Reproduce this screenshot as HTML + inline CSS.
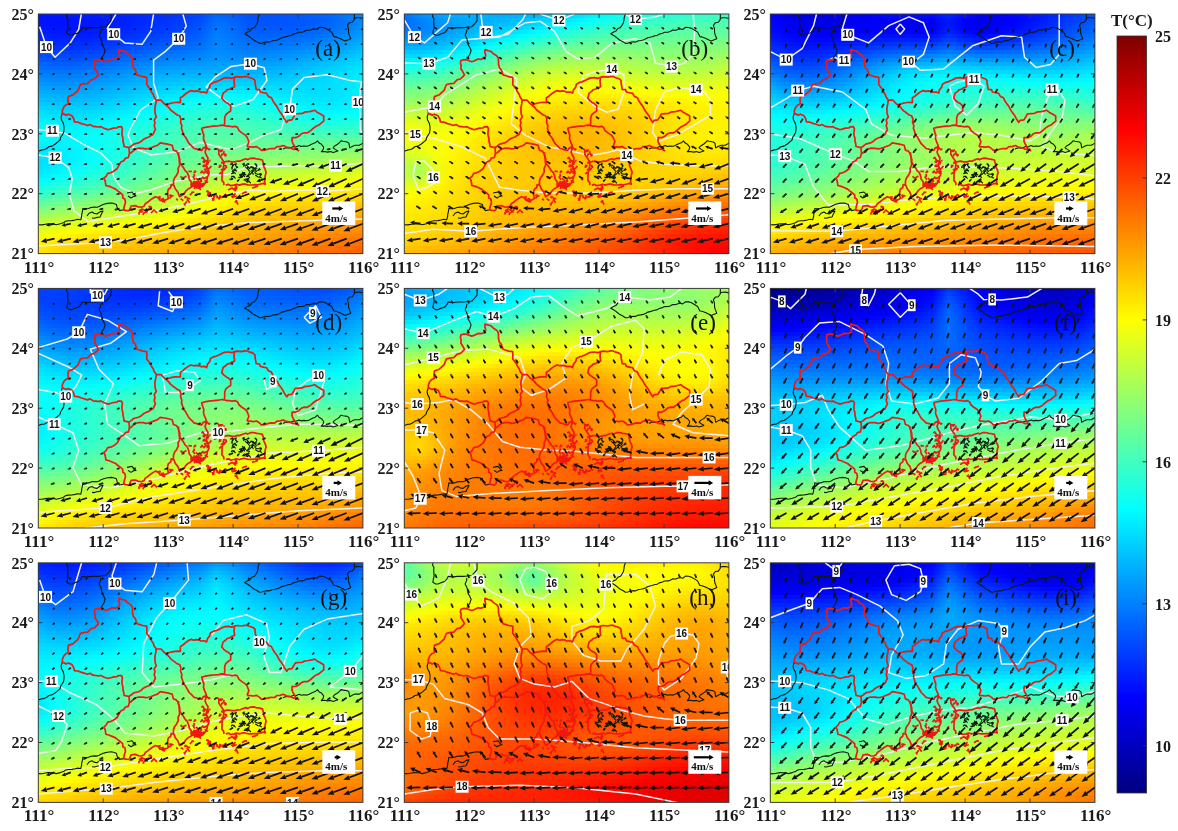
<!DOCTYPE html><html><head><meta charset="utf-8"><style>
html,body{margin:0;padding:0;background:#fff;}
body{width:1178px;height:831px;position:relative;overflow:hidden;filter:blur(0.4px);font-family:"Liberation Serif",serif;}
.p{position:absolute;width:324.6px;height:239.6px;overflow:hidden;}
.p i{position:absolute;left:0;width:100%;display:block;}
.t{position:absolute;font-weight:bold;font-size:16px;line-height:16px;color:#1a1a1a;white-space:nowrap;}
svg{position:absolute;left:0;top:0;}

</style></head><body>
<div class="p" style="left:38.3px;top:14.0px">
<i style="top:0px;height:5px;background:linear-gradient(90deg,#0013ff,#0014ff,#0017ff,#001aff,#001dff,#0021ff,#0026ff,#002cff,#0033ff,#003bff,#004aff,#0067ff,#005fff,#0052ff,#0052ff,#0054ff,#0058ff,#005dff,#0067ff,#0076ff,#008cff)"></i>
<i style="top:4px;height:5px;background:linear-gradient(90deg,#0013ff,#0012ff,#0013ff,#0016ff,#001aff,#001fff,#0025ff,#002cff,#0034ff,#003dff,#004dff,#006dff,#0063ff,#0054ff,#0053ff,#0054ff,#0056ff,#005bff,#0065ff,#0075ff,#008dff)"></i>
<i style="top:8px;height:5px;background:linear-gradient(90deg,#0015ff,#0012ff,#0012ff,#0015ff,#0019ff,#001fff,#0026ff,#002eff,#0037ff,#0040ff,#0051ff,#0072ff,#0067ff,#0057ff,#0055ff,#0055ff,#0057ff,#005dff,#0067ff,#0077ff,#0090ff)"></i>
<i style="top:12px;height:5px;background:linear-gradient(90deg,#0019ff,#0014ff,#0014ff,#0016ff,#001aff,#0021ff,#0029ff,#0032ff,#003bff,#0044ff,#0056ff,#0077ff,#006bff,#005aff,#0059ff,#0059ff,#005bff,#0060ff,#006aff,#007bff,#0094ff)"></i>
<i style="top:16px;height:5px;background:linear-gradient(90deg,#001eff,#0018ff,#0017ff,#0019ff,#001eff,#0025ff,#002eff,#0037ff,#0041ff,#004aff,#005bff,#007cff,#0070ff,#005eff,#005dff,#005eff,#0060ff,#0066ff,#0071ff,#0082ff,#009aff)"></i>
<i style="top:20px;height:5px;background:linear-gradient(90deg,#0024ff,#001dff,#001cff,#001eff,#0023ff,#002bff,#0035ff,#003eff,#0048ff,#0051ff,#0061ff,#0080ff,#0074ff,#0064ff,#0063ff,#0064ff,#0067ff,#006eff,#0079ff,#008aff,#00a2ff)"></i>
<i style="top:24px;height:5px;background:linear-gradient(90deg,#002bff,#0024ff,#0022ff,#0025ff,#002bff,#0033ff,#003dff,#0047ff,#0050ff,#0058ff,#0067ff,#0083ff,#0078ff,#0069ff,#0069ff,#006cff,#0070ff,#0077ff,#0082ff,#0093ff,#00aaff)"></i>
<i style="top:28px;height:5px;background:linear-gradient(90deg,#0033ff,#002bff,#002aff,#002dff,#0033ff,#003cff,#0046ff,#0050ff,#0059ff,#0061ff,#006dff,#0086ff,#007cff,#0070ff,#0071ff,#0074ff,#0079ff,#0081ff,#008dff,#009dff,#00b3ff)"></i>
<i style="top:32px;height:5px;background:linear-gradient(90deg,#003cff,#0034ff,#0033ff,#0036ff,#003dff,#0046ff,#0050ff,#005bff,#0063ff,#006aff,#0074ff,#008aff,#0081ff,#0077ff,#0079ff,#007dff,#0084ff,#008cff,#0098ff,#00a8ff,#00bcff)"></i>
<i style="top:36px;height:5px;background:linear-gradient(90deg,#0046ff,#003eff,#003cff,#0040ff,#0047ff,#0051ff,#005bff,#0066ff,#006eff,#0074ff,#007cff,#008dff,#0087ff,#007fff,#0082ff,#0087ff,#008eff,#0098ff,#00a4ff,#00b3ff,#00c5ff)"></i>
<i style="top:40px;height:5px;background:linear-gradient(90deg,#0050ff,#0048ff,#0047ff,#004bff,#0052ff,#005cff,#0067ff,#0071ff,#0079ff,#007eff,#0085ff,#0092ff,#008dff,#0087ff,#008bff,#0091ff,#0099ff,#00a3ff,#00afff,#00bdff,#00ceff)"></i>
<i style="top:44px;height:5px;background:linear-gradient(90deg,#005aff,#0053ff,#0052ff,#0056ff,#005eff,#0068ff,#0073ff,#007dff,#0084ff,#0089ff,#008eff,#0098ff,#0094ff,#0091ff,#0095ff,#009cff,#00a4ff,#00afff,#00baff,#00c8ff,#00d6ff)"></i>
<i style="top:48px;height:5px;background:linear-gradient(90deg,#0065ff,#005eff,#005dff,#0062ff,#006aff,#0074ff,#007fff,#0089ff,#0090ff,#0094ff,#0097ff,#009fff,#009cff,#009aff,#009fff,#00a6ff,#00afff,#00b9ff,#00c4ff,#00d1ff,#00deff)"></i>
<i style="top:52px;height:5px;background:linear-gradient(90deg,#0070ff,#0069ff,#0068ff,#006dff,#0075ff,#0080ff,#008aff,#0094ff,#009bff,#009fff,#00a2ff,#00a7ff,#00a5ff,#00a5ff,#00aaff,#00b0ff,#00b9ff,#00c3ff,#00cdff,#00d9ff,#00e5ff)"></i>
<i style="top:56px;height:5px;background:linear-gradient(90deg,#007aff,#0074ff,#0074ff,#0078ff,#0081ff,#008bff,#0096ff,#00a0ff,#00a7ff,#00abff,#00adff,#00b0ff,#00afff,#00b0ff,#00b4ff,#00baff,#00c2ff,#00cbff,#00d4ff,#00dfff,#00eaff)"></i>
<i style="top:60px;height:5px;background:linear-gradient(90deg,#0085ff,#007fff,#007eff,#0083ff,#008bff,#0096ff,#00a0ff,#00aaff,#00b2ff,#00b6ff,#00b8ff,#00bbff,#00bbff,#00bbff,#00beff,#00c3ff,#00c9ff,#00d1ff,#00d9ff,#00e3ff,#00eeff)"></i>
<i style="top:64px;height:5px;background:linear-gradient(90deg,#008fff,#0089ff,#0089ff,#008dff,#0096ff,#00a0ff,#00abff,#00b5ff,#00bdff,#00c2ff,#00c4ff,#00c7ff,#00c7ff,#00c7ff,#00c9ff,#00ccff,#00d0ff,#00d5ff,#00dcff,#00e5ff,#00f0ff)"></i>
<i style="top:68px;height:5px;background:linear-gradient(90deg,#009aff,#0093ff,#0093ff,#0097ff,#009fff,#00a9ff,#00b4ff,#00beff,#00c7ff,#00cdff,#00d1ff,#00d3ff,#00d3ff,#00d3ff,#00d3ff,#00d4ff,#00d6ff,#00d9ff,#00deff,#00e6ff,#00f1ff)"></i>
<i style="top:72px;height:5px;background:linear-gradient(90deg,#00a4ff,#009dff,#009dff,#00a1ff,#00a8ff,#00b2ff,#00bdff,#00c8ff,#00d1ff,#00d8ff,#00ddff,#00e0ff,#00e1ff,#00dfff,#00ddff,#00dcff,#00dbff,#00dcff,#00dfff,#00e6ff,#00f2ff)"></i>
<i style="top:76px;height:5px;background:linear-gradient(90deg,#00aeff,#00a7ff,#00a6ff,#00aaff,#00b1ff,#00bbff,#00c6ff,#00d1ff,#00dbff,#00e4ff,#00eaff,#00edff,#00eeff,#00ebff,#00e8ff,#00e3ff,#00e0ff,#00deff,#00e0ff,#00e6ff,#00f2ff)"></i>
<i style="top:80px;height:5px;background:linear-gradient(90deg,#00b8ff,#00b1ff,#00b0ff,#00b3ff,#00baff,#00c4ff,#00cfff,#00daff,#00e5ff,#00efff,#00f6ff,#00faff,#00faff,#00f7ff,#00f2ff,#00ebff,#00e5ff,#00e2ff,#00e2ff,#00e7ff,#00f3ff)"></i>
<i style="top:84px;height:5px;background:linear-gradient(90deg,#00c2ff,#00bbff,#00b9ff,#00bcff,#00c3ff,#00cdff,#00d8ff,#00e4ff,#00efff,#00f9ff,#02fffd,#07fff8,#08fff7,#04fffb,#00fcff,#00f3ff,#00ebff,#00e6ff,#00e4ff,#00e9ff,#00f5ff)"></i>
<i style="top:88px;height:5px;background:linear-gradient(90deg,#00ccff,#00c5ff,#00c3ff,#00c6ff,#00ccff,#00d6ff,#00e1ff,#00edff,#00f9ff,#05fffa,#0efff1,#13ffec,#14ffeb,#0ffff0,#07fff8,#00fcff,#00f3ff,#00ebff,#00e9ff,#00edff,#00f9ff)"></i>
<i style="top:92px;height:5px;background:linear-gradient(90deg,#00d7ff,#00cfff,#00cdff,#00cfff,#00d6ff,#00dfff,#00eaff,#00f7ff,#04fffb,#0ffff0,#18ffe7,#1effe1,#1effe1,#1affe5,#11ffee,#06fff9,#00fbff,#00f3ff,#00efff,#00f2ff,#00feff)"></i>
<i style="top:96px;height:5px;background:linear-gradient(90deg,#00e1ff,#00d8ff,#00d6ff,#00d8ff,#00dfff,#00e8ff,#00f4ff,#01fffe,#0efff1,#19ffe6,#22ffdd,#28ffd7,#28ffd7,#24ffdb,#1bffe4,#10ffef,#06fff9,#00fcff,#00f8ff,#00faff,#06fff9)"></i>
<i style="top:100px;height:5px;background:linear-gradient(90deg,#00eaff,#00e1ff,#00dfff,#00e1ff,#00e8ff,#00f2ff,#00fdff,#0bfff4,#17ffe8,#22ffdd,#2bffd4,#31ffce,#31ffce,#2dffd2,#25ffda,#1affe5,#10ffef,#08fff7,#04fffb,#05fffa,#0ffff0)"></i>
<i style="top:104px;height:5px;background:linear-gradient(90deg,#00f2ff,#00e9ff,#00e7ff,#00e9ff,#00f0ff,#00faff,#07fff8,#14ffeb,#20ffdf,#2bffd4,#34ffcb,#39ffc6,#3affc5,#36ffc9,#2effd1,#25ffda,#1cffe3,#14ffeb,#10ffef,#11ffee,#19ffe6)"></i>
<i style="top:108px;height:5px;background:linear-gradient(90deg,#00f9ff,#00f0ff,#00eeff,#00f1ff,#00f8ff,#03fffc,#0ffff0,#1cffe3,#29ffd6,#33ffcc,#3cffc3,#41ffbe,#42ffbd,#3effc1,#38ffc7,#30ffcf,#28ffd7,#21ffde,#1dffe2,#1effe1,#25ffda)"></i>
<i style="top:112px;height:5px;background:linear-gradient(90deg,#00fdff,#00f5ff,#00f3ff,#00f7ff,#00feff,#0afff5,#17ffe8,#24ffdb,#30ffcf,#3bffc4,#43ffbc,#48ffb7,#49ffb6,#47ffb8,#41ffbe,#3bffc4,#34ffcb,#2effd1,#2bffd4,#2cffd3,#32ffcd)"></i>
<i style="top:116px;height:5px;background:linear-gradient(90deg,#00ffff,#00f7ff,#00f7ff,#00fbff,#05fffa,#10ffef,#1dffe2,#2affd5,#37ffc8,#41ffbe,#49ffb6,#4effb1,#50ffaf,#4fffb0,#4bffb4,#46ffb9,#40ffbf,#3cffc3,#3affc5,#3bffc4,#40ffbf)"></i>
<i style="top:120px;height:5px;background:linear-gradient(90deg,#00feff,#00f8ff,#00f8ff,#00feff,#08fff7,#14ffeb,#22ffdd,#30ffcf,#3cffc3,#47ffb8,#4fffb0,#54ffab,#56ffa9,#56ffa9,#54ffab,#51ffae,#4dffb2,#4affb5,#49ffb6,#4affb5,#4effb1)"></i>
<i style="top:124px;height:5px;background:linear-gradient(90deg,#00fbff,#00f6ff,#00f8ff,#00ffff,#0afff5,#17ffe8,#25ffda,#34ffcb,#41ffbe,#4bffb4,#54ffab,#59ffa6,#5dffa2,#5effa1,#5dffa2,#5bffa4,#59ffa6,#58ffa7,#58ffa7,#5affa5,#5effa1)"></i>
<i style="top:128px;height:5px;background:linear-gradient(90deg,#00f5ff,#00f3ff,#00f6ff,#00feff,#0bfff4,#19ffe6,#28ffd7,#37ffc8,#45ffba,#50ffaf,#58ffa7,#5fffa0,#63ff9c,#65ff9a,#66ff99,#66ff99,#66ff99,#66ff99,#67ff98,#6aff95,#6eff91)"></i>
<i style="top:132px;height:5px;background:linear-gradient(90deg,#00efff,#00efff,#00f4ff,#00feff,#0cfff3,#1bffe4,#2affd5,#3affc5,#48ffb7,#54ffab,#5dffa2,#65ff9a,#6aff95,#6dff92,#70ff8f,#71ff8e,#72ff8d,#74ff8b,#76ff89,#7aff85,#7fff80)"></i>
<i style="top:136px;height:5px;background:linear-gradient(90deg,#00e9ff,#00ebff,#00f2ff,#00fdff,#0cfff3,#1cffe3,#2dffd2,#3dffc2,#4cffb3,#58ffa7,#62ff9d,#6bff94,#71ff8e,#76ff89,#7aff85,#7cff83,#7fff80,#82ff7d,#85ff7a,#8aff75,#90ff6f)"></i>
<i style="top:140px;height:5px;background:linear-gradient(90deg,#00e4ff,#00e8ff,#00f1ff,#00feff,#0dfff2,#1effe1,#2fffd0,#40ffbf,#4fffb0,#5dffa2,#68ff97,#72ff8d,#79ff86,#7fff80,#84ff7b,#88ff77,#8cff73,#90ff6f,#94ff6b,#9aff65,#a0ff5f)"></i>
<i style="top:144px;height:5px;background:linear-gradient(90deg,#00e0ff,#00e7ff,#00f1ff,#00ffff,#10ffef,#21ffde,#32ffcd,#44ffbb,#54ffab,#62ff9d,#6fff90,#7aff85,#82ff7d,#8aff75,#8fff70,#94ff6b,#99ff66,#9eff61,#a3ff5c,#a9ff56,#b1ff4e)"></i>
<i style="top:148px;height:5px;background:linear-gradient(90deg,#00dfff,#00e8ff,#00f4ff,#03fffc,#13ffec,#25ffda,#37ffc8,#49ffb6,#5affa5,#69ff96,#77ff88,#83ff7c,#8dff72,#95ff6a,#9cff63,#a1ff5e,#a7ff58,#acff53,#b1ff4e,#b8ff47,#c0ff3f)"></i>
<i style="top:152px;height:5px;background:linear-gradient(90deg,#00e1ff,#00ecff,#00f9ff,#09fff6,#19ffe6,#2bffd4,#3dffc2,#4fffb0,#61ff9e,#71ff8e,#80ff7f,#8eff71,#99ff66,#a2ff5d,#a9ff56,#afff50,#b4ff4b,#baff45,#c0ff3f,#c6ff39,#cfff30)"></i>
<i style="top:156px;height:5px;background:linear-gradient(90deg,#00e6ff,#00f2ff,#01fffe,#10ffef,#21ffde,#32ffcd,#44ffbb,#57ffa8,#69ff96,#7aff85,#8bff74,#9aff65,#a6ff59,#b0ff4f,#b7ff48,#bdff42,#c3ff3c,#c8ff37,#cdff32,#d4ff2b,#ddff22)"></i>
<i style="top:160px;height:5px;background:linear-gradient(90deg,#00eeff,#00fbff,#0afff5,#1affe5,#2affd5,#3bffc4,#4dffb2,#5fffa0,#72ff8d,#85ff7a,#96ff69,#a7ff58,#b4ff4b,#beff41,#c6ff39,#ccff33,#d1ff2e,#d5ff2a,#dbff24,#e2ff1d,#ebff14)"></i>
<i style="top:164px;height:5px;background:linear-gradient(90deg,#00f9ff,#08fff7,#16ffe9,#25ffda,#35ffca,#46ffb9,#57ffa8,#6aff95,#7cff83,#90ff6f,#a3ff5c,#b4ff4b,#c3ff3c,#cdff32,#d5ff2a,#dbff24,#dfff20,#e3ff1c,#e8ff17,#eeff11,#f7ff08)"></i>
<i style="top:168px;height:5px;background:linear-gradient(90deg,#06fff9,#15ffea,#24ffdb,#32ffcd,#42ffbd,#52ffad,#63ff9c,#75ff8a,#88ff77,#9cff63,#b0ff4f,#c2ff3d,#d1ff2e,#dcff23,#e4ff1b,#e9ff16,#edff12,#f0ff0f,#f4ff0b,#fbff04,#fffa00)"></i>
<i style="top:172px;height:5px;background:linear-gradient(90deg,#15ffea,#24ffdb,#33ffcc,#41ffbe,#50ffaf,#5fffa0,#6fff90,#81ff7e,#94ff6b,#a8ff57,#bdff42,#d0ff2f,#dfff20,#eaff15,#f2ff0d,#f7ff08,#faff05,#fdff02,#fffd00,#fff800,#ffef00)"></i>
<i style="top:176px;height:5px;background:linear-gradient(90deg,#25ffda,#35ffca,#43ffbc,#51ffae,#5fffa0,#6eff91,#7dff82,#8eff71,#a0ff5f,#b5ff4a,#c9ff36,#ddff22,#edff12,#f8ff07,#ffff00,#fffa00,#fff700,#fff500,#fff200,#ffec00,#ffe400)"></i>
<i style="top:180px;height:5px;background:linear-gradient(90deg,#37ffc8,#47ffb8,#55ffaa,#62ff9d,#70ff8f,#7dff82,#8cff73,#9bff64,#adff52,#c1ff3e,#d6ff29,#e9ff16,#f9ff06,#fffa00,#fff200,#ffee00,#ffec00,#ffe900,#ffe600,#ffe100,#ffd900)"></i>
<i style="top:184px;height:5px;background:linear-gradient(90deg,#4affb5,#59ffa6,#67ff98,#74ff8b,#81ff7e,#8eff71,#9bff64,#aaff55,#bbff44,#ceff31,#e2ff1d,#f5ff0a,#fff900,#ffee00,#ffe700,#ffe300,#ffe100,#ffde00,#ffdc00,#ffd700,#ffcf00)"></i>
<i style="top:188px;height:5px;background:linear-gradient(90deg,#5dffa2,#6dff92,#7bff84,#87ff78,#93ff6c,#9fff60,#abff54,#b9ff46,#c9ff36,#dbff24,#eeff11,#fffe00,#ffef00,#ffe400,#ffdd00,#ffd900,#ffd600,#ffd400,#ffd100,#ffcd00,#ffc500)"></i>
<i style="top:192px;height:5px;background:linear-gradient(90deg,#72ff8d,#81ff7e,#8eff71,#9aff65,#a5ff5a,#b0ff4f,#bbff44,#c8ff37,#d7ff28,#e8ff17,#f9ff06,#fff400,#ffe500,#ffdb00,#ffd400,#ffd000,#ffcd00,#ffca00,#ffc700,#ffc300,#ffbc00)"></i>
<i style="top:196px;height:5px;background:linear-gradient(90deg,#86ff79,#95ff6a,#a2ff5d,#aeff51,#b8ff47,#c2ff3d,#ccff33,#d7ff28,#e5ff1a,#f4ff0b,#fffa00,#ffea00,#ffdc00,#ffd300,#ffcc00,#ffc700,#ffc400,#ffc100,#ffbe00,#ffb900,#ffb200)"></i>
<i style="top:200px;height:5px;background:linear-gradient(90deg,#9aff65,#a9ff56,#b6ff49,#c1ff3e,#caff35,#d3ff2c,#dcff23,#e7ff18,#f2ff0d,#fffe00,#ffef00,#ffe100,#ffd400,#ffcb00,#ffc400,#ffbf00,#ffbb00,#ffb800,#ffb400,#ffb000,#ffaa00)"></i>
<i style="top:204px;height:5px;background:linear-gradient(90deg,#aeff51,#bdff42,#c9ff36,#d3ff2c,#dcff23,#e4ff1b,#ecff13,#f5ff0a,#fffe00,#fff200,#ffe500,#ffd800,#ffcc00,#ffc300,#ffbd00,#ffb700,#ffb300,#ffaf00,#ffab00,#ffa700,#ffa100)"></i>
<i style="top:208px;height:5px;background:linear-gradient(90deg,#c1ff3e,#d0ff2f,#dbff24,#e5ff1a,#edff12,#f5ff0a,#fcff03,#fffa00,#fff100,#ffe600,#ffdb00,#ffcf00,#ffc500,#ffbc00,#ffb600,#ffb000,#ffab00,#ffa700,#ffa300,#ff9e00,#ff9800)"></i>
<i style="top:212px;height:5px;background:linear-gradient(90deg,#d3ff2c,#e1ff1e,#edff12,#f6ff09,#feff01,#fffa00,#fff300,#ffec00,#ffe500,#ffdb00,#ffd100,#ffc700,#ffbe00,#ffb600,#ffaf00,#ffa900,#ffa400,#ff9f00,#ff9a00,#ff9500,#ff9000)"></i>
<i style="top:216px;height:5px;background:linear-gradient(90deg,#e3ff1c,#f2ff0d,#fdff02,#fff800,#fff100,#ffeb00,#ffe500,#ffe000,#ffd900,#ffd100,#ffc800,#ffbf00,#ffb700,#ffaf00,#ffa800,#ffa200,#ff9c00,#ff9700,#ff9200,#ff8d00,#ff8700)"></i>
<i style="top:220px;height:5px;background:linear-gradient(90deg,#f2ff0d,#fffe00,#fff300,#ffea00,#ffe300,#ffde00,#ffd900,#ffd400,#ffce00,#ffc700,#ffbf00,#ffb700,#ffaf00,#ffa800,#ffa100,#ff9b00,#ff9500,#ff8f00,#ff8a00,#ff8400,#ff7f00)"></i>
<i style="top:224px;height:5px;background:linear-gradient(90deg,#ffff00,#fff100,#ffe600,#ffde00,#ffd700,#ffd200,#ffce00,#ffc900,#ffc400,#ffbe00,#ffb700,#ffb000,#ffa800,#ffa100,#ff9a00,#ff9400,#ff8e00,#ff8800,#ff8200,#ff7c00,#ff7700)"></i>
<i style="top:228px;height:5px;background:linear-gradient(90deg,#fff400,#ffe600,#ffdc00,#ffd400,#ffcd00,#ffc900,#ffc400,#ffc000,#ffbc00,#ffb600,#ffaf00,#ffa800,#ffa100,#ff9a00,#ff9300,#ff8c00,#ff8600,#ff8000,#ff7a00,#ff7400,#ff6e00)"></i>
<i style="top:232px;height:5px;background:linear-gradient(90deg,#ffec00,#ffde00,#ffd400,#ffcc00,#ffc600,#ffc100,#ffbd00,#ffb900,#ffb400,#ffae00,#ffa700,#ffa000,#ff9800,#ff9100,#ff8b00,#ff8400,#ff7e00,#ff7800,#ff7200,#ff6c00,#ff6600)"></i>
<i style="top:236px;height:5px;background:linear-gradient(90deg,#ffe700,#ffd900,#ffce00,#ffc600,#ffc100,#ffbc00,#ffb800,#ffb300,#ffae00,#ffa700,#ffa000,#ff9800,#ff9000,#ff8900,#ff8200,#ff7c00,#ff7600,#ff7000,#ff6a00,#ff6400,#ff5d00)"></i>
</div>
<div class="p" style="left:404.3px;top:14.0px">
<i style="top:0px;height:5px;background:linear-gradient(90deg,#006fff,#008cff,#009fff,#00aaff,#00aeff,#00b0ff,#00b0ff,#00b2ff,#00b8ff,#00c5ff,#00d6ff,#00e8ff,#00f9ff,#09fff6,#15ffea,#1fffe0,#27ffd8,#2effd1,#34ffcb,#3bffc4,#42ffbd)"></i>
<i style="top:4px;height:5px;background:linear-gradient(90deg,#006aff,#0083ff,#0095ff,#00a1ff,#00aaff,#00afff,#00b5ff,#00bcff,#00c6ff,#00d4ff,#00e5ff,#00f7ff,#09fff6,#17ffe8,#23ffdc,#2cffd3,#33ffcc,#39ffc6,#3fffc0,#43ffbc,#48ffb7)"></i>
<i style="top:8px;height:5px;background:linear-gradient(90deg,#006aff,#007fff,#0090ff,#009eff,#00a9ff,#00b3ff,#00bdff,#00c8ff,#00d5ff,#00e5ff,#00f6ff,#08fff7,#18ffe7,#26ffd9,#30ffcf,#39ffc6,#3fffc0,#44ffbb,#49ffb6,#4cffb3,#50ffaf)"></i>
<i style="top:12px;height:5px;background:linear-gradient(90deg,#006eff,#0080ff,#0090ff,#009fff,#00adff,#00baff,#00c8ff,#00d6ff,#00e6ff,#00f6ff,#08fff7,#19ffe6,#28ffd7,#34ffcb,#3dffc2,#45ffba,#4affb5,#4fffb0,#52ffad,#55ffaa,#58ffa7)"></i>
<i style="top:16px;height:5px;background:linear-gradient(90deg,#0076ff,#0085ff,#0094ff,#00a3ff,#00b3ff,#00c4ff,#00d5ff,#00e6ff,#00f7ff,#0afff5,#1bffe4,#2affd5,#37ffc8,#42ffbd,#4affb5,#50ffaf,#55ffaa,#59ffa6,#5cffa3,#5effa1,#61ff9e)"></i>
<i style="top:20px;height:5px;background:linear-gradient(90deg,#0081ff,#008dff,#009bff,#00abff,#00bdff,#00d1ff,#00e4ff,#00f8ff,#0bfff4,#1dffe2,#2dffd2,#3bffc4,#47ffb8,#50ffaf,#57ffa8,#5cffa3,#5fffa0,#62ff9d,#65ff9a,#67ff98,#6aff95)"></i>
<i style="top:24px;height:5px;background:linear-gradient(90deg,#008fff,#0098ff,#00a6ff,#00b7ff,#00caff,#00dfff,#00f5ff,#0bfff4,#1fffe0,#31ffce,#40ffbf,#4dffb2,#57ffa8,#5effa1,#63ff9c,#67ff98,#69ff96,#6bff94,#6eff91,#71ff8e,#75ff8a)"></i>
<i style="top:28px;height:5px;background:linear-gradient(90deg,#00a0ff,#00a6ff,#00b3ff,#00c4ff,#00d9ff,#00f0ff,#08fff7,#1fffe0,#33ffcc,#45ffba,#53ffac,#5effa1,#66ff99,#6cff93,#6fff90,#71ff8e,#73ff8c,#74ff8b,#77ff88,#7aff85,#80ff7f)"></i>
<i style="top:32px;height:5px;background:linear-gradient(90deg,#00b2ff,#00b6ff,#00c2ff,#00d4ff,#00eaff,#03fffc,#1bffe4,#33ffcc,#48ffb7,#59ffa6,#66ff99,#6fff90,#76ff89,#7aff85,#7bff84,#7cff83,#7cff83,#7dff82,#7fff80,#84ff7b,#8bff74)"></i>
<i style="top:36px;height:5px;background:linear-gradient(90deg,#00c5ff,#00c8ff,#00d4ff,#00e6ff,#00fcff,#15ffea,#2fffd0,#47ffb8,#5cffa3,#6cff93,#78ff87,#80ff7f,#85ff7a,#87ff78,#87ff78,#87ff78,#86ff79,#86ff79,#88ff77,#8dff72,#96ff69)"></i>
<i style="top:40px;height:5px;background:linear-gradient(90deg,#00d9ff,#00dbff,#00e6ff,#00f8ff,#10ffef,#29ffd6,#43ffbc,#5bffa4,#70ff8f,#80ff7f,#8bff74,#91ff6e,#94ff6b,#95ff6a,#93ff6c,#91ff6e,#90ff6f,#8fff70,#92ff6d,#97ff68,#a2ff5d)"></i>
<i style="top:44px;height:5px;background:linear-gradient(90deg,#00eeff,#00efff,#00faff,#0dfff2,#23ffdc,#3dffc2,#57ffa8,#6fff90,#84ff7b,#92ff6d,#9cff63,#a1ff5e,#a3ff5c,#a2ff5d,#9fff60,#9cff63,#9aff65,#99ff66,#9bff64,#a1ff5e,#adff52)"></i>
<i style="top:48px;height:5px;background:linear-gradient(90deg,#04fffb,#04fffb,#0ffff0,#21ffde,#37ffc8,#51ffae,#6aff95,#82ff7d,#96ff69,#a4ff5b,#adff52,#b1ff4e,#b1ff4e,#afff50,#abff54,#a7ff58,#a4ff5b,#a3ff5c,#a5ff5a,#acff53,#b8ff47)"></i>
<i style="top:52px;height:5px;background:linear-gradient(90deg,#18ffe7,#18ffe7,#23ffdc,#34ffcb,#4bffb4,#64ff9b,#7dff82,#95ff6a,#a8ff57,#b5ff4a,#bdff42,#c0ff3f,#bfff40,#bcff43,#b7ff48,#b2ff4d,#aeff51,#adff52,#afff50,#b6ff49,#c3ff3c)"></i>
<i style="top:56px;height:5px;background:linear-gradient(90deg,#2bffd4,#2cffd3,#36ffc9,#47ffb8,#5dffa2,#76ff89,#8fff70,#a6ff59,#b8ff47,#c5ff3a,#cbff34,#ceff31,#ccff33,#c8ff37,#c3ff3c,#beff41,#baff45,#b8ff47,#baff45,#c1ff3e,#ceff31)"></i>
<i style="top:60px;height:5px;background:linear-gradient(90deg,#3cffc3,#3effc1,#48ffb7,#59ffa6,#6fff90,#87ff78,#9fff60,#b5ff4a,#c7ff38,#d2ff2d,#d9ff26,#dbff24,#d9ff26,#d5ff2a,#cfff30,#caff35,#c6ff39,#c4ff3b,#c5ff3a,#cbff34,#d7ff28)"></i>
<i style="top:64px;height:5px;background:linear-gradient(90deg,#4cffb3,#4effb1,#59ffa6,#6aff95,#80ff7f,#97ff68,#aeff51,#c3ff3c,#d4ff2b,#dfff20,#e5ff1a,#e6ff19,#e5ff1a,#e1ff1e,#dcff23,#d6ff29,#d2ff2d,#d0ff2f,#d1ff2e,#d6ff29,#e1ff1e)"></i>
<i style="top:68px;height:5px;background:linear-gradient(90deg,#5affa5,#5effa1,#69ff96,#7aff85,#8fff70,#a5ff5a,#bbff44,#cfff30,#dfff20,#eaff15,#f0ff0f,#f1ff0e,#f0ff0f,#edff12,#e8ff17,#e3ff1c,#dfff20,#dcff23,#dcff23,#e0ff1f,#e9ff16)"></i>
<i style="top:72px;height:5px;background:linear-gradient(90deg,#68ff97,#6dff92,#79ff86,#89ff76,#9dff62,#b2ff4d,#c7ff38,#daff25,#eaff15,#f4ff0b,#faff05,#fcff03,#fbff04,#f8ff07,#f4ff0b,#efff10,#ebff14,#e8ff17,#e8ff17,#eaff15,#f1ff0e)"></i>
<i style="top:76px;height:5px;background:linear-gradient(90deg,#76ff89,#7bff84,#87ff78,#97ff68,#aaff55,#beff41,#d2ff2d,#e5ff1a,#f3ff0c,#fdff02,#fffb00,#fff900,#fff900,#fffc00,#ffff00,#fbff04,#f7ff08,#f4ff0b,#f2ff0d,#f3ff0c,#f7ff08)"></i>
<i style="top:80px;height:5px;background:linear-gradient(90deg,#83ff7c,#89ff76,#95ff6a,#a4ff5b,#b6ff49,#caff35,#ddff22,#eeff11,#fcff03,#fff800,#fff200,#fff000,#fff000,#fff200,#fff500,#fff900,#fffd00,#feff01,#fcff03,#fbff04,#fdff02)"></i>
<i style="top:84px;height:5px;background:linear-gradient(90deg,#91ff6e,#97ff68,#a2ff5d,#b1ff4e,#c2ff3d,#d4ff2b,#e6ff19,#f7ff08,#fffa00,#fff000,#ffea00,#ffe700,#ffe700,#ffe900,#ffeb00,#ffef00,#fff300,#fff700,#fffa00,#fffc00,#fffc00)"></i>
<i style="top:88px;height:5px;background:linear-gradient(90deg,#a0ff5f,#a5ff5a,#afff50,#bcff43,#ccff33,#deff21,#efff10,#ffff00,#fff200,#ffe800,#ffe200,#ffdf00,#ffdf00,#ffe000,#ffe300,#ffe700,#ffec00,#fff000,#fff400,#fff700,#fff900)"></i>
<i style="top:92px;height:5px;background:linear-gradient(90deg,#b0ff4f,#b3ff4c,#bbff44,#c7ff38,#d6ff29,#e7ff18,#f7ff08,#fff700,#ffea00,#ffe100,#ffdb00,#ffd800,#ffd700,#ffd900,#ffdc00,#ffe100,#ffe600,#ffeb00,#fff000,#fff400,#fff600)"></i>
<i style="top:96px;height:5px;background:linear-gradient(90deg,#bfff40,#c0ff3f,#c7ff38,#d2ff2d,#e0ff1f,#efff10,#ffff00,#fff000,#ffe300,#ffd900,#ffd300,#ffd000,#ffd000,#ffd200,#ffd700,#ffdc00,#ffe200,#ffe900,#ffee00,#fff200,#fff400)"></i>
<i style="top:100px;height:5px;background:linear-gradient(90deg,#cfff30,#cdff32,#d2ff2d,#dcff23,#e8ff17,#f7ff08,#fff700,#ffe900,#ffdc00,#ffd200,#ffcc00,#ffca00,#ffca00,#ffcd00,#ffd200,#ffd900,#ffe000,#ffe700,#ffed00,#fff200,#fff400)"></i>
<i style="top:104px;height:5px;background:linear-gradient(90deg,#ddff22,#d9ff26,#dcff23,#e4ff1b,#f0ff0f,#feff01,#fff100,#ffe200,#ffd500,#ffcc00,#ffc600,#ffc300,#ffc400,#ffc800,#ffcf00,#ffd700,#ffdf00,#ffe700,#ffee00,#fff200,#fff300)"></i>
<i style="top:108px;height:5px;background:linear-gradient(90deg,#e9ff16,#e4ff1b,#e5ff1a,#ecff13,#f7ff08,#fff900,#ffea00,#ffdc00,#ffd000,#ffc600,#ffc100,#ffbe00,#ffc000,#ffc500,#ffcc00,#ffd500,#ffdf00,#ffe700,#ffef00,#fff300,#fff300)"></i>
<i style="top:112px;height:5px;background:linear-gradient(90deg,#f2ff0d,#ecff13,#edff12,#f3ff0c,#feff01,#fff300,#ffe500,#ffd700,#ffcb00,#ffc200,#ffbc00,#ffba00,#ffbc00,#ffc200,#ffca00,#ffd400,#ffdf00,#ffe800,#fff000,#fff400,#fff300)"></i>
<i style="top:116px;height:5px;background:linear-gradient(90deg,#f8ff07,#f2ff0d,#f3ff0c,#f9ff06,#fffb00,#ffee00,#ffe000,#ffd300,#ffc700,#ffbe00,#ffb900,#ffb700,#ffba00,#ffc000,#ffc900,#ffd400,#ffdf00,#ffe900,#fff000,#fff400,#fff300)"></i>
<i style="top:120px;height:5px;background:linear-gradient(90deg,#f9ff06,#f5ff0a,#f7ff08,#fdff02,#fff600,#ffea00,#ffdc00,#ffcf00,#ffc400,#ffbc00,#ffb700,#ffb600,#ffb800,#ffbf00,#ffc900,#ffd400,#ffdf00,#ffe900,#fff100,#fff400,#fff200)"></i>
<i style="top:124px;height:5px;background:linear-gradient(90deg,#f5ff0a,#f5ff0a,#f9ff06,#fffd00,#fff200,#ffe600,#ffd900,#ffcd00,#ffc300,#ffbb00,#ffb600,#ffb500,#ffb800,#ffbf00,#ffc900,#ffd400,#ffdf00,#ffe900,#fff000,#fff300,#fff000)"></i>
<i style="top:128px;height:5px;background:linear-gradient(90deg,#efff10,#f2ff0d,#faff05,#fffb00,#ffef00,#ffe300,#ffd700,#ffcc00,#ffc200,#ffbb00,#ffb700,#ffb600,#ffb900,#ffc000,#ffc900,#ffd400,#ffde00,#ffe800,#ffee00,#fff100,#ffee00)"></i>
<i style="top:132px;height:5px;background:linear-gradient(90deg,#e7ff18,#eeff11,#f9ff06,#fff900,#ffed00,#ffe100,#ffd500,#ffcb00,#ffc200,#ffbc00,#ffb800,#ffb800,#ffbb00,#ffc100,#ffca00,#ffd400,#ffde00,#ffe600,#ffec00,#ffee00,#ffeb00)"></i>
<i style="top:136px;height:5px;background:linear-gradient(90deg,#ddff22,#e7ff18,#f8ff07,#fff800,#ffeb00,#ffdf00,#ffd400,#ffca00,#ffc300,#ffbd00,#ffba00,#ffba00,#ffbd00,#ffc300,#ffcb00,#ffd400,#ffdd00,#ffe400,#ffe900,#ffeb00,#ffe800)"></i>
<i style="top:140px;height:5px;background:linear-gradient(90deg,#d3ff2c,#ddff22,#f6ff09,#fff600,#ffe900,#ffdd00,#ffd200,#ffca00,#ffc300,#ffbf00,#ffbd00,#ffbd00,#ffc000,#ffc500,#ffcc00,#ffd400,#ffdb00,#ffe200,#ffe600,#ffe700,#ffe300)"></i>
<i style="top:144px;height:5px;background:linear-gradient(90deg,#caff35,#ceff31,#f2ff0d,#fff500,#ffe700,#ffdb00,#ffd200,#ffca00,#ffc500,#ffc100,#ffbf00,#ffc000,#ffc300,#ffc700,#ffcd00,#ffd400,#ffda00,#ffdf00,#ffe200,#ffe200,#ffde00)"></i>
<i style="top:148px;height:5px;background:linear-gradient(90deg,#c2ff3d,#bcff43,#efff10,#fff400,#ffe500,#ffda00,#ffd100,#ffca00,#ffc600,#ffc300,#ffc200,#ffc300,#ffc600,#ffca00,#ffcf00,#ffd400,#ffd900,#ffdc00,#ffde00,#ffdd00,#ffd800)"></i>
<i style="top:152px;height:5px;background:linear-gradient(90deg,#beff41,#aeff51,#edff12,#fff200,#ffe400,#ffd800,#ffd000,#ffca00,#ffc700,#ffc500,#ffc500,#ffc600,#ffc900,#ffcc00,#ffd000,#ffd400,#ffd700,#ffd900,#ffd900,#ffd700,#ffd200)"></i>
<i style="top:156px;height:5px;background:linear-gradient(90deg,#bfff40,#a8ff57,#edff12,#fff000,#ffe200,#ffd700,#ffcf00,#ffca00,#ffc700,#ffc700,#ffc700,#ffc900,#ffcc00,#ffcf00,#ffd200,#ffd400,#ffd500,#ffd500,#ffd400,#ffd000,#ffca00)"></i>
<i style="top:160px;height:5px;background:linear-gradient(90deg,#c6ff39,#b1ff4e,#f1ff0e,#ffed00,#ffe000,#ffd600,#ffcf00,#ffca00,#ffc800,#ffc800,#ffc900,#ffcc00,#ffce00,#ffd100,#ffd200,#ffd300,#ffd300,#ffd100,#ffce00,#ffc900,#ffc100)"></i>
<i style="top:164px;height:5px;background:linear-gradient(90deg,#d0ff2f,#c4ff3b,#f9ff06,#ffeb00,#ffde00,#ffd500,#ffce00,#ffca00,#ffc800,#ffc900,#ffcb00,#ffcd00,#ffd000,#ffd200,#ffd200,#ffd100,#ffcf00,#ffcc00,#ffc700,#ffc000,#ffb800)"></i>
<i style="top:168px;height:5px;background:linear-gradient(90deg,#ddff22,#daff25,#fffd00,#ffe800,#ffdc00,#ffd400,#ffcd00,#ffc900,#ffc800,#ffc900,#ffcb00,#ffce00,#ffd000,#ffd100,#ffd100,#ffce00,#ffcb00,#ffc500,#ffbf00,#ffb700,#ffae00)"></i>
<i style="top:172px;height:5px;background:linear-gradient(90deg,#e9ff16,#eeff11,#fff600,#ffe600,#ffdb00,#ffd200,#ffcc00,#ffc800,#ffc700,#ffc800,#ffcb00,#ffce00,#ffd000,#ffd000,#ffce00,#ffca00,#ffc500,#ffbe00,#ffb600,#ffad00,#ffa300)"></i>
<i style="top:176px;height:5px;background:linear-gradient(90deg,#f4ff0b,#fdff02,#fff000,#ffe300,#ffd900,#ffd100,#ffcb00,#ffc800,#ffc600,#ffc700,#ffca00,#ffcc00,#ffcd00,#ffcc00,#ffc900,#ffc400,#ffbd00,#ffb500,#ffab00,#ffa200,#ff9800)"></i>
<i style="top:180px;height:5px;background:linear-gradient(90deg,#fcff03,#fff800,#ffec00,#ffe100,#ffd800,#ffd000,#ffca00,#ffc600,#ffc500,#ffc500,#ffc700,#ffc900,#ffc900,#ffc700,#ffc200,#ffbb00,#ffb300,#ffaa00,#ffa000,#ff9500,#ff8c00)"></i>
<i style="top:184px;height:5px;background:linear-gradient(90deg,#fffb00,#fff300,#ffe900,#ffdf00,#ffd700,#ffcf00,#ffc900,#ffc500,#ffc300,#ffc300,#ffc400,#ffc500,#ffc400,#ffc000,#ffb900,#ffb100,#ffa700,#ff9d00,#ff9200,#ff8800,#ff7f00)"></i>
<i style="top:188px;height:5px;background:linear-gradient(90deg,#fff600,#ffef00,#ffe600,#ffde00,#ffd600,#ffce00,#ffc800,#ffc300,#ffc000,#ffbf00,#ffbf00,#ffbf00,#ffbc00,#ffb700,#ffaf00,#ffa500,#ff9a00,#ff8f00,#ff8400,#ff7a00,#ff7200)"></i>
<i style="top:192px;height:5px;background:linear-gradient(90deg,#fff200,#ffeb00,#ffe400,#ffdc00,#ffd400,#ffcd00,#ffc600,#ffc100,#ffbd00,#ffbb00,#ffba00,#ffb800,#ffb400,#ffad00,#ffa300,#ff9800,#ff8c00,#ff8000,#ff7500,#ff6b00,#ff6500)"></i>
<i style="top:196px;height:5px;background:linear-gradient(90deg,#ffee00,#ffe900,#ffe200,#ffda00,#ffd300,#ffcb00,#ffc400,#ffbe00,#ffba00,#ffb600,#ffb400,#ffb000,#ffab00,#ffa200,#ff9700,#ff8a00,#ff7d00,#ff7100,#ff6600,#ff5d00,#ff5700)"></i>
<i style="top:200px;height:5px;background:linear-gradient(90deg,#ffeb00,#ffe600,#ffe000,#ffd900,#ffd100,#ffc900,#ffc200,#ffbb00,#ffb600,#ffb100,#ffad00,#ffa800,#ffa000,#ff9600,#ff8a00,#ff7c00,#ff6e00,#ff6200,#ff5700,#ff4f00,#ff4a00)"></i>
<i style="top:204px;height:5px;background:linear-gradient(90deg,#ffe800,#ffe300,#ffdd00,#ffd600,#ffcf00,#ffc700,#ffbf00,#ffb700,#ffb100,#ffab00,#ffa500,#ff9f00,#ff9600,#ff8a00,#ff7d00,#ff6e00,#ff6000,#ff5300,#ff4800,#ff4100,#ff3e00)"></i>
<i style="top:208px;height:5px;background:linear-gradient(90deg,#ffe500,#ffe100,#ffdb00,#ffd300,#ffcc00,#ffc400,#ffbb00,#ffb300,#ffac00,#ffa500,#ff9e00,#ff9500,#ff8b00,#ff7f00,#ff7000,#ff6100,#ff5200,#ff4400,#ff3a00,#ff3300,#ff3200)"></i>
<i style="top:212px;height:5px;background:linear-gradient(90deg,#ffe200,#ffdd00,#ffd700,#ffd000,#ffc800,#ffc000,#ffb700,#ffae00,#ffa600,#ff9e00,#ff9600,#ff8c00,#ff8100,#ff7300,#ff6400,#ff5400,#ff4500,#ff3700,#ff2d00,#ff2700,#ff2700)"></i>
<i style="top:216px;height:5px;background:linear-gradient(90deg,#ffde00,#ffd900,#ffd300,#ffcc00,#ffc400,#ffbb00,#ffb200,#ffa900,#ffa000,#ff9700,#ff8d00,#ff8300,#ff7700,#ff6800,#ff5800,#ff4800,#ff3900,#ff2c00,#ff2200,#ff1d00,#ff1d00)"></i>
<i style="top:220px;height:5px;background:linear-gradient(90deg,#ffda00,#ffd500,#ffce00,#ffc700,#ffbe00,#ffb500,#ffac00,#ffa200,#ff9900,#ff8f00,#ff8500,#ff7a00,#ff6d00,#ff5f00,#ff4f00,#ff3f00,#ff2f00,#ff2300,#ff1900,#ff1400,#ff1400)"></i>
<i style="top:224px;height:5px;background:linear-gradient(90deg,#ffd400,#ffcf00,#ffc800,#ffc100,#ffb800,#ffaf00,#ffa500,#ff9b00,#ff9100,#ff8700,#ff7d00,#ff7200,#ff6500,#ff5600,#ff4700,#ff3700,#ff2800,#ff1c00,#ff1200,#ff0d00,#ff0c00)"></i>
<i style="top:228px;height:5px;background:linear-gradient(90deg,#ffce00,#ffc800,#ffc100,#ffb900,#ffb100,#ffa700,#ff9d00,#ff9300,#ff8900,#ff7f00,#ff7500,#ff6a00,#ff5e00,#ff5000,#ff4100,#ff3200,#ff2400,#ff1700,#ff0e00,#ff0800,#ff0700)"></i>
<i style="top:232px;height:5px;background:linear-gradient(90deg,#ffc600,#ffc000,#ffb900,#ffb100,#ffa800,#ff9e00,#ff9400,#ff8a00,#ff8000,#ff7700,#ff6d00,#ff6300,#ff5800,#ff4b00,#ff3d00,#ff2f00,#ff2200,#ff1600,#ff0c00,#ff0600,#ff0200)"></i>
<i style="top:236px;height:5px;background:linear-gradient(90deg,#ffbd00,#ffb700,#ffb000,#ffa700,#ff9d00,#ff9400,#ff8a00,#ff8000,#ff7700,#ff6e00,#ff6600,#ff5d00,#ff5400,#ff4900,#ff3d00,#ff3100,#ff2400,#ff1900,#ff0e00,#ff0600,#ff0000)"></i>
</div>
<div class="p" style="left:770.3px;top:14.0px">
<i style="top:0px;height:5px;background:linear-gradient(90deg,#0000ff,#0000e9,#0000df,#0000df,#0000e6,#0000f0,#0000fb,#0005ff,#000aff,#0008ff,#0008ff,#0023ff,#0008ff,#0000f6,#0000fa,#0004ff,#0011ff,#0020ff,#0030ff,#0042ff,#0053ff)"></i>
<i style="top:4px;height:5px;background:linear-gradient(90deg,#0001ff,#0000ee,#0000e5,#0000e3,#0000e7,#0000ee,#0000f6,#0000fb,#0000fd,#0000fa,#0000f9,#0019ff,#0000fc,#0000ec,#0000f3,#0000ff,#000fff,#0021ff,#0033ff,#0045ff,#0056ff)"></i>
<i style="top:8px;height:5px;background:linear-gradient(90deg,#0004ff,#0000f3,#0000eb,#0000e9,#0000eb,#0000f0,#0000f5,#0000f8,#0000f8,#0000f4,#0000f4,#0017ff,#0000f9,#0000e9,#0000f2,#0001ff,#0012ff,#0025ff,#0038ff,#004bff,#005cff)"></i>
<i style="top:12px;height:5px;background:linear-gradient(90deg,#0009ff,#0000f8,#0000f1,#0000ee,#0000f0,#0000f4,#0000f8,#0000fb,#0000fa,#0000f6,#0000f6,#001bff,#0000fd,#0000ed,#0000f7,#0007ff,#0018ff,#002bff,#003fff,#0052ff,#0063ff)"></i>
<i style="top:16px;height:5px;background:linear-gradient(90deg,#000eff,#0000ff,#0000f7,#0000f5,#0000f7,#0000fb,#0000ff,#0003ff,#0003ff,#0000fe,#0000ff,#0024ff,#0008ff,#0000f7,#0002ff,#0010ff,#0021ff,#0034ff,#0048ff,#005bff,#006bff)"></i>
<i style="top:20px;height:5px;background:linear-gradient(90deg,#0015ff,#0006ff,#0000fe,#0000fc,#0000ff,#0005ff,#000aff,#000eff,#000fff,#000cff,#000eff,#0031ff,#0016ff,#0007ff,#0010ff,#001dff,#002eff,#0040ff,#0052ff,#0064ff,#0075ff)"></i>
<i style="top:24px;height:5px;background:linear-gradient(90deg,#001dff,#000dff,#0006ff,#0005ff,#0009ff,#000fff,#0017ff,#001dff,#0020ff,#001eff,#0020ff,#0041ff,#0028ff,#001aff,#0022ff,#002eff,#003cff,#004dff,#005eff,#0070ff,#0080ff)"></i>
<i style="top:28px;height:5px;background:linear-gradient(90deg,#0026ff,#0015ff,#000eff,#000eff,#0013ff,#001cff,#0026ff,#002eff,#0033ff,#0034ff,#0036ff,#0053ff,#003dff,#0030ff,#0036ff,#0040ff,#004dff,#005bff,#006bff,#007cff,#008cff)"></i>
<i style="top:32px;height:5px;background:linear-gradient(90deg,#0030ff,#001eff,#0016ff,#0017ff,#001eff,#002aff,#0036ff,#0041ff,#0049ff,#004cff,#004fff,#0068ff,#0055ff,#0049ff,#004dff,#0055ff,#005fff,#006bff,#0079ff,#0088ff,#0099ff)"></i>
<i style="top:36px;height:5px;background:linear-gradient(90deg,#003bff,#0027ff,#001fff,#0021ff,#002aff,#0038ff,#0047ff,#0056ff,#0060ff,#0065ff,#0069ff,#007eff,#006eff,#0063ff,#0066ff,#006bff,#0072ff,#007cff,#0088ff,#0096ff,#00a6ff)"></i>
<i style="top:40px;height:5px;background:linear-gradient(90deg,#0046ff,#0031ff,#0029ff,#002cff,#0037ff,#0047ff,#0059ff,#006bff,#0078ff,#007fff,#0084ff,#0095ff,#0088ff,#007eff,#007fff,#0081ff,#0086ff,#008dff,#0097ff,#00a4ff,#00b4ff)"></i>
<i style="top:44px;height:5px;background:linear-gradient(90deg,#0053ff,#003bff,#0033ff,#0037ff,#0044ff,#0057ff,#006cff,#0080ff,#008fff,#0099ff,#009eff,#00acff,#00a1ff,#0099ff,#0098ff,#0098ff,#009bff,#009fff,#00a7ff,#00b2ff,#00c1ff)"></i>
<i style="top:48px;height:5px;background:linear-gradient(90deg,#005fff,#0046ff,#003eff,#0043ff,#0051ff,#0066ff,#007dff,#0094ff,#00a6ff,#00b1ff,#00b8ff,#00c3ff,#00baff,#00b3ff,#00b0ff,#00afff,#00afff,#00b2ff,#00b7ff,#00c0ff,#00ceff)"></i>
<i style="top:52px;height:5px;background:linear-gradient(90deg,#006cff,#0052ff,#004aff,#004fff,#005fff,#0075ff,#008eff,#00a6ff,#00baff,#00c7ff,#00ceff,#00d7ff,#00d1ff,#00cbff,#00c8ff,#00c5ff,#00c3ff,#00c4ff,#00c7ff,#00cfff,#00dbff)"></i>
<i style="top:56px;height:5px;background:linear-gradient(90deg,#0079ff,#005fff,#0057ff,#005cff,#006cff,#0083ff,#009dff,#00b6ff,#00cbff,#00d9ff,#00e2ff,#00eaff,#00e6ff,#00e1ff,#00ddff,#00d9ff,#00d6ff,#00d5ff,#00d7ff,#00ddff,#00e7ff)"></i>
<i style="top:60px;height:5px;background:linear-gradient(90deg,#0087ff,#006dff,#0064ff,#006aff,#007aff,#0090ff,#00aaff,#00c4ff,#00d9ff,#00e8ff,#00f1ff,#00f8ff,#00f6ff,#00f3ff,#00efff,#00ecff,#00e8ff,#00e7ff,#00e7ff,#00eaff,#00f1ff)"></i>
<i style="top:64px;height:5px;background:linear-gradient(90deg,#0094ff,#007bff,#0073ff,#0078ff,#0087ff,#009dff,#00b5ff,#00ceff,#00e3ff,#00f2ff,#00fcff,#04fffb,#04fffb,#02fffd,#00ffff,#00fcff,#00f9ff,#00f7ff,#00f6ff,#00f7ff,#00fbff)"></i>
<i style="top:68px;height:5px;background:linear-gradient(90deg,#00a1ff,#008aff,#0082ff,#0086ff,#0094ff,#00a8ff,#00bfff,#00d7ff,#00ebff,#00faff,#05fffa,#0cfff3,#0efff1,#0efff1,#0dfff2,#0cfff3,#0afff5,#08fff7,#06fff9,#05fffa,#06fff9)"></i>
<i style="top:72px;height:5px;background:linear-gradient(90deg,#00afff,#0099ff,#0092ff,#0095ff,#00a1ff,#00b3ff,#00c8ff,#00deff,#00f1ff,#00ffff,#0bfff4,#12ffed,#16ffe9,#18ffe7,#19ffe6,#19ffe6,#18ffe7,#16ffe9,#14ffeb,#12ffed,#0ffff0)"></i>
<i style="top:76px;height:5px;background:linear-gradient(90deg,#00bcff,#00a8ff,#00a1ff,#00a4ff,#00afff,#00bfff,#00d1ff,#00e5ff,#00f6ff,#05fffa,#10ffef,#18ffe7,#1effe1,#22ffdd,#25ffda,#26ffd9,#26ffd9,#25ffda,#22ffdd,#1effe1,#18ffe7)"></i>
<i style="top:80px;height:5px;background:linear-gradient(90deg,#00c8ff,#00b8ff,#00b1ff,#00b4ff,#00bdff,#00caff,#00daff,#00ecff,#00fcff,#0afff5,#15ffea,#1fffe0,#26ffd9,#2bffd4,#30ffcf,#32ffcd,#33ffcc,#33ffcc,#2fffd0,#2affd5,#22ffdd)"></i>
<i style="top:84px;height:5px;background:linear-gradient(90deg,#00d4ff,#00c6ff,#00c1ff,#00c3ff,#00cbff,#00d6ff,#00e5ff,#00f4ff,#04fffb,#11ffee,#1cffe3,#26ffd9,#2fffd0,#35ffca,#3bffc4,#3fffc0,#40ffbf,#40ffbf,#3cffc3,#37ffc8,#2dffd2)"></i>
<i style="top:88px;height:5px;background:linear-gradient(90deg,#00e0ff,#00d5ff,#00d1ff,#00d3ff,#00d9ff,#00e4ff,#00f0ff,#00feff,#0dfff2,#1affe5,#26ffd9,#31ffce,#3affc5,#41ffbe,#47ffb8,#4bffb4,#4dffb2,#4cffb3,#49ffb6,#43ffbc,#3affc5)"></i>
<i style="top:92px;height:5px;background:linear-gradient(90deg,#00eaff,#00e2ff,#00e0ff,#00e2ff,#00e9ff,#00f2ff,#00feff,#0cfff3,#19ffe6,#27ffd8,#33ffcc,#3fffc0,#48ffb7,#50ffaf,#55ffaa,#58ffa7,#5affa5,#58ffa7,#55ffaa,#50ffaf,#48ffb7)"></i>
<i style="top:96px;height:5px;background:linear-gradient(90deg,#00f4ff,#00efff,#00eeff,#00f1ff,#00f8ff,#02fffd,#0efff1,#1affe5,#28ffd7,#36ffc9,#43ffbc,#4fffb0,#59ffa6,#60ff9f,#64ff9b,#66ff99,#66ff99,#64ff9b,#61ff9e,#5cffa3,#57ffa8)"></i>
<i style="top:100px;height:5px;background:linear-gradient(90deg,#00fdff,#00faff,#00fcff,#01fffe,#08fff7,#12ffed,#1dffe2,#2affd5,#38ffc7,#46ffb9,#54ffab,#61ff9e,#6aff95,#70ff8f,#73ff8c,#74ff8b,#72ff8d,#6fff90,#6cff93,#69ff96,#67ff98)"></i>
<i style="top:104px;height:5px;background:linear-gradient(90deg,#06fff9,#06fff9,#09fff6,#0ffff0,#17ffe8,#21ffde,#2dffd2,#3affc5,#49ffb6,#58ffa7,#66ff99,#73ff8c,#7cff83,#81ff7e,#82ff7d,#81ff7e,#7eff81,#7aff85,#77ff88,#75ff8a,#76ff89)"></i>
<i style="top:108px;height:5px;background:linear-gradient(90deg,#0dfff2,#0ffff0,#14ffeb,#1cffe3,#25ffda,#2fffd0,#3cffc3,#4affb5,#59ffa6,#68ff97,#78ff87,#84ff7b,#8dff72,#91ff6e,#90ff6f,#8dff72,#88ff77,#84ff7b,#81ff7e,#81ff7e,#86ff79)"></i>
<i style="top:112px;height:5px;background:linear-gradient(90deg,#13ffec,#18ffe7,#1effe1,#27ffd8,#31ffce,#3dffc2,#4affb5,#58ffa7,#68ff97,#78ff87,#87ff78,#94ff6b,#9cff63,#9fff60,#9dff62,#98ff67,#93ff6c,#8eff71,#8bff74,#8dff72,#94ff6b)"></i>
<i style="top:116px;height:5px;background:linear-gradient(90deg,#18ffe7,#1effe1,#27ffd8,#30ffcf,#3cffc3,#48ffb7,#56ffa9,#65ff9a,#74ff8b,#85ff7a,#94ff6b,#a0ff5f,#a8ff57,#aaff55,#a7ff58,#a2ff5d,#9cff63,#97ff68,#94ff6b,#97ff68,#a1ff5e)"></i>
<i style="top:120px;height:5px;background:linear-gradient(90deg,#1bffe4,#24ffdb,#2dffd2,#38ffc7,#44ffbb,#51ffae,#5fffa0,#6eff91,#7eff81,#8eff71,#9dff62,#a9ff56,#b0ff4f,#b2ff4d,#afff50,#aaff55,#a4ff5b,#9fff60,#9dff62,#a1ff5e,#abff54)"></i>
<i style="top:124px;height:5px;background:linear-gradient(90deg,#1effe1,#27ffd8,#32ffcd,#3effc1,#4bffb4,#58ffa7,#67ff98,#75ff8a,#85ff7a,#94ff6b,#a2ff5d,#adff52,#b4ff4b,#b6ff49,#b4ff4b,#b0ff4f,#abff54,#a7ff58,#a6ff59,#aaff55,#b4ff4b)"></i>
<i style="top:128px;height:5px;background:linear-gradient(90deg,#20ffdf,#2affd5,#36ffc9,#42ffbd,#50ffaf,#5dffa2,#6cff93,#7aff85,#89ff76,#97ff68,#a4ff5b,#afff50,#b5ff4a,#b8ff47,#b7ff48,#b4ff4b,#b1ff4e,#aeff51,#aeff51,#b2ff4d,#bbff44)"></i>
<i style="top:132px;height:5px;background:linear-gradient(90deg,#22ffdd,#2dffd2,#39ffc6,#46ffb9,#53ffac,#61ff9e,#6fff90,#7eff81,#8bff74,#99ff66,#a4ff5b,#aeff51,#b5ff4a,#b8ff47,#b9ff46,#b8ff47,#b6ff49,#b5ff4a,#b6ff49,#b9ff46,#c0ff3f)"></i>
<i style="top:136px;height:5px;background:linear-gradient(90deg,#24ffdb,#2fffd0,#3bffc4,#49ffb6,#56ffa9,#64ff9b,#72ff8d,#80ff7f,#8dff72,#99ff66,#a4ff5b,#acff53,#b3ff4c,#b8ff47,#baff45,#bbff44,#bcff43,#bcff43,#beff41,#c0ff3f,#c5ff3a)"></i>
<i style="top:140px;height:5px;background:linear-gradient(90deg,#26ffd9,#31ffce,#3effc1,#4bffb4,#59ffa6,#67ff98,#75ff8a,#82ff7d,#8eff71,#99ff66,#a3ff5c,#abff54,#b2ff4d,#b7ff48,#bbff44,#beff41,#c1ff3e,#c3ff3c,#c5ff3a,#c7ff38,#c9ff36)"></i>
<i style="top:144px;height:5px;background:linear-gradient(90deg,#29ffd6,#34ffcb,#41ffbe,#4effb1,#5cffa3,#6aff95,#78ff87,#84ff7b,#90ff6f,#9aff65,#a3ff5c,#aaff55,#b1ff4e,#b7ff48,#bdff42,#c2ff3d,#c6ff39,#caff35,#ccff33,#ceff31,#ceff31)"></i>
<i style="top:148px;height:5px;background:linear-gradient(90deg,#2dffd2,#38ffc7,#45ffba,#52ffad,#60ff9f,#6eff91,#7bff84,#88ff77,#93ff6c,#9cff63,#a4ff5b,#acff53,#b3ff4c,#baff45,#c1ff3e,#c7ff38,#ccff33,#d1ff2e,#d3ff2c,#d4ff2b,#d3ff2c)"></i>
<i style="top:152px;height:5px;background:linear-gradient(90deg,#32ffcd,#3dffc2,#49ffb6,#57ffa8,#65ff9a,#73ff8c,#80ff7f,#8cff73,#97ff68,#a1ff5e,#a9ff56,#b0ff4f,#b7ff48,#beff41,#c6ff39,#cdff32,#d3ff2c,#d8ff27,#dbff24,#dbff24,#d9ff26)"></i>
<i style="top:156px;height:5px;background:linear-gradient(90deg,#39ffc6,#43ffbc,#50ffaf,#5dffa2,#6bff94,#79ff86,#86ff79,#93ff6c,#9eff61,#a7ff58,#afff50,#b6ff49,#beff41,#c5ff3a,#cdff32,#d4ff2b,#daff25,#dfff20,#e2ff1d,#e2ff1d,#e0ff1f)"></i>
<i style="top:160px;height:5px;background:linear-gradient(90deg,#41ffbe,#4bffb4,#57ffa8,#64ff9b,#72ff8d,#80ff7f,#8dff72,#9aff65,#a5ff5a,#afff50,#b7ff48,#bfff40,#c6ff39,#ceff31,#d5ff2a,#dcff23,#e2ff1d,#e7ff18,#e9ff16,#eaff15,#e7ff18)"></i>
<i style="top:164px;height:5px;background:linear-gradient(90deg,#4affb5,#54ffab,#60ff9f,#6cff93,#7aff85,#88ff77,#96ff69,#a2ff5d,#aeff51,#b8ff47,#c1ff3e,#c9ff36,#d1ff2e,#d8ff27,#dfff20,#e5ff1a,#ebff14,#efff10,#f1ff0e,#f2ff0d,#f0ff0f)"></i>
<i style="top:168px;height:5px;background:linear-gradient(90deg,#55ffaa,#5effa1,#69ff96,#76ff89,#83ff7c,#91ff6e,#9fff60,#acff53,#b8ff47,#c2ff3d,#ccff33,#d4ff2b,#dcff23,#e3ff1c,#e9ff16,#efff10,#f4ff0b,#f7ff08,#f9ff06,#faff05,#f9ff06)"></i>
<i style="top:172px;height:5px;background:linear-gradient(90deg,#60ff9f,#6aff95,#75ff8a,#81ff7e,#8eff71,#9cff63,#a9ff56,#b6ff49,#c2ff3d,#cdff32,#d7ff28,#e0ff1f,#e8ff17,#eeff11,#f4ff0b,#f9ff06,#fdff02,#fffe00,#fffc00,#fffb00,#fffb00)"></i>
<i style="top:176px;height:5px;background:linear-gradient(90deg,#6dff92,#76ff89,#81ff7e,#8dff72,#9aff65,#a7ff58,#b4ff4b,#c1ff3e,#ceff31,#d9ff26,#e3ff1c,#ecff13,#f4ff0b,#faff05,#fffe00,#fffa00,#fff700,#fff400,#fff200,#fff100,#fff100)"></i>
<i style="top:180px;height:5px;background:linear-gradient(90deg,#7bff84,#84ff7b,#8fff70,#9bff64,#a7ff58,#b4ff4b,#c0ff3f,#cdff32,#d9ff26,#e4ff1b,#eeff11,#f7ff08,#ffff00,#fff800,#fff300,#ffef00,#ffec00,#ffea00,#ffe800,#ffe700,#ffe500)"></i>
<i style="top:184px;height:5px;background:linear-gradient(90deg,#8aff75,#93ff6c,#9eff61,#a9ff56,#b5ff4a,#c1ff3e,#cdff32,#d9ff26,#e5ff1a,#f0ff0f,#faff05,#fffb00,#fff400,#ffed00,#ffe800,#ffe400,#ffe100,#ffdf00,#ffdd00,#ffdb00,#ffda00)"></i>
<i style="top:188px;height:5px;background:linear-gradient(90deg,#9aff65,#a4ff5b,#aeff51,#b9ff46,#c4ff3b,#cfff30,#dbff24,#e6ff19,#f1ff0e,#fbff04,#fff900,#fff100,#ffe900,#ffe300,#ffde00,#ffda00,#ffd600,#ffd400,#ffd100,#ffd000,#ffce00)"></i>
<i style="top:192px;height:5px;background:linear-gradient(90deg,#aaff55,#b4ff4b,#bfff40,#c9ff36,#d4ff2b,#deff21,#e8ff17,#f3ff0c,#fcff03,#fff800,#ffef00,#ffe600,#ffdf00,#ffd800,#ffd300,#ffcf00,#ffcb00,#ffc800,#ffc600,#ffc300,#ffc200)"></i>
<i style="top:196px;height:5px;background:linear-gradient(90deg,#bbff44,#c5ff3a,#d0ff2f,#daff25,#e4ff1b,#edff12,#f7ff08,#fffe00,#fff500,#ffed00,#ffe400,#ffdc00,#ffd500,#ffce00,#ffc900,#ffc400,#ffc000,#ffbc00,#ffb900,#ffb700,#ffb500)"></i>
<i style="top:200px;height:5px;background:linear-gradient(90deg,#ccff33,#d7ff28,#e1ff1e,#ebff14,#f4ff0b,#fcff03,#fff900,#fff100,#ffe900,#ffe200,#ffda00,#ffd200,#ffcb00,#ffc500,#ffbf00,#ffb900,#ffb400,#ffb000,#ffad00,#ffab00,#ffa900)"></i>
<i style="top:204px;height:5px;background:linear-gradient(90deg,#ddff22,#e8ff17,#f2ff0d,#fbff04,#fffa00,#fff200,#ffeb00,#ffe400,#ffdd00,#ffd600,#ffcf00,#ffc800,#ffc200,#ffbb00,#ffb500,#ffaf00,#ffa900,#ffa500,#ffa100,#ff9f00,#ff9d00)"></i>
<i style="top:208px;height:5px;background:linear-gradient(90deg,#edff12,#f9ff06,#fffb00,#fff200,#ffeb00,#ffe400,#ffdd00,#ffd700,#ffd100,#ffcb00,#ffc500,#ffbf00,#ffb800,#ffb100,#ffab00,#ffa400,#ff9e00,#ff9900,#ff9500,#ff9300,#ff9200)"></i>
<i style="top:212px;height:5px;background:linear-gradient(90deg,#feff01,#fff500,#ffeb00,#ffe300,#ffdb00,#ffd500,#ffd000,#ffcb00,#ffc500,#ffc000,#ffbb00,#ffb500,#ffaf00,#ffa800,#ffa100,#ff9a00,#ff9400,#ff8e00,#ff8a00,#ff8700,#ff8600)"></i>
<i style="top:216px;height:5px;background:linear-gradient(90deg,#fff000,#ffe500,#ffdc00,#ffd400,#ffcd00,#ffc800,#ffc300,#ffbe00,#ffba00,#ffb500,#ffb000,#ffab00,#ffa500,#ff9e00,#ff9700,#ff9000,#ff8a00,#ff8400,#ff8000,#ff7d00,#ff7c00)"></i>
<i style="top:220px;height:5px;background:linear-gradient(90deg,#ffe100,#ffd700,#ffce00,#ffc600,#ffc000,#ffbb00,#ffb600,#ffb200,#ffae00,#ffaa00,#ffa600,#ffa100,#ff9b00,#ff9500,#ff8e00,#ff8700,#ff8000,#ff7b00,#ff7600,#ff7300,#ff7200)"></i>
<i style="top:224px;height:5px;background:linear-gradient(90deg,#ffd300,#ffc900,#ffc100,#ffba00,#ffb400,#ffaf00,#ffab00,#ffa700,#ffa300,#ff9f00,#ff9b00,#ff9600,#ff9100,#ff8b00,#ff8500,#ff7e00,#ff7700,#ff7200,#ff6d00,#ff6a00,#ff6900)"></i>
<i style="top:228px;height:5px;background:linear-gradient(90deg,#ffc600,#ffbd00,#ffb600,#ffb000,#ffaa00,#ffa500,#ffa000,#ff9c00,#ff9800,#ff9400,#ff9000,#ff8c00,#ff8700,#ff8100,#ff7b00,#ff7500,#ff6f00,#ff6a00,#ff6600,#ff6300,#ff6100)"></i>
<i style="top:232px;height:5px;background:linear-gradient(90deg,#ffba00,#ffb300,#ffad00,#ffa700,#ffa100,#ff9c00,#ff9700,#ff9200,#ff8e00,#ff8900,#ff8500,#ff8100,#ff7c00,#ff7700,#ff7200,#ff6d00,#ff6800,#ff6400,#ff6000,#ff5c00,#ff5a00)"></i>
<i style="top:236px;height:5px;background:linear-gradient(90deg,#ffb000,#ffab00,#ffa600,#ffa100,#ff9b00,#ff9500,#ff8f00,#ff8900,#ff8300,#ff7e00,#ff7a00,#ff7500,#ff7100,#ff6d00,#ff6900,#ff6500,#ff6200,#ff5e00,#ff5b00,#ff5800,#ff5500)"></i>
</div>
<div class="p" style="left:38.3px;top:288.4px">
<i style="top:0px;height:5px;background:linear-gradient(90deg,#003fff,#0042ff,#003fff,#003aff,#0032ff,#002bff,#0025ff,#0024ff,#0028ff,#0033ff,#0047ff,#0073ff,#006aff,#005eff,#005aff,#0055ff,#004fff,#004bff,#004dff,#0057ff,#006bff)"></i>
<i style="top:4px;height:5px;background:linear-gradient(90deg,#003fff,#0040ff,#003dff,#0037ff,#0031ff,#002cff,#0028ff,#0029ff,#002eff,#0039ff,#004dff,#007bff,#006fff,#0061ff,#005eff,#0059ff,#0054ff,#0051ff,#0054ff,#005fff,#0075ff)"></i>
<i style="top:8px;height:5px;background:linear-gradient(90deg,#0040ff,#003fff,#003cff,#0037ff,#0032ff,#002fff,#002dff,#002fff,#0035ff,#0040ff,#0054ff,#0084ff,#0075ff,#0066ff,#0063ff,#005eff,#0059ff,#0058ff,#005cff,#0067ff,#007eff)"></i>
<i style="top:12px;height:5px;background:linear-gradient(90deg,#0043ff,#0040ff,#003cff,#0038ff,#0035ff,#0033ff,#0034ff,#0037ff,#003eff,#0049ff,#005cff,#008cff,#007cff,#006cff,#0068ff,#0064ff,#0060ff,#005fff,#0063ff,#0070ff,#0086ff)"></i>
<i style="top:16px;height:5px;background:linear-gradient(90deg,#0047ff,#0042ff,#003eff,#003bff,#0039ff,#0039ff,#003bff,#0040ff,#0048ff,#0053ff,#0065ff,#0094ff,#0083ff,#0072ff,#006fff,#006bff,#0067ff,#0066ff,#006bff,#0078ff,#008fff)"></i>
<i style="top:20px;height:5px;background:linear-gradient(90deg,#004cff,#0045ff,#0041ff,#003fff,#003eff,#0040ff,#0044ff,#004bff,#0054ff,#005fff,#006fff,#009bff,#008aff,#007aff,#0077ff,#0072ff,#006fff,#006eff,#0073ff,#0080ff,#0097ff)"></i>
<i style="top:24px;height:5px;background:linear-gradient(90deg,#0052ff,#004aff,#0046ff,#0044ff,#0045ff,#0049ff,#004eff,#0056ff,#0060ff,#006bff,#007aff,#00a2ff,#0092ff,#0083ff,#007fff,#007aff,#0077ff,#0077ff,#007cff,#0088ff,#009eff)"></i>
<i style="top:28px;height:5px;background:linear-gradient(90deg,#0059ff,#0050ff,#004bff,#004aff,#004dff,#0052ff,#0059ff,#0062ff,#006dff,#0077ff,#0086ff,#00a9ff,#009bff,#008cff,#0088ff,#0083ff,#0080ff,#007fff,#0084ff,#0090ff,#00a6ff)"></i>
<i style="top:32px;height:5px;background:linear-gradient(90deg,#0062ff,#0057ff,#0052ff,#0052ff,#0055ff,#005cff,#0065ff,#006fff,#007aff,#0084ff,#0091ff,#00b0ff,#00a3ff,#0096ff,#0091ff,#008cff,#0089ff,#0088ff,#008dff,#0098ff,#00adff)"></i>
<i style="top:36px;height:5px;background:linear-gradient(90deg,#006bff,#005fff,#005aff,#005aff,#005eff,#0066ff,#0071ff,#007cff,#0087ff,#0092ff,#009dff,#00b7ff,#00acff,#00a0ff,#009bff,#0096ff,#0092ff,#0091ff,#0095ff,#00a0ff,#00b5ff)"></i>
<i style="top:40px;height:5px;background:linear-gradient(90deg,#0074ff,#0067ff,#0062ff,#0063ff,#0068ff,#0071ff,#007dff,#0089ff,#0095ff,#009fff,#00aaff,#00beff,#00b5ff,#00abff,#00a5ff,#00a0ff,#009bff,#009aff,#009eff,#00a9ff,#00bcff)"></i>
<i style="top:44px;height:5px;background:linear-gradient(90deg,#007fff,#0071ff,#006bff,#006dff,#0073ff,#007dff,#0089ff,#0096ff,#00a2ff,#00acff,#00b6ff,#00c6ff,#00bfff,#00b5ff,#00b0ff,#00aaff,#00a5ff,#00a3ff,#00a7ff,#00b1ff,#00c3ff)"></i>
<i style="top:48px;height:5px;background:linear-gradient(90deg,#0089ff,#007bff,#0075ff,#0077ff,#007eff,#0088ff,#0095ff,#00a3ff,#00afff,#00b9ff,#00c2ff,#00ceff,#00c8ff,#00c0ff,#00baff,#00b4ff,#00aeff,#00acff,#00afff,#00b9ff,#00cbff)"></i>
<i style="top:52px;height:5px;background:linear-gradient(90deg,#0095ff,#0086ff,#0080ff,#0082ff,#0089ff,#0094ff,#00a1ff,#00afff,#00bbff,#00c5ff,#00cdff,#00d7ff,#00d2ff,#00cbff,#00c4ff,#00bdff,#00b8ff,#00b5ff,#00b8ff,#00c1ff,#00d3ff)"></i>
<i style="top:56px;height:5px;background:linear-gradient(90deg,#00a0ff,#0091ff,#008bff,#008dff,#0094ff,#009fff,#00acff,#00baff,#00c7ff,#00d1ff,#00d8ff,#00e0ff,#00dcff,#00d6ff,#00cfff,#00c7ff,#00c1ff,#00beff,#00c1ff,#00c9ff,#00dbff)"></i>
<i style="top:60px;height:5px;background:linear-gradient(90deg,#00acff,#009dff,#0097ff,#0098ff,#009fff,#00aaff,#00b7ff,#00c5ff,#00d1ff,#00dbff,#00e3ff,#00e9ff,#00e6ff,#00e0ff,#00d9ff,#00d1ff,#00caff,#00c7ff,#00c9ff,#00d2ff,#00e4ff)"></i>
<i style="top:64px;height:5px;background:linear-gradient(90deg,#00b8ff,#00a9ff,#00a2ff,#00a3ff,#00aaff,#00b4ff,#00c1ff,#00ceff,#00dbff,#00e5ff,#00ecff,#00f2ff,#00f0ff,#00eaff,#00e2ff,#00daff,#00d3ff,#00d0ff,#00d1ff,#00daff,#00ecff)"></i>
<i style="top:68px;height:5px;background:linear-gradient(90deg,#00c3ff,#00b5ff,#00aeff,#00afff,#00b5ff,#00beff,#00caff,#00d7ff,#00e4ff,#00eeff,#00f5ff,#00faff,#00f9ff,#00f4ff,#00ecff,#00e3ff,#00dcff,#00d8ff,#00daff,#00e3ff,#00f5ff)"></i>
<i style="top:72px;height:5px;background:linear-gradient(90deg,#00ceff,#00c0ff,#00baff,#00baff,#00c0ff,#00c9ff,#00d4ff,#00e0ff,#00ecff,#00f7ff,#00feff,#04fffb,#04fffb,#00feff,#00f6ff,#00edff,#00e5ff,#00e1ff,#00e2ff,#00ebff,#00feff)"></i>
<i style="top:76px;height:5px;background:linear-gradient(90deg,#00d9ff,#00ccff,#00c6ff,#00c6ff,#00cbff,#00d3ff,#00ddff,#00e9ff,#00f5ff,#00ffff,#08fff7,#0dfff2,#0dfff2,#08fff7,#00ffff,#00f6ff,#00eeff,#00eaff,#00ebff,#00f4ff,#08fff7)"></i>
<i style="top:80px;height:5px;background:linear-gradient(90deg,#00e3ff,#00d7ff,#00d1ff,#00d1ff,#00d6ff,#00ddff,#00e7ff,#00f2ff,#00feff,#09fff6,#12ffed,#17ffe8,#17ffe8,#13ffec,#0afff5,#01fffe,#00f8ff,#00f3ff,#00f4ff,#00fdff,#11ffee)"></i>
<i style="top:84px;height:5px;background:linear-gradient(90deg,#00ebff,#00e1ff,#00dcff,#00ddff,#00e1ff,#00e8ff,#00f2ff,#00fdff,#09fff6,#13ffec,#1cffe3,#21ffde,#22ffdd,#1dffe2,#15ffea,#0bfff4,#03fffc,#00fcff,#00fdff,#06fff9,#19ffe6)"></i>
<i style="top:88px;height:5px;background:linear-gradient(90deg,#00f2ff,#00eaff,#00e7ff,#00e8ff,#00ecff,#00f4ff,#00fdff,#09fff6,#14ffeb,#1effe1,#27ffd8,#2cffd3,#2dffd2,#28ffd7,#20ffdf,#16ffe9,#0dfff2,#07fff8,#07fff8,#0ffff0,#20ffdf)"></i>
<i style="top:92px;height:5px;background:linear-gradient(90deg,#00f8ff,#00f2ff,#00f0ff,#00f3ff,#00f8ff,#01fffe,#0afff5,#15ffea,#20ffdf,#2affd5,#33ffcc,#38ffc7,#39ffc6,#34ffcb,#2cffd3,#22ffdd,#18ffe7,#12ffed,#11ffee,#17ffe8,#27ffd8)"></i>
<i style="top:96px;height:5px;background:linear-gradient(90deg,#00fdff,#00f9ff,#00f9ff,#00fdff,#04fffb,#0dfff2,#17ffe8,#22ffdd,#2dffd2,#37ffc8,#3fffc0,#45ffba,#45ffba,#40ffbf,#38ffc7,#2dffd2,#24ffdb,#1dffe2,#1bffe4,#1fffe0,#2dffd2)"></i>
<i style="top:100px;height:5px;background:linear-gradient(90deg,#01fffe,#00ffff,#02fffd,#08fff7,#10ffef,#19ffe6,#24ffdb,#2fffd0,#3affc5,#44ffbb,#4cffb3,#51ffae,#51ffae,#4dffb2,#44ffbb,#3affc5,#30ffcf,#28ffd7,#25ffda,#28ffd7,#34ffcb)"></i>
<i style="top:104px;height:5px;background:linear-gradient(90deg,#03fffc,#04fffb,#09fff6,#11ffee,#1affe5,#24ffdb,#30ffcf,#3bffc4,#46ffb9,#51ffae,#58ffa7,#5dffa2,#5dffa2,#59ffa6,#50ffaf,#46ffb9,#3cffc3,#34ffcb,#30ffcf,#31ffce,#3affc5)"></i>
<i style="top:108px;height:5px;background:linear-gradient(90deg,#03fffc,#08fff7,#0ffff0,#18ffe7,#23ffdc,#2fffd0,#3bffc4,#47ffb8,#52ffad,#5cffa3,#64ff9b,#68ff97,#69ff96,#64ff9b,#5cffa3,#52ffad,#48ffb7,#40ffbf,#3bffc4,#3bffc4,#42ffbd)"></i>
<i style="top:112px;height:5px;background:linear-gradient(90deg,#03fffc,#0afff5,#14ffeb,#1fffe0,#2bffd4,#37ffc8,#44ffbb,#51ffae,#5cffa3,#66ff99,#6eff91,#73ff8c,#73ff8c,#6fff90,#68ff97,#5effa1,#54ffab,#4cffb3,#47ffb8,#45ffba,#4affb5)"></i>
<i style="top:116px;height:5px;background:linear-gradient(90deg,#01fffe,#0cfff3,#17ffe8,#24ffdb,#31ffce,#3effc1,#4bffb4,#58ffa7,#64ff9b,#6eff91,#76ff89,#7bff84,#7cff83,#79ff86,#72ff8d,#6aff95,#61ff9e,#59ffa6,#53ffac,#51ffae,#54ffab)"></i>
<i style="top:120px;height:5px;background:linear-gradient(90deg,#00fdff,#0cfff3,#19ffe6,#27ffd8,#35ffca,#43ffbc,#50ffaf,#5cffa3,#68ff97,#73ff8c,#7bff84,#81ff7e,#83ff7c,#81ff7e,#7cff83,#74ff8b,#6cff93,#65ff9a,#60ff9f,#5effa1,#60ff9f)"></i>
<i style="top:124px;height:5px;background:linear-gradient(90deg,#00faff,#0bfff4,#1affe5,#29ffd6,#37ffc8,#45ffba,#52ffad,#5effa1,#6aff95,#75ff8a,#7fff80,#86ff79,#89ff76,#88ff77,#85ff7a,#7fff80,#78ff87,#72ff8d,#6dff92,#6bff94,#6dff92)"></i>
<i style="top:128px;height:5px;background:linear-gradient(90deg,#00f6ff,#09fff6,#1affe5,#29ffd6,#38ffc7,#45ffba,#52ffad,#5effa1,#6aff95,#76ff89,#80ff7f,#89ff76,#8eff71,#8fff70,#8dff72,#88ff77,#83ff7c,#7eff81,#7bff84,#7aff85,#7cff83)"></i>
<i style="top:132px;height:5px;background:linear-gradient(90deg,#00f3ff,#08fff7,#1affe5,#29ffd6,#38ffc7,#45ffba,#51ffae,#5dffa2,#69ff96,#75ff8a,#81ff7e,#8bff74,#92ff6d,#94ff6b,#94ff6b,#92ff6d,#8eff71,#8bff74,#89ff76,#88ff77,#8bff74)"></i>
<i style="top:136px;height:5px;background:linear-gradient(90deg,#00f0ff,#07fff8,#19ffe6,#29ffd6,#37ffc8,#44ffbb,#50ffaf,#5cffa3,#68ff97,#75ff8a,#82ff7d,#8dff72,#96ff69,#9aff65,#9cff63,#9bff64,#99ff66,#97ff68,#96ff69,#97ff68,#9bff64)"></i>
<i style="top:140px;height:5px;background:linear-gradient(90deg,#00efff,#06fff9,#19ffe6,#29ffd6,#37ffc8,#43ffbc,#4fffb0,#5bffa4,#68ff97,#76ff89,#83ff7c,#90ff6f,#9aff65,#a0ff5f,#a3ff5c,#a4ff5b,#a4ff5b,#a4ff5b,#a4ff5b,#a6ff59,#aaff55)"></i>
<i style="top:144px;height:5px;background:linear-gradient(90deg,#00f0ff,#07fff8,#1affe5,#2affd5,#38ffc7,#44ffbb,#50ffaf,#5cffa3,#69ff96,#77ff88,#86ff79,#94ff6b,#9fff60,#a7ff58,#abff54,#aeff51,#afff50,#b0ff4f,#b1ff4e,#b4ff4b,#b9ff46)"></i>
<i style="top:148px;height:5px;background:linear-gradient(90deg,#00f3ff,#09fff6,#1cffe3,#2cffd3,#3affc5,#46ffb9,#52ffad,#5fffa0,#6dff92,#7cff83,#8cff73,#9aff65,#a6ff59,#afff50,#b4ff4b,#b8ff47,#baff45,#bbff44,#bdff42,#c1ff3e,#c6ff39)"></i>
<i style="top:152px;height:5px;background:linear-gradient(90deg,#00f8ff,#0efff1,#20ffdf,#2fffd0,#3dffc2,#4bffb4,#58ffa7,#65ff9a,#73ff8c,#83ff7c,#93ff6c,#a2ff5d,#afff50,#b8ff47,#beff41,#c2ff3d,#c4ff3b,#c6ff39,#c9ff36,#cdff32,#d2ff2d)"></i>
<i style="top:156px;height:5px;background:linear-gradient(90deg,#01fffe,#14ffeb,#25ffda,#34ffcb,#43ffbc,#51ffae,#5fffa0,#6eff91,#7dff82,#8dff72,#9eff61,#adff52,#b9ff46,#c2ff3d,#c8ff37,#ccff33,#cfff30,#d1ff2e,#d4ff2b,#d8ff27,#ddff22)"></i>
<i style="top:160px;height:5px;background:linear-gradient(90deg,#0bfff4,#1bffe4,#2bffd4,#3bffc4,#4affb5,#59ffa6,#69ff96,#78ff87,#89ff76,#99ff66,#a9ff56,#b8ff47,#c4ff3b,#cdff32,#d3ff2c,#d7ff28,#daff25,#dcff23,#deff21,#e2ff1d,#e7ff18)"></i>
<i style="top:164px;height:5px;background:linear-gradient(90deg,#17ffe8,#25ffda,#33ffcc,#43ffbc,#53ffac,#63ff9c,#74ff8b,#85ff7a,#96ff69,#a6ff59,#b6ff49,#c5ff3a,#d0ff2f,#d9ff26,#deff21,#e2ff1d,#e4ff1b,#e6ff19,#e8ff17,#ebff14,#f0ff0f)"></i>
<i style="top:168px;height:5px;background:linear-gradient(90deg,#24ffdb,#2fffd0,#3dffc2,#4cffb3,#5dffa2,#6eff91,#80ff7f,#92ff6d,#a4ff5b,#b5ff4a,#c4ff3b,#d2ff2d,#ddff22,#e4ff1b,#e9ff16,#ecff13,#eeff11,#f0ff0f,#f1ff0e,#f4ff0b,#f8ff07)"></i>
<i style="top:172px;height:5px;background:linear-gradient(90deg,#31ffce,#3bffc4,#47ffb8,#57ffa8,#68ff97,#7aff85,#8dff72,#a0ff5f,#b2ff4d,#c3ff3c,#d2ff2d,#dfff20,#e9ff16,#f0ff0f,#f4ff0b,#f7ff08,#f8ff07,#f9ff06,#faff05,#fdff02,#fffe00)"></i>
<i style="top:176px;height:5px;background:linear-gradient(90deg,#40ffbf,#48ffb7,#53ffac,#62ff9d,#74ff8b,#87ff78,#9aff65,#aeff51,#c0ff3f,#d0ff2f,#dfff20,#ebff14,#f4ff0b,#faff05,#feff01,#fffe00,#fffc00,#fffc00,#fffb00,#fff900,#fff600)"></i>
<i style="top:180px;height:5px;background:linear-gradient(90deg,#4fffb0,#55ffaa,#61ff9e,#6fff90,#81ff7e,#94ff6b,#a7ff58,#bbff44,#cdff32,#ddff22,#ebff14,#f6ff09,#ffff00,#fffa00,#fff600,#fff400,#fff400,#fff300,#fff200,#fff100,#ffed00)"></i>
<i style="top:184px;height:5px;background:linear-gradient(90deg,#5dffa2,#64ff9b,#6fff90,#7dff82,#8eff71,#a1ff5e,#b5ff4a,#c8ff37,#d9ff26,#e9ff16,#f6ff09,#fffe00,#fff600,#fff100,#ffee00,#ffec00,#ffeb00,#ffeb00,#ffea00,#ffe800,#ffe500)"></i>
<i style="top:188px;height:5px;background:linear-gradient(90deg,#6cff93,#73ff8c,#7eff81,#8cff73,#9dff62,#afff50,#c2ff3d,#d4ff2b,#e4ff1b,#f3ff0c,#ffff00,#fff500,#ffee00,#ffe900,#ffe600,#ffe400,#ffe300,#ffe300,#ffe200,#ffdf00,#ffdc00)"></i>
<i style="top:192px;height:5px;background:linear-gradient(90deg,#7bff84,#82ff7d,#8dff72,#9bff64,#abff54,#bdff42,#ceff31,#dfff20,#efff10,#fdff02,#fff600,#ffed00,#ffe600,#ffe100,#ffde00,#ffdd00,#ffdc00,#ffdb00,#ffd900,#ffd700,#ffd200)"></i>
<i style="top:196px;height:5px;background:linear-gradient(90deg,#89ff76,#92ff6d,#9dff62,#abff54,#baff45,#caff35,#dbff24,#eaff15,#f9ff06,#fff900,#ffee00,#ffe500,#ffdf00,#ffda00,#ffd700,#ffd600,#ffd400,#ffd300,#ffd100,#ffce00,#ffc900)"></i>
<i style="top:200px;height:5px;background:linear-gradient(90deg,#97ff68,#a2ff5d,#aeff51,#bbff44,#c9ff36,#d8ff27,#e7ff18,#f5ff0a,#fffc00,#fff100,#ffe700,#ffde00,#ffd800,#ffd400,#ffd100,#ffcf00,#ffcd00,#ffcb00,#ffc900,#ffc500,#ffbf00)"></i>
<i style="top:204px;height:5px;background:linear-gradient(90deg,#a6ff59,#b1ff4e,#beff41,#cbff34,#d8ff27,#e5ff1a,#f2ff0d,#ffff00,#fff400,#ffe900,#ffe000,#ffd800,#ffd200,#ffcd00,#ffca00,#ffc800,#ffc600,#ffc300,#ffc000,#ffbc00,#ffb500)"></i>
<i style="top:208px;height:5px;background:linear-gradient(90deg,#b4ff4b,#c1ff3e,#ceff31,#dbff24,#e7ff18,#f3ff0c,#feff01,#fff500,#ffeb00,#ffe200,#ffd900,#ffd100,#ffcb00,#ffc700,#ffc400,#ffc100,#ffbf00,#ffbc00,#ffb800,#ffb300,#ffab00)"></i>
<i style="top:212px;height:5px;background:linear-gradient(90deg,#c2ff3d,#d0ff2f,#ddff22,#eaff15,#f5ff0a,#ffff00,#fff500,#ffec00,#ffe300,#ffda00,#ffd200,#ffcb00,#ffc500,#ffc100,#ffbd00,#ffba00,#ffb700,#ffb400,#ffaf00,#ffa900,#ffa100)"></i>
<i style="top:216px;height:5px;background:linear-gradient(90deg,#cfff30,#dfff20,#ecff13,#f8ff07,#fffc00,#fff300,#ffea00,#ffe300,#ffdb00,#ffd300,#ffcc00,#ffc500,#ffbf00,#ffba00,#ffb600,#ffb300,#ffb000,#ffac00,#ffa700,#ffa000,#ff9700)"></i>
<i style="top:220px;height:5px;background:linear-gradient(90deg,#dcff23,#edff12,#faff05,#fff800,#ffef00,#ffe700,#ffe000,#ffda00,#ffd300,#ffcc00,#ffc500,#ffbe00,#ffb800,#ffb300,#ffaf00,#ffac00,#ffa800,#ffa300,#ff9e00,#ff9600,#ff8d00)"></i>
<i style="top:224px;height:5px;background:linear-gradient(90deg,#e9ff16,#faff05,#fff700,#ffec00,#ffe300,#ffdc00,#ffd600,#ffd100,#ffcb00,#ffc400,#ffbd00,#ffb700,#ffb100,#ffac00,#ffa800,#ffa400,#ffa000,#ff9b00,#ff9400,#ff8c00,#ff8200)"></i>
<i style="top:228px;height:5px;background:linear-gradient(90deg,#f6ff09,#fff800,#ffeb00,#ffe100,#ffd900,#ffd300,#ffcd00,#ffc800,#ffc200,#ffbc00,#ffb500,#ffaf00,#ffa900,#ffa400,#ffa000,#ff9b00,#ff9700,#ff9200,#ff8b00,#ff8300,#ff7800)"></i>
<i style="top:232px;height:5px;background:linear-gradient(90deg,#fffc00,#ffed00,#ffe100,#ffd800,#ffd000,#ffca00,#ffc400,#ffbf00,#ffb900,#ffb300,#ffad00,#ffa600,#ffa000,#ff9b00,#ff9700,#ff9200,#ff8e00,#ff8800,#ff8100,#ff7900,#ff6e00)"></i>
<i style="top:236px;height:5px;background:linear-gradient(90deg,#fff000,#ffe300,#ffd900,#ffd000,#ffc800,#ffc200,#ffbc00,#ffb600,#ffb000,#ffaa00,#ffa300,#ff9d00,#ff9700,#ff9200,#ff8d00,#ff8900,#ff8400,#ff7e00,#ff7700,#ff6e00,#ff6400)"></i>
</div>
<div class="p" style="left:404.3px;top:288.4px">
<i style="top:0px;height:5px;background:linear-gradient(90deg,#00a2ff,#00b0ff,#00baff,#00c2ff,#00caff,#00d3ff,#00ddff,#00eaff,#00fbff,#12ffed,#2affd5,#43ffbc,#59ffa6,#6bff94,#78ff87,#82ff7d,#8bff74,#91ff6e,#98ff67,#9fff60,#a7ff58)"></i>
<i style="top:4px;height:5px;background:linear-gradient(90deg,#009fff,#00adff,#00b8ff,#00c1ff,#00caff,#00d4ff,#00e0ff,#00eeff,#03fffc,#1bffe4,#35ffca,#4fffb0,#65ff9a,#74ff8b,#7eff81,#85ff7a,#89ff76,#8eff71,#93ff6c,#9cff63,#abff54)"></i>
<i style="top:8px;height:5px;background:linear-gradient(90deg,#009fff,#00adff,#00b9ff,#00c3ff,#00ceff,#00d9ff,#00e6ff,#00f6ff,#0cfff3,#26ffd9,#41ffbe,#5bffa4,#70ff8f,#7eff81,#85ff7a,#89ff76,#8bff74,#8dff72,#93ff6c,#9dff62,#b0ff4f)"></i>
<i style="top:12px;height:5px;background:linear-gradient(90deg,#00a4ff,#00b2ff,#00beff,#00c9ff,#00d5ff,#00e1ff,#00f0ff,#02fffd,#18ffe7,#32ffcd,#4effb1,#67ff98,#7bff84,#87ff78,#8dff72,#8eff71,#8eff71,#8fff70,#95ff6a,#a1ff5e,#b6ff49)"></i>
<i style="top:16px;height:5px;background:linear-gradient(90deg,#00abff,#00b9ff,#00c6ff,#00d2ff,#00dfff,#00ecff,#00fcff,#10ffef,#26ffd9,#40ffbf,#5bffa4,#74ff8b,#86ff79,#91ff6e,#94ff6b,#94ff6b,#93ff6c,#94ff6b,#9aff65,#a7ff58,#beff41)"></i>
<i style="top:20px;height:5px;background:linear-gradient(90deg,#00b6ff,#00c3ff,#00d1ff,#00deff,#00ebff,#00faff,#0cfff3,#20ffdf,#36ffc9,#4fffb0,#69ff96,#80ff7f,#91ff6e,#9aff65,#9dff62,#9cff63,#9bff64,#9bff64,#a1ff5e,#aeff51,#c6ff39)"></i>
<i style="top:24px;height:5px;background:linear-gradient(90deg,#00c3ff,#00d0ff,#00deff,#00ecff,#00fbff,#0cfff3,#1dffe2,#31ffce,#47ffb8,#5fffa0,#77ff88,#8cff73,#9bff64,#a3ff5c,#a5ff5a,#a4ff5b,#a3ff5c,#a4ff5b,#aaff55,#b7ff48,#cfff30)"></i>
<i style="top:28px;height:5px;background:linear-gradient(90deg,#00d3ff,#00dfff,#00edff,#00fcff,#0dfff2,#1effe1,#30ffcf,#44ffbb,#59ffa6,#70ff8f,#86ff79,#98ff67,#a6ff59,#adff52,#aeff51,#adff52,#acff53,#aeff51,#b4ff4b,#c1ff3e,#d9ff26)"></i>
<i style="top:32px;height:5px;background:linear-gradient(90deg,#00e4ff,#00f1ff,#00ffff,#0ffff0,#20ffdf,#32ffcd,#45ffba,#58ffa7,#6dff92,#81ff7e,#95ff6a,#a5ff5a,#b0ff4f,#b6ff49,#b7ff48,#b7ff48,#b6ff49,#b8ff47,#bfff40,#ccff33,#e2ff1d)"></i>
<i style="top:36px;height:5px;background:linear-gradient(90deg,#00f8ff,#04fffb,#13ffec,#23ffdc,#34ffcb,#47ffb8,#5affa5,#6eff91,#81ff7e,#93ff6c,#a4ff5b,#b1ff4e,#bbff44,#bfff40,#c1ff3e,#c1ff3e,#c1ff3e,#c3ff3c,#caff35,#d7ff28,#ecff13)"></i>
<i style="top:40px;height:5px;background:linear-gradient(90deg,#0dfff2,#19ffe6,#27ffd8,#38ffc7,#4affb5,#5dffa2,#70ff8f,#83ff7c,#95ff6a,#a5ff5a,#b3ff4c,#beff41,#c5ff3a,#c9ff36,#caff35,#caff35,#cbff34,#ceff31,#d5ff2a,#e1ff1e,#f5ff0a)"></i>
<i style="top:44px;height:5px;background:linear-gradient(90deg,#23ffdc,#2effd1,#3cffc3,#4dffb2,#60ff9f,#73ff8c,#86ff79,#99ff66,#a9ff56,#b7ff48,#c3ff3c,#cbff34,#d0ff2f,#d3ff2c,#d4ff2b,#d4ff2b,#d5ff2a,#d9ff26,#e0ff1f,#ebff14,#fdff02)"></i>
<i style="top:48px;height:5px;background:linear-gradient(90deg,#3affc5,#44ffbb,#52ffad,#63ff9c,#76ff89,#89ff76,#9cff63,#aeff51,#bdff42,#c9ff36,#d2ff2d,#d8ff27,#dbff24,#ddff22,#ddff22,#deff21,#dfff20,#e2ff1d,#e9ff16,#f4ff0b,#fff900)"></i>
<i style="top:52px;height:5px;background:linear-gradient(90deg,#51ffae,#5bffa4,#69ff96,#7aff85,#8cff73,#9fff60,#b2ff4d,#c3ff3c,#d1ff2e,#dbff24,#e2ff1d,#e5ff1a,#e7ff18,#e7ff18,#e7ff18,#e7ff18,#e8ff17,#ebff14,#f1ff0e,#fcff03,#fff300)"></i>
<i style="top:56px;height:5px;background:linear-gradient(90deg,#68ff97,#71ff8e,#7fff80,#90ff6f,#a2ff5d,#b5ff4a,#c7ff38,#d7ff28,#e3ff1c,#ecff13,#f1ff0e,#f3ff0c,#f3ff0c,#f2ff0d,#f0ff0f,#efff10,#efff10,#f2ff0d,#f8ff07,#fffd00,#ffee00)"></i>
<i style="top:60px;height:5px;background:linear-gradient(90deg,#7fff80,#88ff77,#95ff6a,#a5ff5a,#b7ff48,#c9ff36,#daff25,#e9ff16,#f5ff0a,#fcff03,#fffe00,#fffd00,#ffff00,#fcff03,#f9ff06,#f6ff09,#f5ff0a,#f7ff08,#fcff03,#fff900,#ffea00)"></i>
<i style="top:64px;height:5px;background:linear-gradient(90deg,#95ff6a,#9eff61,#abff54,#baff45,#cbff34,#dcff23,#ecff13,#faff05,#fff900,#fff200,#ffef00,#ffef00,#fff200,#fff700,#fffc00,#fdff02,#faff05,#faff05,#fdff02,#fff800,#ffe800)"></i>
<i style="top:68px;height:5px;background:linear-gradient(90deg,#abff54,#b4ff4b,#c0ff3f,#cfff30,#deff21,#eeff11,#fdff02,#fff400,#ffea00,#ffe300,#ffe100,#ffe100,#ffe500,#ffec00,#fff300,#fffb00,#feff01,#fbff04,#feff01,#fff800,#ffe700)"></i>
<i style="top:72px;height:5px;background:linear-gradient(90deg,#c0ff3f,#c9ff36,#d4ff2b,#e2ff1d,#f0ff0f,#ffff00,#fff100,#ffe500,#ffdc00,#ffd500,#ffd300,#ffd400,#ffd900,#ffe100,#ffeb00,#fff500,#fffd00,#fcff03,#fdff02,#fff800,#ffe600)"></i>
<i style="top:76px;height:5px;background:linear-gradient(90deg,#d3ff2c,#dcff23,#e7ff18,#f4ff0b,#fffd00,#ffef00,#ffe300,#ffd800,#ffcf00,#ffc800,#ffc600,#ffc700,#ffcc00,#ffd600,#ffe200,#ffef00,#fffa00,#fdff02,#fdff02,#fff900,#ffe600)"></i>
<i style="top:80px;height:5px;background:linear-gradient(90deg,#e6ff19,#eeff11,#f9ff06,#fffa00,#ffed00,#ffe100,#ffd500,#ffcb00,#ffc200,#ffbc00,#ffb900,#ffba00,#ffc000,#ffcc00,#ffda00,#ffe900,#fff600,#ffff00,#fdff02,#fff900,#ffe400)"></i>
<i style="top:84px;height:5px;background:linear-gradient(90deg,#f7ff08,#ffff00,#fff500,#ffea00,#ffdf00,#ffd400,#ffc900,#ffbf00,#ffb700,#ffb100,#ffae00,#ffaf00,#ffb600,#ffc200,#ffd200,#ffe300,#fff200,#fffc00,#ffff00,#fff700,#ffe200)"></i>
<i style="top:88px;height:5px;background:linear-gradient(90deg,#fff800,#fff000,#ffe700,#ffdd00,#ffd200,#ffc700,#ffbd00,#ffb400,#ffac00,#ffa600,#ffa300,#ffa500,#ffac00,#ffb900,#ffca00,#ffdc00,#ffec00,#fff700,#fffa00,#fff300,#ffdf00)"></i>
<i style="top:92px;height:5px;background:linear-gradient(90deg,#ffeb00,#ffe300,#ffdb00,#ffd100,#ffc600,#ffbc00,#ffb200,#ffa900,#ffa100,#ff9c00,#ff9a00,#ff9c00,#ffa300,#ffb100,#ffc200,#ffd400,#ffe400,#ffef00,#fff300,#ffed00,#ffda00)"></i>
<i style="top:96px;height:5px;background:linear-gradient(90deg,#ffdf00,#ffd900,#ffd000,#ffc700,#ffbc00,#ffb200,#ffa800,#ff9f00,#ff9800,#ff9300,#ff9200,#ff9400,#ff9c00,#ffa900,#ffba00,#ffcb00,#ffdb00,#ffe600,#ffea00,#ffe500,#ffd300)"></i>
<i style="top:100px;height:5px;background:linear-gradient(90deg,#ffd600,#ffd000,#ffc800,#ffbe00,#ffb300,#ffa800,#ff9e00,#ff9500,#ff8f00,#ff8b00,#ff8b00,#ff8e00,#ff9600,#ffa300,#ffb300,#ffc300,#ffd100,#ffdb00,#ffe000,#ffdb00,#ffcc00)"></i>
<i style="top:104px;height:5px;background:linear-gradient(90deg,#ffce00,#ffc900,#ffc000,#ffb600,#ffab00,#ffa000,#ff9600,#ff8d00,#ff8700,#ff8400,#ff8500,#ff8900,#ff9200,#ff9e00,#ffac00,#ffba00,#ffc700,#ffd000,#ffd400,#ffd100,#ffc500)"></i>
<i style="top:108px;height:5px;background:linear-gradient(90deg,#ffc700,#ffc300,#ffbb00,#ffb000,#ffa500,#ff9900,#ff8e00,#ff8500,#ff8000,#ff7e00,#ff8000,#ff8600,#ff8f00,#ff9a00,#ffa600,#ffb300,#ffbe00,#ffc600,#ffc900,#ffc700,#ffbe00)"></i>
<i style="top:112px;height:5px;background:linear-gradient(90deg,#ffc300,#ffbf00,#ffb700,#ffac00,#ff9f00,#ff9300,#ff8700,#ff7f00,#ff7900,#ff7900,#ff7d00,#ff8400,#ff8d00,#ff9700,#ffa200,#ffac00,#ffb500,#ffbc00,#ffbf00,#ffbe00,#ffb800)"></i>
<i style="top:116px;height:5px;background:linear-gradient(90deg,#ffc000,#ffbc00,#ffb300,#ffa800,#ff9b00,#ff8e00,#ff8200,#ff7900,#ff7500,#ff7500,#ff7b00,#ff8300,#ff8c00,#ff9600,#ff9f00,#ffa700,#ffae00,#ffb400,#ffb700,#ffb700,#ffb400)"></i>
<i style="top:120px;height:5px;background:linear-gradient(90deg,#ffbf00,#ffba00,#ffb100,#ffa500,#ff9700,#ff8900,#ff7d00,#ff7500,#ff7100,#ff7300,#ff7a00,#ff8300,#ff8d00,#ff9600,#ff9e00,#ffa400,#ffaa00,#ffae00,#ffb100,#ffb200,#ffb200)"></i>
<i style="top:124px;height:5px;background:linear-gradient(90deg,#ffbf00,#ffba00,#ffb000,#ffa300,#ff9400,#ff8600,#ff7a00,#ff7200,#ff6e00,#ff7200,#ff7a00,#ff8400,#ff8e00,#ff9700,#ff9e00,#ffa300,#ffa700,#ffaa00,#ffad00,#ffaf00,#ffb100)"></i>
<i style="top:128px;height:5px;background:linear-gradient(90deg,#ffc000,#ffbb00,#ffb000,#ffa100,#ff9200,#ff8400,#ff7800,#ff6f00,#ff6d00,#ff7100,#ff7a00,#ff8600,#ff9000,#ff9900,#ff9f00,#ffa300,#ffa600,#ffa900,#ffab00,#ffae00,#ffb200)"></i>
<i style="top:132px;height:5px;background:linear-gradient(90deg,#ffc200,#ffbd00,#ffb000,#ffa000,#ff9100,#ff8200,#ff7600,#ff6e00,#ff6c00,#ff7100,#ff7b00,#ff8700,#ff9300,#ff9b00,#ffa000,#ffa400,#ffa600,#ffa800,#ffaa00,#ffae00,#ffb300)"></i>
<i style="top:136px;height:5px;background:linear-gradient(90deg,#ffc500,#ffc000,#ffb100,#ffa000,#ff9000,#ff8100,#ff7500,#ff6d00,#ff6c00,#ff7200,#ff7c00,#ff8900,#ff9400,#ff9c00,#ffa100,#ffa400,#ffa600,#ffa700,#ffa900,#ffad00,#ffb400)"></i>
<i style="top:140px;height:5px;background:linear-gradient(90deg,#ffc800,#ffc500,#ffb400,#ff9f00,#ff8e00,#ff8000,#ff7400,#ff6d00,#ff6c00,#ff7200,#ff7d00,#ff8a00,#ff9500,#ff9d00,#ffa100,#ffa400,#ffa500,#ffa600,#ffa800,#ffac00,#ffb300)"></i>
<i style="top:144px;height:5px;background:linear-gradient(90deg,#ffcb00,#ffca00,#ffb700,#ff9e00,#ff8d00,#ff7f00,#ff7400,#ff6d00,#ff6c00,#ff7200,#ff7d00,#ff8a00,#ff9500,#ff9c00,#ffa000,#ffa200,#ffa300,#ffa400,#ffa600,#ffaa00,#ffb100)"></i>
<i style="top:148px;height:5px;background:linear-gradient(90deg,#ffcd00,#ffd100,#ffba00,#ff9d00,#ff8c00,#ff7e00,#ff7300,#ff6d00,#ff6c00,#ff7200,#ff7c00,#ff8800,#ff9200,#ff9900,#ff9d00,#ff9f00,#ff9f00,#ffa000,#ffa100,#ffa500,#ffac00)"></i>
<i style="top:152px;height:5px;background:linear-gradient(90deg,#ffce00,#ffd600,#ffbc00,#ff9c00,#ff8b00,#ff7d00,#ff7300,#ff6d00,#ff6c00,#ff7100,#ff7a00,#ff8500,#ff8e00,#ff9400,#ff9700,#ff9900,#ff9900,#ff9900,#ff9a00,#ff9d00,#ffa300)"></i>
<i style="top:156px;height:5px;background:linear-gradient(90deg,#ffce00,#ffd800,#ffbc00,#ff9a00,#ff8900,#ff7d00,#ff7300,#ff6d00,#ff6c00,#ff7000,#ff7700,#ff8000,#ff8800,#ff8d00,#ff9000,#ff9100,#ff9100,#ff9100,#ff9100,#ff9400,#ff9800)"></i>
<i style="top:160px;height:5px;background:linear-gradient(90deg,#ffcb00,#ffd600,#ffba00,#ff9700,#ff8700,#ff7c00,#ff7300,#ff6d00,#ff6b00,#ff6e00,#ff7400,#ff7a00,#ff8100,#ff8500,#ff8700,#ff8700,#ff8700,#ff8700,#ff8700,#ff8800,#ff8b00)"></i>
<i style="top:164px;height:5px;background:linear-gradient(90deg,#ffc600,#ffcf00,#ffb400,#ff9400,#ff8500,#ff7b00,#ff7300,#ff6d00,#ff6b00,#ff6c00,#ff7000,#ff7400,#ff7900,#ff7b00,#ff7d00,#ff7d00,#ff7d00,#ff7c00,#ff7c00,#ff7c00,#ff7c00)"></i>
<i style="top:168px;height:5px;background:linear-gradient(90deg,#ffc000,#ffc500,#ffad00,#ff9100,#ff8300,#ff7a00,#ff7300,#ff6e00,#ff6b00,#ff6b00,#ff6c00,#ff6e00,#ff7100,#ff7200,#ff7200,#ff7200,#ff7200,#ff7100,#ff7000,#ff6f00,#ff6e00)"></i>
<i style="top:172px;height:5px;background:linear-gradient(90deg,#ffb900,#ffb900,#ffa400,#ff8d00,#ff8200,#ff7a00,#ff7300,#ff6e00,#ff6b00,#ff6900,#ff6900,#ff6900,#ff6900,#ff6900,#ff6900,#ff6800,#ff6700,#ff6600,#ff6400,#ff6200,#ff5f00)"></i>
<i style="top:176px;height:5px;background:linear-gradient(90deg,#ffb300,#ffae00,#ff9c00,#ff8a00,#ff8000,#ff7900,#ff7400,#ff7000,#ff6c00,#ff6900,#ff6600,#ff6400,#ff6200,#ff6100,#ff6000,#ff5e00,#ff5d00,#ff5b00,#ff5900,#ff5600,#ff5200)"></i>
<i style="top:180px;height:5px;background:linear-gradient(90deg,#ffad00,#ffa400,#ff9500,#ff8700,#ff7f00,#ff7900,#ff7500,#ff7100,#ff6d00,#ff6900,#ff6500,#ff6000,#ff5d00,#ff5a00,#ff5800,#ff5600,#ff5400,#ff5200,#ff4f00,#ff4b00,#ff4600)"></i>
<i style="top:184px;height:5px;background:linear-gradient(90deg,#ffa900,#ff9c00,#ff8f00,#ff8400,#ff7e00,#ff7a00,#ff7600,#ff7300,#ff6f00,#ff6a00,#ff6400,#ff5e00,#ff5900,#ff5500,#ff5200,#ff4f00,#ff4d00,#ff4a00,#ff4700,#ff4200,#ff3c00)"></i>
<i style="top:188px;height:5px;background:linear-gradient(90deg,#ffa500,#ff9700,#ff8b00,#ff8200,#ff7d00,#ff7a00,#ff7800,#ff7500,#ff7200,#ff6c00,#ff6500,#ff5d00,#ff5600,#ff5100,#ff4d00,#ff4a00,#ff4700,#ff4400,#ff4000,#ff3b00,#ff3500)"></i>
<i style="top:192px;height:5px;background:linear-gradient(90deg,#ffa200,#ff9300,#ff8800,#ff8000,#ff7d00,#ff7b00,#ff7a00,#ff7800,#ff7400,#ff6e00,#ff6500,#ff5d00,#ff5500,#ff4e00,#ff4900,#ff4500,#ff4100,#ff3e00,#ff3a00,#ff3500,#ff2e00)"></i>
<i style="top:196px;height:5px;background:linear-gradient(90deg,#ffa000,#ff9000,#ff8500,#ff7f00,#ff7c00,#ff7b00,#ff7b00,#ff7a00,#ff7600,#ff6f00,#ff6700,#ff5d00,#ff5400,#ff4c00,#ff4600,#ff4100,#ff3d00,#ff3900,#ff3400,#ff2f00,#ff2900)"></i>
<i style="top:200px;height:5px;background:linear-gradient(90deg,#ff9d00,#ff8d00,#ff8300,#ff7d00,#ff7b00,#ff7b00,#ff7c00,#ff7b00,#ff7800,#ff7100,#ff6800,#ff5d00,#ff5300,#ff4b00,#ff4400,#ff3e00,#ff3900,#ff3500,#ff3000,#ff2b00,#ff2500)"></i>
<i style="top:204px;height:5px;background:linear-gradient(90deg,#ff9b00,#ff8b00,#ff8100,#ff7c00,#ff7a00,#ff7b00,#ff7c00,#ff7c00,#ff7900,#ff7200,#ff6900,#ff5e00,#ff5300,#ff4a00,#ff4200,#ff3c00,#ff3600,#ff3100,#ff2c00,#ff2700,#ff2200)"></i>
<i style="top:208px;height:5px;background:linear-gradient(90deg,#ff9900,#ff8800,#ff7e00,#ff7a00,#ff7900,#ff7a00,#ff7c00,#ff7c00,#ff7900,#ff7300,#ff6900,#ff5e00,#ff5300,#ff4900,#ff4000,#ff3900,#ff3300,#ff2d00,#ff2800,#ff2400,#ff2000)"></i>
<i style="top:212px;height:5px;background:linear-gradient(90deg,#ff9600,#ff8600,#ff7c00,#ff7800,#ff7700,#ff7800,#ff7a00,#ff7b00,#ff7800,#ff7200,#ff6800,#ff5d00,#ff5200,#ff4800,#ff3f00,#ff3700,#ff3000,#ff2a00,#ff2500,#ff2100,#ff1d00)"></i>
<i style="top:216px;height:5px;background:linear-gradient(90deg,#ff9300,#ff8300,#ff7a00,#ff7600,#ff7500,#ff7600,#ff7800,#ff7800,#ff7600,#ff7000,#ff6700,#ff5c00,#ff5100,#ff4600,#ff3d00,#ff3400,#ff2d00,#ff2600,#ff2100,#ff1e00,#ff1b00)"></i>
<i style="top:220px;height:5px;background:linear-gradient(90deg,#ff9000,#ff8000,#ff7700,#ff7300,#ff7200,#ff7200,#ff7400,#ff7400,#ff7200,#ff6c00,#ff6400,#ff5900,#ff4e00,#ff4400,#ff3a00,#ff3100,#ff2900,#ff2300,#ff1e00,#ff1a00,#ff1900)"></i>
<i style="top:224px;height:5px;background:linear-gradient(90deg,#ff8c00,#ff7d00,#ff7400,#ff7000,#ff6e00,#ff6e00,#ff6e00,#ff6e00,#ff6c00,#ff6600,#ff5f00,#ff5500,#ff4b00,#ff4100,#ff3700,#ff2e00,#ff2600,#ff1f00,#ff1a00,#ff1700,#ff1600)"></i>
<i style="top:228px;height:5px;background:linear-gradient(90deg,#ff8700,#ff7a00,#ff7100,#ff6c00,#ff6900,#ff6800,#ff6700,#ff6600,#ff6400,#ff5f00,#ff5800,#ff5000,#ff4600,#ff3c00,#ff3300,#ff2900,#ff2100,#ff1a00,#ff1500,#ff1300,#ff1300)"></i>
<i style="top:232px;height:5px;background:linear-gradient(90deg,#ff8200,#ff7600,#ff6d00,#ff6700,#ff6300,#ff6100,#ff5f00,#ff5c00,#ff5900,#ff5500,#ff4f00,#ff4800,#ff4000,#ff3700,#ff2d00,#ff2400,#ff1c00,#ff1500,#ff1000,#ff0e00,#ff0e00)"></i>
<i style="top:236px;height:5px;background:linear-gradient(90deg,#ff7c00,#ff7100,#ff6900,#ff6200,#ff5c00,#ff5800,#ff5400,#ff5000,#ff4c00,#ff4800,#ff4300,#ff3e00,#ff3700,#ff2f00,#ff2700,#ff1e00,#ff1600,#ff0f00,#ff0a00,#ff0800,#ff0900)"></i>
</div>
<div class="p" style="left:770.3px;top:288.4px">
<i style="top:0px;height:5px;background:linear-gradient(90deg,#00008e,#00008e,#000091,#000099,#0000a3,#0000af,#0000bd,#0000cc,#0000da,#0000e9,#0000fd,#003aff,#0017ff,#0000f2,#0000e4,#0000d4,#0000c7,#0000c0,#0000c2,#0000d2,#0000f3)"></i>
<i style="top:4px;height:5px;background:linear-gradient(90deg,#000093,#000094,#000099,#0000a1,#0000aa,#0000b6,#0000c3,#0000d1,#0000df,#0000ed,#0003ff,#0045ff,#001dff,#0000f7,#0000e8,#0000d9,#0000cb,#0000c4,#0000c6,#0000d5,#0000f5)"></i>
<i style="top:8px;height:5px;background:linear-gradient(90deg,#00009a,#00009d,#0000a2,#0000aa,#0000b3,#0000be,#0000cb,#0000d7,#0000e5,#0000f2,#0009ff,#004fff,#0025ff,#0000fc,#0000ed,#0000de,#0000d1,#0000c9,#0000ca,#0000d9,#0000f9)"></i>
<i style="top:12px;height:5px;background:linear-gradient(90deg,#0000a3,#0000a7,#0000ac,#0000b4,#0000bd,#0000c8,#0000d3,#0000e0,#0000ec,#0000f9,#000fff,#0058ff,#002cff,#0003ff,#0000f3,#0000e4,#0000d7,#0000cf,#0000d1,#0000df,#0000fd)"></i>
<i style="top:16px;height:5px;background:linear-gradient(90deg,#0000ad,#0000b1,#0000b7,#0000bf,#0000c8,#0000d2,#0000dd,#0000e9,#0000f5,#0002ff,#0017ff,#0060ff,#0033ff,#0009ff,#0000fa,#0000eb,#0000de,#0000d7,#0000d8,#0000e6,#0004ff)"></i>
<i style="top:20px;height:5px;background:linear-gradient(90deg,#0000b8,#0000bd,#0000c3,#0000cb,#0000d4,#0000dd,#0000e8,#0000f3,#0000fe,#000aff,#001eff,#0066ff,#0039ff,#0010ff,#0003ff,#0000f3,#0000e7,#0000df,#0000e0,#0000ed,#000bff)"></i>
<i style="top:24px;height:5px;background:linear-gradient(90deg,#0000c5,#0000ca,#0000d0,#0000d7,#0000e0,#0000e9,#0000f3,#0000fd,#0009ff,#0013ff,#0026ff,#006aff,#003fff,#0018ff,#000aff,#0000fb,#0000ef,#0000e8,#0000e9,#0000f6,#0012ff)"></i>
<i style="top:28px;height:5px;background:linear-gradient(90deg,#0000d3,#0000d7,#0000dd,#0000e4,#0000ec,#0000f5,#0000ff,#0009ff,#0013ff,#001dff,#002eff,#006dff,#0044ff,#001fff,#0012ff,#0005ff,#0000f9,#0000f2,#0000f3,#0000ff,#001aff)"></i>
<i style="top:32px;height:5px;background:linear-gradient(90deg,#0000e1,#0000e4,#0000ea,#0000f1,#0000f9,#0002ff,#000bff,#0015ff,#001eff,#0026ff,#0036ff,#006eff,#0049ff,#0027ff,#001bff,#000eff,#0003ff,#0000fc,#0000fe,#000aff,#0022ff)"></i>
<i style="top:36px;height:5px;background:linear-gradient(90deg,#0000ef,#0000f2,#0000f7,#0000fe,#0006ff,#000fff,#0017ff,#0020ff,#0028ff,#0030ff,#003dff,#006fff,#004dff,#002eff,#0023ff,#0017ff,#000dff,#0008ff,#0009ff,#0014ff,#002aff)"></i>
<i style="top:40px;height:5px;background:linear-gradient(90deg,#0000fe,#0001ff,#0006ff,#000cff,#0013ff,#001bff,#0023ff,#002bff,#0033ff,#0039ff,#0044ff,#006eff,#0051ff,#0035ff,#002bff,#0020ff,#0017ff,#0012ff,#0014ff,#001eff,#0033ff)"></i>
<i style="top:44px;height:5px;background:linear-gradient(90deg,#000eff,#000fff,#0013ff,#0019ff,#001fff,#0027ff,#002fff,#0036ff,#003dff,#0042ff,#004bff,#006dff,#0054ff,#003cff,#0032ff,#0029ff,#0021ff,#001dff,#001fff,#0029ff,#003cff)"></i>
<i style="top:48px;height:5px;background:linear-gradient(90deg,#001dff,#001dff,#0020ff,#0025ff,#002bff,#0032ff,#003aff,#0040ff,#0046ff,#004aff,#0051ff,#006cff,#0056ff,#0042ff,#0039ff,#0031ff,#002aff,#0027ff,#002aff,#0033ff,#0045ff)"></i>
<i style="top:52px;height:5px;background:linear-gradient(90deg,#002bff,#002bff,#002dff,#0031ff,#0037ff,#003dff,#0044ff,#004aff,#004fff,#0052ff,#0056ff,#006aff,#0058ff,#0047ff,#0040ff,#0039ff,#0034ff,#0031ff,#0034ff,#003dff,#004dff)"></i>
<i style="top:56px;height:5px;background:linear-gradient(90deg,#0039ff,#0038ff,#0039ff,#003cff,#0041ff,#0047ff,#004dff,#0052ff,#0056ff,#0058ff,#005aff,#0069ff,#005aff,#004cff,#0045ff,#0040ff,#003cff,#003bff,#003eff,#0047ff,#0056ff)"></i>
<i style="top:60px;height:5px;background:linear-gradient(90deg,#0047ff,#0044ff,#0044ff,#0047ff,#004bff,#0050ff,#0055ff,#005aff,#005cff,#005dff,#005eff,#0067ff,#005bff,#004fff,#004aff,#0046ff,#0044ff,#0044ff,#0048ff,#0050ff,#005dff)"></i>
<i style="top:64px;height:5px;background:linear-gradient(90deg,#0053ff,#004fff,#004fff,#0051ff,#0054ff,#0058ff,#005dff,#0060ff,#0061ff,#0061ff,#0060ff,#0065ff,#005bff,#0052ff,#004eff,#004cff,#004bff,#004cff,#0051ff,#0059ff,#0064ff)"></i>
<i style="top:68px;height:5px;background:linear-gradient(90deg,#005fff,#005aff,#0059ff,#005aff,#005dff,#0060ff,#0063ff,#0066ff,#0066ff,#0064ff,#0062ff,#0064ff,#005bff,#0055ff,#0052ff,#0051ff,#0052ff,#0055ff,#005aff,#0061ff,#006cff)"></i>
<i style="top:72px;height:5px;background:linear-gradient(90deg,#006aff,#0065ff,#0063ff,#0063ff,#0065ff,#0068ff,#006aff,#006bff,#006bff,#0068ff,#0065ff,#0064ff,#005dff,#0058ff,#0057ff,#0057ff,#0059ff,#005dff,#0062ff,#006aff,#0073ff)"></i>
<i style="top:76px;height:5px;background:linear-gradient(90deg,#0074ff,#006fff,#006dff,#006cff,#006eff,#0070ff,#0071ff,#0072ff,#0071ff,#006dff,#0069ff,#0066ff,#0060ff,#005cff,#005cff,#005eff,#0061ff,#0065ff,#006cff,#0073ff,#007bff)"></i>
<i style="top:80px;height:5px;background:linear-gradient(90deg,#007fff,#0079ff,#0077ff,#0076ff,#0077ff,#0078ff,#0079ff,#007aff,#0078ff,#0074ff,#006fff,#006bff,#0066ff,#0063ff,#0063ff,#0066ff,#006aff,#006fff,#0075ff,#007cff,#0084ff)"></i>
<i style="top:84px;height:5px;background:linear-gradient(90deg,#0089ff,#0084ff,#0081ff,#0081ff,#0081ff,#0082ff,#0083ff,#0083ff,#0081ff,#007dff,#0077ff,#0073ff,#006eff,#006cff,#006dff,#006fff,#0074ff,#007aff,#0080ff,#0087ff,#008eff)"></i>
<i style="top:88px;height:5px;background:linear-gradient(90deg,#0093ff,#008eff,#008cff,#008cff,#008dff,#008eff,#008fff,#008fff,#008dff,#0089ff,#0083ff,#007fff,#007aff,#0078ff,#0079ff,#007cff,#0080ff,#0086ff,#008cff,#0093ff,#0099ff)"></i>
<i style="top:92px;height:5px;background:linear-gradient(90deg,#009dff,#0099ff,#0098ff,#0098ff,#009aff,#009bff,#009dff,#009dff,#009cff,#0098ff,#0093ff,#008eff,#008aff,#0088ff,#0088ff,#008bff,#008eff,#0093ff,#0099ff,#00a0ff,#00a7ff)"></i>
<i style="top:96px;height:5px;background:linear-gradient(90deg,#00a7ff,#00a4ff,#00a4ff,#00a5ff,#00a7ff,#00aaff,#00acff,#00adff,#00adff,#00aaff,#00a6ff,#00a1ff,#009dff,#009bff,#009bff,#009cff,#009eff,#00a2ff,#00a8ff,#00aeff,#00b5ff)"></i>
<i style="top:100px;height:5px;background:linear-gradient(90deg,#00b0ff,#00afff,#00afff,#00b2ff,#00b6ff,#00b9ff,#00bdff,#00bfff,#00bfff,#00beff,#00baff,#00b7ff,#00b3ff,#00b0ff,#00afff,#00aeff,#00b0ff,#00b3ff,#00b7ff,#00beff,#00c6ff)"></i>
<i style="top:104px;height:5px;background:linear-gradient(90deg,#00b8ff,#00b8ff,#00baff,#00beff,#00c3ff,#00c8ff,#00cdff,#00d1ff,#00d2ff,#00d2ff,#00d0ff,#00cdff,#00c9ff,#00c6ff,#00c4ff,#00c2ff,#00c2ff,#00c4ff,#00c8ff,#00ceff,#00d7ff)"></i>
<i style="top:108px;height:5px;background:linear-gradient(90deg,#00c0ff,#00c1ff,#00c4ff,#00c9ff,#00d0ff,#00d6ff,#00ddff,#00e2ff,#00e5ff,#00e6ff,#00e5ff,#00e3ff,#00e0ff,#00ddff,#00d9ff,#00d7ff,#00d6ff,#00d6ff,#00d9ff,#00e0ff,#00e9ff)"></i>
<i style="top:112px;height:5px;background:linear-gradient(90deg,#00c6ff,#00c8ff,#00ccff,#00d3ff,#00daff,#00e3ff,#00ebff,#00f2ff,#00f7ff,#00f9ff,#00faff,#00f9ff,#00f6ff,#00f2ff,#00efff,#00ebff,#00e9ff,#00e9ff,#00ecff,#00f2ff,#00fcff)"></i>
<i style="top:116px;height:5px;background:linear-gradient(90deg,#00caff,#00cdff,#00d2ff,#00daff,#00e3ff,#00edff,#00f6ff,#00ffff,#07fff8,#0bfff4,#0dfff2,#0dfff2,#0bfff4,#08fff7,#04fffb,#00ffff,#00fdff,#00fcff,#00ffff,#06fff9,#11ffee)"></i>
<i style="top:120px;height:5px;background:linear-gradient(90deg,#00cdff,#00cfff,#00d5ff,#00ddff,#00e8ff,#00f3ff,#00ffff,#0afff5,#13ffec,#19ffe6,#1cffe3,#1dffe2,#1cffe3,#1affe5,#16ffe9,#13ffec,#11ffee,#10ffef,#13ffec,#19ffe6,#24ffdb)"></i>
<i style="top:124px;height:5px;background:linear-gradient(90deg,#00cfff,#00d0ff,#00d5ff,#00deff,#00eaff,#00f7ff,#06fff9,#12ffed,#1cffe3,#23ffdc,#28ffd7,#2affd5,#2affd5,#29ffd6,#27ffd8,#24ffdb,#23ffdc,#24ffdb,#27ffd8,#2dffd2,#38ffc7)"></i>
<i style="top:128px;height:5px;background:linear-gradient(90deg,#00cfff,#00ceff,#00d4ff,#00deff,#00eaff,#00f9ff,#09fff6,#17ffe8,#23ffdc,#2cffd3,#31ffce,#35ffca,#36ffc9,#36ffc9,#35ffca,#35ffca,#35ffca,#36ffc9,#3affc5,#41ffbe,#4cffb3)"></i>
<i style="top:132px;height:5px;background:linear-gradient(90deg,#00ceff,#00cdff,#00d2ff,#00dcff,#00e9ff,#00f9ff,#0bfff4,#1affe5,#28ffd7,#32ffcd,#39ffc6,#3dffc2,#40ffbf,#41ffbe,#43ffbc,#44ffbb,#46ffb9,#49ffb6,#4dffb2,#55ffaa,#5fffa0)"></i>
<i style="top:136px;height:5px;background:linear-gradient(90deg,#00cdff,#00caff,#00cfff,#00daff,#00e8ff,#00f9ff,#0cfff3,#1dffe2,#2cffd3,#37ffc8,#3fffc0,#44ffbb,#48ffb7,#4cffb3,#4fffb0,#52ffad,#56ffa9,#5affa5,#60ff9f,#68ff97,#71ff8e)"></i>
<i style="top:140px;height:5px;background:linear-gradient(90deg,#00ccff,#00c9ff,#00cdff,#00d8ff,#00e8ff,#00faff,#0efff1,#20ffdf,#30ffcf,#3cffc3,#44ffbb,#4bffb4,#50ffaf,#55ffaa,#5affa5,#5fffa0,#65ff9a,#6bff94,#72ff8d,#79ff86,#82ff7d)"></i>
<i style="top:144px;height:5px;background:linear-gradient(90deg,#00ccff,#00c8ff,#00cdff,#00d9ff,#00e9ff,#00fcff,#11ffee,#24ffdb,#34ffcb,#41ffbe,#4affb5,#52ffad,#58ffa7,#5effa1,#65ff9a,#6cff93,#73ff8c,#7aff85,#82ff7d,#8aff75,#92ff6d)"></i>
<i style="top:148px;height:5px;background:linear-gradient(90deg,#00ccff,#00caff,#00cfff,#00dbff,#00ecff,#01fffe,#15ffea,#29ffd6,#3affc5,#47ffb8,#51ffae,#59ffa6,#60ff9f,#68ff97,#70ff8f,#78ff87,#80ff7f,#89ff76,#91ff6e,#99ff66,#a0ff5f)"></i>
<i style="top:152px;height:5px;background:linear-gradient(90deg,#00ceff,#00cdff,#00d4ff,#00e1ff,#00f3ff,#08fff7,#1cffe3,#30ffcf,#41ffbe,#4effb1,#59ffa6,#61ff9e,#69ff96,#72ff8d,#7bff84,#84ff7b,#8dff72,#96ff69,#9eff61,#a6ff59,#adff52)"></i>
<i style="top:156px;height:5px;background:linear-gradient(90deg,#00d1ff,#00d3ff,#00dcff,#00eaff,#00fcff,#11ffee,#25ffda,#39ffc6,#4affb5,#57ffa8,#62ff9d,#6bff94,#73ff8c,#7cff83,#85ff7a,#8fff70,#98ff67,#a1ff5e,#aaff55,#b1ff4e,#b7ff48)"></i>
<i style="top:160px;height:5px;background:linear-gradient(90deg,#00d6ff,#00dbff,#00e6ff,#00f5ff,#09fff6,#1dffe2,#31ffce,#44ffbb,#54ffab,#62ff9d,#6cff93,#75ff8a,#7eff81,#87ff78,#90ff6f,#9aff65,#a3ff5c,#acff53,#b4ff4b,#bcff43,#c1ff3e)"></i>
<i style="top:164px;height:5px;background:linear-gradient(90deg,#00dcff,#00e5ff,#00f2ff,#04fffb,#16ffe9,#2affd5,#3dffc2,#50ffaf,#60ff9f,#6dff92,#77ff88,#81ff7e,#89ff76,#92ff6d,#9cff63,#a5ff5a,#aeff51,#b7ff48,#beff41,#c5ff3a,#cbff34)"></i>
<i style="top:168px;height:5px;background:linear-gradient(90deg,#00e4ff,#00f1ff,#01fffe,#12ffed,#25ffda,#38ffc7,#4bffb4,#5dffa2,#6cff93,#79ff86,#83ff7c,#8cff73,#95ff6a,#9eff61,#a7ff58,#b0ff4f,#b8ff47,#c1ff3e,#c8ff37,#cfff30,#d4ff2b)"></i>
<i style="top:172px;height:5px;background:linear-gradient(90deg,#00eeff,#00feff,#10ffef,#22ffdd,#35ffca,#48ffb7,#5affa5,#6bff94,#79ff86,#85ff7a,#90ff6f,#99ff66,#a1ff5e,#aaff55,#b2ff4d,#bbff44,#c3ff3c,#cbff34,#d2ff2d,#d8ff27,#ddff22)"></i>
<i style="top:176px;height:5px;background:linear-gradient(90deg,#00faff,#0dfff2,#20ffdf,#33ffcc,#45ffba,#58ffa7,#69ff96,#79ff86,#87ff78,#92ff6d,#9cff63,#a5ff5a,#adff52,#b6ff49,#beff41,#c6ff39,#ceff31,#d5ff2a,#dcff23,#e2ff1d,#e7ff18)"></i>
<i style="top:180px;height:5px;background:linear-gradient(90deg,#08fff7,#1cffe3,#30ffcf,#43ffbc,#56ffa9,#68ff97,#78ff87,#87ff78,#94ff6b,#9fff60,#a9ff56,#b1ff4e,#baff45,#c2ff3d,#caff35,#d1ff2e,#d9ff26,#e0ff1f,#e7ff18,#edff12,#f2ff0d)"></i>
<i style="top:184px;height:5px;background:linear-gradient(90deg,#17ffe8,#2cffd3,#41ffbe,#54ffab,#66ff99,#77ff88,#87ff78,#95ff6a,#a1ff5e,#acff53,#b5ff4a,#beff41,#c6ff39,#ceff31,#d5ff2a,#ddff22,#e4ff1b,#ecff13,#f2ff0d,#f9ff06,#ffff00)"></i>
<i style="top:188px;height:5px;background:linear-gradient(90deg,#27ffd8,#3dffc2,#51ffae,#65ff9a,#76ff89,#87ff78,#96ff69,#a3ff5c,#afff50,#b9ff46,#c2ff3d,#caff35,#d2ff2d,#daff25,#e1ff1e,#e9ff16,#f0ff0f,#f8ff07,#ffff00,#fff800,#fff200)"></i>
<i style="top:192px;height:5px;background:linear-gradient(90deg,#38ffc7,#4effb1,#62ff9d,#75ff8a,#86ff79,#96ff69,#a4ff5b,#b1ff4e,#bcff43,#c6ff39,#cfff30,#d7ff28,#deff21,#e6ff19,#edff12,#f5ff0a,#fcff03,#fffa00,#fff300,#ffeb00,#ffe400)"></i>
<i style="top:196px;height:5px;background:linear-gradient(90deg,#4affb5,#60ff9f,#73ff8c,#85ff7a,#95ff6a,#a4ff5b,#b2ff4d,#beff41,#c9ff36,#d2ff2d,#dbff24,#e3ff1c,#eaff15,#f2ff0d,#f9ff06,#fffd00,#fff500,#ffee00,#ffe600,#ffde00,#ffd500)"></i>
<i style="top:200px;height:5px;background:linear-gradient(90deg,#5dffa2,#71ff8e,#84ff7b,#95ff6a,#a4ff5b,#b3ff4c,#bfff40,#cbff34,#d5ff2a,#deff21,#e7ff18,#eeff11,#f6ff09,#feff01,#fff900,#fff100,#ffe900,#ffe100,#ffd900,#ffd000,#ffc700)"></i>
<i style="top:204px;height:5px;background:linear-gradient(90deg,#6fff90,#82ff7d,#94ff6b,#a4ff5b,#b3ff4c,#c0ff3f,#ccff33,#d7ff28,#e1ff1e,#eaff15,#f2ff0d,#faff05,#fffc00,#fff500,#ffed00,#ffe500,#ffdd00,#ffd500,#ffcc00,#ffc300,#ffb900)"></i>
<i style="top:208px;height:5px;background:linear-gradient(90deg,#81ff7e,#93ff6c,#a3ff5c,#b3ff4c,#c0ff3f,#cdff32,#d9ff26,#e3ff1c,#edff12,#f6ff09,#feff01,#fff900,#fff100,#ffea00,#ffe200,#ffda00,#ffd100,#ffc900,#ffbf00,#ffb500,#ffab00)"></i>
<i style="top:212px;height:5px;background:linear-gradient(90deg,#93ff6c,#a3ff5c,#b2ff4d,#c0ff3f,#cdff32,#d9ff26,#e4ff1b,#efff10,#f8ff07,#fffe00,#fff600,#ffee00,#ffe600,#ffdf00,#ffd700,#ffcf00,#ffc600,#ffbd00,#ffb300,#ffa900,#ff9e00)"></i>
<i style="top:216px;height:5px;background:linear-gradient(90deg,#a3ff5c,#b2ff4d,#c0ff3f,#ceff31,#daff25,#e5ff1a,#efff10,#f9ff06,#fffc00,#fff300,#ffeb00,#ffe400,#ffdc00,#ffd400,#ffcc00,#ffc400,#ffbb00,#ffb200,#ffa800,#ff9d00,#ff9200)"></i>
<i style="top:220px;height:5px;background:linear-gradient(90deg,#b3ff4c,#c1ff3e,#ceff31,#daff25,#e5ff1a,#f0ff0f,#faff05,#fffb00,#fff200,#ffea00,#ffe200,#ffda00,#ffd200,#ffca00,#ffc200,#ffb900,#ffb000,#ffa700,#ff9d00,#ff9200,#ff8700)"></i>
<i style="top:224px;height:5px;background:linear-gradient(90deg,#c0ff3f,#ceff31,#daff25,#e5ff1a,#f0ff0f,#faff05,#fffb00,#fff200,#ffe900,#ffe100,#ffd900,#ffd000,#ffc800,#ffc000,#ffb800,#ffb000,#ffa700,#ff9d00,#ff9300,#ff8900,#ff7d00)"></i>
<i style="top:228px;height:5px;background:linear-gradient(90deg,#ccff33,#d9ff26,#e5ff1a,#efff10,#f9ff06,#fffb00,#fff300,#ffea00,#ffe100,#ffd900,#ffd000,#ffc800,#ffbf00,#ffb700,#ffaf00,#ffa600,#ff9e00,#ff9500,#ff8b00,#ff8100,#ff7600)"></i>
<i style="top:232px;height:5px;background:linear-gradient(90deg,#d6ff29,#e3ff1c,#eeff11,#f8ff07,#fffc00,#fff300,#ffeb00,#ffe300,#ffda00,#ffd200,#ffc900,#ffc000,#ffb700,#ffae00,#ffa600,#ff9e00,#ff9600,#ff8d00,#ff8400,#ff7b00,#ff7000)"></i>
<i style="top:236px;height:5px;background:linear-gradient(90deg,#ddff22,#ebff14,#f6ff09,#fffe00,#fff500,#ffed00,#ffe500,#ffdd00,#ffd400,#ffcb00,#ffc200,#ffb800,#ffaf00,#ffa600,#ff9e00,#ff9600,#ff8f00,#ff8700,#ff7f00,#ff7600,#ff6d00)"></i>
</div>
<div class="p" style="left:38.3px;top:562.8px">
<i style="top:0px;height:5px;background:linear-gradient(90deg,#0029ff,#001dff,#001aff,#001dff,#0025ff,#0031ff,#0040ff,#0050ff,#0061ff,#0070ff,#0081ff,#00a1ff,#008eff,#0075ff,#0062ff,#004dff,#0039ff,#002cff,#0029ff,#0035ff,#0055ff)"></i>
<i style="top:4px;height:5px;background:linear-gradient(90deg,#002eff,#0024ff,#0021ff,#0026ff,#002fff,#003dff,#004dff,#005eff,#0070ff,#0080ff,#0090ff,#00b3ff,#009dff,#0083ff,#006fff,#0059ff,#0046ff,#0039ff,#0036ff,#0043ff,#0063ff)"></i>
<i style="top:8px;height:5px;background:linear-gradient(90deg,#0034ff,#002aff,#0029ff,#002eff,#0039ff,#0048ff,#005aff,#006cff,#007eff,#008eff,#009fff,#00c2ff,#00abff,#008fff,#007bff,#0066ff,#0053ff,#0046ff,#0043ff,#0050ff,#0071ff)"></i>
<i style="top:12px;height:5px;background:linear-gradient(90deg,#003cff,#0032ff,#0031ff,#0037ff,#0044ff,#0054ff,#0067ff,#007aff,#008cff,#009cff,#00acff,#00cfff,#00b7ff,#009bff,#0087ff,#0072ff,#0060ff,#0053ff,#0051ff,#005dff,#007cff)"></i>
<i style="top:16px;height:5px;background:linear-gradient(90deg,#0044ff,#0039ff,#0039ff,#0040ff,#004eff,#0060ff,#0073ff,#0087ff,#009aff,#00a9ff,#00b8ff,#00daff,#00c1ff,#00a5ff,#0093ff,#007fff,#006dff,#0061ff,#005eff,#006aff,#0087ff)"></i>
<i style="top:20px;height:5px;background:linear-gradient(90deg,#004dff,#0042ff,#0041ff,#004aff,#0058ff,#006bff,#0080ff,#0094ff,#00a7ff,#00b5ff,#00c3ff,#00e3ff,#00caff,#00afff,#009dff,#008aff,#007aff,#006eff,#006cff,#0076ff,#0090ff)"></i>
<i style="top:24px;height:5px;background:linear-gradient(90deg,#0056ff,#004aff,#004aff,#0053ff,#0062ff,#0076ff,#008cff,#00a1ff,#00b3ff,#00c1ff,#00cdff,#00e9ff,#00d2ff,#00b8ff,#00a8ff,#0096ff,#0086ff,#007cff,#0079ff,#0082ff,#0098ff)"></i>
<i style="top:28px;height:5px;background:linear-gradient(90deg,#0060ff,#0053ff,#0053ff,#005cff,#006dff,#0081ff,#0098ff,#00adff,#00bfff,#00ccff,#00d6ff,#00eeff,#00d8ff,#00c1ff,#00b1ff,#00a1ff,#0093ff,#0089ff,#0086ff,#008dff,#009fff)"></i>
<i style="top:32px;height:5px;background:linear-gradient(90deg,#006aff,#005cff,#005cff,#0066ff,#0077ff,#008cff,#00a3ff,#00b9ff,#00cbff,#00d6ff,#00deff,#00f2ff,#00deff,#00c9ff,#00baff,#00acff,#009fff,#0095ff,#0092ff,#0097ff,#00a6ff)"></i>
<i style="top:36px;height:5px;background:linear-gradient(90deg,#0074ff,#0066ff,#0065ff,#006fff,#0080ff,#0096ff,#00aeff,#00c4ff,#00d5ff,#00e0ff,#00e6ff,#00f5ff,#00e3ff,#00d0ff,#00c3ff,#00b6ff,#00aaff,#00a1ff,#009eff,#00a1ff,#00acff)"></i>
<i style="top:40px;height:5px;background:linear-gradient(90deg,#007fff,#0070ff,#006fff,#0078ff,#008aff,#00a0ff,#00b8ff,#00ceff,#00dfff,#00e8ff,#00edff,#00f8ff,#00e8ff,#00d7ff,#00cbff,#00bfff,#00b5ff,#00adff,#00a9ff,#00aaff,#00b2ff)"></i>
<i style="top:44px;height:5px;background:linear-gradient(90deg,#0089ff,#0079ff,#0078ff,#0082ff,#0094ff,#00aaff,#00c1ff,#00d7ff,#00e8ff,#00f1ff,#00f4ff,#00fbff,#00edff,#00deff,#00d3ff,#00c8ff,#00bfff,#00b7ff,#00b2ff,#00b2ff,#00b8ff)"></i>
<i style="top:48px;height:5px;background:linear-gradient(90deg,#0094ff,#0083ff,#0082ff,#008bff,#009dff,#00b3ff,#00caff,#00e0ff,#00f0ff,#00f8ff,#00fbff,#00ffff,#00f2ff,#00e5ff,#00dbff,#00d1ff,#00c8ff,#00c0ff,#00bbff,#00baff,#00bdff)"></i>
<i style="top:52px;height:5px;background:linear-gradient(90deg,#009eff,#008eff,#008cff,#0095ff,#00a6ff,#00bbff,#00d2ff,#00e7ff,#00f7ff,#00ffff,#02fffd,#03fffc,#00f8ff,#00ecff,#00e2ff,#00d8ff,#00cfff,#00c8ff,#00c3ff,#00c1ff,#00c3ff)"></i>
<i style="top:56px;height:5px;background:linear-gradient(90deg,#00a8ff,#0098ff,#0096ff,#009eff,#00aeff,#00c3ff,#00d9ff,#00edff,#00fdff,#06fff9,#08fff7,#08fff7,#00feff,#00f3ff,#00e9ff,#00dfff,#00d6ff,#00ceff,#00c9ff,#00c7ff,#00c9ff)"></i>
<i style="top:60px;height:5px;background:linear-gradient(90deg,#00b1ff,#00a2ff,#00a0ff,#00a8ff,#00b7ff,#00caff,#00dfff,#00f3ff,#02fffd,#0bfff4,#0dfff2,#0dfff2,#05fffa,#00faff,#00f0ff,#00e5ff,#00dbff,#00d3ff,#00ceff,#00ccff,#00cfff)"></i>
<i style="top:64px;height:5px;background:linear-gradient(90deg,#00baff,#00acff,#00aaff,#00b1ff,#00bfff,#00d1ff,#00e4ff,#00f7ff,#06fff9,#0ffff0,#13ffec,#13ffec,#0cfff3,#02fffd,#00f6ff,#00ebff,#00e0ff,#00d7ff,#00d1ff,#00d1ff,#00d6ff)"></i>
<i style="top:68px;height:5px;background:linear-gradient(90deg,#00c2ff,#00b6ff,#00b4ff,#00baff,#00c7ff,#00d7ff,#00e9ff,#00fbff,#0afff5,#14ffeb,#19ffe6,#19ffe6,#14ffeb,#0afff5,#00fdff,#00f0ff,#00e3ff,#00daff,#00d4ff,#00d5ff,#00deff)"></i>
<i style="top:72px;height:5px;background:linear-gradient(90deg,#00caff,#00c0ff,#00beff,#00c4ff,#00cfff,#00deff,#00eeff,#00feff,#0efff1,#18ffe7,#1effe1,#20ffdf,#1cffe3,#12ffed,#05fffa,#00f5ff,#00e7ff,#00dcff,#00d7ff,#00d9ff,#00e6ff)"></i>
<i style="top:76px;height:5px;background:linear-gradient(90deg,#00d2ff,#00c9ff,#00c8ff,#00cdff,#00d7ff,#00e4ff,#00f3ff,#03fffc,#11ffee,#1dffe2,#25ffda,#28ffd7,#24ffdb,#1affe5,#0cfff3,#00faff,#00ebff,#00e0ff,#00daff,#00deff,#00eeff)"></i>
<i style="top:80px;height:5px;background:linear-gradient(90deg,#00d9ff,#00d3ff,#00d2ff,#00d7ff,#00e0ff,#00ebff,#00f9ff,#08fff7,#16ffe9,#22ffdd,#2cffd3,#30ffcf,#2dffd2,#23ffdc,#13ffec,#02fffd,#00f0ff,#00e4ff,#00dfff,#00e4ff,#00f8ff)"></i>
<i style="top:84px;height:5px;background:linear-gradient(90deg,#00e0ff,#00dbff,#00dcff,#00e1ff,#00e9ff,#00f3ff,#01fffe,#0efff1,#1cffe3,#29ffd6,#33ffcc,#38ffc7,#37ffc8,#2cffd3,#1cffe3,#09fff6,#00f7ff,#00eaff,#00e5ff,#00ecff,#03fffc)"></i>
<i style="top:88px;height:5px;background:linear-gradient(90deg,#00e6ff,#00e4ff,#00e6ff,#00ebff,#00f3ff,#00fdff,#09fff6,#16ffe9,#23ffdc,#31ffce,#3cffc3,#42ffbd,#40ffbf,#36ffc9,#25ffda,#12ffed,#00ffff,#00f2ff,#00eeff,#00f5ff,#0dfff2)"></i>
<i style="top:92px;height:5px;background:linear-gradient(90deg,#00ebff,#00ecff,#00efff,#00f5ff,#00fdff,#08fff7,#13ffec,#20ffdf,#2dffd2,#3affc5,#45ffba,#4bffb4,#4affb5,#40ffbf,#30ffcf,#1dffe2,#0bfff4,#00fdff,#00f9ff,#01fffe,#19ffe6)"></i>
<i style="top:96px;height:5px;background:linear-gradient(90deg,#00f0ff,#00f3ff,#00f8ff,#00ffff,#09fff6,#13ffec,#1effe1,#2bffd4,#37ffc8,#44ffbb,#4fffb0,#55ffaa,#54ffab,#4bffb4,#3bffc4,#29ffd6,#18ffe7,#0cfff3,#07fff8,#0ffff0,#25ffda)"></i>
<i style="top:100px;height:5px;background:linear-gradient(90deg,#00f4ff,#00f9ff,#01fffe,#0afff5,#14ffeb,#1fffe0,#2affd5,#37ffc8,#43ffbc,#4fffb0,#59ffa6,#5fffa0,#5effa1,#56ffa9,#47ffb8,#37ffc8,#27ffd8,#1bffe4,#17ffe8,#1dffe2,#31ffce)"></i>
<i style="top:104px;height:5px;background:linear-gradient(90deg,#00f8ff,#00ffff,#09fff6,#13ffec,#1effe1,#2affd5,#36ffc9,#43ffbc,#4fffb0,#5bffa4,#64ff9b,#69ff96,#69ff96,#61ff9e,#54ffab,#45ffba,#37ffc8,#2cffd3,#28ffd7,#2effd1,#3fffc0)"></i>
<i style="top:108px;height:5px;background:linear-gradient(90deg,#00faff,#04fffb,#0ffff0,#1bffe4,#28ffd7,#35ffca,#42ffbd,#4effb1,#5bffa4,#66ff99,#6fff90,#74ff8b,#73ff8c,#6cff93,#61ff9e,#54ffab,#48ffb7,#3fffc0,#3bffc4,#3fffc0,#4dffb2)"></i>
<i style="top:112px;height:5px;background:linear-gradient(90deg,#00faff,#07fff8,#14ffeb,#22ffdd,#30ffcf,#3effc1,#4cffb3,#59ffa6,#66ff99,#70ff8f,#79ff86,#7dff82,#7dff82,#78ff87,#6fff90,#64ff9b,#59ffa6,#51ffae,#4effb1,#50ffaf,#5cffa3)"></i>
<i style="top:116px;height:5px;background:linear-gradient(90deg,#00faff,#09fff6,#18ffe7,#27ffd8,#37ffc8,#46ffb9,#55ffaa,#63ff9c,#6fff90,#7aff85,#82ff7d,#87ff78,#88ff77,#84ff7b,#7dff82,#74ff8b,#6bff94,#64ff9b,#61ff9e,#63ff9c,#6cff93)"></i>
<i style="top:120px;height:5px;background:linear-gradient(90deg,#00f7ff,#09fff6,#1affe5,#2bffd4,#3cffc3,#4cffb3,#5cffa3,#6aff95,#77ff88,#82ff7d,#8aff75,#90ff6f,#92ff6d,#8fff70,#8aff75,#83ff7c,#7cff83,#76ff89,#74ff8b,#75ff8a,#7cff83)"></i>
<i style="top:124px;height:5px;background:linear-gradient(90deg,#00f3ff,#08fff7,#1bffe4,#2dffd2,#3fffc0,#50ffaf,#60ff9f,#6fff90,#7cff83,#88ff77,#92ff6d,#98ff67,#9cff63,#9bff64,#98ff67,#92ff6d,#8dff72,#88ff77,#86ff79,#87ff78,#8cff73)"></i>
<i style="top:128px;height:5px;background:linear-gradient(90deg,#00efff,#06fff9,#1affe5,#2effd1,#41ffbe,#53ffac,#63ff9c,#72ff8d,#81ff7e,#8dff72,#98ff67,#a0ff5f,#a5ff5a,#a7ff58,#a5ff5a,#a1ff5e,#9dff62,#99ff66,#97ff68,#98ff67,#9dff62)"></i>
<i style="top:132px;height:5px;background:linear-gradient(90deg,#00ebff,#04fffb,#1affe5,#2fffd0,#42ffbd,#54ffab,#65ff9a,#75ff8a,#84ff7b,#92ff6d,#9eff61,#a8ff57,#afff50,#b2ff4d,#b2ff4d,#afff50,#acff53,#aaff55,#a8ff57,#a9ff56,#adff52)"></i>
<i style="top:136px;height:5px;background:linear-gradient(90deg,#00e8ff,#03fffc,#1affe5,#30ffcf,#43ffbc,#56ffa9,#67ff98,#77ff88,#87ff78,#96ff69,#a4ff5b,#b0ff4f,#b8ff47,#bdff42,#beff41,#bdff42,#bbff44,#b9ff46,#b8ff47,#b9ff46,#bdff42)"></i>
<i style="top:140px;height:5px;background:linear-gradient(90deg,#00e6ff,#03fffc,#1bffe4,#31ffce,#45ffba,#58ffa7,#69ff96,#7aff85,#8aff75,#9bff64,#aaff55,#b7ff48,#c1ff3e,#c7ff38,#caff35,#caff35,#c8ff37,#c7ff38,#c6ff39,#c8ff37,#ccff33)"></i>
<i style="top:144px;height:5px;background:linear-gradient(90deg,#00e8ff,#05fffa,#1effe1,#34ffcb,#48ffb7,#5bffa4,#6cff93,#7dff82,#8eff71,#9fff60,#b0ff4f,#bfff40,#caff35,#d1ff2e,#d5ff2a,#d5ff2a,#d5ff2a,#d4ff2b,#d4ff2b,#d5ff2a,#daff25)"></i>
<i style="top:148px;height:5px;background:linear-gradient(90deg,#00ecff,#0afff5,#23ffdc,#39ffc6,#4dffb2,#5fffa0,#70ff8f,#82ff7d,#93ff6c,#a5ff5a,#b7ff48,#c7ff38,#d3ff2c,#dbff24,#dfff20,#e0ff1f,#e0ff1f,#dfff20,#dfff20,#e1ff1e,#e6ff19)"></i>
<i style="top:152px;height:5px;background:linear-gradient(90deg,#00f5ff,#12ffed,#2affd5,#40ffbf,#54ffab,#66ff99,#77ff88,#88ff77,#9aff65,#acff53,#beff41,#cfff30,#dbff24,#e4ff1b,#e8ff17,#eaff15,#eaff15,#e9ff16,#e9ff16,#ecff13,#f1ff0e)"></i>
<i style="top:156px;height:5px;background:linear-gradient(90deg,#02fffd,#1dffe2,#34ffcb,#49ffb6,#5cffa3,#6eff91,#7fff80,#90ff6f,#a1ff5e,#b4ff4b,#c6ff39,#d7ff28,#e4ff1b,#ecff13,#f1ff0e,#f2ff0d,#f2ff0d,#f2ff0d,#f2ff0d,#f5ff0a,#faff05)"></i>
<i style="top:160px;height:5px;background:linear-gradient(90deg,#10ffef,#2affd5,#40ffbf,#54ffab,#67ff98,#78ff87,#88ff77,#99ff66,#abff54,#bdff42,#cfff30,#dfff20,#ecff13,#f4ff0b,#f8ff07,#faff05,#faff05,#faff05,#faff05,#fdff02,#fffc00)"></i>
<i style="top:164px;height:5px;background:linear-gradient(90deg,#21ffde,#38ffc7,#4dffb2,#61ff9e,#72ff8d,#83ff7c,#93ff6c,#a3ff5c,#b4ff4b,#c6ff39,#d8ff27,#e7ff18,#f3ff0c,#fbff04,#fffe00,#fffd00,#fffd00,#fffd00,#fffc00,#fffa00,#fff500)"></i>
<i style="top:168px;height:5px;background:linear-gradient(90deg,#33ffcc,#48ffb7,#5cffa3,#6eff91,#7fff80,#8fff70,#9fff60,#aeff51,#bfff40,#d0ff2f,#e0ff1f,#efff10,#fbff04,#fffc00,#fff700,#fff600,#fff600,#fff600,#fff600,#fff400,#ffef00)"></i>
<i style="top:172px;height:5px;background:linear-gradient(90deg,#45ffba,#59ffa6,#6bff94,#7cff83,#8cff73,#9bff64,#abff54,#baff45,#caff35,#daff25,#e9ff16,#f7ff08,#fffc00,#fff500,#fff100,#ffef00,#ffef00,#ffef00,#ffef00,#ffed00,#ffe900)"></i>
<i style="top:176px;height:5px;background:linear-gradient(90deg,#58ffa7,#6aff95,#7bff84,#8aff75,#9aff65,#a8ff57,#b7ff48,#c5ff3a,#d4ff2b,#e3ff1c,#f2ff0d,#ffff00,#fff500,#ffee00,#ffeb00,#ffe900,#ffe800,#ffe800,#ffe800,#ffe600,#ffe200)"></i>
<i style="top:180px;height:5px;background:linear-gradient(90deg,#6aff95,#7aff85,#8aff75,#99ff66,#a7ff58,#b5ff4a,#c3ff3c,#d1ff2e,#dfff20,#edff12,#faff05,#fff800,#ffef00,#ffe800,#ffe400,#ffe200,#ffe100,#ffe100,#ffe000,#ffdf00,#ffdb00)"></i>
<i style="top:184px;height:5px;background:linear-gradient(90deg,#7bff84,#8aff75,#99ff66,#a7ff58,#b5ff4a,#c2ff3d,#cfff30,#dcff23,#e9ff16,#f6ff09,#fffc00,#fff100,#ffe800,#ffe200,#ffde00,#ffdc00,#ffda00,#ffd900,#ffd800,#ffd700,#ffd300)"></i>
<i style="top:188px;height:5px;background:linear-gradient(90deg,#8cff73,#9aff65,#a8ff57,#b5ff4a,#c2ff3d,#ceff31,#dbff24,#e7ff18,#f3ff0c,#feff01,#fff500,#ffeb00,#ffe200,#ffdc00,#ffd800,#ffd500,#ffd300,#ffd100,#ffd000,#ffce00,#ffcb00)"></i>
<i style="top:192px;height:5px;background:linear-gradient(90deg,#9bff64,#a9ff56,#b6ff49,#c3ff3c,#cfff30,#dbff24,#e6ff19,#f1ff0e,#fcff03,#fff700,#ffed00,#ffe400,#ffdc00,#ffd600,#ffd100,#ffce00,#ffcb00,#ffc900,#ffc700,#ffc500,#ffc300)"></i>
<i style="top:196px;height:5px;background:linear-gradient(90deg,#aaff55,#b8ff47,#c4ff3b,#d0ff2f,#dcff23,#e7ff18,#f1ff0e,#fbff04,#fff900,#ffef00,#ffe600,#ffde00,#ffd700,#ffd000,#ffcb00,#ffc700,#ffc300,#ffc000,#ffbe00,#ffbc00,#ffba00)"></i>
<i style="top:200px;height:5px;background:linear-gradient(90deg,#b8ff47,#c6ff39,#d2ff2d,#ddff22,#e8ff17,#f2ff0d,#fcff03,#fff900,#fff000,#ffe700,#ffdf00,#ffd800,#ffd100,#ffcb00,#ffc500,#ffc000,#ffbb00,#ffb800,#ffb500,#ffb200,#ffb100)"></i>
<i style="top:204px;height:5px;background:linear-gradient(90deg,#c6ff39,#d3ff2c,#dfff20,#eaff15,#f4ff0b,#feff01,#fff700,#ffef00,#ffe700,#ffe000,#ffd900,#ffd200,#ffcb00,#ffc500,#ffbe00,#ffb900,#ffb300,#ffaf00,#ffab00,#ffa900,#ffa800)"></i>
<i style="top:208px;height:5px;background:linear-gradient(90deg,#d4ff2b,#e0ff1f,#ecff13,#f6ff09,#fffe00,#fff500,#ffed00,#ffe500,#ffde00,#ffd800,#ffd200,#ffcb00,#ffc500,#ffbe00,#ffb800,#ffb100,#ffab00,#ffa600,#ffa200,#ffa000,#ff9f00)"></i>
<i style="top:212px;height:5px;background:linear-gradient(90deg,#e0ff1f,#edff12,#f8ff07,#fffc00,#fff300,#ffea00,#ffe300,#ffdc00,#ffd600,#ffd000,#ffcb00,#ffc500,#ffbf00,#ffb800,#ffb100,#ffaa00,#ffa400,#ff9e00,#ff9900,#ff9600,#ff9500)"></i>
<i style="top:216px;height:5px;background:linear-gradient(90deg,#edff12,#f9ff06,#fffa00,#fff100,#ffe800,#ffe000,#ffd900,#ffd300,#ffcd00,#ffc800,#ffc300,#ffbe00,#ffb800,#ffb200,#ffaa00,#ffa300,#ff9c00,#ff9600,#ff9100,#ff8d00,#ff8c00)"></i>
<i style="top:220px;height:5px;background:linear-gradient(90deg,#f9ff06,#fffa00,#ffef00,#ffe600,#ffde00,#ffd700,#ffd000,#ffca00,#ffc500,#ffc000,#ffbc00,#ffb700,#ffb100,#ffab00,#ffa400,#ff9c00,#ff9500,#ff8e00,#ff8900,#ff8500,#ff8300)"></i>
<i style="top:224px;height:5px;background:linear-gradient(90deg,#fff900,#ffef00,#ffe500,#ffdc00,#ffd400,#ffcd00,#ffc700,#ffc100,#ffbd00,#ffb800,#ffb400,#ffaf00,#ffaa00,#ffa400,#ff9c00,#ff9500,#ff8e00,#ff8700,#ff8100,#ff7d00,#ff7a00)"></i>
<i style="top:228px;height:5px;background:linear-gradient(90deg,#ffee00,#ffe400,#ffdb00,#ffd300,#ffcb00,#ffc500,#ffbe00,#ffb900,#ffb400,#ffb000,#ffab00,#ffa700,#ffa200,#ff9c00,#ff9500,#ff8e00,#ff8700,#ff8000,#ff7a00,#ff7500,#ff7200)"></i>
<i style="top:232px;height:5px;background:linear-gradient(90deg,#ffe200,#ffda00,#ffd200,#ffca00,#ffc300,#ffbc00,#ffb600,#ffb100,#ffac00,#ffa700,#ffa300,#ff9e00,#ff9900,#ff9400,#ff8e00,#ff8700,#ff8100,#ff7b00,#ff7400,#ff6f00,#ff6a00)"></i>
<i style="top:236px;height:5px;background:linear-gradient(90deg,#ffd700,#ffd000,#ffc900,#ffc300,#ffbc00,#ffb500,#ffaf00,#ffa800,#ffa300,#ff9e00,#ff9900,#ff9500,#ff9000,#ff8b00,#ff8600,#ff8100,#ff7b00,#ff7500,#ff6f00,#ff6900,#ff6200)"></i>
</div>
<div class="p" style="left:404.3px;top:562.8px">
<i style="top:0px;height:5px;background:linear-gradient(90deg,#58ffa7,#85ff7a,#b3ff4c,#cbff34,#cbff34,#c0ff3f,#b3ff4c,#9fff60,#8cff73,#adff52,#ceff31,#e7ff18,#fbff04,#fff800,#fff400,#fff400,#fff600,#fff700,#fff400,#ffe900,#ffd600)"></i>
<i style="top:4px;height:5px;background:linear-gradient(90deg,#56ffa9,#7dff82,#a9ff56,#c0ff3f,#bfff40,#b5ff4a,#a7ff58,#8fff70,#74ff8b,#9eff61,#c5ff3a,#dfff20,#f3ff0c,#fffe00,#fffa00,#fffa00,#fffc00,#fffc00,#fff900,#ffee00,#ffda00)"></i>
<i style="top:8px;height:5px;background:linear-gradient(90deg,#58ffa7,#7bff84,#a5ff5a,#bbff44,#b9ff46,#aeff51,#a1ff5e,#85ff7a,#63ff9c,#94ff6b,#bfff40,#d9ff26,#eeff11,#faff05,#ffff00,#fffe00,#ffff00,#fffe00,#fffb00,#fff100,#ffdd00)"></i>
<i style="top:12px;height:5px;background:linear-gradient(90deg,#60ff9f,#7fff80,#a5ff5a,#b9ff46,#b7ff48,#adff52,#a1ff5e,#82ff7d,#5dffa2,#91ff6e,#bdff42,#d5ff2a,#e9ff16,#f6ff09,#fcff03,#feff01,#ffff00,#fffe00,#fffa00,#fff000,#ffdf00)"></i>
<i style="top:16px;height:5px;background:linear-gradient(90deg,#6bff94,#88ff77,#aaff55,#bcff43,#baff45,#b0ff4f,#a5ff5a,#88ff77,#63ff9c,#94ff6b,#bdff42,#d4ff2b,#e6ff19,#f3ff0c,#faff05,#feff01,#fffe00,#fffc00,#fff700,#ffee00,#ffdf00)"></i>
<i style="top:20px;height:5px;background:linear-gradient(90deg,#7aff85,#94ff6b,#b2ff4d,#c1ff3e,#bfff40,#b7ff48,#adff52,#94ff6b,#74ff8b,#9eff61,#c0ff3f,#d4ff2b,#e5ff1a,#f1ff0e,#f9ff06,#feff01,#fffc00,#fff800,#fff200,#ffea00,#ffde00)"></i>
<i style="top:24px;height:5px;background:linear-gradient(90deg,#8aff75,#a3ff5c,#bcff43,#c9ff36,#c8ff37,#c1ff3e,#b8ff47,#a4ff5b,#8dff72,#abff54,#c6ff39,#d6ff29,#e5ff1a,#f0ff0f,#faff05,#fffd00,#fff800,#fff200,#ffec00,#ffe500,#ffdc00)"></i>
<i style="top:28px;height:5px;background:linear-gradient(90deg,#9cff63,#b2ff4d,#c8ff37,#d3ff2c,#d2ff2d,#cdff32,#c6ff39,#b8ff47,#a7ff58,#bbff44,#cdff32,#d9ff26,#e6ff19,#f1ff0e,#fbff04,#fffa00,#fff200,#ffeb00,#ffe400,#ffde00,#ffd900)"></i>
<i style="top:32px;height:5px;background:linear-gradient(90deg,#adff52,#c2ff3d,#d5ff2a,#deff21,#dfff20,#dbff24,#d5ff2a,#ccff33,#c1ff3e,#cbff34,#d5ff2a,#deff21,#e8ff17,#f2ff0d,#fdff02,#fff600,#ffec00,#ffe300,#ffdc00,#ffd700,#ffd500)"></i>
<i style="top:36px;height:5px;background:linear-gradient(90deg,#bfff40,#d2ff2d,#e2ff1d,#eaff15,#ecff13,#eaff15,#e6ff19,#dfff20,#d8ff27,#dbff24,#dfff20,#e3ff1c,#ebff14,#f5ff0a,#fffe00,#fff100,#ffe500,#ffdb00,#ffd300,#ffcf00,#ffd100)"></i>
<i style="top:40px;height:5px;background:linear-gradient(90deg,#cfff30,#e1ff1e,#efff10,#f7ff08,#faff05,#faff05,#f7ff08,#f2ff0d,#ecff13,#eaff15,#e9ff16,#eaff15,#efff10,#f8ff07,#fffa00,#ffec00,#ffde00,#ffd200,#ffca00,#ffc800,#ffcc00)"></i>
<i style="top:44px;height:5px;background:linear-gradient(90deg,#dfff20,#efff10,#fbff04,#fffa00,#fff600,#fff400,#fff600,#fff900,#ffff00,#f9ff06,#f4ff0b,#f2ff0d,#f4ff0b,#fcff03,#fff500,#ffe600,#ffd600,#ffc900,#ffc100,#ffc000,#ffc800)"></i>
<i style="top:48px;height:5px;background:linear-gradient(90deg,#eeff11,#fcff03,#fff700,#ffee00,#ffe800,#ffe500,#ffe500,#ffe800,#ffee00,#fff600,#ffff00,#faff05,#faff05,#fffd00,#fff000,#ffdf00,#ffcf00,#ffc100,#ffb900,#ffb900,#ffc300)"></i>
<i style="top:52px;height:5px;background:linear-gradient(90deg,#fbff04,#fff700,#ffeb00,#ffe200,#ffdb00,#ffd700,#ffd600,#ffd900,#ffdf00,#ffe900,#fff400,#fffc00,#fffe00,#fff700,#ffea00,#ffd900,#ffc800,#ffba00,#ffb200,#ffb200,#ffbf00)"></i>
<i style="top:56px;height:5px;background:linear-gradient(90deg,#fff700,#ffec00,#ffe200,#ffd800,#ffd000,#ffcb00,#ffc900,#ffcb00,#ffd200,#ffdd00,#ffe900,#fff300,#fff600,#fff000,#ffe400,#ffd300,#ffc200,#ffb400,#ffac00,#ffad00,#ffbb00)"></i>
<i style="top:60px;height:5px;background:linear-gradient(90deg,#ffed00,#ffe400,#ffda00,#ffd000,#ffc800,#ffc200,#ffbf00,#ffc000,#ffc600,#ffd200,#ffdf00,#ffea00,#ffee00,#ffe900,#ffdd00,#ffcd00,#ffbd00,#ffaf00,#ffa700,#ffa900,#ffb700)"></i>
<i style="top:64px;height:5px;background:linear-gradient(90deg,#ffe500,#ffdd00,#ffd300,#ffca00,#ffc100,#ffbb00,#ffb700,#ffb800,#ffbe00,#ffc900,#ffd500,#ffe000,#ffe500,#ffe100,#ffd600,#ffc700,#ffb800,#ffab00,#ffa400,#ffa600,#ffb400)"></i>
<i style="top:68px;height:5px;background:linear-gradient(90deg,#ffde00,#ffd700,#ffce00,#ffc500,#ffbc00,#ffb500,#ffb200,#ffb200,#ffb600,#ffc000,#ffcc00,#ffd700,#ffdc00,#ffd800,#ffcf00,#ffc200,#ffb400,#ffa900,#ffa300,#ffa500,#ffb200)"></i>
<i style="top:72px;height:5px;background:linear-gradient(90deg,#ffd800,#ffd200,#ffca00,#ffc100,#ffb800,#ffb200,#ffad00,#ffac00,#ffb000,#ffb900,#ffc300,#ffcd00,#ffd200,#ffcf00,#ffc700,#ffbc00,#ffb000,#ffa700,#ffa200,#ffa400,#ffb000)"></i>
<i style="top:76px;height:5px;background:linear-gradient(90deg,#ffd300,#ffcd00,#ffc600,#ffbe00,#ffb500,#ffae00,#ffa900,#ffa700,#ffaa00,#ffb100,#ffba00,#ffc300,#ffc700,#ffc600,#ffbf00,#ffb600,#ffad00,#ffa500,#ffa100,#ffa300,#ffad00)"></i>
<i style="top:80px;height:5px;background:linear-gradient(90deg,#ffcd00,#ffc900,#ffc300,#ffbb00,#ffb300,#ffab00,#ffa500,#ffa200,#ffa300,#ffa900,#ffb100,#ffb800,#ffbc00,#ffbc00,#ffb700,#ffb000,#ffa900,#ffa300,#ffa000,#ffa200,#ffab00)"></i>
<i style="top:84px;height:5px;background:linear-gradient(90deg,#ffc600,#ffc500,#ffc000,#ffb800,#ffb000,#ffa700,#ffa000,#ff9c00,#ff9c00,#ffa000,#ffa600,#ffad00,#ffb100,#ffb100,#ffae00,#ffaa00,#ffa400,#ffa000,#ff9f00,#ffa100,#ffa900)"></i>
<i style="top:88px;height:5px;background:linear-gradient(90deg,#ffbf00,#ffc000,#ffbc00,#ffb500,#ffac00,#ffa300,#ff9a00,#ff9400,#ff9200,#ff9500,#ff9a00,#ffa100,#ffa500,#ffa700,#ffa500,#ffa200,#ff9f00,#ff9d00,#ff9c00,#ff9f00,#ffa600)"></i>
<i style="top:92px;height:5px;background:linear-gradient(90deg,#ffb600,#ffba00,#ffb800,#ffb100,#ffa700,#ff9c00,#ff9200,#ff8a00,#ff8700,#ff8800,#ff8d00,#ff9400,#ff9900,#ff9c00,#ff9c00,#ff9b00,#ff9900,#ff9800,#ff9800,#ff9b00,#ffa200)"></i>
<i style="top:96px;height:5px;background:linear-gradient(90deg,#ffad00,#ffb400,#ffb300,#ffac00,#ffa100,#ff9500,#ff8800,#ff7f00,#ff7900,#ff7a00,#ff8000,#ff8700,#ff8d00,#ff9100,#ff9200,#ff9200,#ff9200,#ff9200,#ff9300,#ff9700,#ff9e00)"></i>
<i style="top:100px;height:5px;background:linear-gradient(90deg,#ffa300,#ffae00,#ffae00,#ffa700,#ff9b00,#ff8c00,#ff7e00,#ff7200,#ff6b00,#ff6c00,#ff7100,#ff7900,#ff8100,#ff8600,#ff8800,#ff8a00,#ff8a00,#ff8b00,#ff8e00,#ff9200,#ff9a00)"></i>
<i style="top:104px;height:5px;background:linear-gradient(90deg,#ff9a00,#ffa800,#ffaa00,#ffa200,#ff9400,#ff8400,#ff7300,#ff6500,#ff5d00,#ff5d00,#ff6300,#ff6c00,#ff7500,#ff7b00,#ff7f00,#ff8100,#ff8300,#ff8400,#ff8800,#ff8d00,#ff9500)"></i>
<i style="top:108px;height:5px;background:linear-gradient(90deg,#ff9200,#ffa200,#ffa500,#ff9d00,#ff8e00,#ff7b00,#ff6800,#ff5800,#ff4f00,#ff4f00,#ff5600,#ff6000,#ff6a00,#ff7100,#ff7600,#ff7900,#ff7b00,#ff7e00,#ff8200,#ff8700,#ff9100)"></i>
<i style="top:112px;height:5px;background:linear-gradient(90deg,#ff8b00,#ff9e00,#ffa100,#ff9800,#ff8700,#ff7300,#ff5e00,#ff4c00,#ff4200,#ff4200,#ff4900,#ff5500,#ff6000,#ff6800,#ff6e00,#ff7100,#ff7400,#ff7800,#ff7c00,#ff8200,#ff8c00)"></i>
<i style="top:116px;height:5px;background:linear-gradient(90deg,#ff8700,#ff9a00,#ff9d00,#ff9400,#ff8200,#ff6b00,#ff5500,#ff4200,#ff3700,#ff3700,#ff3f00,#ff4b00,#ff5700,#ff6000,#ff6600,#ff6b00,#ff6f00,#ff7200,#ff7700,#ff7e00,#ff8800)"></i>
<i style="top:120px;height:5px;background:linear-gradient(90deg,#ff8500,#ff9800,#ff9b00,#ff9000,#ff7d00,#ff6600,#ff4e00,#ff3a00,#ff2f00,#ff2e00,#ff3600,#ff4200,#ff4f00,#ff5900,#ff6000,#ff6500,#ff6a00,#ff6e00,#ff7400,#ff7a00,#ff8400)"></i>
<i style="top:124px;height:5px;background:linear-gradient(90deg,#ff8700,#ff9800,#ff9900,#ff8d00,#ff7900,#ff6100,#ff4900,#ff3500,#ff2900,#ff2800,#ff2f00,#ff3b00,#ff4800,#ff5300,#ff5b00,#ff6100,#ff6700,#ff6c00,#ff7100,#ff7800,#ff8000)"></i>
<i style="top:128px;height:5px;background:linear-gradient(90deg,#ff8a00,#ff9800,#ff9700,#ff8b00,#ff7600,#ff5e00,#ff4600,#ff3200,#ff2600,#ff2400,#ff2b00,#ff3700,#ff4300,#ff4e00,#ff5700,#ff5e00,#ff6400,#ff6a00,#ff7000,#ff7600,#ff7d00)"></i>
<i style="top:132px;height:5px;background:linear-gradient(90deg,#ff8e00,#ff9900,#ff9600,#ff8800,#ff7400,#ff5c00,#ff4400,#ff3000,#ff2400,#ff2200,#ff2900,#ff3300,#ff4000,#ff4b00,#ff5400,#ff5c00,#ff6300,#ff6900,#ff6f00,#ff7400,#ff7a00)"></i>
<i style="top:136px;height:5px;background:linear-gradient(90deg,#ff9300,#ff9a00,#ff9500,#ff8600,#ff7200,#ff5a00,#ff4300,#ff3000,#ff2500,#ff2200,#ff2800,#ff3200,#ff3e00,#ff4800,#ff5200,#ff5a00,#ff6200,#ff6800,#ff6e00,#ff7200,#ff7700)"></i>
<i style="top:140px;height:5px;background:linear-gradient(90deg,#ff9600,#ff9a00,#ff9300,#ff8400,#ff7000,#ff5900,#ff4400,#ff3200,#ff2600,#ff2400,#ff2900,#ff3200,#ff3d00,#ff4700,#ff5100,#ff5a00,#ff6100,#ff6700,#ff6d00,#ff7100,#ff7300)"></i>
<i style="top:144px;height:5px;background:linear-gradient(90deg,#ff9900,#ff9a00,#ff9100,#ff8200,#ff6e00,#ff5900,#ff4400,#ff3400,#ff2900,#ff2700,#ff2b00,#ff3300,#ff3e00,#ff4800,#ff5100,#ff5900,#ff6000,#ff6600,#ff6b00,#ff6e00,#ff7000)"></i>
<i style="top:148px;height:5px;background:linear-gradient(90deg,#ff9900,#ff9800,#ff8e00,#ff7f00,#ff6c00,#ff5800,#ff4600,#ff3600,#ff2d00,#ff2b00,#ff2f00,#ff3700,#ff4000,#ff4900,#ff5200,#ff5900,#ff6000,#ff6500,#ff6900,#ff6b00,#ff6c00)"></i>
<i style="top:152px;height:5px;background:linear-gradient(90deg,#ff9600,#ff9400,#ff8a00,#ff7c00,#ff6a00,#ff5800,#ff4700,#ff3900,#ff3100,#ff3000,#ff3400,#ff3b00,#ff4400,#ff4c00,#ff5300,#ff5900,#ff5e00,#ff6200,#ff6600,#ff6700,#ff6800)"></i>
<i style="top:156px;height:5px;background:linear-gradient(90deg,#ff9100,#ff8e00,#ff8500,#ff7800,#ff6800,#ff5700,#ff4800,#ff3c00,#ff3500,#ff3500,#ff3900,#ff4000,#ff4800,#ff4f00,#ff5500,#ff5900,#ff5d00,#ff5f00,#ff6100,#ff6200,#ff6300)"></i>
<i style="top:160px;height:5px;background:linear-gradient(90deg,#ff8b00,#ff8800,#ff8000,#ff7300,#ff6500,#ff5700,#ff4900,#ff3f00,#ff3a00,#ff3a00,#ff3f00,#ff4600,#ff4d00,#ff5200,#ff5600,#ff5900,#ff5a00,#ff5b00,#ff5c00,#ff5d00,#ff5e00)"></i>
<i style="top:164px;height:5px;background:linear-gradient(90deg,#ff8300,#ff8100,#ff7a00,#ff6f00,#ff6300,#ff5600,#ff4a00,#ff4200,#ff3e00,#ff3f00,#ff4400,#ff4b00,#ff5200,#ff5600,#ff5800,#ff5800,#ff5700,#ff5600,#ff5600,#ff5600,#ff5800)"></i>
<i style="top:168px;height:5px;background:linear-gradient(90deg,#ff7c00,#ff7a00,#ff7400,#ff6b00,#ff6000,#ff5500,#ff4b00,#ff4400,#ff4100,#ff4300,#ff4900,#ff5000,#ff5600,#ff5800,#ff5800,#ff5600,#ff5300,#ff5100,#ff4f00,#ff4f00,#ff5200)"></i>
<i style="top:172px;height:5px;background:linear-gradient(90deg,#ff7400,#ff7400,#ff6e00,#ff6700,#ff5d00,#ff5300,#ff4b00,#ff4600,#ff4400,#ff4700,#ff4d00,#ff5400,#ff5900,#ff5a00,#ff5700,#ff5300,#ff4f00,#ff4a00,#ff4700,#ff4700,#ff4b00)"></i>
<i style="top:176px;height:5px;background:linear-gradient(90deg,#ff6e00,#ff6e00,#ff6a00,#ff6300,#ff5a00,#ff5200,#ff4b00,#ff4700,#ff4600,#ff4900,#ff4f00,#ff5600,#ff5a00,#ff5900,#ff5500,#ff4f00,#ff4900,#ff4300,#ff3f00,#ff3f00,#ff4300)"></i>
<i style="top:180px;height:5px;background:linear-gradient(90deg,#ff6a00,#ff6900,#ff6500,#ff5f00,#ff5800,#ff5100,#ff4a00,#ff4700,#ff4600,#ff4a00,#ff5000,#ff5500,#ff5800,#ff5700,#ff5100,#ff4a00,#ff4200,#ff3b00,#ff3700,#ff3600,#ff3b00)"></i>
<i style="top:184px;height:5px;background:linear-gradient(90deg,#ff6800,#ff6600,#ff6200,#ff5c00,#ff5500,#ff4f00,#ff4900,#ff4600,#ff4600,#ff4900,#ff4e00,#ff5300,#ff5500,#ff5200,#ff4b00,#ff4300,#ff3a00,#ff3300,#ff2e00,#ff2d00,#ff3200)"></i>
<i style="top:188px;height:5px;background:linear-gradient(90deg,#ff6700,#ff6400,#ff6000,#ff5900,#ff5300,#ff4d00,#ff4800,#ff4400,#ff4400,#ff4700,#ff4b00,#ff4e00,#ff4f00,#ff4b00,#ff4400,#ff3b00,#ff3200,#ff2a00,#ff2400,#ff2300,#ff2800)"></i>
<i style="top:192px;height:5px;background:linear-gradient(90deg,#ff6700,#ff6300,#ff5d00,#ff5700,#ff5000,#ff4a00,#ff4600,#ff4200,#ff4200,#ff4300,#ff4600,#ff4900,#ff4800,#ff4300,#ff3c00,#ff3200,#ff2900,#ff2100,#ff1b00,#ff1a00,#ff1e00)"></i>
<i style="top:196px;height:5px;background:linear-gradient(90deg,#ff6900,#ff6200,#ff5c00,#ff5500,#ff4e00,#ff4800,#ff4300,#ff4000,#ff3e00,#ff3f00,#ff4100,#ff4200,#ff4000,#ff3b00,#ff3300,#ff2900,#ff2000,#ff1800,#ff1200,#ff1000,#ff1400)"></i>
<i style="top:200px;height:5px;background:linear-gradient(90deg,#ff6a00,#ff6200,#ff5a00,#ff5200,#ff4b00,#ff4500,#ff4000,#ff3d00,#ff3b00,#ff3a00,#ff3b00,#ff3a00,#ff3700,#ff3100,#ff2900,#ff2000,#ff1700,#ff0f00,#ff0900,#ff0700,#ff0b00)"></i>
<i style="top:204px;height:5px;background:linear-gradient(90deg,#ff6b00,#ff6100,#ff5800,#ff5000,#ff4900,#ff4200,#ff3d00,#ff3900,#ff3700,#ff3500,#ff3400,#ff3200,#ff2e00,#ff2800,#ff2000,#ff1700,#ff0e00,#ff0600,#ff0100,#fe0000,#ff0100)"></i>
<i style="top:208px;height:5px;background:linear-gradient(90deg,#ff6c00,#ff6100,#ff5600,#ff4d00,#ff4600,#ff3f00,#ff3a00,#ff3600,#ff3300,#ff3000,#ff2d00,#ff2a00,#ff2600,#ff1f00,#ff1700,#ff0e00,#ff0600,#fe0000,#f80000,#f60000,#f80000)"></i>
<i style="top:212px;height:5px;background:linear-gradient(90deg,#ff6d00,#ff5f00,#ff5400,#ff4b00,#ff4300,#ff3c00,#ff3700,#ff3200,#ff2e00,#ff2b00,#ff2700,#ff2300,#ff1d00,#ff1600,#ff0e00,#ff0600,#fd0000,#f70000,#f20000,#ef0000,#f00000)"></i>
<i style="top:216px;height:5px;background:linear-gradient(90deg,#ff6c00,#ff5d00,#ff5100,#ff4700,#ff3f00,#ff3900,#ff3400,#ff2f00,#ff2b00,#ff2600,#ff2200,#ff1c00,#ff1600,#ff0f00,#ff0700,#fe0000,#f70000,#f10000,#ec0000,#ea0000,#ea0000)"></i>
<i style="top:220px;height:5px;background:linear-gradient(90deg,#ff6900,#ff5a00,#ff4d00,#ff4400,#ff3c00,#ff3500,#ff3000,#ff2b00,#ff2700,#ff2200,#ff1d00,#ff1700,#ff1100,#ff0900,#ff0200,#f90000,#f20000,#ec0000,#e80000,#e50000,#e50000)"></i>
<i style="top:224px;height:5px;background:linear-gradient(90deg,#ff6400,#ff5500,#ff4900,#ff3f00,#ff3800,#ff3200,#ff2d00,#ff2800,#ff2400,#ff1f00,#ff1900,#ff1300,#ff0d00,#ff0500,#fd0000,#f50000,#ef0000,#e90000,#e40000,#e20000,#e20000)"></i>
<i style="top:228px;height:5px;background:linear-gradient(90deg,#ff5d00,#ff4e00,#ff4300,#ff3a00,#ff3300,#ff2e00,#ff2900,#ff2600,#ff2200,#ff1d00,#ff1800,#ff1200,#ff0b00,#ff0400,#fb0000,#f40000,#ed0000,#e70000,#e30000,#e00000,#e00000)"></i>
<i style="top:232px;height:5px;background:linear-gradient(90deg,#ff5300,#ff4600,#ff3c00,#ff3400,#ff2e00,#ff2a00,#ff2600,#ff2300,#ff2000,#ff1c00,#ff1800,#ff1200,#ff0c00,#ff0500,#fc0000,#f50000,#ee0000,#e70000,#e30000,#e10000,#e10000)"></i>
<i style="top:236px;height:5px;background:linear-gradient(90deg,#ff4600,#ff3b00,#ff3300,#ff2d00,#ff2900,#ff2600,#ff2300,#ff2200,#ff2000,#ff1d00,#ff1a00,#ff1600,#ff1000,#ff0900,#ff0100,#f80000,#f00000,#ea0000,#e50000,#e30000,#e40000)"></i>
</div>
<div class="p" style="left:770.3px;top:562.8px">
<i style="top:0px;height:5px;background:linear-gradient(90deg,#0000c1,#0000ca,#0000d2,#0000d8,#0000dd,#0000e1,#0000e5,#0000ea,#0000f0,#0000f7,#0006ff,#003cff,#001bff,#0000fc,#0000f3,#0000e8,#0000df,#0000d8,#0000d8,#0000e0,#0000f2)"></i>
<i style="top:4px;height:5px;background:linear-gradient(90deg,#0000c5,#0000cd,#0000d2,#0000d7,#0000da,#0000de,#0000e2,#0000e7,#0000ee,#0000f7,#000aff,#0047ff,#0024ff,#0003ff,#0000f7,#0000eb,#0000e0,#0000d9,#0000d8,#0000e0,#0000f5)"></i>
<i style="top:8px;height:5px;background:linear-gradient(90deg,#0000cb,#0000d1,#0000d6,#0000d9,#0000dc,#0000de,#0000e2,#0000e8,#0000f0,#0000fb,#0010ff,#0053ff,#002eff,#000cff,#0000ff,#0000f2,#0000e5,#0000dc,#0000db,#0000e4,#0000fa)"></i>
<i style="top:12px;height:5px;background:linear-gradient(90deg,#0000d3,#0000d8,#0000db,#0000dd,#0000e0,#0000e2,#0000e7,#0000ed,#0000f6,#0002ff,#0019ff,#005fff,#0039ff,#0016ff,#0009ff,#0000fa,#0000ed,#0000e3,#0000e2,#0000eb,#0003ff)"></i>
<i style="top:16px;height:5px;background:linear-gradient(90deg,#0000dc,#0000e0,#0000e2,#0000e4,#0000e6,#0000e9,#0000ee,#0000f5,#0000fe,#000cff,#0023ff,#006bff,#0045ff,#0021ff,#0014ff,#0006ff,#0000f7,#0000ed,#0000eb,#0000f4,#000dff)"></i>
<i style="top:20px;height:5px;background:linear-gradient(90deg,#0000e7,#0000e9,#0000eb,#0000ed,#0000ef,#0000f2,#0000f8,#0000ff,#000bff,#0018ff,#002fff,#0076ff,#0051ff,#002dff,#0021ff,#0012ff,#0004ff,#0000f9,#0000f7,#0001ff,#0018ff)"></i>
<i style="top:24px;height:5px;background:linear-gradient(90deg,#0000f3,#0000f4,#0000f5,#0000f7,#0000fa,#0000fe,#0005ff,#000dff,#0018ff,#0025ff,#003cff,#0080ff,#005dff,#003bff,#002eff,#001fff,#0011ff,#0008ff,#0005ff,#000eff,#0025ff)"></i>
<i style="top:28px;height:5px;background:linear-gradient(90deg,#0000ff,#0000ff,#0001ff,#0003ff,#0007ff,#000cff,#0012ff,#001bff,#0026ff,#0034ff,#004aff,#008aff,#0068ff,#0048ff,#003cff,#002eff,#0020ff,#0017ff,#0014ff,#001dff,#0033ff)"></i>
<i style="top:32px;height:5px;background:linear-gradient(90deg,#000dff,#000cff,#000dff,#000fff,#0014ff,#0019ff,#0021ff,#002bff,#0036ff,#0043ff,#0057ff,#0092ff,#0073ff,#0056ff,#004aff,#003cff,#002fff,#0026ff,#0024ff,#002cff,#0041ff)"></i>
<i style="top:36px;height:5px;background:linear-gradient(90deg,#001bff,#0019ff,#0019ff,#001cff,#0021ff,#0028ff,#0031ff,#003bff,#0046ff,#0053ff,#0065ff,#0098ff,#007eff,#0063ff,#0058ff,#004bff,#003fff,#0037ff,#0035ff,#003cff,#0050ff)"></i>
<i style="top:40px;height:5px;background:linear-gradient(90deg,#0028ff,#0025ff,#0026ff,#0029ff,#002fff,#0037ff,#0041ff,#004bff,#0057ff,#0062ff,#0072ff,#009eff,#0087ff,#006fff,#0065ff,#0059ff,#004eff,#0047ff,#0045ff,#004cff,#005eff)"></i>
<i style="top:44px;height:5px;background:linear-gradient(90deg,#0036ff,#0032ff,#0032ff,#0036ff,#003dff,#0046ff,#0050ff,#005bff,#0067ff,#0071ff,#007fff,#00a3ff,#008fff,#007bff,#0071ff,#0067ff,#005dff,#0057ff,#0055ff,#005bff,#006bff)"></i>
<i style="top:48px;height:5px;background:linear-gradient(90deg,#0043ff,#003eff,#003eff,#0042ff,#004aff,#0054ff,#005fff,#006aff,#0075ff,#007fff,#008aff,#00a7ff,#0096ff,#0085ff,#007cff,#0073ff,#006bff,#0065ff,#0064ff,#0069ff,#0077ff)"></i>
<i style="top:52px;height:5px;background:linear-gradient(90deg,#004fff,#0049ff,#0049ff,#004eff,#0056ff,#0061ff,#006dff,#0078ff,#0083ff,#008bff,#0093ff,#00aaff,#009bff,#008dff,#0086ff,#007eff,#0077ff,#0073ff,#0072ff,#0076ff,#0081ff)"></i>
<i style="top:56px;height:5px;background:linear-gradient(90deg,#005bff,#0054ff,#0053ff,#0059ff,#0061ff,#006dff,#0079ff,#0084ff,#008eff,#0095ff,#009bff,#00abff,#009fff,#0093ff,#008dff,#0087ff,#0082ff,#007eff,#007eff,#0081ff,#0089ff)"></i>
<i style="top:60px;height:5px;background:linear-gradient(90deg,#0065ff,#005dff,#005cff,#0062ff,#006bff,#0076ff,#0083ff,#008eff,#0097ff,#009cff,#00a0ff,#00abff,#00a0ff,#0097ff,#0092ff,#008eff,#008aff,#0087ff,#0087ff,#0089ff,#008fff)"></i>
<i style="top:64px;height:5px;background:linear-gradient(90deg,#006eff,#0065ff,#0064ff,#0069ff,#0072ff,#007eff,#008aff,#0095ff,#009eff,#00a1ff,#00a3ff,#00a9ff,#00a0ff,#0098ff,#0095ff,#0092ff,#0090ff,#008fff,#008eff,#0090ff,#0093ff)"></i>
<i style="top:68px;height:5px;background:linear-gradient(90deg,#0077ff,#006dff,#006bff,#0070ff,#0079ff,#0085ff,#0091ff,#009bff,#00a2ff,#00a5ff,#00a4ff,#00a6ff,#009eff,#0098ff,#0096ff,#0095ff,#0094ff,#0094ff,#0094ff,#0094ff,#0095ff)"></i>
<i style="top:72px;height:5px;background:linear-gradient(90deg,#007eff,#0074ff,#0072ff,#0076ff,#007fff,#008aff,#0096ff,#00a0ff,#00a6ff,#00a7ff,#00a4ff,#00a4ff,#009cff,#0098ff,#0097ff,#0097ff,#0097ff,#0098ff,#0099ff,#0098ff,#0097ff)"></i>
<i style="top:76px;height:5px;background:linear-gradient(90deg,#0086ff,#007bff,#0078ff,#007cff,#0085ff,#008fff,#009aff,#00a3ff,#00a9ff,#00a8ff,#00a5ff,#00a2ff,#009bff,#0097ff,#0097ff,#0098ff,#009aff,#009cff,#009dff,#009cff,#0098ff)"></i>
<i style="top:80px;height:5px;background:linear-gradient(90deg,#008cff,#0081ff,#007fff,#0083ff,#008bff,#0095ff,#009fff,#00a7ff,#00abff,#00aaff,#00a5ff,#00a1ff,#009bff,#0098ff,#0098ff,#009aff,#009dff,#00a0ff,#00a1ff,#009fff,#009bff)"></i>
<i style="top:84px;height:5px;background:linear-gradient(90deg,#0093ff,#0089ff,#0086ff,#008aff,#0091ff,#009bff,#00a4ff,#00abff,#00aeff,#00acff,#00a7ff,#00a2ff,#009cff,#009aff,#009bff,#009dff,#00a1ff,#00a4ff,#00a5ff,#00a4ff,#009fff)"></i>
<i style="top:88px;height:5px;background:linear-gradient(90deg,#0099ff,#0091ff,#008fff,#0092ff,#0099ff,#00a2ff,#00aaff,#00b0ff,#00b3ff,#00b0ff,#00abff,#00a5ff,#00a0ff,#009eff,#009fff,#00a2ff,#00a6ff,#00a9ff,#00abff,#00aaff,#00a6ff)"></i>
<i style="top:92px;height:5px;background:linear-gradient(90deg,#00a0ff,#009aff,#0099ff,#009cff,#00a3ff,#00aaff,#00b1ff,#00b6ff,#00b8ff,#00b6ff,#00b1ff,#00acff,#00a7ff,#00a5ff,#00a7ff,#00a9ff,#00adff,#00b0ff,#00b2ff,#00b3ff,#00b0ff)"></i>
<i style="top:96px;height:5px;background:linear-gradient(90deg,#00a6ff,#00a3ff,#00a4ff,#00a7ff,#00adff,#00b4ff,#00baff,#00beff,#00bfff,#00beff,#00b9ff,#00b5ff,#00b1ff,#00afff,#00b0ff,#00b3ff,#00b6ff,#00b9ff,#00bcff,#00bdff,#00bdff)"></i>
<i style="top:100px;height:5px;background:linear-gradient(90deg,#00adff,#00acff,#00aeff,#00b3ff,#00b8ff,#00beff,#00c3ff,#00c6ff,#00c8ff,#00c6ff,#00c3ff,#00c0ff,#00bdff,#00bcff,#00bcff,#00beff,#00c0ff,#00c3ff,#00c6ff,#00c9ff,#00ccff)"></i>
<i style="top:104px;height:5px;background:linear-gradient(90deg,#00b2ff,#00b5ff,#00b9ff,#00beff,#00c3ff,#00c8ff,#00ccff,#00cfff,#00d1ff,#00d0ff,#00cfff,#00cdff,#00cbff,#00caff,#00c9ff,#00caff,#00ccff,#00cfff,#00d2ff,#00d7ff,#00dcff)"></i>
<i style="top:108px;height:5px;background:linear-gradient(90deg,#00b7ff,#00bdff,#00c2ff,#00c8ff,#00cdff,#00d1ff,#00d5ff,#00d8ff,#00daff,#00dbff,#00dbff,#00daff,#00d9ff,#00d9ff,#00d8ff,#00d8ff,#00d9ff,#00dcff,#00e0ff,#00e6ff,#00efff)"></i>
<i style="top:112px;height:5px;background:linear-gradient(90deg,#00bbff,#00c3ff,#00caff,#00d0ff,#00d6ff,#00daff,#00deff,#00e1ff,#00e4ff,#00e6ff,#00e8ff,#00e9ff,#00e9ff,#00e8ff,#00e8ff,#00e7ff,#00e8ff,#00eaff,#00efff,#00f7ff,#03fffc)"></i>
<i style="top:116px;height:5px;background:linear-gradient(90deg,#00beff,#00c8ff,#00d0ff,#00d7ff,#00ddff,#00e2ff,#00e6ff,#00eaff,#00eeff,#00f1ff,#00f5ff,#00f7ff,#00f8ff,#00f8ff,#00f7ff,#00f7ff,#00f8ff,#00faff,#00ffff,#09fff6,#17ffe8)"></i>
<i style="top:120px;height:5px;background:linear-gradient(90deg,#00c0ff,#00caff,#00d3ff,#00dbff,#00e1ff,#00e8ff,#00edff,#00f2ff,#00f8ff,#00fdff,#02fffd,#06fff9,#08fff7,#09fff6,#09fff6,#08fff7,#09fff6,#0cfff3,#12ffed,#1cffe3,#2bffd4)"></i>
<i style="top:124px;height:5px;background:linear-gradient(90deg,#00c0ff,#00caff,#00d3ff,#00dcff,#00e4ff,#00ecff,#00f3ff,#00faff,#02fffd,#08fff7,#0efff1,#13ffec,#16ffe9,#18ffe7,#18ffe7,#19ffe6,#1bffe4,#1effe1,#25ffda,#2fffd0,#3effc1)"></i>
<i style="top:128px;height:5px;background:linear-gradient(90deg,#00c0ff,#00c8ff,#00d1ff,#00dbff,#00e5ff,#00eeff,#00f8ff,#02fffd,#0bfff4,#13ffec,#1affe5,#20ffdf,#24ffdb,#26ffd9,#28ffd7,#2affd5,#2dffd2,#31ffce,#38ffc7,#43ffbc,#52ffad)"></i>
<i style="top:132px;height:5px;background:linear-gradient(90deg,#00bfff,#00c6ff,#00cfff,#00d9ff,#00e5ff,#00f1ff,#00fdff,#0afff5,#14ffeb,#1effe1,#25ffda,#2cffd3,#31ffce,#34ffcb,#38ffc7,#3bffc4,#3fffc0,#44ffbb,#4cffb3,#56ffa9,#64ff9b)"></i>
<i style="top:136px;height:5px;background:linear-gradient(90deg,#00beff,#00c3ff,#00ccff,#00d7ff,#00e5ff,#00f3ff,#03fffc,#11ffee,#1effe1,#28ffd7,#30ffcf,#37ffc8,#3dffc2,#42ffbd,#46ffb9,#4bffb4,#50ffaf,#57ffa8,#5fffa0,#69ff96,#75ff8a)"></i>
<i style="top:140px;height:5px;background:linear-gradient(90deg,#00beff,#00c1ff,#00caff,#00d6ff,#00e6ff,#00f6ff,#08fff7,#18ffe7,#27ffd8,#32ffcd,#3bffc4,#43ffbc,#49ffb6,#4fffb0,#55ffaa,#5bffa4,#61ff9e,#69ff96,#71ff8e,#7aff85,#85ff7a)"></i>
<i style="top:144px;height:5px;background:linear-gradient(90deg,#00beff,#00c1ff,#00caff,#00d7ff,#00e8ff,#00faff,#0efff1,#21ffde,#30ffcf,#3dffc2,#46ffb9,#4effb1,#55ffaa,#5cffa3,#63ff9c,#6aff95,#72ff8d,#79ff86,#82ff7d,#8aff75,#94ff6b)"></i>
<i style="top:148px;height:5px;background:linear-gradient(90deg,#00bfff,#00c2ff,#00ccff,#00daff,#00ecff,#01fffe,#16ffe9,#29ffd6,#3affc5,#47ffb8,#51ffae,#59ffa6,#60ff9f,#68ff97,#70ff8f,#78ff87,#80ff7f,#89ff76,#91ff6e,#99ff66,#a0ff5f)"></i>
<i style="top:152px;height:5px;background:linear-gradient(90deg,#00c2ff,#00c6ff,#00d1ff,#00e0ff,#00f3ff,#09fff6,#1fffe0,#33ffcc,#44ffbb,#51ffae,#5cffa3,#64ff9b,#6cff93,#74ff8b,#7cff83,#85ff7a,#8eff71,#96ff69,#9eff61,#a5ff5a,#abff54)"></i>
<i style="top:156px;height:5px;background:linear-gradient(90deg,#00c7ff,#00cdff,#00d9ff,#00e9ff,#00fdff,#13ffec,#29ffd6,#3dffc2,#4fffb0,#5cffa3,#66ff99,#6fff90,#77ff88,#7fff80,#88ff77,#91ff6e,#9aff65,#a2ff5d,#a9ff56,#afff50,#b4ff4b)"></i>
<i style="top:160px;height:5px;background:linear-gradient(90deg,#00ceff,#00d6ff,#00e3ff,#00f5ff,#0afff5,#1fffe0,#34ffcb,#48ffb7,#59ffa6,#67ff98,#71ff8e,#7aff85,#82ff7d,#8aff75,#93ff6c,#9cff63,#a5ff5a,#adff52,#b3ff4c,#b8ff47,#bcff43)"></i>
<i style="top:164px;height:5px;background:linear-gradient(90deg,#00d6ff,#00e0ff,#00f0ff,#03fffc,#17ffe8,#2cffd3,#41ffbe,#54ffab,#64ff9b,#71ff8e,#7cff83,#84ff7b,#8dff72,#95ff6a,#9eff61,#a7ff58,#afff50,#b7ff48,#bdff42,#c1ff3e,#c3ff3c)"></i>
<i style="top:168px;height:5px;background:linear-gradient(90deg,#00e0ff,#00edff,#00feff,#12ffed,#26ffd9,#3affc5,#4effb1,#60ff9f,#70ff8f,#7cff83,#87ff78,#8fff70,#98ff67,#a0ff5f,#a9ff56,#b2ff4d,#b9ff46,#c0ff3f,#c6ff39,#c9ff36,#caff35)"></i>
<i style="top:172px;height:5px;background:linear-gradient(90deg,#00ebff,#00fbff,#0efff1,#22ffdd,#35ffca,#49ffb6,#5cffa3,#6dff92,#7bff84,#88ff77,#92ff6d,#9aff65,#a3ff5c,#abff54,#b4ff4b,#bcff43,#c3ff3c,#caff35,#cfff30,#d2ff2d,#d2ff2d)"></i>
<i style="top:176px;height:5px;background:linear-gradient(90deg,#00f9ff,#0cfff3,#1fffe0,#32ffcd,#46ffb9,#58ffa7,#69ff96,#79ff86,#87ff78,#93ff6c,#9dff62,#a5ff5a,#aeff51,#b6ff49,#bfff40,#c7ff38,#ceff31,#d4ff2b,#d8ff27,#dbff24,#dbff24)"></i>
<i style="top:180px;height:5px;background:linear-gradient(90deg,#09fff6,#1dffe2,#30ffcf,#43ffbc,#56ffa9,#67ff98,#78ff87,#86ff79,#93ff6c,#9eff61,#a8ff57,#b1ff4e,#b9ff46,#c1ff3e,#caff35,#d2ff2d,#d9ff26,#dfff20,#e3ff1c,#e5ff1a,#e5ff1a)"></i>
<i style="top:184px;height:5px;background:linear-gradient(90deg,#1affe5,#2fffd0,#42ffbd,#55ffaa,#66ff99,#76ff89,#86ff79,#93ff6c,#9fff60,#aaff55,#b3ff4c,#bcff43,#c4ff3b,#cdff32,#d5ff2a,#ddff22,#e4ff1b,#eaff15,#eeff11,#f1ff0e,#f1ff0e)"></i>
<i style="top:188px;height:5px;background:linear-gradient(90deg,#2cffd3,#41ffbe,#54ffab,#66ff99,#76ff89,#85ff7a,#93ff6c,#a0ff5f,#abff54,#b5ff4a,#beff41,#c7ff38,#d0ff2f,#d8ff27,#e1ff1e,#e9ff16,#f0ff0f,#f6ff09,#fbff04,#feff01,#feff01)"></i>
<i style="top:192px;height:5px;background:linear-gradient(90deg,#40ffbf,#53ffac,#66ff99,#77ff88,#86ff79,#94ff6b,#a1ff5e,#adff52,#b7ff48,#c1ff3e,#caff35,#d2ff2d,#dbff24,#e4ff1b,#ecff13,#f5ff0a,#fcff03,#fffb00,#fff600,#fff300,#fff200)"></i>
<i style="top:196px;height:5px;background:linear-gradient(90deg,#53ffac,#66ff99,#77ff88,#87ff78,#95ff6a,#a3ff5c,#afff50,#baff45,#c4ff3b,#cdff32,#d5ff2a,#ddff22,#e6ff19,#efff10,#f8ff07,#fffd00,#fff500,#ffee00,#ffe900,#ffe500,#ffe300)"></i>
<i style="top:200px;height:5px;background:linear-gradient(90deg,#67ff98,#79ff86,#89ff76,#97ff68,#a4ff5b,#b1ff4e,#bcff43,#c6ff39,#cfff30,#d8ff27,#e0ff1f,#e8ff17,#f1ff0e,#faff05,#fffb00,#fff200,#ffe900,#ffe100,#ffdb00,#ffd700,#ffd500)"></i>
<i style="top:204px;height:5px;background:linear-gradient(90deg,#7bff84,#8bff74,#99ff66,#a6ff59,#b3ff4c,#beff41,#c9ff36,#d2ff2d,#dbff24,#e3ff1c,#ebff14,#f3ff0c,#fcff03,#fff900,#fff000,#ffe600,#ffdd00,#ffd500,#ffce00,#ffc900,#ffc600)"></i>
<i style="top:208px;height:5px;background:linear-gradient(90deg,#8eff71,#9cff63,#a9ff56,#b5ff4a,#c0ff3f,#cbff34,#d5ff2a,#deff21,#e6ff19,#eeff11,#f6ff09,#feff01,#fff800,#ffee00,#ffe500,#ffdb00,#ffd100,#ffc900,#ffc100,#ffbb00,#ffb800)"></i>
<i style="top:212px;height:5px;background:linear-gradient(90deg,#a0ff5f,#acff53,#b8ff47,#c3ff3c,#cdff32,#d7ff28,#e1ff1e,#e9ff16,#f2ff0d,#f9ff06,#fffd00,#fff600,#ffee00,#ffe400,#ffda00,#ffd000,#ffc600,#ffbd00,#ffb500,#ffaf00,#ffaa00)"></i>
<i style="top:216px;height:5px;background:linear-gradient(90deg,#b0ff4f,#bbff44,#c5ff3a,#cfff30,#d9ff26,#e3ff1c,#ecff13,#f4ff0b,#fcff03,#fffa00,#fff300,#ffec00,#ffe400,#ffdb00,#ffd100,#ffc600,#ffbc00,#ffb200,#ffaa00,#ffa300,#ff9d00)"></i>
<i style="top:220px;height:5px;background:linear-gradient(90deg,#bfff40,#c8ff37,#d1ff2e,#dbff24,#e4ff1b,#edff12,#f6ff09,#ffff00,#fff800,#fff100,#ffea00,#ffe200,#ffdb00,#ffd100,#ffc700,#ffbd00,#ffb300,#ffa900,#ffa000,#ff9800,#ff9200)"></i>
<i style="top:224px;height:5px;background:linear-gradient(90deg,#cbff34,#d3ff2c,#dcff23,#e5ff1a,#eeff11,#f7ff08,#fffe00,#fff600,#ffee00,#ffe700,#ffe000,#ffd900,#ffd200,#ffc900,#ffbf00,#ffb500,#ffab00,#ffa100,#ff9700,#ff8f00,#ff8900)"></i>
<i style="top:228px;height:5px;background:linear-gradient(90deg,#d5ff2a,#dcff23,#e4ff1b,#edff12,#f6ff09,#fffe00,#fff500,#ffed00,#ffe500,#ffde00,#ffd800,#ffd100,#ffca00,#ffc100,#ffb800,#ffae00,#ffa400,#ff9a00,#ff9000,#ff8800,#ff8100)"></i>
<i style="top:232px;height:5px;background:linear-gradient(90deg,#dcff23,#e3ff1c,#ebff14,#f4ff0b,#feff01,#fff700,#ffed00,#ffe500,#ffdd00,#ffd600,#ffcf00,#ffc900,#ffc200,#ffba00,#ffb100,#ffa800,#ff9e00,#ff9400,#ff8b00,#ff8300,#ff7c00)"></i>
<i style="top:236px;height:5px;background:linear-gradient(90deg,#dfff20,#e7ff18,#f0ff0f,#f9ff06,#fffb00,#fff000,#ffe700,#ffdd00,#ffd500,#ffce00,#ffc800,#ffc200,#ffbb00,#ffb400,#ffac00,#ffa300,#ff9a00,#ff9100,#ff8900,#ff8100,#ff7900)"></i>
</div>
<svg width="1178" height="831" viewBox="0 0 1178 831">
<defs>
<g id="geo">
<polyline points="28.6,0.0 28.3,2.4 29.6,4.8 29.4,8.5 29.7,12.0 29.8,13.8 28.9,16.9 28.6,19.5 31.4,21.2 33.7,21.2 37.4,19.6 40.4,18.7 42.7,16.1 43.8,13.6 47.0,14.0 49.0,14.1 53.3,13.6 56.1,13.5 59.1,13.6 61.4,13.4 63.9,13.0 67.6,12.7 70.4,9.6 72.7,6.8 72.8,4.2 72.7,0.0" fill="none" stroke="#0d1a0d" stroke-width="1.1" stroke-linejoin="round"/>
<polyline points="62.5,15.3 62.4,17.6 60.8,21.2 62.6,24.8 63.4,28.0 63.7,30.6 65.2,32.9 66.8,36.5 65.6,40.2 64.2,42.4 62.5,45.0" fill="none" stroke="#0d1a0d" stroke-width="1.1" stroke-linejoin="round"/>
<polyline points="221.1,0.0 219.9,3.5 219.8,5.0 219.2,8.7 217.7,11.3 216.2,13.4 213.6,14.4 211.5,17.2 209.3,18.0 206.4,19.8 209.3,21.4 210.6,22.2 213.0,24.1 215.6,26.2 219.0,27.9 221.1,29.4 223.5,29.2 225.9,28.4 229.3,27.8 230.8,28.2 234.4,26.7 236.3,26.5 239.1,26.0 242.0,24.6 243.6,23.7 247.8,22.7 249.9,21.9 252.7,21.5 255.0,20.1 258.2,19.2 260.3,18.2 264.0,18.1 265.9,17.5 268.3,16.1 271.5,16.2 274.5,15.0 276.5,15.0 278.4,15.5 281.3,13.3 284.3,13.5 287.3,14.4 290.5,16.3 293.3,18.1 295.6,22.6 297.7,22.9 301.7,24.4 304.6,25.9 306.9,27.1 310.5,25.6 312.5,24.8 310.9,21.0 310.2,18.1 310.2,14.9 309.1,11.3 311.1,8.7 314.0,8.3 315.9,5.6 316.1,1.9 315.9,0.0" fill="none" stroke="#0d1a0d" stroke-width="1.1" stroke-linejoin="round"/>
<polyline points="315.9,4.5 318.0,3.8 321.2,3.7 324.7,4.5" fill="none" stroke="#0d1a0d" stroke-width="1.1" stroke-linejoin="round"/>
<polyline points="24.1,99.4 22.8,103.0 23.2,106.0 24.8,108.7 25.7,112.4 25.7,115.6 25.2,119.0 24.5,120.0 22.3,123.6 21.7,126.0 20.2,127.3 17.0,130.0 13.8,132.1 10.6,132.7 8.1,134.7 5.5,135.8 3.5,135.9 0.0,137.2" fill="none" stroke="#0d1a0d" stroke-width="1.1" stroke-linejoin="round"/>
<polyline points="0.0,210.8 3.7,210.9 7.2,210.2 9.9,209.8 13.4,209.9 15.1,210.0 18.0,210.8 22.1,209.8 25.2,208.8 27.3,207.2 30.3,206.7 33.7,206.6 36.8,206.0 39.4,205.3 42.5,205.7 43.4,202.0 43.4,200.6 44.3,196.6 44.5,194.5 46.8,194.8 50.2,194.5 52.7,193.5 56.1,193.1 58.8,193.3 60.8,192.5 63.2,191.2 65.5,190.3 69.0,189.4 72.9,189.0 75.2,189.4 78.1,190.4 78.9,193.8 81.2,196.6 85.3,195.8" fill="none" stroke="#0d1a0d" stroke-width="1.1" stroke-linejoin="round"/>
<polyline points="48.7,202.0 50.7,199.2 53.7,198.0 55.6,199.3 58.7,200.0 61.9,197.6 64.7,197.0 62.7,200.8 61.7,203.0 58.5,203.4 56.2,204.2 53.7,204.0" fill="none" stroke="#0d1a0d" stroke-width="1.1" stroke-linejoin="round"/>
<polyline points="88.7,179.0 93.7,178.0 95.9,180.5 97.7,182.0 95.3,182.4 92.7,184.0 89.7,182.0" fill="none" stroke="#0d1a0d" stroke-width="1.1" stroke-linejoin="round"/>
<polyline points="244.7,135.0 247.6,133.7 251.7,134.0 255.4,132.5 257.0,133.2 260.9,131.5 263.0,132.5 265.4,132.0 268.8,132.3 270.9,131.5 274.2,129.8 277.0,128.8 279.1,126.8 280.9,129.1 283.2,130.3 285.4,133.1 284.8,135.6 283.0,137.8 286.5,137.5 289.0,138.1 292.3,137.6 294.8,138.6 299.6,137.0 296.9,135.4 294.8,133.9 296.0,132.2 299.2,130.2 301.0,128.8 302.7,126.8 304.8,127.3 308.9,128.0 310.6,129.1 311.4,133.9 314.3,132.2 316.8,131.3 321.1,131.3 323.3,129.9 325.7,129.0" fill="none" stroke="#0d1a0d" stroke-width="1.1" stroke-linejoin="round"/>
<polyline points="205.6,159.6 205.4,161.4 203.8,162.9 203.7,163.5 202.1,163.2 200.4,163.4 202.3,164.1" fill="none" stroke="#0d1a0d" stroke-width="1.1" stroke-linejoin="round"/>
<polyline points="210.3,156.5 211.1,157.1 209.4,154.7 209.5,152.5 208.0,151.2 205.6,151.0 205.4,152.7" fill="none" stroke="#0d1a0d" stroke-width="1.1" stroke-linejoin="round"/>
<polyline points="207.8,161.2 205.4,159.1 206.1,158.6 206.4,160.8 204.3,159.6 205.6,159.6 203.2,159.9" fill="none" stroke="#0d1a0d" stroke-width="1.1" stroke-linejoin="round"/>
<polyline points="194.3,151.0 193.7,153.3 195.4,150.8 194.0,152.9 193.8,155.3 193.3,153.2" fill="none" stroke="#0d1a0d" stroke-width="1.1" stroke-linejoin="round"/>
<polyline points="211.5,163.8 210.7,162.8 208.2,162.4 210.3,160.6 211.4,158.1 211.2,158.1" fill="none" stroke="#0d1a0d" stroke-width="1.1" stroke-linejoin="round"/>
<polyline points="213.2,152.6 215.6,153.9 215.2,153.3 214.7,155.8 212.2,157.6" fill="none" stroke="#0d1a0d" stroke-width="1.1" stroke-linejoin="round"/>
<polyline points="222.9,160.3 221.4,159.7 223.2,160.4 221.2,162.9" fill="none" stroke="#0d1a0d" stroke-width="1.1" stroke-linejoin="round"/>
<polyline points="197.7,153.9 199.4,153.3 197.3,151.9 197.9,149.5 197.3,150.1 195.4,150.5" fill="none" stroke="#0d1a0d" stroke-width="1.1" stroke-linejoin="round"/>
<polyline points="218.2,151.6 216.6,149.8 218.6,151.4 217.4,149.9 218.6,152.1 217.1,154.3 219.0,154.9" fill="none" stroke="#0d1a0d" stroke-width="1.1" stroke-linejoin="round"/>
<polyline points="204.6,151.0 204.7,149.7 205.9,149.2 205.5,151.2" fill="none" stroke="#0d1a0d" stroke-width="1.1" stroke-linejoin="round"/>
<polyline points="206.9,158.9 205.0,158.8 205.8,159.4 203.7,157.9" fill="none" stroke="#0d1a0d" stroke-width="1.1" stroke-linejoin="round"/>
<polyline points="220.9,163.2 219.7,163.0 217.5,161.3 216.9,161.7" fill="none" stroke="#0d1a0d" stroke-width="1.1" stroke-linejoin="round"/>
<polyline points="195.0,155.9 197.4,156.7 198.4,157.1 196.6,154.8 194.2,156.8 195.2,159.1 192.8,159.8" fill="none" stroke="#0d1a0d" stroke-width="1.1" stroke-linejoin="round"/>
<polyline points="206.6,162.9 204.8,160.7 204.6,160.1 202.3,162.3 203.5,160.4 205.8,159.6" fill="none" stroke="#0d1a0d" stroke-width="1.1" stroke-linejoin="round"/>
<polyline points="193.5,158.0 195.4,157.6 196.8,159.4 197.2,160.0" fill="none" stroke="#0d1a0d" stroke-width="1.1" stroke-linejoin="round"/>
<polyline points="203.3,160.1 201.2,160.8 203.7,162.7 204.8,162.1" fill="none" stroke="#0d1a0d" stroke-width="1.1" stroke-linejoin="round"/>
<polyline points="215.0,160.0 214.8,160.2 214.9,160.3 213.9,158.3 211.5,160.5 209.6,161.9 210.4,161.9" fill="none" stroke="#0d1a0d" stroke-width="1.1" stroke-linejoin="round"/>
<polyline points="220.3,156.0 221.2,154.5 219.5,156.5 220.3,156.2 222.3,155.4" fill="none" stroke="#0d1a0d" stroke-width="1.1" stroke-linejoin="round"/>
<polyline points="212.7,152.8 214.2,154.0 212.7,152.6 211.3,154.7 209.8,152.9 209.1,154.9 206.8,152.7" fill="none" stroke="#0d1a0d" stroke-width="1.1" stroke-linejoin="round"/>
<polyline points="223.1,164.6 222.8,163.5 221.4,163.1 222.0,163.0" fill="none" stroke="#0d1a0d" stroke-width="1.1" stroke-linejoin="round"/>
<polyline points="201.1,164.9 200.2,166.6 199.1,167.1 200.0,166.0 199.3,166.8 199.6,167.5 199.1,165.9" fill="none" stroke="#0d1a0d" stroke-width="1.1" stroke-linejoin="round"/>
<polyline points="216.1,154.1 217.6,156.5 215.6,154.5 215.8,155.2 215.2,153.1" fill="none" stroke="#0d1a0d" stroke-width="1.1" stroke-linejoin="round"/>
<polyline points="197.2,164.7 195.6,162.2 195.5,163.3 193.9,162.1 193.1,163.1 193.2,163.7" fill="none" stroke="#0d1a0d" stroke-width="1.1" stroke-linejoin="round"/>
<polyline points="215.7,156.5 213.6,158.6 214.7,156.8 214.5,157.4 216.5,156.8" fill="none" stroke="#0d1a0d" stroke-width="1.1" stroke-linejoin="round"/>
<polyline points="209.5,165.7 209.3,166.5 207.8,167.6 209.4,168.3 210.5,166.8 212.5,169.3" fill="none" stroke="#0d1a0d" stroke-width="1.1" stroke-linejoin="round"/>
<polyline points="223.0,159.2 221.8,160.3 219.3,160.3 217.0,159.5 216.6,158.4 218.7,157.0" fill="none" stroke="#0d1a0d" stroke-width="1.1" stroke-linejoin="round"/>
<polygon points="155.7,169.0 159.7,167.0 163.7,169.0 164.7,172.0 160.7,174.0 156.7,173.0" fill="#f01810"/>
<polyline points="90.9,196.7 87.6,196.3 85.3,195.8 86.0,192.2 87.2,188.3 86.5,185.0 84.5,183.9 84.4,180.8 81.6,178.5 79.7,177.1 77.3,175.1 73.2,173.3 71.0,172.4 67.6,171.5 66.9,167.1 65.7,164.0 67.8,162.3 69.4,159.3 72.2,158.8 75.0,157.5 78.8,154.7 81.0,150.6 82.5,148.1 85.5,146.7 87.1,144.2 90.0,143.5 91.1,139.7 90.9,136.0 90.6,133.7 85.7,132.5 85.5,130.2 84.6,126.5 84.7,124.5 83.8,121.5 83.6,119.0 84.1,114.7 83.1,112.7 79.8,112.8 78.7,113.8 75.4,114.1 72.6,114.9 69.9,115.7 66.0,114.4 62.7,112.7 60.0,113.0 57.4,112.7 54.8,112.4 51.7,110.5 49.2,111.5 45.7,110.3 43.2,109.6 39.7,108.2 36.1,107.9 35.5,105.0 33.7,101.8 30.1,100.2 27.9,101.1 24.1,99.4 24.0,96.9 25.3,93.4 27.5,91.0 30.1,89.8 29.7,86.7 30.1,82.6 34.9,80.8 38.0,77.9 39.7,76.6 41.2,72.7 42.2,70.5 46.2,69.6 49.4,69.3 53.0,65.7 56.1,65.0 57.8,63.4 60.2,60.9 58.1,57.1 56.6,54.9 56.8,51.3 56.1,49.1 56.6,46.5 59.8,45.6 62.7,46.0 67.4,47.7 69.7,47.0 73.7,45.0 76.9,45.3 80.7,44.0 81.4,41.0 80.6,38.4 80.7,35.6 84.0,36.7 86.7,37.4 89.2,39.8 92.3,41.8 93.9,44.0 94.2,47.6 94.2,50.1 95.1,53.7 97.2,56.1 97.6,57.6 98.7,60.9 101.8,61.8 104.3,62.7 108.4,63.3 108.6,66.1 108.4,70.5 110.2,72.9 111.9,75.1 113.2,77.8 115.2,81.0 115.5,82.6 118.0,86.2 122.8,86.2 125.6,89.4 127.7,91.0 130.3,89.9 133.7,89.0 136.7,88.5 139.1,88.4 142.1,88.6 142.1,83.8 144.6,82.2 147.1,80.0 150.7,77.5 152.9,76.6 155.6,77.4 157.7,76.9 161.1,77.4 162.6,78.2 166.1,78.0 168.3,79.1 169.2,75.8 171.4,73.1 172.1,70.2 175.6,68.3 177.5,67.9 181.3,66.3 183.5,65.1 186.2,63.9 190.0,63.6 193.7,64.3 196.3,63.2 198.9,62.7 203.2,63.2 206.4,62.5 209.0,62.6 210.9,63.5 214.7,64.7 216.7,66.4 216.8,69.2 217.4,72.2 217.9,75.3 221.2,75.6 222.1,78.0 226.2,79.0 228.1,79.1 230.1,82.4 233.1,83.7 234.5,86.7 236.6,89.9 238.2,91.9 239.6,94.4 240.8,96.7 242.3,98.7 244.5,101.7 245.9,104.6 248.5,108.4 249.9,106.3 253.6,105.9 255.9,102.1 257.0,100.0 260.8,99.7 264.0,99.5 266.3,98.2 270.4,97.7 272.2,97.4 276.5,96.3 279.1,98.4 281.7,99.8 285.4,102.0 285.4,107.1 283.2,108.8 280.2,111.3 277.8,112.2 275.8,113.6 272.9,116.2 271.0,117.7 268.8,118.9 265.8,118.8 263.3,119.7 260.4,122.3 257.4,123.7 253.8,123.6 253.7,127.3 254.8,130.0 256.9,133.1 257.4,135.1 260.9,137.0" fill="none" stroke="#f01810" stroke-width="1.7" stroke-linejoin="round"/>
<polyline points="90.9,196.7 92.8,192.0 97.1,191.6 100.3,193.0 103.3,193.2 105.9,192.0 107.0,189.7 109.2,188.3 111.5,186.4 114.2,184.5 117.1,182.7 119.9,183.7 121.7,186.4 126.4,186.4 130.1,184.6 129.3,180.8 129.4,177.6 130.1,175.2 132.4,173.5 132.9,170.5 135.7,171.5 136.9,174.8 139.5,178.0 141.3,182.7 145.7,180.0 147.4,177.2 149.7,175.0 151.9,173.8 154.7,172.0" fill="none" stroke="#f01810" stroke-width="1.7" stroke-linejoin="round"/>
<polyline points="118.0,86.2 117.5,89.5 116.7,93.4 116.6,96.3 116.9,99.9 118.0,103.0 115.9,106.0 116.7,109.0 115.9,111.8 117.1,115.6 115.7,118.2 114.7,120.4 112.9,121.4 110.6,123.0 107.7,124.0 105.1,125.4 102.7,127.6 100.2,128.9 95.4,130.1 92.9,132.2 90.6,133.7" fill="none" stroke="#f01810" stroke-width="1.7" stroke-linejoin="round"/>
<polyline points="127.7,91.0 130.0,93.0 132.4,96.0 134.7,97.8 136.1,98.8 138.9,101.0 141.3,101.8 142.6,104.9 142.3,108.5 143.6,111.9 143.1,114.2 144.2,117.2 145.0,120.7 147.1,123.0 149.3,127.0 150.9,129.7 153.8,132.4 155.7,134.5 158.7,135.2 160.2,135.9 163.5,136.4 165.0,133.9 168.3,132.6" fill="none" stroke="#f01810" stroke-width="1.7" stroke-linejoin="round"/>
<polyline points="91.8,139.7 95.3,136.5 97.8,134.9 100.3,134.2 104.9,134.3 107.4,134.9 109.4,134.7 112.4,133.9 115.9,132.5 119.2,131.3 121.9,128.9 126.3,129.6 129.1,130.1 133.9,131.3 135.1,136.1 138.0,137.1 139.9,139.7 140.7,142.7 140.9,145.0 141.3,149.5 141.2,151.7 139.8,154.4 139.9,157.8 138.2,161.4 136.3,163.8 135.2,166.8 135.1,171.0" fill="none" stroke="#f01810" stroke-width="1.7" stroke-linejoin="round"/>
<polyline points="168.3,132.6 166.3,127.8 165.2,124.8 165.5,121.1 164.4,118.1 163.5,114.3 166.6,113.4 170.2,112.8 173.0,112.4 175.6,112.2 180.3,111.8 183.0,111.1 185.6,111.4 188.6,112.2 191.3,112.2 193.7,112.8 197.1,112.3 199.1,113.3 200.8,116.6 203.9,119.1 207.0,121.1 208.7,123.0 210.6,127.8 208.7,132.6" fill="none" stroke="#f01810" stroke-width="1.7" stroke-linejoin="round"/>
<polyline points="186.1,111.0 186.4,108.0 186.4,103.8 187.4,100.8 189.4,99.0 192.4,96.9 192.4,91.8 189.8,89.4 188.3,88.8 185.4,86.5 183.5,84.2 184.0,82.3 184.8,79.1 187.3,77.4 188.9,75.7 191.7,75.0 193.4,73.7 196.3,72.7 196.0,70.0 195.7,67.3 196.3,63.2" fill="none" stroke="#f01810" stroke-width="1.7" stroke-linejoin="round"/>
<polyline points="208.7,132.6 211.9,132.8 215.0,133.2 218.3,132.6 221.3,134.6 223.1,136.4 226.3,136.2 230.2,135.0 232.8,134.5 236.2,134.7 238.7,132.7 241.7,132.6 244.9,131.5 248.0,133.0 252.0,133.8 255.0,135.3 257.4,135.1" fill="none" stroke="#f01810" stroke-width="1.7" stroke-linejoin="round"/>
<polyline points="185.6,148.0 188.9,147.3 190.4,147.2 193.1,147.8 197.0,147.9 199.1,147.0 201.4,147.2 204.2,145.9 207.7,144.8 209.2,145.7 212.3,144.3 215.4,144.1 218.4,145.0 220.3,145.1 224.1,146.0 225.0,149.2 225.5,152.6 227.0,155.7 227.8,158.4 227.1,160.8 226.6,164.6 226.3,167.9 227.0,170.1 225.1,169.4 222.5,170.0 219.6,170.8 216.1,170.7 214.1,171.0 210.8,171.0 209.4,170.9 206.0,169.9 203.3,170.4 201.1,171.1 198.2,170.3 195.7,171.1 192.2,171.7 190.4,170.4 187.5,171.1" fill="none" stroke="#f01810" stroke-width="1.7" stroke-linejoin="round"/>
<polyline points="178.9,134.5 180.6,136.4 180.5,140.0 181.7,142.2 183.8,145.2 185.6,148.0 185.4,151.8 184.6,155.7 183.8,159.0 183.7,163.4 183.6,166.4 185.4,168.6 185.6,171.1" fill="none" stroke="#f01810" stroke-width="1.7" stroke-linejoin="round"/>
<polyline points="168.3,132.6 167.9,135.0 166.7,138.0 167.8,140.8 169.7,144.0 169.4,146.7 167.7,151.0 169.2,154.0 170.7,158.0 170.5,160.4 169.1,163.2 168.7,166.0 166.8,169.5 164.7,172.0 161.4,173.6 158.7,174.0 155.5,172.1 153.7,171.0" fill="none" stroke="#f01810" stroke-width="1.7" stroke-linejoin="round"/>
<polyline points="140.4,138.3 140.0,140.8 141.5,145.2 141.3,148.0 142.7,150.3 145.2,153.7 146.9,156.6 149.0,158.6 150.5,162.4 150.9,165.3 153.0,168.0 154.7,172.0" fill="none" stroke="#f01810" stroke-width="1.7" stroke-linejoin="round"/>
<polyline points="100.7,197.0 103.7,195.0 107.7,197.0 110.7,195.0" fill="none" stroke="#f01810" stroke-width="1.7" stroke-linejoin="round"/>
<polyline points="112.7,199.0 115.7,196.0 118.7,199.0" fill="none" stroke="#f01810" stroke-width="1.7" stroke-linejoin="round"/>
<polyline points="157.7,164.0 160.7,167.0 158.7,171.0 161.7,174.0" fill="none" stroke="#f01810" stroke-width="1.7" stroke-linejoin="round"/>
<polyline points="189.7,176.0 193.7,174.0 197.7,177.0" fill="none" stroke="#f01810" stroke-width="1.7" stroke-linejoin="round"/>
<polyline points="203.7,180.0 206.0,178.4 208.7,178.0" fill="none" stroke="#f01810" stroke-width="1.7" stroke-linejoin="round"/>
<polyline points="213.7,174.0 216.7,173.1 219.7,172.0" fill="none" stroke="#f01810" stroke-width="1.7" stroke-linejoin="round"/>
<polyline points="178.9,166.0 177.3,165.2 178.7,163.4" fill="none" stroke="#f01810" stroke-width="1.7" stroke-linejoin="round"/>
<polyline points="153.1,168.5 153.1,169.4 152.8,171.3 153.2,172.2 154.5,171.9" fill="none" stroke="#f01810" stroke-width="1.7" stroke-linejoin="round"/>
<polyline points="167.8,177.3 168.5,177.4 170.2,177.7 169.3,177.1 171.0,179.1" fill="none" stroke="#f01810" stroke-width="1.7" stroke-linejoin="round"/>
<polyline points="155.2,177.8 155.3,178.2 153.8,178.4 153.8,178.9 151.5,181.2" fill="none" stroke="#f01810" stroke-width="1.7" stroke-linejoin="round"/>
<polyline points="166.3,165.2 164.4,163.2 162.7,165.3 162.5,167.4 164.0,167.0" fill="none" stroke="#f01810" stroke-width="1.7" stroke-linejoin="round"/>
<polyline points="156.6,167.8 156.2,169.4 158.2,169.3 157.3,167.7" fill="none" stroke="#f01810" stroke-width="1.7" stroke-linejoin="round"/>
<polyline points="169.9,179.9 171.0,182.3 168.6,180.6" fill="none" stroke="#f01810" stroke-width="1.7" stroke-linejoin="round"/>
<polyline points="148.1,162.0 147.4,162.6 145.4,163.7 143.5,163.8 142.3,162.2" fill="none" stroke="#f01810" stroke-width="1.7" stroke-linejoin="round"/>
<polyline points="166.8,166.2 167.5,167.9 168.0,168.0 169.9,168.2" fill="none" stroke="#f01810" stroke-width="1.7" stroke-linejoin="round"/>
<polyline points="155.6,160.1 156.1,161.8 154.8,163.0 156.3,165.1 155.4,164.1" fill="none" stroke="#f01810" stroke-width="1.7" stroke-linejoin="round"/>
<polyline points="180.9,160.1 182.9,158.3 181.6,159.4" fill="none" stroke="#f01810" stroke-width="1.7" stroke-linejoin="round"/>
<polyline points="157.0,156.7 157.3,157.7 155.8,158.4 157.3,156.4" fill="none" stroke="#f01810" stroke-width="1.7" stroke-linejoin="round"/>
<polyline points="168.2,164.0 166.3,164.0 167.6,164.1 168.5,162.5" fill="none" stroke="#f01810" stroke-width="1.7" stroke-linejoin="round"/>
<polyline points="150.2,157.0 151.5,157.5 153.6,157.4" fill="none" stroke="#f01810" stroke-width="1.7" stroke-linejoin="round"/>
<polyline points="155.2,167.1 156.7,169.3 158.5,167.5 156.6,169.5" fill="none" stroke="#f01810" stroke-width="1.7" stroke-linejoin="round"/>
<polyline points="158.7,173.6 158.2,173.3 157.6,172.0 157.0,172.6 155.0,171.3" fill="none" stroke="#f01810" stroke-width="1.7" stroke-linejoin="round"/>
<polyline points="158.0,169.6 157.6,168.3 156.1,168.3 154.0,170.0 155.3,170.9" fill="none" stroke="#f01810" stroke-width="1.7" stroke-linejoin="round"/>
<polyline points="163.9,172.3 164.2,170.9 164.6,170.2 165.7,169.3 164.0,170.3 162.5,172.2" fill="none" stroke="#f01810" stroke-width="1.7" stroke-linejoin="round"/>
<polyline points="154.4,169.3 155.6,170.5 155.2,171.4 153.3,170.7 153.2,168.6" fill="none" stroke="#f01810" stroke-width="1.7" stroke-linejoin="round"/>
<polyline points="157.3,172.4 156.1,174.3 156.9,173.6" fill="none" stroke="#f01810" stroke-width="1.7" stroke-linejoin="round"/>
<polyline points="161.3,171.7 160.8,173.9 161.4,174.8" fill="none" stroke="#f01810" stroke-width="1.7" stroke-linejoin="round"/>
<polyline points="162.6,175.8 160.9,174.1 159.8,173.8" fill="none" stroke="#f01810" stroke-width="1.7" stroke-linejoin="round"/>
<polyline points="168.7,153.1 166.6,152.0 165.6,151.3 165.8,150.9 165.9,152.5 164.1,152.2" fill="none" stroke="#f01810" stroke-width="1.7" stroke-linejoin="round"/>
<polyline points="170.1,146.9 169.6,148.9 169.1,150.9" fill="none" stroke="#f01810" stroke-width="1.7" stroke-linejoin="round"/>
<polyline points="172.3,146.7 171.9,146.7 171.0,146.2" fill="none" stroke="#f01810" stroke-width="1.7" stroke-linejoin="round"/>
<polyline points="166.8,146.4 167.5,146.6 166.6,147.6 165.7,145.5 164.5,143.5 163.0,144.6" fill="none" stroke="#f01810" stroke-width="1.7" stroke-linejoin="round"/>
<polyline points="167.6,157.0 165.6,159.2 167.6,157.3 169.4,157.0 169.3,159.1 168.1,159.2" fill="none" stroke="#f01810" stroke-width="1.7" stroke-linejoin="round"/>
<polyline points="173.1,152.0 171.5,154.0 170.4,154.9 168.4,154.5 166.7,156.1 166.1,154.6" fill="none" stroke="#f01810" stroke-width="1.7" stroke-linejoin="round"/>
<polyline points="167.3,135.1 167.1,134.0 167.5,133.7 168.7,133.8 170.9,135.8 171.9,134.6" fill="none" stroke="#f01810" stroke-width="1.7" stroke-linejoin="round"/>
<polyline points="164.8,156.9 163.8,157.4 164.8,158.2 163.5,157.3 162.3,159.3" fill="none" stroke="#f01810" stroke-width="1.7" stroke-linejoin="round"/>
<polyline points="168.7,149.9 170.4,147.9 168.5,146.9 168.1,147.4" fill="none" stroke="#f01810" stroke-width="1.7" stroke-linejoin="round"/>
<polyline points="164.7,146.7 165.9,148.5 164.4,147.4" fill="none" stroke="#f01810" stroke-width="1.7" stroke-linejoin="round"/>
<polyline points="188.5,152.4 187.3,151.7 188.3,153.2 186.5,151.5 187.8,152.1" fill="none" stroke="#f01810" stroke-width="1.7" stroke-linejoin="round"/>
<polyline points="186.6,142.1 187.7,141.6 186.2,140.1 187.6,140.5 186.7,141.7 188.2,140.3" fill="none" stroke="#f01810" stroke-width="1.7" stroke-linejoin="round"/>
<polyline points="185.6,156.1 187.2,154.2 185.4,154.5 185.3,155.3 184.4,156.5 182.6,155.3" fill="none" stroke="#f01810" stroke-width="1.7" stroke-linejoin="round"/>
<polyline points="185.7,137.1 185.6,138.3 184.9,139.9 183.6,140.6 182.9,142.4" fill="none" stroke="#f01810" stroke-width="1.7" stroke-linejoin="round"/>
<polyline points="182.6,150.8 182.3,152.1 181.5,151.3 181.0,153.2 182.8,152.1" fill="none" stroke="#f01810" stroke-width="1.7" stroke-linejoin="round"/>
<polyline points="183.0,147.9 183.7,148.3 185.0,149.3 184.5,148.8 182.9,149.2" fill="none" stroke="#f01810" stroke-width="1.7" stroke-linejoin="round"/>
<polyline points="181.3,137.4 183.0,136.4 180.9,136.5 181.1,136.8 183.1,137.5 184.5,135.6" fill="none" stroke="#f01810" stroke-width="1.7" stroke-linejoin="round"/>
<polyline points="144.8,186.7 144.1,185.7 142.3,184.9" fill="none" stroke="#f01810" stroke-width="1.7" stroke-linejoin="round"/>
<polyline points="138.0,185.2 139.1,185.8 138.0,184.6" fill="none" stroke="#f01810" stroke-width="1.7" stroke-linejoin="round"/>
<polyline points="147.6,183.7 147.2,183.0 149.2,183.8 149.2,183.9 150.2,184.9 152.0,184.5" fill="none" stroke="#f01810" stroke-width="1.7" stroke-linejoin="round"/>
<polyline points="148.4,185.3 149.8,186.8 151.5,188.8" fill="none" stroke="#f01810" stroke-width="1.7" stroke-linejoin="round"/>
<polyline points="146.0,183.8 147.4,183.4 147.0,181.9" fill="none" stroke="#f01810" stroke-width="1.7" stroke-linejoin="round"/>
<polyline points="147.3,188.9 148.1,188.1 147.7,188.2 146.7,189.9 146.5,191.0 145.7,189.4" fill="none" stroke="#f01810" stroke-width="1.7" stroke-linejoin="round"/>
<polyline points="183.5,183.3 181.4,183.2 182.7,182.4 181.4,181.8 181.8,182.2 181.6,182.2" fill="none" stroke="#f01810" stroke-width="1.7" stroke-linejoin="round"/>
<polyline points="176.3,183.2 174.9,184.3 174.1,184.5 175.5,184.4 174.4,186.1 176.2,185.4" fill="none" stroke="#f01810" stroke-width="1.7" stroke-linejoin="round"/>
<polyline points="177.9,183.7 179.5,183.2 178.3,181.6 179.6,183.7 180.9,184.9 182.1,183.0" fill="none" stroke="#f01810" stroke-width="1.7" stroke-linejoin="round"/>
<polyline points="183.6,183.1 185.3,182.9 184.2,182.6 185.9,182.2 187.1,180.6 188.9,182.0" fill="none" stroke="#f01810" stroke-width="1.7" stroke-linejoin="round"/>
<polyline points="171.7,181.9 171.7,180.0 172.1,178.6 170.8,180.4 169.2,178.7" fill="none" stroke="#f01810" stroke-width="1.7" stroke-linejoin="round"/>
<polyline points="175.0,180.9 176.7,181.8 174.9,182.9" fill="none" stroke="#f01810" stroke-width="1.7" stroke-linejoin="round"/>
<polyline points="194.1,181.6 195.4,181.2 197.2,179.4" fill="none" stroke="#f01810" stroke-width="1.7" stroke-linejoin="round"/>
<polyline points="197.0,176.0 197.1,174.5 198.5,173.6 197.7,171.8 196.8,171.6 197.8,171.0" fill="none" stroke="#f01810" stroke-width="1.7" stroke-linejoin="round"/>
<polyline points="195.6,174.0 196.3,175.1 197.6,173.4 197.4,175.0 198.3,174.9 197.4,173.2" fill="none" stroke="#f01810" stroke-width="1.7" stroke-linejoin="round"/>
<polyline points="196.4,188.3 198.2,186.7 198.7,188.7 199.8,190.7" fill="none" stroke="#f01810" stroke-width="1.7" stroke-linejoin="round"/>
<polyline points="196.2,182.6 195.2,181.2 196.2,180.5" fill="none" stroke="#f01810" stroke-width="1.7" stroke-linejoin="round"/>
<polyline points="198.2,182.7 197.9,182.2 196.2,182.7 194.5,183.3 193.1,181.9" fill="none" stroke="#f01810" stroke-width="1.7" stroke-linejoin="round"/>
<polyline points="122.1,185.2 120.4,183.2 122.5,182.9" fill="none" stroke="#f01810" stroke-width="1.7" stroke-linejoin="round"/>
<polyline points="131.0,184.4 132.8,182.8 131.5,181.3 132.4,181.2 134.2,181.7 135.2,182.2" fill="none" stroke="#f01810" stroke-width="1.7" stroke-linejoin="round"/>
<polyline points="125.5,187.5 126.2,188.0 124.1,187.3 123.4,187.9" fill="none" stroke="#f01810" stroke-width="1.7" stroke-linejoin="round"/>
<polyline points="123.0,184.6 124.2,186.1 124.7,184.6 125.9,186.3 126.1,185.7" fill="none" stroke="#f01810" stroke-width="1.7" stroke-linejoin="round"/>
<polyline points="110.2,192.6 112.4,192.6 113.3,194.1 112.0,196.1" fill="none" stroke="#f01810" stroke-width="1.7" stroke-linejoin="round"/>
<polyline points="113.1,193.2 111.5,193.1 111.2,192.3" fill="none" stroke="#f01810" stroke-width="1.7" stroke-linejoin="round"/>
<polyline points="100.8,200.6 100.6,198.9 102.7,197.3 104.5,197.5 104.8,197.8" fill="none" stroke="#f01810" stroke-width="1.7" stroke-linejoin="round"/>
<polyline points="104.8,201.0 105.2,199.3 106.7,198.4 108.4,197.3 108.7,198.7" fill="none" stroke="#f01810" stroke-width="1.7" stroke-linejoin="round"/>
<polyline points="103.0,197.0 102.8,196.6 104.0,198.5" fill="none" stroke="#f01810" stroke-width="1.7" stroke-linejoin="round"/>
</g>
</defs>
<clipPath id="ka"><rect x="38.3" y="14.0" width="324.6" height="239.6"/></clipPath>
<g clip-path="url(#ka)">
<polyline points="39.7,26.7 46.5,47.1 55.0,57.3 70.3,42.9 78.7,29.3 81.3,14.0" fill="none" stroke="#f0f0f0" stroke-width="1.5" stroke-linejoin="round"/>
<polyline points="116.0,14.0 107.3,28.4 113.7,34.2 124.7,42.9 142.0,44.3 150.7,31.3 153.6,14.0" fill="none" stroke="#f0f0f0" stroke-width="1.5" stroke-linejoin="round"/>
<polyline points="182.8,14.0 186.3,26.0 178.7,38.8 165.1,51.6 153.6,60.2 153.6,83.3 158.3,98.0 140.6,110.0 129.8,129.8 128.0,135.2 133.4,147.8 151.4,155.0 178.4,151.4 200.0,142.4 230.6,149.6 250.0,142.4 263.6,135.3 281.0,129.6 286.7,112.2 289.6,109.3 292.5,89.1 304.0,77.6 327.2,74.7 350.3,80.4 363.3,82.0" fill="none" stroke="#f0f0f0" stroke-width="1.5" stroke-linejoin="round"/>
<polyline points="214.6,77.4 206.3,87.1 217.3,95.4 233.9,106.4 253.2,99.5 267.0,80.2 264.2,67.8 250.4,63.7 231.1,66.4 214.6,77.4" fill="none" stroke="#f0f0f0" stroke-width="1.5" stroke-linejoin="round"/>
<polyline points="361.3,82.0 359.3,99.0 360.3,129.0 363.3,139.0" fill="none" stroke="#f0f0f0" stroke-width="1.5" stroke-linejoin="round"/>
<polyline points="38.3,129.8 52.4,130.7 65.0,133.4 83.0,144.2 101.0,153.2 111.8,164.0 113.6,176.6 120.8,187.4 135.2,193.7 153.2,189.2 173.0,182.0 191.0,178.4 209.0,174.8 227.0,174.8 250.0,165.8 271.3,166.8 295.1,165.7 318.9,165.7 335.5,165.7 363.3,163.0" fill="none" stroke="#f0f0f0" stroke-width="1.5" stroke-linejoin="round"/>
<polyline points="38.3,155.0 55.1,157.7 68.6,167.6 72.2,178.4 69.5,194.6 74.0,210.8 88.4,221.6 110.0,218.0 146.0,212.6 182.0,205.4 218.0,196.4 250.0,190.0 271.3,191.2 306.9,190.0 322.4,191.2 363.3,189.0" fill="none" stroke="#f0f0f0" stroke-width="1.5" stroke-linejoin="round"/>
<polyline points="38.3,245.9 105.5,242.3 128.0,239.6 164.0,232.4 200.0,227.0 250.0,222.5 298.3,220.9 363.3,219.0" fill="none" stroke="#f0f0f0" stroke-width="1.5" stroke-linejoin="round"/>
<use href="#geo" x="38.3" y="14.0"/>
<path d="M54.5 238.6L46.5 240.4M70.8 238.6L62.5 240.6M87.0 238.6L78.5 240.7M103.2 238.6L94.6 240.9M119.5 238.6L110.5 241.1M135.7 238.6L126.4 241.2M151.9 238.6L142.4 241.4M168.1 238.6L158.3 241.6M184.4 238.6L174.2 241.8M200.6 238.6L190.1 241.9M216.8 238.6L206.0 242.1M233.1 238.6L221.9 242.2M249.3 238.6L237.8 242.3M265.5 238.6L253.7 242.5M281.8 238.6L269.7 242.7M298.0 238.6L285.6 242.9M314.2 238.6L301.5 243.1M330.4 238.6L317.5 243.4M346.7 238.6L333.4 243.6M362.9 238.6L349.4 243.8M54.5 223.7L49.5 224.8M70.8 223.7L65.4 224.9M87.0 223.7L81.2 225.0M103.2 223.7L97.1 225.2M119.5 223.7L112.4 225.5M135.7 223.7L127.8 225.9M151.9 223.7L143.3 226.2M168.1 223.7L158.6 226.7M184.4 223.7L174.2 227.0M200.6 223.7L190.2 227.1M216.8 223.7L206.1 227.3M233.1 223.7L222.0 227.5M249.3 223.7L237.9 227.6M265.5 223.7L253.8 227.7M281.8 223.7L269.7 227.9M298.0 223.7L285.6 228.0M314.2 223.7L301.5 228.2M330.4 223.7L317.5 228.4M346.7 223.7L333.4 228.6M362.9 223.7L349.4 228.8M54.5 208.7L52.4 209.1M70.8 208.7L68.6 209.1M87.0 208.7L84.7 209.2M103.2 208.7L100.7 209.2M119.5 208.7L116.4 209.4M135.7 208.7L131.9 209.6M151.9 208.7L147.2 209.9M168.1 208.7L162.5 210.2M184.4 208.7L177.3 210.8M200.6 208.7L192.3 211.4M216.8 208.7L206.9 212.2M233.1 208.7L222.1 212.7M249.3 208.7L238.0 212.9M265.5 208.7L253.9 213.1M281.8 208.7L269.8 213.2M298.0 208.7L285.7 213.3M314.2 208.7L301.6 213.5M330.4 208.7L317.5 213.6M346.7 208.7L333.4 213.7M362.9 208.7L349.4 213.9M54.5 193.7L52.5 194.1M70.8 193.7L68.8 194.1M87.0 193.7L85.0 194.1M103.2 193.7L101.2 194.1M119.5 193.7L117.5 194.1M135.7 193.7L133.7 194.1M151.9 193.7L149.9 194.1M168.1 193.7L166.0 194.2M184.4 193.7L181.6 194.3M200.6 193.7L196.8 194.7M216.8 193.7L211.7 195.1M233.1 193.7L226.4 195.8M249.3 193.7L241.0 196.7M265.5 193.7L254.9 197.8M281.8 193.7L270.0 198.5M298.0 193.7L285.9 198.7M314.2 193.7L301.8 198.9M330.4 193.7L317.7 199.0M346.7 193.7L333.6 199.1M362.9 193.7L349.5 199.3M54.5 178.7L52.5 179.1M70.8 178.7L68.8 179.1M87.0 178.7L85.0 179.1M103.2 178.7L101.2 179.1M119.5 178.7L117.5 179.1M135.7 178.7L133.7 179.1M151.9 178.7L149.9 179.1M168.1 178.7L166.2 179.1M184.4 178.7L182.4 179.1M200.6 178.7L198.6 179.1M216.8 178.7L214.8 179.1M233.1 178.7L230.7 179.3M249.3 178.7L245.7 179.6M265.5 178.7L260.2 180.3M281.8 178.7L274.6 181.2M298.0 178.7L288.7 182.4M314.2 178.7L302.9 183.6M330.4 178.7L317.9 184.4M346.7 178.7L333.8 184.6M362.9 178.7L349.7 184.8M54.5 163.8L52.5 164.2M70.8 163.8L68.8 164.2M87.0 163.8L85.0 164.2M103.2 163.8L101.2 164.2M119.5 163.8L117.5 164.2M135.7 163.8L133.7 164.2M151.9 163.8L149.9 164.2M168.1 163.8L166.2 164.2M184.4 163.8L182.4 164.2M200.6 163.8L198.6 164.2M216.8 163.8L214.8 164.2M233.1 163.8L231.1 164.2M249.3 163.8L247.3 164.2M265.5 163.8L263.5 164.2M281.8 163.8L279.2 164.3M298.0 163.8L294.1 164.8M314.2 163.8L308.7 165.5M330.4 163.8L323.3 166.4M346.7 163.8L337.6 167.6M362.9 163.8L351.4 169.1M54.5 148.8L52.6 149.2M70.8 148.8L68.8 149.2M87.0 148.8L85.1 149.2M103.2 148.8L101.3 149.2M119.5 148.8L117.5 149.2M135.7 148.8L133.8 149.2M151.9 148.8L150.0 149.2M168.1 148.8L166.2 149.2M184.4 148.8L182.5 149.2M200.6 148.8L198.7 149.2M216.8 148.8L214.9 149.2M233.1 148.8L231.1 149.2M249.3 148.8L247.4 149.2M265.5 148.8L263.6 149.2M281.8 148.8L279.8 149.2M298.0 148.8L296.1 149.2M314.2 148.8L312.3 149.2M330.4 148.8L328.1 149.3M346.7 148.8L343.2 149.7M362.9 148.8L357.8 150.4M54.5 133.8L52.7 134.2M70.8 133.8L68.9 134.2M87.0 133.8L85.2 134.2M103.2 133.8L101.4 134.2M119.5 133.8L117.6 134.2M135.7 133.8L133.8 134.2M151.9 133.8L150.1 134.2M168.1 133.8L166.3 134.2M184.4 133.8L182.5 134.2M200.6 133.8L198.8 134.2M216.8 133.8L215.0 134.2M233.1 133.8L231.2 134.2M249.3 133.8L247.5 134.2M265.5 133.8L263.7 134.2M281.8 133.8L279.9 134.2M298.0 133.8L296.1 134.2M314.2 133.8L312.4 134.2M330.4 133.8L328.6 134.2M346.7 133.8L344.8 134.2M362.9 133.8L361.1 134.2M54.5 118.8L52.8 119.2M70.8 118.8L69.0 119.2M87.0 118.8L85.2 119.2M103.2 118.8L101.5 119.2M119.5 118.8L117.7 119.2M135.7 118.8L133.9 119.2M151.9 118.8L150.2 119.2M168.1 118.8L166.4 119.2M184.4 118.8L182.6 119.2M200.6 118.8L198.8 119.2M216.8 118.8L215.1 119.2M233.1 118.8L231.3 119.2M249.3 118.8L247.5 119.2M265.5 118.8L263.8 119.2M281.8 118.8L280.0 119.2M298.0 118.8L296.2 119.2M314.2 118.8L312.5 119.2M330.4 118.8L328.7 119.2M346.7 118.8L344.9 119.2M362.9 118.8L361.1 119.2M54.5 103.8L52.8 104.2M70.8 103.8L69.1 104.2M87.0 103.8L85.3 104.2M103.2 103.8L101.5 104.2M119.5 103.8L117.8 104.2M135.7 103.8L134.0 104.2M151.9 103.8L150.2 104.2M168.1 103.8L166.5 104.2M184.4 103.8L182.7 104.2M200.6 103.8L198.9 104.2M216.8 103.8L215.1 104.2M233.1 103.8L231.4 104.2M249.3 103.8L247.6 104.2M265.5 103.8L263.8 104.2M281.8 103.8L280.1 104.2M298.0 103.8L296.3 104.2M314.2 103.8L312.5 104.2M330.4 103.8L328.8 104.2M346.7 103.8L345.0 104.2M362.9 103.8L361.2 104.2M54.5 88.9L52.9 89.2M70.8 88.9L69.2 89.2M87.0 88.9L85.4 89.2M103.2 88.9L101.6 89.2M119.5 88.9L117.8 89.2M135.7 88.9L134.1 89.2M151.9 88.9L150.3 89.2M168.1 88.9L166.5 89.2M184.4 88.9L182.8 89.2M200.6 88.9L199.0 89.2M216.8 88.9L215.2 89.2M233.1 88.9L231.5 89.2M249.3 88.9L247.7 89.2M265.5 88.9L263.9 89.2M281.8 88.9L280.1 89.2M298.0 88.9L296.4 89.2M314.2 88.9L312.6 89.2M330.4 88.9L328.8 89.2M346.7 88.9L345.1 89.2M362.9 88.9L361.3 89.2M54.5 73.9L53.0 74.2M70.8 73.9L69.2 74.2M87.0 73.9L85.5 74.2M103.2 73.9L101.7 74.2M119.5 73.9L117.9 74.2M135.7 73.9L134.1 74.2M151.9 73.9L150.4 74.2M168.1 73.9L166.6 74.2M184.4 73.9L182.8 74.2M200.6 73.9L199.1 74.2M216.8 73.9L215.3 74.2M233.1 73.9L231.5 74.2M249.3 73.9L247.8 74.2M265.5 73.9L264.0 74.2M281.8 73.9L280.2 74.2M298.0 73.9L296.4 74.2M314.2 73.9L312.7 74.2M330.4 73.9L328.9 74.2M346.7 73.9L345.1 74.2M362.9 73.9L361.4 74.2M54.5 58.9L53.1 59.2M70.8 58.9L69.3 59.2M87.0 58.9L85.5 59.2M103.2 58.9L101.8 59.2M119.5 58.9L118.0 59.2M135.7 58.9L134.2 59.2M151.9 58.9L150.5 59.2M168.1 58.9L166.7 59.2M184.4 58.9L182.9 59.2M200.6 58.9L199.1 59.2M216.8 58.9L215.4 59.2M233.1 58.9L231.6 59.2M249.3 58.9L247.8 59.2M265.5 58.9L264.1 59.2M281.8 58.9L280.3 59.2M298.0 58.9L296.5 59.2M314.2 58.9L312.8 59.2M330.4 58.9L329.0 59.2M346.7 58.9L345.2 59.2M362.9 58.9L361.4 59.2M54.5 44.0L53.1 44.2M70.8 44.0L69.4 44.2M87.0 44.0L85.6 44.2M103.2 44.0L101.8 44.2M119.5 44.0L118.1 44.2M135.7 44.0L134.3 44.2M151.9 44.0L150.5 44.2M168.1 44.0L166.8 44.2M184.4 44.0L183.0 44.2M200.6 44.0L199.2 44.2M216.8 44.0L215.4 44.2M233.1 44.0L231.7 44.2M249.3 44.0L247.9 44.2M265.5 44.0L264.1 44.2M281.8 44.0L280.4 44.2M298.0 44.0L296.6 44.2M314.2 44.0L312.8 44.2M330.4 44.0L329.1 44.2M346.7 44.0L345.3 44.2M362.9 44.0L361.5 44.2M54.5 29.0L53.2 29.3M70.8 29.0L69.5 29.3M87.0 29.0L85.7 29.3M103.2 29.0L101.9 29.3M119.5 29.0L118.1 29.3M135.7 29.0L134.4 29.3M151.9 29.0L150.6 29.3M168.1 29.0L166.8 29.3M184.4 29.0L183.1 29.3M200.6 29.0L199.3 29.3M216.8 29.0L215.5 29.3M233.1 29.0L231.8 29.3M249.3 29.0L248.0 29.3M265.5 29.0L264.2 29.3M281.8 29.0L280.4 29.3M298.0 29.0L296.7 29.3M314.2 29.0L312.9 29.3M330.4 29.0L329.1 29.3M346.7 29.0L345.4 29.3M362.9 29.0L361.6 29.3" stroke="#140f0f" stroke-width="1.75" fill="none"/>
<path d="M40.8 241.7L46.0 238.0L47.1 242.9zM56.6 242.0L61.9 238.2L63.1 243.0zM72.4 242.3L77.9 238.3L79.1 243.2zM88.3 242.5L93.9 238.5L95.2 243.3zM104.3 242.8L109.9 238.7L111.2 243.5zM120.2 243.0L125.8 238.8L127.1 243.7zM136.1 243.3L141.7 239.0L143.1 243.8zM152.1 243.5L157.6 239.2L159.0 244.0zM168.0 243.7L173.5 239.4L174.9 244.2zM183.9 243.9L189.4 239.5L190.9 244.3zM199.8 244.1L205.3 239.7L206.8 244.5zM215.7 244.2L221.2 239.8L222.7 244.6zM231.6 244.3L237.1 240.0L238.6 244.7zM247.6 244.6L253.0 240.1L254.5 244.9zM263.5 244.8L268.9 240.4L270.5 245.1zM279.5 245.1L284.8 240.6L286.4 245.3zM295.4 245.3L300.7 240.8L302.4 245.5zM311.4 245.6L316.6 241.0L318.3 245.7zM327.3 245.9L332.5 241.3L334.3 245.9zM343.3 246.2L348.5 241.5L350.3 246.2zM45.9 225.6L49.1 222.9L49.9 226.6zM61.5 225.8L64.9 222.9L65.8 226.8zM77.1 226.0L80.7 222.9L81.7 227.1zM92.6 226.3L96.5 223.0L97.6 227.4zM107.3 226.9L111.8 223.1L113.0 227.9zM122.1 227.5L127.1 223.5L128.5 228.3zM137.1 228.1L142.6 223.8L144.0 228.6zM152.4 228.6L157.8 224.3L159.3 229.1zM168.1 229.0L173.5 224.6L175.0 229.3zM184.0 229.2L189.4 224.8L191.0 229.5zM199.9 229.4L205.3 224.9L206.9 229.7zM215.9 229.6L221.2 225.1L222.8 229.8zM231.8 229.8L237.1 225.3L238.7 230.0zM247.7 229.9L253.0 225.4L254.6 230.1zM263.6 230.0L268.9 225.5L270.5 230.2zM279.5 230.1L284.8 225.6L286.4 230.3zM295.4 230.4L300.7 225.8L302.4 230.5zM311.4 230.6L316.6 226.0L318.3 230.7zM327.3 230.9L332.5 226.3L334.3 231.0zM343.3 231.2L348.5 226.5L350.3 231.2zM50.9 209.4L52.2 208.1L52.6 210.1zM67.0 209.5L68.3 208.1L68.8 210.2zM83.0 209.5L84.4 208.1L84.9 210.2zM98.9 209.6L100.5 208.1L101.0 210.3zM114.2 209.9L116.1 208.1L116.7 210.7zM129.1 210.2L131.5 208.1L132.2 211.1zM143.8 210.7L146.8 208.1L147.6 211.6zM158.3 211.3L161.9 208.2L163.0 212.3zM172.2 212.3L176.6 208.4L178.0 213.2zM186.3 213.4L191.5 209.0L193.1 213.8zM200.8 214.3L206.1 209.8L207.8 214.5zM216.0 215.0L221.3 210.4L223.0 215.1zM231.9 215.2L237.1 210.6L238.9 215.2zM247.8 215.3L253.0 210.7L254.8 215.4zM263.8 215.5L268.9 210.9L270.7 215.5zM279.7 215.6L284.8 211.0L286.6 215.7zM295.6 215.8L300.8 211.1L302.5 215.8zM311.5 215.9L316.7 211.2L318.4 215.9zM327.4 216.0L332.6 211.3L334.3 216.0zM343.3 216.2L348.5 211.5L350.3 216.2zM51.1 194.4L52.3 193.1L52.8 195.1zM67.3 194.4L68.6 193.1L69.0 195.1zM83.6 194.4L84.8 193.1L85.2 195.1zM99.8 194.4L101.0 193.1L101.4 195.1zM116.0 194.4L117.3 193.1L117.7 195.1zM132.3 194.4L133.5 193.1L133.9 195.1zM148.5 194.4L149.7 193.1L150.1 195.1zM164.5 194.5L165.8 193.1L166.2 195.2zM179.6 194.8L181.3 193.1L181.9 195.5zM194.0 195.4L196.4 193.1L197.1 196.2zM207.9 196.2L211.1 193.2L212.2 197.0zM221.7 197.3L225.7 193.5L227.2 198.1zM235.0 198.8L240.1 194.3L241.8 199.0zM248.9 200.2L254.0 195.5L255.9 200.2zM263.9 201.0L269.0 196.2L270.9 200.8zM279.9 201.2L284.9 196.4L286.8 201.0zM295.8 201.3L300.8 196.5L302.7 201.2zM311.7 201.5L316.7 196.7L318.7 201.3zM327.6 201.6L332.6 196.8L334.6 201.5zM343.5 201.8L348.6 197.0L350.5 201.6zM51.1 179.5L52.3 178.2L52.8 180.1zM67.3 179.5L68.6 178.2L69.0 180.1zM83.6 179.5L84.8 178.2L85.2 180.1zM99.8 179.5L101.0 178.2L101.4 180.1zM116.0 179.5L117.3 178.2L117.7 180.1zM132.3 179.5L133.5 178.2L133.9 180.1zM148.5 179.5L149.7 178.2L150.1 180.1zM164.7 179.5L165.9 178.2L166.4 180.1zM180.9 179.5L182.2 178.2L182.6 180.1zM197.2 179.5L198.4 178.2L198.8 180.1zM213.4 179.5L214.6 178.2L215.0 180.1zM228.9 179.6L230.4 178.2L230.9 180.3zM243.1 180.3L245.3 178.2L246.1 181.1zM256.4 181.4L259.7 178.4L260.8 182.2zM269.4 183.0L273.8 178.8L275.4 183.6zM282.7 184.8L287.8 180.1L289.7 184.7zM296.9 186.2L301.9 181.3L303.9 185.9zM312.0 187.1L316.9 182.1L319.0 186.7zM327.9 187.3L332.8 182.3L334.8 186.9zM343.8 187.5L348.7 182.5L350.8 187.0zM51.1 164.5L52.3 163.2L52.8 165.1zM67.3 164.5L68.6 163.2L69.0 165.1zM83.6 164.5L84.8 163.2L85.2 165.1zM99.8 164.5L101.0 163.2L101.4 165.1zM116.0 164.5L117.3 163.2L117.7 165.1zM132.3 164.5L133.5 163.2L133.9 165.1zM148.5 164.5L149.7 163.2L150.1 165.1zM164.7 164.5L165.9 163.2L166.4 165.1zM180.9 164.5L182.2 163.2L182.6 165.1zM197.2 164.5L198.4 163.2L198.8 165.1zM213.4 164.5L214.6 163.2L215.1 165.1zM229.6 164.5L230.9 163.2L231.3 165.1zM245.9 164.5L247.1 163.2L247.5 165.1zM262.1 164.5L263.3 163.2L263.7 165.1zM277.4 164.7L278.9 163.2L279.5 165.5zM291.2 165.5L293.7 163.3L294.5 166.3zM304.8 166.7L308.1 163.5L309.4 167.5zM318.1 168.3L322.4 164.0L324.1 168.7zM331.6 170.1L336.6 165.3L338.5 169.9zM345.5 171.9L350.4 166.9L352.5 171.4zM51.2 149.5L52.4 148.2L52.8 150.1zM67.5 149.5L68.6 148.2L69.1 150.1zM83.7 149.5L84.9 148.2L85.3 150.1zM99.9 149.5L101.1 148.2L101.5 150.1zM116.2 149.5L117.3 148.2L117.7 150.1zM132.4 149.5L133.6 148.2L134.0 150.1zM148.6 149.5L149.8 148.2L150.2 150.1zM164.8 149.5L166.0 148.2L166.4 150.1zM181.1 149.5L182.3 148.2L182.7 150.1zM197.3 149.5L198.5 148.2L198.9 150.1zM213.5 149.5L214.7 148.2L215.1 150.1zM229.8 149.5L230.9 148.2L231.4 150.1zM246.0 149.5L247.2 148.2L247.6 150.1zM262.2 149.5L263.4 148.2L263.8 150.1zM278.5 149.5L279.6 148.2L280.0 150.1zM294.7 149.5L295.9 148.2L296.3 150.1zM310.9 149.5L312.1 148.2L312.5 150.1zM326.4 149.7L327.8 148.2L328.3 150.4zM340.6 150.4L342.8 148.3L343.5 151.1zM354.2 151.5L357.2 148.5L358.4 152.2zM51.4 134.5L52.5 133.3L52.9 135.1zM67.6 134.5L68.7 133.3L69.1 135.1zM83.8 134.5L85.0 133.3L85.4 135.1zM100.1 134.5L101.2 133.3L101.6 135.1zM116.3 134.5L117.4 133.3L117.8 135.1zM132.5 134.5L133.6 133.3L134.0 135.1zM148.7 134.5L149.9 133.3L150.3 135.1zM165.0 134.5L166.1 133.3L166.5 135.1zM181.2 134.5L182.3 133.3L182.7 135.1zM197.4 134.5L198.6 133.3L199.0 135.1zM213.7 134.5L214.8 133.3L215.2 135.1zM229.9 134.5L231.0 133.3L231.4 135.1zM246.1 134.5L247.3 133.3L247.7 135.1zM262.4 134.5L263.5 133.3L263.9 135.1zM278.6 134.5L279.7 133.3L280.1 135.1zM294.8 134.5L295.9 133.3L296.3 135.1zM311.0 134.5L312.2 133.3L312.6 135.1zM327.3 134.5L328.4 133.3L328.8 135.1zM343.5 134.5L344.6 133.3L345.0 135.1zM359.7 134.5L360.9 133.3L361.3 135.1zM51.5 119.5L52.6 118.3L53.0 120.1zM67.7 119.5L68.8 118.3L69.2 120.1zM84.0 119.5L85.0 118.3L85.4 120.1zM100.2 119.5L101.3 118.3L101.7 120.1zM116.4 119.5L117.5 118.3L117.9 120.1zM132.6 119.5L133.7 118.3L134.1 120.1zM148.9 119.5L150.0 118.3L150.3 120.1zM165.1 119.5L166.2 118.3L166.6 120.1zM181.3 119.5L182.4 118.3L182.8 120.1zM197.6 119.5L198.6 118.3L199.0 120.1zM213.8 119.5L214.9 118.3L215.3 120.1zM230.0 119.5L231.1 118.3L231.5 120.1zM246.3 119.5L247.3 118.3L247.7 120.1zM262.5 119.5L263.6 118.3L264.0 120.1zM278.7 119.5L279.8 118.3L280.2 120.1zM294.9 119.5L296.0 118.3L296.4 120.1zM311.2 119.5L312.3 118.3L312.6 120.1zM327.4 119.5L328.5 118.3L328.9 120.1zM343.6 119.5L344.7 118.3L345.1 120.1zM359.9 119.5L360.9 118.3L361.3 120.1zM51.6 104.5L52.7 103.3L53.0 105.1zM67.9 104.5L68.9 103.3L69.3 105.1zM84.1 104.5L85.1 103.3L85.5 105.1zM100.3 104.5L101.3 103.3L101.7 105.1zM116.5 104.5L117.6 103.3L118.0 105.1zM132.8 104.5L133.8 103.3L134.2 105.1zM149.0 104.5L150.0 103.3L150.4 105.1zM165.2 104.5L166.3 103.3L166.6 105.1zM181.5 104.5L182.5 103.3L182.9 105.1zM197.7 104.5L198.7 103.3L199.1 105.1zM213.9 104.5L215.0 103.3L215.3 105.1zM230.2 104.5L231.2 103.3L231.6 105.1zM246.4 104.5L247.4 103.3L247.8 105.1zM262.6 104.5L263.6 103.3L264.0 105.1zM278.8 104.5L279.9 103.3L280.3 105.1zM295.1 104.5L296.1 103.3L296.5 105.1zM311.3 104.5L312.3 103.3L312.7 105.1zM327.5 104.5L328.6 103.3L328.9 105.1zM343.8 104.5L344.8 103.3L345.2 105.1zM360.0 104.5L361.0 103.3L361.4 105.1zM51.8 89.5L52.7 88.4L53.1 90.1zM68.0 89.5L69.0 88.4L69.3 90.1zM84.2 89.5L85.2 88.4L85.6 90.1zM100.4 89.5L101.4 88.4L101.8 90.1zM116.7 89.5L117.7 88.4L118.0 90.1zM132.9 89.5L133.9 88.4L134.3 90.1zM149.1 89.5L150.1 88.4L150.5 90.1zM165.4 89.5L166.3 88.4L166.7 90.1zM181.6 89.5L182.6 88.4L182.9 90.1zM197.8 89.5L198.8 88.4L199.2 90.1zM214.1 89.5L215.0 88.4L215.4 90.1zM230.3 89.5L231.3 88.4L231.6 90.1zM246.5 89.5L247.5 88.4L247.9 90.1zM262.7 89.5L263.7 88.4L264.1 90.1zM279.0 89.5L280.0 88.4L280.3 90.1zM295.2 89.5L296.2 88.4L296.6 90.1zM311.4 89.5L312.4 88.4L312.8 90.1zM327.7 89.5L328.6 88.4L329.0 90.1zM343.9 89.5L344.9 88.4L345.2 90.1zM360.1 89.5L361.1 88.4L361.5 90.1zM51.9 74.5L52.8 73.4L53.2 75.1zM68.1 74.5L69.0 73.4L69.4 75.1zM84.3 74.5L85.3 73.4L85.6 75.1zM100.6 74.5L101.5 73.4L101.9 75.1zM116.8 74.5L117.7 73.4L118.1 75.1zM133.0 74.5L134.0 73.4L134.3 75.1zM149.3 74.5L150.2 73.4L150.6 75.1zM165.5 74.5L166.4 73.4L166.8 75.1zM181.7 74.5L182.7 73.4L183.0 75.1zM198.0 74.5L198.9 73.4L199.2 75.1zM214.2 74.5L215.1 73.4L215.5 75.1zM230.4 74.5L231.3 73.4L231.7 75.1zM246.6 74.5L247.6 73.4L247.9 75.1zM262.9 74.5L263.8 73.4L264.2 75.1zM279.1 74.5L280.0 73.4L280.4 75.1zM295.3 74.5L296.3 73.4L296.6 75.1zM311.6 74.5L312.5 73.4L312.9 75.1zM327.8 74.5L328.7 73.4L329.1 75.1zM344.0 74.5L345.0 73.4L345.3 75.1zM360.3 74.5L361.2 73.4L361.5 75.1zM52.0 59.5L52.9 58.4L53.2 60.1zM68.2 59.5L69.1 58.4L69.5 60.1zM84.5 59.5L85.4 58.4L85.7 60.1zM100.7 59.5L101.6 58.4L101.9 60.1zM116.9 59.5L117.8 58.4L118.2 60.1zM133.2 59.5L134.0 58.4L134.4 60.1zM149.4 59.5L150.3 58.4L150.6 60.1zM165.6 59.5L166.5 58.4L166.9 60.1zM181.9 59.5L182.7 58.4L183.1 60.1zM198.1 59.5L199.0 58.4L199.3 60.1zM214.3 59.5L215.2 58.4L215.5 60.1zM230.5 59.5L231.4 58.4L231.8 60.1zM246.8 59.5L247.7 58.4L248.0 60.1zM263.0 59.5L263.9 58.4L264.2 60.1zM279.2 59.5L280.1 58.4L280.5 60.1zM295.5 59.5L296.3 58.4L296.7 60.1zM311.7 59.5L312.6 58.4L312.9 60.1zM327.9 59.5L328.8 58.4L329.2 60.1zM344.2 59.5L345.0 58.4L345.4 60.1zM360.4 59.5L361.3 58.4L361.6 60.1zM52.1 44.5L53.0 43.4L53.3 45.0zM68.4 44.5L69.2 43.4L69.5 45.0zM84.6 44.5L85.4 43.4L85.8 45.0zM100.8 44.5L101.7 43.4L102.0 45.0zM117.1 44.5L117.9 43.4L118.2 45.0zM133.3 44.5L134.1 43.4L134.5 45.0zM149.5 44.5L150.4 43.4L150.7 45.0zM165.8 44.5L166.6 43.4L166.9 45.0zM182.0 44.5L182.8 43.4L183.2 45.0zM198.2 44.5L199.0 43.4L199.4 45.0zM214.4 44.5L215.3 43.4L215.6 45.0zM230.7 44.5L231.5 43.4L231.8 45.0zM246.9 44.5L247.7 43.4L248.1 45.0zM263.1 44.5L264.0 43.4L264.3 45.0zM279.4 44.5L280.2 43.4L280.5 45.0zM295.6 44.5L296.4 43.4L296.8 45.0zM311.8 44.5L312.7 43.4L313.0 45.0zM328.1 44.5L328.9 43.4L329.2 45.0zM344.3 44.5L345.1 43.4L345.5 45.0zM360.5 44.5L361.3 43.4L361.7 45.0zM52.3 29.5L53.1 28.5L53.4 30.0zM68.5 29.5L69.3 28.5L69.6 30.0zM84.7 29.5L85.5 28.5L85.8 30.0zM101.0 29.5L101.7 28.5L102.1 30.0zM117.2 29.5L118.0 28.5L118.3 30.0zM133.4 29.5L134.2 28.5L134.5 30.0zM149.7 29.5L150.4 28.5L150.8 30.0zM165.9 29.5L166.7 28.5L167.0 30.0zM182.1 29.5L182.9 28.5L183.2 30.0zM198.3 29.5L199.1 28.5L199.5 30.0zM214.6 29.5L215.4 28.5L215.7 30.0zM230.8 29.5L231.6 28.5L231.9 30.0zM247.0 29.5L247.8 28.5L248.1 30.0zM263.3 29.5L264.0 28.5L264.4 30.0zM279.5 29.5L280.3 28.5L280.6 30.0zM295.7 29.5L296.5 28.5L296.8 30.0zM312.0 29.5L312.7 28.5L313.1 30.0zM328.2 29.5L329.0 28.5L329.3 30.0zM344.4 29.5L345.2 28.5L345.5 30.0zM360.6 29.5L361.4 28.5L361.8 30.0z" fill="#111"/>
<rect x="40.0" y="41.1" width="13.0" height="12" fill="#fff"/><text x="46.5" y="50.7" text-anchor="middle" font-family="Liberation Sans" font-weight="bold" font-size="10" fill="#111">10</text>
<rect x="107.2" y="28.2" width="13.0" height="12" fill="#fff"/><text x="113.7" y="37.8" text-anchor="middle" font-family="Liberation Sans" font-weight="bold" font-size="10" fill="#111">10</text>
<rect x="172.2" y="32.8" width="13.0" height="12" fill="#fff"/><text x="178.7" y="42.4" text-anchor="middle" font-family="Liberation Sans" font-weight="bold" font-size="10" fill="#111">10</text>
<rect x="283.1" y="103.3" width="13.0" height="12" fill="#fff"/><text x="289.6" y="112.9" text-anchor="middle" font-family="Liberation Sans" font-weight="bold" font-size="10" fill="#111">10</text>
<rect x="243.9" y="57.7" width="13.0" height="12" fill="#fff"/><text x="250.4" y="67.3" text-anchor="middle" font-family="Liberation Sans" font-weight="bold" font-size="10" fill="#111">10</text>
<rect x="351.8" y="96.0" width="13.0" height="12" fill="#fff"/><text x="358.3" y="105.6" text-anchor="middle" font-family="Liberation Sans" font-weight="bold" font-size="10" fill="#111">10</text>
<rect x="45.9" y="124.7" width="13.0" height="12" fill="#fff"/><text x="52.4" y="134.3" text-anchor="middle" font-family="Liberation Sans" font-weight="bold" font-size="10" fill="#111">11</text>
<rect x="329.0" y="159.7" width="13.0" height="12" fill="#fff"/><text x="335.5" y="169.3" text-anchor="middle" font-family="Liberation Sans" font-weight="bold" font-size="10" fill="#111">11</text>
<rect x="48.6" y="151.7" width="13.0" height="12" fill="#fff"/><text x="55.1" y="161.3" text-anchor="middle" font-family="Liberation Sans" font-weight="bold" font-size="10" fill="#111">12</text>
<rect x="315.9" y="185.2" width="13.0" height="12" fill="#fff"/><text x="322.4" y="194.8" text-anchor="middle" font-family="Liberation Sans" font-weight="bold" font-size="10" fill="#111">12</text>
<rect x="99.0" y="236.3" width="13.0" height="12" fill="#fff"/><text x="105.5" y="245.9" text-anchor="middle" font-family="Liberation Sans" font-weight="bold" font-size="10" fill="#111">13</text>
</g>
<rect x="38.3" y="14.0" width="324.6" height="239.6" fill="none" stroke="#3a3a3a" stroke-width="1"/>
<path d="M103.2 253.6v-4M103.2 14.0v4M168.1 253.6v-4M168.1 14.0v4M233.1 253.6v-4M233.1 14.0v4M298.0 253.6v-4M298.0 14.0v4M38.3 73.9h4M362.9 73.9h-4M38.3 133.8h4M362.9 133.8h-4M38.3 193.7h4M362.9 193.7h-4" stroke="#3a3a3a" stroke-width="1"/>
<text x="315.3" y="56.0" font-family="Liberation Serif" font-size="23" fill="#111">(a)</text>
<rect x="322.3" y="201.5" width="33" height="23.5" fill="#fff"/>
<path d="M332.3 208.5h8.0" stroke="#000" stroke-width="2.2"/><path d="M343.3 208.5l-4.5 -2.6v5.2z" fill="#000"/>
<text x="325.3" y="221.5" font-family="Liberation Serif" font-weight="bold" font-size="11" fill="#111">4m/s</text>
<clipPath id="kb"><rect x="404.3" y="14.0" width="324.6" height="239.6"/></clipPath>
<g clip-path="url(#kb)">
<polyline points="404.3,19.8 414.4,37.1 424.5,42.9 447.6,22.7 450.5,14.0" fill="none" stroke="#f0f0f0" stroke-width="1.5" stroke-linejoin="round"/>
<polyline points="480.9,14.0 482.3,25.6 486.1,31.9 493.9,37.1 508.3,34.2 522.7,19.8 525.6,14.0" fill="none" stroke="#f0f0f0" stroke-width="1.5" stroke-linejoin="round"/>
<polyline points="540.1,14.0 558.9,20.4 574.7,14.0" fill="none" stroke="#f0f0f0" stroke-width="1.5" stroke-linejoin="round"/>
<polyline points="623.9,14.0 635.4,19.2 655.6,16.9 664.3,14.0" fill="none" stroke="#f0f0f0" stroke-width="1.5" stroke-linejoin="round"/>
<polyline points="404.3,63.1 428.9,63.7 447.6,57.3 462.1,40.0 499.6,37.1 525.6,22.7 540.1,21.2 554.5,31.3 566.1,51.6 577.6,58.8 595.0,57.3 612.3,42.9 635.4,38.6 649.9,42.9 655.6,63.1 671.5,66.6 684.5,63.1 693.2,54.4 694.6,31.3 693.2,14.0" fill="none" stroke="#f0f0f0" stroke-width="1.5" stroke-linejoin="round"/>
<polyline points="404.3,112.2 434.6,106.4 444.7,94.9 476.5,74.7 499.6,68.9 517.0,79.0 514.1,100.7 511.2,123.8 525.6,135.3 548.7,146.9 566.1,149.8 589.2,155.6 606.5,152.7 618.1,149.8 626.7,155.0 641.2,161.3 664.3,164.2 693.2,165.7 729.3,165.7" fill="none" stroke="#f0f0f0" stroke-width="1.5" stroke-linejoin="round"/>
<polyline points="583.4,76.1 577.6,92.0 595.0,106.4 606.5,112.2 618.1,109.3 623.9,92.0 623.9,74.7 611.7,68.9 595.0,71.8 583.4,76.1" fill="none" stroke="#f0f0f0" stroke-width="1.5" stroke-linejoin="round"/>
<polyline points="664.3,92.0 655.6,109.3 652.7,132.4 658.5,141.1 675.9,135.3 696.1,123.8 710.5,115.1 710.5,100.7 704.7,92.0 696.1,89.7 678.7,87.7 664.3,92.0" fill="none" stroke="#f0f0f0" stroke-width="1.5" stroke-linejoin="round"/>
<polyline points="404.3,132.4 415.3,134.8 433.2,138.2 462.1,146.9 485.2,158.4 493.9,175.8 499.6,187.3 519.9,190.2 548.7,193.1 592.1,193.1 635.4,190.2 678.7,188.8 707.6,188.8 729.3,188.8" fill="none" stroke="#f0f0f0" stroke-width="1.5" stroke-linejoin="round"/>
<polyline points="415.9,161.3 413.0,175.8 418.7,190.2 427.4,187.3 436.1,181.6 433.2,177.2 433.2,170.0 424.5,161.3 415.9,161.3" fill="none" stroke="#f0f0f0" stroke-width="1.5" stroke-linejoin="round"/>
<polyline points="404.3,233.6 433.2,229.2 470.7,231.2 519.9,227.8 577.6,224.9 635.4,222.0 693.2,217.7 729.3,214.8" fill="none" stroke="#f0f0f0" stroke-width="1.5" stroke-linejoin="round"/>
<use href="#geo" x="404.3" y="14.0"/>
<path d="M420.5 238.6L412.4 239.9M436.8 238.6L428.6 240.0M453.0 238.6L444.8 240.1M469.2 238.6L461.0 240.2M485.5 238.6L477.1 240.3M501.7 238.6L493.3 240.3M517.9 238.6L509.5 240.4M534.1 238.6L525.6 240.5M550.4 238.6L541.8 240.5M566.6 238.6L557.9 240.5M582.8 238.6L574.1 240.4M599.1 238.6L590.2 240.4M615.3 238.6L606.3 240.4M631.5 238.6L622.5 240.5M647.8 238.6L638.6 240.5M664.0 238.6L654.7 240.6M680.2 238.6L670.8 240.7M696.4 238.6L686.9 240.7M712.7 238.6L703.0 240.8M728.9 238.6L719.2 240.9M420.5 223.7L414.4 222.8M436.8 223.7L430.3 223.0M453.0 223.7L446.3 223.3M469.2 223.7L462.2 223.6M485.5 223.7L477.9 224.3M501.7 223.7L493.6 225.0M517.9 223.7L509.6 225.5M534.1 223.7L525.7 225.7M550.4 223.7L541.9 225.8M566.6 223.7L558.0 225.8M582.8 223.7L574.2 225.8M599.1 223.7L590.3 225.8M615.3 223.7L606.4 225.8M631.5 223.7L622.5 225.7M647.8 223.7L638.6 225.6M664.0 223.7L654.7 225.6M680.2 223.7L670.8 225.7M696.4 223.7L686.9 225.8M712.7 223.7L703.0 225.8M728.9 223.7L719.2 225.9M420.5 208.7L417.8 206.9M436.8 208.7L433.8 206.9M453.0 208.7L449.9 206.9M469.2 208.7L465.9 206.9M485.5 208.7L481.4 207.0M501.7 208.7L496.9 207.2M517.9 208.7L512.2 207.7M534.1 208.7L527.6 208.3M550.4 208.7L542.9 209.3M566.6 208.7L558.4 210.3M582.8 208.7L574.3 211.0M599.1 208.7L590.4 211.2M615.3 208.7L606.5 211.2M631.5 208.7L622.6 211.2M647.8 208.7L638.7 211.1M664.0 208.7L654.8 211.1M680.2 208.7L670.9 211.0M696.4 208.7L686.9 210.9M712.7 208.7L703.0 210.9M728.9 208.7L719.2 210.9M420.5 193.7L418.2 192.0M436.8 193.7L434.4 192.0M453.0 193.7L450.6 192.0M469.2 193.7L466.8 192.0M485.5 193.7L483.1 192.0M501.7 193.7L499.3 192.0M517.9 193.7L515.4 192.0M534.1 193.7L531.3 192.0M550.4 193.7L546.7 192.0M566.6 193.7L561.8 192.3M582.8 193.7L576.8 193.0M599.1 193.7L591.9 194.0M615.3 193.7L607.2 195.4M631.5 193.7L622.9 196.5M647.8 193.7L638.8 196.6M664.0 193.7L654.9 196.6M680.2 193.7L671.0 196.6M696.4 193.7L687.1 196.5M712.7 193.7L703.2 196.5M728.9 193.7L719.3 196.4M420.5 178.7L418.2 177.1M436.8 178.7L434.4 177.1M453.0 178.7L450.6 177.1M469.2 178.7L466.8 177.1M485.5 178.7L483.1 177.1M501.7 178.7L499.3 177.1M517.9 178.7L515.5 177.1M534.1 178.7L531.8 177.1M550.4 178.7L548.0 177.1M566.6 178.7L564.2 177.1M582.8 178.7L580.3 177.0M599.1 178.7L595.9 177.0M615.3 178.7L610.8 177.2M631.5 178.7L625.5 178.1M647.8 178.7L640.3 179.5M664.0 178.7L655.7 181.0M680.2 178.7L671.3 181.9M696.4 178.7L687.3 182.1M712.7 178.7L703.4 182.1M728.9 178.7L719.5 182.0M420.5 163.8L418.2 162.1M436.8 163.8L434.4 162.1M453.0 163.8L450.6 162.1M469.2 163.8L466.8 162.1M485.5 163.8L483.1 162.1M501.7 163.8L499.3 162.1M517.9 163.8L515.5 162.1M534.1 163.8L531.8 162.1M550.4 163.8L548.0 162.1M566.6 163.8L564.2 162.1M582.8 163.8L580.5 162.1M599.1 163.8L596.7 162.1M615.3 163.8L612.9 162.1M631.5 163.8L629.0 162.1M647.8 163.8L644.4 162.0M664.0 163.8L659.2 162.4M680.2 163.8L674.0 163.2M696.4 163.8L689.0 164.5M712.7 163.8L704.4 166.0M728.9 163.8L720.0 167.2M420.5 148.8L418.2 147.2M436.8 148.8L434.5 147.2M453.0 148.8L450.7 147.2M469.2 148.8L466.9 147.2M485.5 148.8L483.2 147.2M501.7 148.8L499.4 147.2M517.9 148.8L515.6 147.2M534.1 148.8L531.9 147.2M550.4 148.8L548.1 147.2M566.6 148.8L564.3 147.2M582.8 148.8L580.5 147.2M599.1 148.8L596.8 147.2M615.3 148.8L613.0 147.2M631.5 148.8L629.2 147.2M647.8 148.8L645.5 147.2M664.0 148.8L661.7 147.2M680.2 148.8L677.8 147.1M696.4 148.8L693.3 147.1M712.7 148.8L708.3 147.3M728.9 148.8L723.1 148.1M420.5 133.8L418.3 132.3M436.8 133.8L434.6 132.3M453.0 133.8L450.8 132.3M469.2 133.8L467.0 132.3M485.5 133.8L483.3 132.3M501.7 133.8L499.5 132.3M517.9 133.8L515.7 132.3M534.1 133.8L531.9 132.3M550.4 133.8L548.2 132.3M566.6 133.8L564.4 132.3M582.8 133.8L580.6 132.3M599.1 133.8L596.9 132.3M615.3 133.8L613.1 132.3M631.5 133.8L629.3 132.3M647.8 133.8L645.6 132.3M664.0 133.8L661.8 132.3M680.2 133.8L678.0 132.3M696.4 133.8L694.2 132.3M712.7 133.8L710.5 132.3M728.9 133.8L726.7 132.3M420.5 118.8L418.4 117.4M436.8 118.8L434.7 117.4M453.0 118.8L450.9 117.4M469.2 118.8L467.1 117.4M485.5 118.8L483.3 117.4M501.7 118.8L499.6 117.4M517.9 118.8L515.8 117.4M534.1 118.8L532.0 117.4M550.4 118.8L548.3 117.4M566.6 118.8L564.5 117.4M582.8 118.8L580.7 117.4M599.1 118.8L597.0 117.4M615.3 118.8L613.2 117.4M631.5 118.8L629.4 117.4M647.8 118.8L645.6 117.4M664.0 118.8L661.9 117.4M680.2 118.8L678.1 117.4M696.4 118.8L694.3 117.4M712.7 118.8L710.6 117.4M728.9 118.8L726.8 117.4M420.5 103.8L418.5 102.4M436.8 103.8L434.7 102.4M453.0 103.8L451.0 102.4M469.2 103.8L467.2 102.4M485.5 103.8L483.4 102.4M501.7 103.8L499.7 102.4M517.9 103.8L515.9 102.4M534.1 103.8L532.1 102.4M550.4 103.8L548.4 102.4M566.6 103.8L564.6 102.4M582.8 103.8L580.8 102.4M599.1 103.8L597.0 102.4M615.3 103.8L613.3 102.4M631.5 103.8L629.5 102.4M647.8 103.8L645.7 102.4M664.0 103.8L662.0 102.4M680.2 103.8L678.2 102.4M696.4 103.8L694.4 102.4M712.7 103.8L710.7 102.4M728.9 103.8L726.9 102.4M420.5 88.9L418.6 87.5M436.8 88.9L434.8 87.5M453.0 88.9L451.1 87.5M469.2 88.9L467.3 87.5M485.5 88.9L483.5 87.5M501.7 88.9L499.8 87.5M517.9 88.9L516.0 87.5M534.1 88.9L532.2 87.5M550.4 88.9L548.4 87.5M566.6 88.9L564.7 87.5M582.8 88.9L580.9 87.5M599.1 88.9L597.1 87.5M615.3 88.9L613.4 87.5M631.5 88.9L629.6 87.5M647.8 88.9L645.8 87.5M664.0 88.9L662.1 87.5M680.2 88.9L678.3 87.5M696.4 88.9L694.5 87.5M712.7 88.9L710.7 87.5M728.9 88.9L727.0 87.5M420.5 73.9L418.7 72.6M436.8 73.9L434.9 72.6M453.0 73.9L451.2 72.6M469.2 73.9L467.4 72.6M485.5 73.9L483.6 72.6M501.7 73.9L499.8 72.6M517.9 73.9L516.1 72.6M534.1 73.9L532.3 72.6M550.4 73.9L548.5 72.6M566.6 73.9L564.8 72.6M582.8 73.9L581.0 72.6M599.1 73.9L597.2 72.6M615.3 73.9L613.5 72.6M631.5 73.9L629.7 72.6M647.8 73.9L645.9 72.6M664.0 73.9L662.1 72.6M680.2 73.9L678.4 72.6M696.4 73.9L694.6 72.6M712.7 73.9L710.8 72.6M728.9 73.9L727.1 72.6M420.5 58.9L418.8 57.7M436.8 58.9L435.0 57.7M453.0 58.9L451.2 57.7M469.2 58.9L467.5 57.7M485.5 58.9L483.7 57.7M501.7 58.9L499.9 57.7M517.9 58.9L516.2 57.7M534.1 58.9L532.4 57.7M550.4 58.9L548.6 57.7M566.6 58.9L564.9 57.7M582.8 58.9L581.1 57.7M599.1 58.9L597.3 57.7M615.3 58.9L613.5 57.7M631.5 58.9L629.8 57.7M647.8 58.9L646.0 57.7M664.0 58.9L662.2 57.7M680.2 58.9L678.5 57.7M696.4 58.9L694.7 57.7M712.7 58.9L710.9 57.7M728.9 58.9L727.2 57.7M420.5 44.0L418.9 42.8M436.8 44.0L435.1 42.8M453.0 44.0L451.3 42.8M469.2 44.0L467.6 42.8M485.5 44.0L483.8 42.8M501.7 44.0L500.0 42.8M517.9 44.0L516.3 42.8M534.1 44.0L532.5 42.8M550.4 44.0L548.7 42.8M566.6 44.0L564.9 42.8M582.8 44.0L581.2 42.8M599.1 44.0L597.4 42.8M615.3 44.0L613.6 42.8M631.5 44.0L629.9 42.8M647.8 44.0L646.1 42.8M664.0 44.0L662.3 42.8M680.2 44.0L678.6 42.8M696.4 44.0L694.8 42.8M712.7 44.0L711.0 42.8M728.9 44.0L727.2 42.8M420.5 29.0L419.0 27.9M436.8 29.0L435.2 27.9M453.0 29.0L451.4 27.9M469.2 29.0L467.7 27.9M485.5 29.0L483.9 27.9M501.7 29.0L500.1 27.9M517.9 29.0L516.3 27.9M534.1 29.0L532.6 27.9M550.4 29.0L548.8 27.9M566.6 29.0L565.0 27.9M582.8 29.0L581.3 27.9M599.1 29.0L597.5 27.9M615.3 29.0L613.7 27.9M631.5 29.0L630.0 27.9M647.8 29.0L646.2 27.9M664.0 29.0L662.4 27.9M680.2 29.0L678.6 27.9M696.4 29.0L694.9 27.9M712.7 29.0L711.1 27.9M728.9 29.0L727.3 27.9" stroke="#140f0f" stroke-width="1.75" fill="none"/>
<path d="M406.6 240.8L412.1 237.4L412.8 242.3zM422.7 241.0L428.2 237.5L429.0 242.4zM438.8 241.1L444.3 237.6L445.2 242.5zM455.0 241.3L460.5 237.7L461.4 242.6zM471.1 241.5L476.6 237.8L477.6 242.7zM487.2 241.6L492.8 237.9L493.8 242.8zM503.4 241.7L509.0 238.0L510.0 242.8zM519.5 241.8L525.1 238.0L526.2 242.9zM535.6 241.8L541.3 238.0L542.3 242.9zM551.7 241.8L557.4 238.0L558.5 242.9zM567.8 241.8L573.6 238.0L574.6 242.9zM583.9 241.7L589.7 238.0L590.7 242.9zM600.0 241.7L605.9 238.0L606.8 242.9zM616.1 241.8L622.0 238.0L623.0 242.9zM632.2 241.9L638.1 238.1L639.1 243.0zM648.3 242.0L654.2 238.2L655.2 243.0zM664.5 242.0L670.3 238.2L671.3 243.1zM680.6 242.1L686.4 238.3L687.5 243.2zM696.7 242.2L702.5 238.4L703.6 243.2zM712.8 242.3L718.6 238.4L719.7 243.3zM410.0 222.2L414.7 220.6L414.1 225.0zM425.7 222.6L430.6 220.8L430.1 225.3zM441.4 223.0L446.4 220.9L446.2 225.7zM457.2 223.5L462.3 221.1L462.2 226.0zM472.4 224.7L477.7 221.8L478.1 226.8zM487.8 225.9L493.2 222.5L494.0 227.4zM503.6 226.8L509.1 223.0L510.1 227.9zM519.6 227.2L525.1 223.3L526.3 228.1zM535.7 227.3L541.3 223.3L542.5 228.2zM551.8 227.3L557.4 223.4L558.6 228.2zM567.9 227.4L573.6 223.4L574.8 228.2zM584.0 227.4L589.7 223.4L590.9 228.2zM600.1 227.3L605.8 223.3L607.0 228.2zM616.2 227.2L621.9 223.3L623.1 228.2zM632.2 227.0L638.1 223.2L639.1 228.1zM648.3 227.0L654.2 223.2L655.2 228.1zM664.5 227.1L670.3 223.2L671.3 228.1zM680.6 227.2L686.4 223.3L687.5 228.2zM696.7 227.3L702.5 223.4L703.6 228.3zM712.8 227.4L718.6 223.5L719.7 228.3zM415.7 205.7L418.5 205.8L417.0 208.1zM431.7 205.7L434.5 205.7L433.1 208.1zM447.6 205.7L450.6 205.7L449.2 208.2zM463.5 205.7L466.6 205.6L465.2 208.3zM478.5 205.8L482.1 205.5L480.8 208.6zM493.4 206.2L497.4 205.4L496.3 209.0zM508.1 206.9L512.6 205.6L511.9 209.7zM522.9 208.0L527.8 206.0L527.5 210.6zM537.5 209.7L542.7 206.8L543.1 211.8zM552.5 211.5L557.9 207.9L558.9 212.8zM568.1 212.8L573.6 208.6L575.0 213.5zM584.2 213.0L589.7 208.8L591.1 213.6zM600.3 213.0L605.8 208.8L607.2 213.6zM616.4 212.9L621.9 208.8L623.3 213.6zM632.4 212.8L638.0 208.7L639.4 213.5zM648.5 212.7L654.2 208.6L655.4 213.5zM664.6 212.6L670.3 208.6L671.5 213.4zM680.6 212.4L686.4 208.5L687.5 213.3zM696.7 212.3L702.5 208.4L703.6 213.3zM712.8 212.4L718.6 208.5L719.7 213.4zM416.4 190.8L418.9 191.0L417.4 193.1zM432.7 190.8L435.1 191.0L433.7 193.1zM448.9 190.8L451.3 191.0L449.9 193.1zM465.1 190.8L467.6 191.0L466.1 193.1zM481.4 190.8L483.8 191.0L482.4 193.1zM497.6 190.8L500.0 191.0L498.6 193.1zM513.6 190.8L516.1 191.0L514.7 193.1zM529.2 190.7L532.0 190.8L530.6 193.2zM544.0 190.8L547.4 190.6L546.0 193.4zM558.3 191.3L562.3 190.5L561.3 194.1zM572.5 192.4L577.1 190.8L576.6 195.1zM586.8 194.2L591.8 191.5L592.0 196.5zM601.3 196.7L606.7 193.0L607.7 197.9zM616.7 198.4L622.1 194.1L623.6 198.8zM632.7 198.7L638.1 194.3L639.6 199.0zM648.7 198.6L654.2 194.2L655.7 199.0zM664.8 198.5L670.3 194.2L671.8 199.0zM680.9 198.4L686.4 194.1L687.8 198.9zM696.9 198.3L702.5 194.0L703.9 198.9zM713.0 198.1L718.6 193.9L719.9 198.8zM416.4 175.9L418.9 176.0L417.4 178.1zM432.7 175.9L435.1 176.0L433.7 178.1zM448.9 175.9L451.3 176.0L449.9 178.1zM465.1 175.9L467.6 176.0L466.1 178.1zM481.4 175.9L483.8 176.0L482.4 178.1zM497.6 175.9L500.0 176.0L498.6 178.1zM513.8 175.9L516.3 176.0L514.8 178.1zM530.0 175.9L532.5 176.0L531.0 178.1zM546.3 175.9L548.7 176.0L547.3 178.1zM562.5 175.9L564.9 176.0L563.5 178.1zM578.4 175.8L581.0 175.9L579.6 178.1zM593.5 175.8L596.6 175.7L595.2 178.3zM607.5 176.2L611.3 175.5L610.2 178.9zM621.1 177.6L625.7 175.9L625.2 180.2zM634.9 180.0L640.1 177.0L640.6 182.0zM649.6 182.6L655.0 178.6L656.3 183.4zM665.2 184.1L670.5 179.6L672.2 184.3zM681.2 184.4L686.4 179.8L688.2 184.5zM697.3 184.3L702.5 179.7L704.2 184.4zM713.3 184.2L718.6 179.7L720.3 184.4zM416.4 160.9L418.9 161.1L417.4 163.1zM432.7 160.9L435.1 161.1L433.7 163.1zM448.9 160.9L451.3 161.1L449.9 163.1zM465.1 160.9L467.6 161.1L466.1 163.1zM481.4 160.9L483.8 161.1L482.4 163.1zM497.6 160.9L500.0 161.1L498.6 163.1zM513.8 160.9L516.3 161.1L514.8 163.1zM530.0 160.9L532.5 161.1L531.0 163.1zM546.3 160.9L548.7 161.1L547.3 163.1zM562.5 160.9L564.9 161.1L563.5 163.1zM578.7 160.9L581.2 161.1L579.7 163.1zM595.0 160.9L597.4 161.1L596.0 163.1zM611.2 160.9L613.6 161.1L612.2 163.1zM627.1 160.8L629.7 161.0L628.3 163.1zM641.9 160.8L645.0 160.7L643.7 163.4zM655.7 161.4L659.7 160.6L658.7 164.2zM669.5 162.9L674.2 161.0L673.8 165.5zM683.7 165.1L688.8 162.0L689.3 167.0zM698.5 167.6L703.8 163.6L705.1 168.4zM713.9 169.6L719.1 164.9L720.9 169.5zM416.6 146.0L418.9 146.2L417.5 148.2zM432.8 146.0L435.2 146.2L433.8 148.2zM449.0 146.0L451.4 146.2L450.0 148.2zM465.3 146.0L467.6 146.2L466.2 148.2zM481.5 146.0L483.9 146.2L482.5 148.2zM497.7 146.0L500.1 146.2L498.7 148.2zM514.0 146.0L516.3 146.2L514.9 148.2zM530.2 146.0L532.6 146.2L531.2 148.2zM546.4 146.0L548.8 146.2L547.4 148.2zM562.7 146.0L565.0 146.2L563.6 148.2zM578.9 146.0L581.2 146.2L579.8 148.2zM595.1 146.0L597.5 146.2L596.1 148.2zM611.3 146.0L613.7 146.2L612.3 148.2zM627.6 146.0L629.9 146.2L628.5 148.2zM643.8 146.0L646.2 146.2L644.8 148.2zM660.0 146.0L662.4 146.2L661.0 148.2zM676.0 146.0L678.5 146.1L677.1 148.2zM691.0 145.9L693.9 145.8L692.6 148.4zM705.1 146.3L708.8 145.7L707.8 149.0zM718.9 147.6L723.4 146.0L722.8 150.2zM416.7 131.2L419.0 131.3L417.7 133.2zM433.0 131.2L435.2 131.3L433.9 133.2zM449.2 131.2L451.5 131.3L450.1 133.2zM465.4 131.2L467.7 131.3L466.3 133.2zM481.7 131.2L483.9 131.3L482.6 133.2zM497.9 131.2L500.2 131.3L498.8 133.2zM514.1 131.2L516.4 131.3L515.0 133.2zM530.4 131.2L532.6 131.3L531.3 133.2zM546.6 131.2L548.9 131.3L547.5 133.2zM562.8 131.2L565.1 131.3L563.7 133.2zM579.0 131.2L581.3 131.3L580.0 133.2zM595.3 131.2L597.5 131.3L596.2 133.2zM611.5 131.2L613.8 131.3L612.4 133.2zM627.7 131.2L630.0 131.3L628.6 133.2zM644.0 131.2L646.2 131.3L644.9 133.2zM660.2 131.2L662.5 131.3L661.1 133.2zM676.4 131.2L678.7 131.3L677.3 133.2zM692.7 131.2L694.9 131.3L693.6 133.2zM708.9 131.2L711.2 131.3L709.8 133.2zM725.0 131.1L727.3 131.3L726.0 133.2zM416.9 116.3L419.1 116.4L417.8 118.3zM433.1 116.3L435.3 116.4L434.0 118.3zM449.4 116.3L451.5 116.4L450.2 118.3zM465.6 116.3L467.8 116.4L466.5 118.3zM481.8 116.3L484.0 116.4L482.7 118.3zM498.1 116.3L500.2 116.4L498.9 118.3zM514.3 116.3L516.5 116.4L515.1 118.3zM530.5 116.3L532.7 116.4L531.4 118.3zM546.7 116.3L548.9 116.4L547.6 118.3zM563.0 116.3L565.2 116.4L563.8 118.3zM579.2 116.3L581.4 116.4L580.1 118.3zM595.4 116.3L597.6 116.4L596.3 118.3zM611.7 116.3L613.8 116.4L612.5 118.3zM627.9 116.3L630.1 116.4L628.8 118.3zM644.1 116.3L646.3 116.4L645.0 118.3zM660.4 116.3L662.5 116.4L661.2 118.3zM676.6 116.3L678.8 116.4L677.4 118.3zM692.8 116.3L695.0 116.4L693.7 118.3zM709.0 116.3L711.2 116.4L709.9 118.3zM725.3 116.3L727.5 116.4L726.1 118.3zM417.1 101.4L419.2 101.5L417.9 103.4zM433.3 101.4L435.4 101.5L434.1 103.4zM449.5 101.4L451.6 101.5L450.3 103.4zM465.7 101.4L467.8 101.5L466.6 103.4zM482.0 101.4L484.1 101.5L482.8 103.4zM498.2 101.4L500.3 101.5L499.0 103.4zM514.4 101.4L516.5 101.5L515.3 103.4zM530.7 101.4L532.8 101.5L531.5 103.4zM546.9 101.4L549.0 101.5L547.7 103.4zM563.1 101.4L565.2 101.5L563.9 103.4zM579.4 101.4L581.5 101.5L580.2 103.4zM595.6 101.4L597.7 101.5L596.4 103.4zM611.8 101.4L613.9 101.5L612.6 103.4zM628.0 101.4L630.1 101.5L628.9 103.4zM644.3 101.4L646.4 101.5L645.1 103.4zM660.5 101.4L662.6 101.5L661.3 103.4zM676.7 101.4L678.8 101.5L677.6 103.4zM693.0 101.4L695.1 101.5L693.8 103.4zM709.2 101.4L711.3 101.5L710.0 103.4zM725.4 101.4L727.5 101.5L726.2 103.4zM417.2 86.6L419.2 86.6L418.0 88.4zM433.4 86.6L435.5 86.6L434.2 88.4zM449.7 86.6L451.7 86.6L450.4 88.4zM465.9 86.6L467.9 86.6L466.7 88.4zM482.1 86.6L484.2 86.6L482.9 88.4zM498.4 86.6L500.4 86.6L499.1 88.4zM514.6 86.6L516.6 86.6L515.4 88.4zM530.8 86.6L532.8 86.6L531.6 88.4zM547.1 86.6L549.1 86.6L547.8 88.4zM563.3 86.6L565.3 86.6L564.1 88.4zM579.5 86.6L581.5 86.6L580.3 88.4zM595.7 86.6L597.8 86.6L596.5 88.4zM612.0 86.6L614.0 86.6L612.7 88.4zM628.2 86.6L630.2 86.6L629.0 88.4zM644.4 86.6L646.5 86.6L645.2 88.4zM660.7 86.6L662.7 86.6L661.4 88.4zM676.9 86.6L678.9 86.6L677.7 88.4zM693.1 86.6L695.1 86.6L693.9 88.4zM709.4 86.6L711.4 86.6L710.1 88.4zM725.6 86.6L727.6 86.6L726.4 88.4zM417.4 71.7L419.3 71.8L418.1 73.5zM433.6 71.7L435.5 71.8L434.3 73.5zM449.8 71.7L451.8 71.8L450.6 73.5zM466.1 71.7L468.0 71.8L466.8 73.5zM482.3 71.7L484.2 71.8L483.0 73.5zM498.5 71.7L500.5 71.8L499.2 73.5zM514.7 71.7L516.7 71.8L515.5 73.5zM531.0 71.7L532.9 71.8L531.7 73.5zM547.2 71.7L549.1 71.8L547.9 73.5zM563.4 71.7L565.4 71.8L564.2 73.5zM579.7 71.7L581.6 71.8L580.4 73.5zM595.9 71.7L597.8 71.8L596.6 73.5zM612.1 71.7L614.1 71.8L612.9 73.5zM628.4 71.7L630.3 71.8L629.1 73.5zM644.6 71.7L646.5 71.8L645.3 73.5zM660.8 71.7L662.8 71.8L661.5 73.5zM677.0 71.7L679.0 71.8L677.8 73.5zM693.3 71.7L695.2 71.8L694.0 73.5zM709.5 71.7L711.4 71.8L710.2 73.5zM725.7 71.7L727.7 71.8L726.5 73.5zM417.5 56.8L419.4 56.9L418.2 58.5zM433.8 56.8L435.6 56.9L434.4 58.5zM450.0 56.8L451.8 56.9L450.7 58.5zM466.2 56.8L468.1 56.9L466.9 58.5zM482.4 56.8L484.3 56.9L483.1 58.5zM498.7 56.8L500.5 56.9L499.3 58.5zM514.9 56.8L516.8 56.9L515.6 58.5zM531.1 56.8L533.0 56.9L531.8 58.5zM547.4 56.8L549.2 56.9L548.0 58.5zM563.6 56.8L565.4 56.9L564.3 58.5zM579.8 56.8L581.7 56.9L580.5 58.5zM596.1 56.8L597.9 56.9L596.7 58.5zM612.3 56.8L614.1 56.9L613.0 58.5zM628.5 56.8L630.4 56.9L629.2 58.5zM644.7 56.8L646.6 56.9L645.4 58.5zM661.0 56.8L662.8 56.9L661.6 58.5zM677.2 56.8L679.1 56.9L677.9 58.5zM693.4 56.8L695.3 56.9L694.1 58.5zM709.7 56.8L711.5 56.9L710.3 58.5zM725.9 56.8L727.7 56.9L726.6 58.5zM417.7 42.0L419.4 42.0L418.3 43.6zM433.9 42.0L435.7 42.0L434.5 43.6zM450.1 42.0L451.9 42.0L450.8 43.6zM466.4 42.0L468.1 42.0L467.0 43.6zM482.6 42.0L484.4 42.0L483.2 43.6zM498.8 42.0L500.6 42.0L499.5 43.6zM515.1 42.0L516.8 42.0L515.7 43.6zM531.3 42.0L533.1 42.0L531.9 43.6zM547.5 42.0L549.3 42.0L548.1 43.6zM563.7 42.0L565.5 42.0L564.4 43.6zM580.0 42.0L581.7 42.0L580.6 43.6zM596.2 42.0L598.0 42.0L596.8 43.6zM612.4 42.0L614.2 42.0L613.1 43.6zM628.7 42.0L630.4 42.0L629.3 43.6zM644.9 42.0L646.7 42.0L645.5 43.6zM661.1 42.0L662.9 42.0L661.8 43.6zM677.4 42.0L679.1 42.0L678.0 43.6zM693.6 42.0L695.4 42.0L694.2 43.6zM709.8 42.0L711.6 42.0L710.4 43.6zM726.0 42.0L727.8 42.0L726.7 43.6zM417.8 27.1L419.5 27.1L418.4 28.7zM434.1 27.1L435.7 27.1L434.6 28.7zM450.3 27.1L452.0 27.1L450.9 28.7zM466.5 27.1L468.2 27.1L467.1 28.7zM482.8 27.1L484.4 27.1L483.3 28.7zM499.0 27.1L500.7 27.1L499.6 28.7zM515.2 27.1L516.9 27.1L515.8 28.7zM531.4 27.1L533.1 27.1L532.0 28.7zM547.7 27.1L549.4 27.1L548.3 28.7zM563.9 27.1L565.6 27.1L564.5 28.7zM580.1 27.1L581.8 27.1L580.7 28.7zM596.4 27.1L598.0 27.1L596.9 28.7zM612.6 27.1L614.3 27.1L613.2 28.7zM628.8 27.1L630.5 27.1L629.4 28.7zM645.1 27.1L646.7 27.1L645.6 28.7zM661.3 27.1L663.0 27.1L661.9 28.7zM677.5 27.1L679.2 27.1L678.1 28.7zM693.7 27.1L695.4 27.1L694.3 28.7zM710.0 27.1L711.7 27.1L710.6 28.7zM726.2 27.1L727.9 27.1L726.8 28.7z" fill="#111"/>
<rect x="407.9" y="31.1" width="13.0" height="12" fill="#fff"/><text x="414.4" y="40.7" text-anchor="middle" font-family="Liberation Sans" font-weight="bold" font-size="10" fill="#111">12</text>
<rect x="479.6" y="25.9" width="13.0" height="12" fill="#fff"/><text x="486.1" y="35.5" text-anchor="middle" font-family="Liberation Sans" font-weight="bold" font-size="10" fill="#111">12</text>
<rect x="552.4" y="14.4" width="13.0" height="12" fill="#fff"/><text x="558.9" y="24.0" text-anchor="middle" font-family="Liberation Sans" font-weight="bold" font-size="10" fill="#111">12</text>
<rect x="628.9" y="13.2" width="13.0" height="12" fill="#fff"/><text x="635.4" y="22.8" text-anchor="middle" font-family="Liberation Sans" font-weight="bold" font-size="10" fill="#111">12</text>
<rect x="422.4" y="57.7" width="13.0" height="12" fill="#fff"/><text x="428.9" y="67.3" text-anchor="middle" font-family="Liberation Sans" font-weight="bold" font-size="10" fill="#111">13</text>
<rect x="665.0" y="60.6" width="13.0" height="12" fill="#fff"/><text x="671.5" y="70.2" text-anchor="middle" font-family="Liberation Sans" font-weight="bold" font-size="10" fill="#111">13</text>
<rect x="428.1" y="100.4" width="13.0" height="12" fill="#fff"/><text x="434.6" y="110.0" text-anchor="middle" font-family="Liberation Sans" font-weight="bold" font-size="10" fill="#111">14</text>
<rect x="620.2" y="149.0" width="13.0" height="12" fill="#fff"/><text x="626.7" y="158.6" text-anchor="middle" font-family="Liberation Sans" font-weight="bold" font-size="10" fill="#111">14</text>
<rect x="605.2" y="62.9" width="13.0" height="12" fill="#fff"/><text x="611.7" y="72.5" text-anchor="middle" font-family="Liberation Sans" font-weight="bold" font-size="10" fill="#111">14</text>
<rect x="689.6" y="83.7" width="13.0" height="12" fill="#fff"/><text x="696.1" y="93.3" text-anchor="middle" font-family="Liberation Sans" font-weight="bold" font-size="10" fill="#111">14</text>
<rect x="408.8" y="128.8" width="13.0" height="12" fill="#fff"/><text x="415.3" y="138.4" text-anchor="middle" font-family="Liberation Sans" font-weight="bold" font-size="10" fill="#111">15</text>
<rect x="701.1" y="182.8" width="13.0" height="12" fill="#fff"/><text x="707.6" y="192.4" text-anchor="middle" font-family="Liberation Sans" font-weight="bold" font-size="10" fill="#111">15</text>
<rect x="426.7" y="171.2" width="13.0" height="12" fill="#fff"/><text x="433.2" y="180.8" text-anchor="middle" font-family="Liberation Sans" font-weight="bold" font-size="10" fill="#111">16</text>
<rect x="464.2" y="225.2" width="13.0" height="12" fill="#fff"/><text x="470.7" y="234.8" text-anchor="middle" font-family="Liberation Sans" font-weight="bold" font-size="10" fill="#111">16</text>
</g>
<rect x="404.3" y="14.0" width="324.6" height="239.6" fill="none" stroke="#3a3a3a" stroke-width="1"/>
<path d="M469.2 253.6v-4M469.2 14.0v4M534.1 253.6v-4M534.1 14.0v4M599.1 253.6v-4M599.1 14.0v4M664.0 253.6v-4M664.0 14.0v4M404.3 73.9h4M728.9 73.9h-4M404.3 133.8h4M728.9 133.8h-4M404.3 193.7h4M728.9 193.7h-4" stroke="#3a3a3a" stroke-width="1"/>
<text x="681.3" y="56.0" font-family="Liberation Serif" font-size="23" fill="#111">(b)</text>
<rect x="688.3" y="201.5" width="33" height="23.5" fill="#fff"/>
<path d="M696.1 208.5h12.4" stroke="#000" stroke-width="2.2"/><path d="M711.5 208.5l-4.5 -2.6v5.2z" fill="#000"/>
<text x="691.3" y="221.5" font-family="Liberation Serif" font-weight="bold" font-size="11" fill="#111">4m/s</text>
<clipPath id="kc"><rect x="770.3" y="14.0" width="324.6" height="239.6"/></clipPath>
<g clip-path="url(#kc)">
<polyline points="770.3,51.6 786.2,59.6 802.1,48.7 813.6,25.6 816.5,14.0" fill="none" stroke="#f0f0f0" stroke-width="1.5" stroke-linejoin="round"/>
<polyline points="846.9,14.0 842.5,28.4 847.7,34.8 868.5,42.9 888.7,25.6 909.0,16.9 923.4,22.7 929.2,37.1 923.4,54.4 911.9,63.1 920.5,70.3 943.6,68.9 972.5,45.8 1001.4,35.7 1021.6,37.1 1024.5,57.3 1036.1,67.4 1050.5,64.6 1059.2,54.4 1059.2,14.0" fill="none" stroke="#f0f0f0" stroke-width="1.5" stroke-linejoin="round"/>
<polyline points="900.3,24.1 896.0,29.0 900.3,34.2 904.6,29.0 900.3,24.1" fill="none" stroke="#f0f0f0" stroke-width="1.5" stroke-linejoin="round"/>
<polyline points="828.1,60.2 835.3,57.3 842.5,61.7" fill="none" stroke="#f0f0f0" stroke-width="1.5" stroke-linejoin="round"/>
<polyline points="770.3,107.9 787.6,97.8 797.7,90.6 813.6,86.2 842.5,92.0 865.6,109.3 871.4,123.8 891.6,135.3 923.4,138.2 949.4,135.3 972.5,132.4 1001.4,135.3 1030.3,141.1 1039.0,135.3 1041.9,115.1 1047.6,97.8 1052.0,89.7 1059.2,90.6 1065.0,100.7 1062.1,118.0 1050.5,132.4 1041.9,146.9 1059.2,152.7 1095.3,155.6" fill="none" stroke="#f0f0f0" stroke-width="1.5" stroke-linejoin="round"/>
<polyline points="949.4,86.2 955.2,106.4 966.7,115.1 978.3,103.6 984.1,86.2 974.0,79.0 958.1,81.9 949.4,86.2" fill="none" stroke="#f0f0f0" stroke-width="1.5" stroke-linejoin="round"/>
<polyline points="770.3,133.9 799.2,138.2 835.3,154.1 854.1,161.3 868.5,171.4 900.3,171.4 932.1,167.1 972.5,167.1 1015.9,168.6 1059.2,171.4 1095.3,175.8" fill="none" stroke="#f0f0f0" stroke-width="1.5" stroke-linejoin="round"/>
<polyline points="770.3,155.0 784.7,156.1 805.0,164.2 813.6,187.3 828.1,204.7 865.6,204.7 914.7,198.9 972.5,196.0 1030.3,196.0 1069.3,197.4 1095.3,198.9" fill="none" stroke="#f0f0f0" stroke-width="1.5" stroke-linejoin="round"/>
<polyline points="770.3,230.7 836.7,231.2 885.9,226.3 943.6,220.6 1001.4,219.1 1059.2,217.7 1095.3,217.7" fill="none" stroke="#f0f0f0" stroke-width="1.5" stroke-linejoin="round"/>
<polyline points="828.1,254.1 855.5,249.4 914.7,246.6 1001.4,245.1 1095.3,246.6" fill="none" stroke="#f0f0f0" stroke-width="1.5" stroke-linejoin="round"/>
<use href="#geo" x="770.3" y="14.0"/>
<path d="M786.5 238.6L778.6 240.9M802.8 238.6L794.7 241.0M819.0 238.6L810.9 241.1M835.2 238.6L827.0 241.3M851.4 238.6L843.1 241.4M867.7 238.6L859.2 241.4M883.9 238.6L875.3 241.5M900.1 238.6L891.3 241.6M916.4 238.6L907.3 241.7M932.6 238.6L923.3 241.7M948.8 238.6L939.3 241.7M965.1 238.6L955.4 241.8M981.3 238.6L971.4 241.9M997.5 238.6L987.4 242.0M1013.8 238.6L1003.5 242.1M1030.0 238.6L1019.5 242.2M1046.2 238.6L1035.5 242.4M1062.4 238.6L1051.6 242.5M1078.7 238.6L1067.6 242.6M1094.9 238.6L1083.6 242.7M786.5 223.7L779.5 226.1M802.8 223.7L795.5 226.2M819.0 223.7L811.4 226.3M835.2 223.7L827.5 226.5M851.4 223.7L843.3 226.6M867.7 223.7L859.3 226.7M883.9 223.7L875.4 226.8M900.1 223.7L891.4 227.0M916.4 223.7L907.5 227.1M932.6 223.7L923.5 227.1M948.8 223.7L939.5 227.2M965.1 223.7L955.5 227.2M981.3 223.7L971.5 227.2M997.5 223.7L987.4 227.1M1013.8 223.7L1003.5 227.1M1030.0 223.7L1019.5 227.3M1046.2 223.7L1035.5 227.4M1062.4 223.7L1051.6 227.5M1078.7 223.7L1067.6 227.6M1094.9 223.7L1083.6 227.8M786.5 208.7L782.6 211.2M802.8 208.7L798.6 211.3M819.0 208.7L814.6 211.4M835.2 208.7L830.6 211.5M851.4 208.7L846.1 211.7M867.7 208.7L861.6 211.9M883.9 208.7L877.1 212.1M900.1 208.7L892.7 212.2M916.4 208.7L908.1 212.3M932.6 208.7L923.7 212.5M948.8 208.7L939.7 212.6M965.1 208.7L955.7 212.7M981.3 208.7L971.7 212.7M997.5 208.7L987.7 212.7M1013.8 208.7L1003.6 212.7M1030.0 208.7L1019.6 212.6M1046.2 208.7L1035.5 212.5M1062.4 208.7L1051.6 212.5M1078.7 208.7L1067.6 212.7M1094.9 208.7L1083.6 212.8M786.5 193.7L783.9 196.0M802.8 193.7L800.2 196.0M819.0 193.7L816.4 196.0M835.2 193.7L832.6 196.0M851.4 193.7L848.8 196.1M867.7 193.7L864.7 196.2M883.9 193.7L880.5 196.4M900.1 193.7L896.2 196.7M916.4 193.7L911.5 197.1M932.6 193.7L926.6 197.5M948.8 193.7L941.8 197.8M965.1 193.7L957.0 198.0M981.3 193.7L972.0 198.3M997.5 193.7L987.9 198.3M1013.8 193.7L1003.9 198.3M1030.0 193.7L1019.9 198.3M1046.2 193.7L1035.9 198.3M1062.4 193.7L1051.8 198.2M1078.7 193.7L1067.8 198.1M1094.9 193.7L1083.7 198.0M786.5 178.7L784.1 181.2M802.8 178.7L800.3 181.2M819.0 178.7L816.5 181.2M835.2 178.7L832.8 181.2M851.4 178.7L849.0 181.2M867.7 178.7L865.2 181.2M883.9 178.7L881.4 181.2M900.1 178.7L897.7 181.2M916.4 178.7L913.9 181.2M932.6 178.7L929.8 181.4M948.8 178.7L945.5 181.8M965.1 178.7L960.8 182.3M981.3 178.7L975.7 182.8M997.5 178.7L990.5 183.3M1013.8 178.7L1005.2 183.7M1030.0 178.7L1020.3 184.0M1046.2 178.7L1036.2 184.1M1062.4 178.7L1052.2 184.1M1078.7 178.7L1068.2 184.0M1094.9 178.7L1084.1 184.0M786.5 163.8L784.2 166.3M802.8 163.8L800.4 166.3M819.0 163.8L816.7 166.3M835.2 163.8L832.9 166.3M851.4 163.8L849.1 166.3M867.7 163.8L865.4 166.3M883.9 163.8L881.6 166.3M900.1 163.8L897.8 166.3M916.4 163.8L914.0 166.3M932.6 163.8L930.3 166.3M948.8 163.8L946.5 166.3M965.1 163.8L962.7 166.3M981.3 163.8L978.8 166.5M997.5 163.8L994.3 167.0M1013.8 163.8L1009.4 167.7M1030.0 163.8L1024.3 168.4M1046.2 163.8L1039.2 168.9M1062.4 163.8L1053.9 169.5M1078.7 163.8L1068.8 169.9M1094.9 163.8L1084.6 169.9M786.5 148.8L784.4 151.4M802.8 148.8L800.7 151.4M819.0 148.8L816.9 151.4M835.2 148.8L833.1 151.4M851.4 148.8L849.3 151.4M867.7 148.8L865.6 151.4M883.9 148.8L881.8 151.4M900.1 148.8L898.0 151.4M916.4 148.8L914.3 151.4M932.6 148.8L930.5 151.4M948.8 148.8L946.7 151.4M965.1 148.8L963.0 151.4M981.3 148.8L979.2 151.4M997.5 148.8L995.4 151.4M1013.8 148.8L1011.6 151.4M1030.0 148.8L1027.6 151.6M1046.2 148.8L1043.2 152.2M1062.4 148.8L1058.5 152.9M1078.7 148.8L1073.5 153.6M1094.9 148.8L1088.5 154.3M786.5 133.8L784.6 136.4M802.8 133.8L800.9 136.4M819.0 133.8L817.1 136.4M835.2 133.8L833.3 136.4M851.4 133.8L849.6 136.4M867.7 133.8L865.8 136.4M883.9 133.8L882.0 136.4M900.1 133.8L898.2 136.4M916.4 133.8L914.5 136.4M932.6 133.8L930.7 136.4M948.8 133.8L946.9 136.4M965.1 133.8L963.2 136.4M981.3 133.8L979.4 136.4M997.5 133.8L995.6 136.4M1013.8 133.8L1011.9 136.4M1030.0 133.8L1028.1 136.4M1046.2 133.8L1044.3 136.4M1062.4 133.8L1060.5 136.4M1078.7 133.8L1076.7 136.5M1094.9 133.8L1092.4 137.1M786.5 118.8L784.9 121.4M802.8 118.8L801.1 121.4M819.0 118.8L817.3 121.4M835.2 118.8L833.5 121.4M851.4 118.8L849.8 121.4M867.7 118.8L866.0 121.4M883.9 118.8L882.2 121.4M900.1 118.8L898.5 121.4M916.4 118.8L914.7 121.4M932.6 118.8L930.9 121.4M948.8 118.8L947.2 121.4M965.1 118.8L963.4 121.4M981.3 118.8L979.6 121.4M997.5 118.8L995.8 121.4M1013.8 118.8L1012.1 121.4M1030.0 118.8L1028.3 121.4M1046.2 118.8L1044.5 121.4M1062.4 118.8L1060.8 121.4M1078.7 118.8L1077.0 121.4M1094.9 118.8L1093.2 121.4M786.5 103.8L785.1 106.4M802.8 103.8L801.3 106.4M819.0 103.8L817.5 106.4M835.2 103.8L833.7 106.4M851.4 103.8L850.0 106.4M867.7 103.8L866.2 106.4M883.9 103.8L882.4 106.4M900.1 103.8L898.7 106.4M916.4 103.8L914.9 106.4M932.6 103.8L931.1 106.4M948.8 103.8L947.4 106.4M965.1 103.8L963.6 106.4M981.3 103.8L979.8 106.4M997.5 103.8L996.0 106.4M1013.8 103.8L1012.3 106.4M1030.0 103.8L1028.5 106.4M1046.2 103.8L1044.7 106.4M1062.4 103.8L1061.0 106.4M1078.7 103.8L1077.2 106.4M1094.9 103.8L1093.4 106.4M786.5 88.9L785.3 91.4M802.8 88.9L801.5 91.4M819.0 88.9L817.7 91.4M835.2 88.9L833.9 91.4M851.4 88.9L850.2 91.4M867.7 88.9L866.4 91.4M883.9 88.9L882.6 91.4M900.1 88.9L898.9 91.4M916.4 88.9L915.1 91.4M932.6 88.9L931.3 91.4M948.8 88.9L947.6 91.4M965.1 88.9L963.8 91.4M981.3 88.9L980.0 91.4M997.5 88.9L996.2 91.4M1013.8 88.9L1012.5 91.4M1030.0 88.9L1028.7 91.4M1046.2 88.9L1044.9 91.4M1062.4 88.9L1061.2 91.4M1078.7 88.9L1077.4 91.4M1094.9 88.9L1093.6 91.4M786.5 73.9L785.4 76.4M802.8 73.9L801.7 76.4M819.0 73.9L817.9 76.4M835.2 73.9L834.1 76.4M851.4 73.9L850.4 76.4M867.7 73.9L866.6 76.4M883.9 73.9L882.8 76.4M900.1 73.9L899.0 76.4M916.4 73.9L915.3 76.4M932.6 73.9L931.5 76.4M948.8 73.9L947.7 76.4M965.1 73.9L964.0 76.4M981.3 73.9L980.2 76.4M997.5 73.9L996.4 76.4M1013.8 73.9L1012.7 76.4M1030.0 73.9L1028.9 76.4M1046.2 73.9L1045.1 76.4M1062.4 73.9L1061.3 76.4M1078.7 73.9L1077.6 76.4M1094.9 73.9L1093.8 76.4M786.5 58.9L785.6 61.3M802.8 58.9L801.8 61.3M819.0 58.9L818.1 61.3M835.2 58.9L834.3 61.3M851.4 58.9L850.5 61.3M867.7 58.9L866.8 61.3M883.9 58.9L883.0 61.3M900.1 58.9L899.2 61.3M916.4 58.9L915.5 61.3M932.6 58.9L931.7 61.3M948.8 58.9L947.9 61.3M965.1 58.9L964.1 61.3M981.3 58.9L980.4 61.3M997.5 58.9L996.6 61.3M1013.8 58.9L1012.8 61.3M1030.0 58.9L1029.1 61.3M1046.2 58.9L1045.3 61.3M1062.4 58.9L1061.5 61.3M1078.7 58.9L1077.8 61.3M1094.9 58.9L1094.0 61.3M786.5 44.0L785.8 46.3M802.8 44.0L802.0 46.3M819.0 44.0L818.2 46.3M835.2 44.0L834.5 46.3M851.4 44.0L850.7 46.3M867.7 44.0L866.9 46.3M883.9 44.0L883.2 46.3M900.1 44.0L899.4 46.3M916.4 44.0L915.6 46.3M932.6 44.0L931.9 46.3M948.8 44.0L948.1 46.3M965.1 44.0L964.3 46.3M981.3 44.0L980.5 46.3M997.5 44.0L996.8 46.3M1013.8 44.0L1013.0 46.3M1030.0 44.0L1029.2 46.3M1046.2 44.0L1045.5 46.3M1062.4 44.0L1061.7 46.3M1078.7 44.0L1077.9 46.3M1094.9 44.0L1094.2 46.3M786.5 29.0L785.9 31.2M802.8 29.0L802.2 31.2M819.0 29.0L818.4 31.2M835.2 29.0L834.6 31.2M851.4 29.0L850.9 31.2M867.7 29.0L867.1 31.2M883.9 29.0L883.3 31.2M900.1 29.0L899.5 31.2M916.4 29.0L915.8 31.2M932.6 29.0L932.0 31.2M948.8 29.0L948.2 31.2M965.1 29.0L964.5 31.2M981.3 29.0L980.7 31.2M997.5 29.0L996.9 31.2M1013.8 29.0L1013.2 31.2M1030.0 29.0L1029.4 31.2M1046.2 29.0L1045.6 31.2M1062.4 29.0L1061.8 31.2M1078.7 29.0L1078.1 31.2M1094.9 29.0L1094.3 31.2" stroke="#140f0f" stroke-width="1.75" fill="none"/>
<path d="M772.8 242.5L777.9 238.5L779.3 243.3zM788.9 242.7L794.0 238.6L795.4 243.4zM805.0 242.9L810.1 238.7L811.6 243.5zM821.0 243.2L826.2 238.9L827.7 243.6zM837.1 243.3L842.3 239.0L843.9 243.7zM853.1 243.5L858.4 239.1L860.0 243.8zM869.2 243.6L874.5 239.2L876.1 243.9zM885.2 243.7L890.5 239.3L892.1 244.0zM901.2 243.8L906.5 239.3L908.1 244.0zM917.2 243.8L922.6 239.3L924.1 244.1zM933.2 243.7L938.6 239.3L940.1 244.1zM949.2 243.8L954.6 239.4L956.1 244.2zM965.2 243.9L970.6 239.5L972.2 244.3zM981.3 244.1L986.6 239.6L988.2 244.4zM997.3 244.2L1002.6 239.8L1004.3 244.5zM1013.3 244.4L1018.7 239.9L1020.3 244.6zM1029.4 244.5L1034.7 240.0L1036.3 244.7zM1045.4 244.7L1050.7 240.1L1052.4 244.8zM1061.5 244.8L1066.7 240.3L1068.4 245.0zM1077.5 245.0L1082.8 240.4L1084.5 245.1zM774.3 227.9L778.6 223.8L780.3 228.5zM790.2 228.1L794.6 223.9L796.3 228.6zM806.0 228.3L810.6 224.0L812.3 228.7zM821.8 228.5L826.6 224.1L828.3 228.8zM837.4 228.7L842.4 224.2L844.1 228.9zM853.3 228.9L858.5 224.3L860.2 229.0zM869.3 229.1L874.5 224.5L876.3 229.2zM885.4 229.3L890.6 224.6L892.3 229.3zM901.4 229.4L906.6 224.7L908.4 229.4zM917.4 229.4L922.6 224.8L924.4 229.5zM933.4 229.5L938.6 224.8L940.4 229.5zM949.4 229.5L954.6 224.9L956.4 229.5zM965.4 229.4L970.6 224.8L972.3 229.5zM981.3 229.2L986.6 224.7L988.2 229.5zM997.3 229.2L1002.6 224.8L1004.3 229.5zM1013.3 229.4L1018.7 224.9L1020.3 229.6zM1029.4 229.5L1034.7 225.0L1036.3 229.7zM1045.4 229.7L1050.7 225.1L1052.4 229.9zM1061.5 229.8L1066.7 225.3L1068.4 230.0zM1077.5 230.0L1082.8 225.4L1084.5 230.1zM779.8 213.1L781.6 209.8L783.6 212.7zM795.6 213.3L797.6 209.8L799.6 212.9zM811.5 213.4L813.6 209.8L815.6 213.0zM827.3 213.6L829.6 209.8L831.7 213.2zM842.3 213.9L845.0 209.8L847.2 213.6zM857.2 214.2L860.5 209.8L862.8 214.0zM872.2 214.5L876.0 209.8L878.2 214.3zM887.2 214.8L891.6 210.0L893.7 214.5zM902.2 215.0L907.1 210.1L909.1 214.6zM917.7 215.1L922.7 210.3L924.7 214.8zM933.7 215.2L938.7 210.4L940.7 214.9zM949.7 215.3L954.7 210.4L956.7 215.0zM965.7 215.3L970.7 210.4L972.7 215.0zM981.7 215.2L986.7 210.4L988.6 215.0zM997.6 215.1L1002.7 210.3L1004.6 215.0zM1013.5 214.9L1018.7 210.2L1020.5 214.9zM1029.4 214.7L1034.7 210.1L1036.4 214.8zM1045.4 214.7L1050.7 210.2L1052.4 214.9zM1061.5 214.9L1066.7 210.3L1068.4 215.0zM1077.5 215.0L1082.8 210.4L1084.5 215.1zM782.1 197.7L783.0 195.0L784.9 197.1zM798.3 197.7L799.2 195.0L801.1 197.1zM814.5 197.7L815.5 195.0L817.4 197.1zM830.8 197.7L831.7 195.0L833.6 197.1zM846.8 197.8L847.8 195.0L849.7 197.2zM862.6 198.1L863.7 195.1L865.7 197.4zM878.1 198.4L879.5 195.1L881.6 197.7zM893.4 198.9L895.1 195.3L897.3 198.2zM908.0 199.6L910.3 195.4L912.7 198.9zM922.3 200.2L925.3 195.4L928.0 199.6zM936.7 200.7L940.6 195.6L943.0 199.9zM951.3 201.0L955.9 195.8L958.2 200.2zM966.2 201.2L970.9 196.0L973.1 200.5zM982.1 201.2L986.8 196.1L989.0 200.6zM998.0 201.1L1002.9 196.1L1005.0 200.6zM1014.0 201.0L1018.8 196.0L1020.9 200.6zM1029.9 200.9L1034.8 196.0L1036.9 200.6zM1045.8 200.8L1050.8 195.9L1052.8 200.5zM1061.7 200.6L1066.8 195.8L1068.7 200.5zM1077.6 200.3L1082.8 195.7L1084.6 200.3zM782.3 183.0L783.1 180.2L785.1 182.2zM798.5 183.0L799.3 180.2L801.3 182.2zM814.7 183.0L815.5 180.2L817.5 182.2zM831.0 183.0L831.8 180.2L833.8 182.2zM847.2 183.0L848.0 180.2L850.0 182.2zM863.4 183.0L864.2 180.2L866.2 182.2zM879.7 183.0L880.4 180.2L882.5 182.2zM895.9 183.0L896.7 180.2L898.7 182.2zM912.1 183.0L912.9 180.2L914.9 182.2zM927.8 183.3L928.8 180.3L930.9 182.5zM943.0 184.0L944.3 180.5L946.6 183.1zM957.8 184.8L959.5 180.7L962.1 183.8zM971.7 185.8L974.3 180.9L977.2 184.8zM985.5 186.6L989.2 181.2L991.9 185.4zM999.6 187.0L1003.9 181.6L1006.5 185.9zM1014.6 187.1L1019.1 181.8L1021.5 186.2zM1030.5 187.1L1035.0 181.9L1037.4 186.3zM1046.4 187.1L1051.0 181.9L1053.4 186.3zM1062.4 187.0L1067.0 181.8L1069.3 186.3zM1078.3 186.8L1083.0 181.7L1085.2 186.2zM782.5 168.2L783.1 165.4L785.3 167.3zM798.7 168.2L799.4 165.4L801.5 167.3zM815.0 168.2L815.6 165.4L817.7 167.3zM831.2 168.2L831.8 165.4L833.9 167.3zM847.4 168.2L848.1 165.4L850.2 167.3zM863.7 168.2L864.3 165.4L866.4 167.3zM879.9 168.2L880.5 165.4L882.6 167.3zM896.1 168.2L896.8 165.4L898.9 167.3zM912.4 168.2L913.0 165.4L915.1 167.3zM928.6 168.2L929.2 165.4L931.3 167.3zM944.8 168.2L945.4 165.4L947.6 167.3zM961.0 168.2L961.7 165.4L963.8 167.3zM977.0 168.4L977.7 165.5L979.9 167.5zM992.0 169.3L993.1 165.8L995.6 168.2zM1006.3 170.6L1008.0 166.1L1010.9 169.3zM1020.2 171.7L1022.7 166.4L1025.9 170.3zM1034.2 172.6L1037.8 166.8L1040.7 170.9zM1048.5 173.1L1052.5 167.4L1055.3 171.5zM1063.3 173.3L1067.5 167.7L1070.2 172.0zM1079.0 173.3L1083.3 167.8L1085.9 172.1zM782.9 153.3L783.3 150.5L785.5 152.2zM799.1 153.3L799.6 150.5L801.7 152.2zM815.4 153.3L815.8 150.5L818.0 152.2zM831.6 153.3L832.0 150.5L834.2 152.2zM847.8 153.3L848.3 150.5L850.4 152.2zM864.0 153.3L864.5 150.5L866.6 152.2zM880.3 153.3L880.7 150.5L882.9 152.2zM896.5 153.3L897.0 150.5L899.1 152.2zM912.7 153.3L913.2 150.5L915.3 152.2zM929.0 153.3L929.4 150.5L931.6 152.2zM945.2 153.3L945.6 150.5L947.8 152.2zM961.4 153.3L961.9 150.5L964.0 152.2zM977.7 153.3L978.1 150.5L980.3 152.2zM993.9 153.3L994.3 150.5L996.5 152.2zM1010.1 153.3L1010.6 150.5L1012.7 152.2zM1025.9 153.7L1026.5 150.7L1028.8 152.6zM1041.1 154.6L1041.9 151.0L1044.5 153.3zM1055.7 155.9L1057.0 151.5L1060.0 154.3zM1069.8 157.2L1071.8 151.8L1075.2 155.4zM1083.8 158.3L1086.8 152.4L1090.1 156.2zM783.3 138.3L783.6 135.6L785.7 137.2zM799.5 138.3L799.8 135.6L802.0 137.2zM815.7 138.3L816.0 135.6L818.2 137.2zM832.0 138.3L832.2 135.6L834.4 137.2zM848.2 138.3L848.5 135.6L850.6 137.2zM864.4 138.3L864.7 135.6L866.9 137.2zM880.7 138.3L880.9 135.6L883.1 137.2zM896.9 138.3L897.2 135.6L899.3 137.2zM913.1 138.3L913.4 135.6L915.6 137.2zM929.3 138.3L929.6 135.6L931.8 137.2zM945.6 138.3L945.9 135.6L948.0 137.2zM961.8 138.3L962.1 135.6L964.3 137.2zM978.0 138.3L978.3 135.6L980.5 137.2zM994.3 138.3L994.5 135.6L996.7 137.2zM1010.5 138.3L1010.8 135.6L1012.9 137.2zM1026.7 138.3L1027.0 135.6L1029.2 137.2zM1043.0 138.3L1043.2 135.6L1045.4 137.2zM1059.2 138.3L1059.5 135.6L1061.6 137.2zM1075.2 138.5L1075.5 135.7L1077.8 137.4zM1090.6 139.4L1091.1 136.1L1093.7 138.0zM783.6 123.3L783.8 120.7L785.9 122.1zM799.9 123.3L800.0 120.7L802.2 122.1zM816.1 123.3L816.2 120.7L818.4 122.1zM832.3 123.3L832.4 120.7L834.6 122.1zM848.6 123.3L848.7 120.7L850.9 122.1zM864.8 123.3L864.9 120.7L867.1 122.1zM881.0 123.3L881.1 120.7L883.3 122.1zM897.2 123.3L897.4 120.7L899.6 122.1zM913.5 123.3L913.6 120.7L915.8 122.1zM929.7 123.3L929.8 120.7L932.0 122.1zM945.9 123.3L946.1 120.7L948.2 122.1zM962.2 123.3L962.3 120.7L964.5 122.1zM978.4 123.3L978.5 120.7L980.7 122.1zM994.6 123.3L994.7 120.7L996.9 122.1zM1010.9 123.3L1011.0 120.7L1013.2 122.1zM1027.1 123.3L1027.2 120.7L1029.4 122.1zM1043.3 123.3L1043.4 120.7L1045.6 122.1zM1059.5 123.3L1059.7 120.7L1061.9 122.1zM1075.8 123.3L1075.9 120.7L1078.1 122.1zM1092.0 123.3L1092.1 120.7L1094.3 122.1zM784.0 108.3L784.0 105.8L786.1 107.0zM800.2 108.3L800.2 105.8L802.4 107.0zM816.4 108.3L816.4 105.8L818.6 107.0zM832.7 108.3L832.6 105.8L834.8 107.0zM848.9 108.3L848.9 105.8L851.1 107.0zM865.1 108.3L865.1 105.8L867.3 107.0zM881.4 108.3L881.3 105.8L883.5 107.0zM897.6 108.3L897.6 105.8L899.8 107.0zM913.8 108.3L913.8 105.8L916.0 107.0zM930.1 108.3L930.0 105.8L932.2 107.0zM946.3 108.3L946.3 105.8L948.4 107.0zM962.5 108.3L962.5 105.8L964.7 107.0zM978.7 108.3L978.7 105.8L980.9 107.0zM995.0 108.3L994.9 105.8L997.1 107.0zM1011.2 108.3L1011.2 105.8L1013.4 107.0zM1027.4 108.3L1027.4 105.8L1029.6 107.0zM1043.7 108.3L1043.6 105.8L1045.8 107.0zM1059.9 108.3L1059.9 105.8L1062.1 107.0zM1076.1 108.3L1076.1 105.8L1078.3 107.0zM1092.4 108.3L1092.3 105.8L1094.5 107.0zM784.3 93.2L784.2 90.8L786.3 91.9zM800.6 93.2L800.4 90.8L802.6 91.9zM816.8 93.2L816.6 90.8L818.8 91.9zM833.0 93.2L832.8 90.8L835.0 91.9zM849.2 93.2L849.1 90.8L851.3 91.9zM865.5 93.2L865.3 90.8L867.5 91.9zM881.7 93.2L881.5 90.8L883.7 91.9zM897.9 93.2L897.8 90.8L900.0 91.9zM914.2 93.2L914.0 90.8L916.2 91.9zM930.4 93.2L930.2 90.8L932.4 91.9zM946.6 93.2L946.5 90.8L948.6 91.9zM962.9 93.2L962.7 90.8L964.9 91.9zM979.1 93.2L978.9 90.8L981.1 91.9zM995.3 93.2L995.1 90.8L997.3 91.9zM1011.5 93.2L1011.4 90.8L1013.6 91.9zM1027.8 93.2L1027.6 90.8L1029.8 91.9zM1044.0 93.2L1043.8 90.8L1046.0 91.9zM1060.2 93.2L1060.1 90.8L1062.3 91.9zM1076.5 93.2L1076.3 90.8L1078.5 91.9zM1092.7 93.2L1092.5 90.8L1094.7 91.9zM784.6 78.1L784.4 75.9L786.5 76.8zM800.9 78.1L800.6 75.9L802.8 76.8zM817.1 78.1L816.8 75.9L819.0 76.8zM833.3 78.1L833.0 75.9L835.2 76.8zM849.6 78.1L849.3 75.9L851.4 76.8zM865.8 78.1L865.5 75.9L867.7 76.8zM882.0 78.1L881.7 75.9L883.9 76.8zM898.3 78.1L898.0 75.9L900.1 76.8zM914.5 78.1L914.2 75.9L916.4 76.8zM930.7 78.1L930.4 75.9L932.6 76.8zM946.9 78.1L946.7 75.9L948.8 76.8zM963.2 78.1L962.9 75.9L965.1 76.8zM979.4 78.1L979.1 75.9L981.3 76.8zM995.6 78.1L995.3 75.9L997.5 76.8zM1011.9 78.1L1011.6 75.9L1013.7 76.8zM1028.1 78.1L1027.8 75.9L1030.0 76.8zM1044.3 78.1L1044.0 75.9L1046.2 76.8zM1060.6 78.1L1060.3 75.9L1062.4 76.8zM1076.8 78.1L1076.5 75.9L1078.7 76.8zM1093.0 78.1L1092.7 75.9L1094.9 76.8zM785.0 63.0L784.5 60.9L786.7 61.7zM801.2 63.0L800.8 60.9L802.9 61.7zM817.4 63.0L817.0 60.9L819.1 61.7zM833.6 63.0L833.2 60.9L835.4 61.7zM849.9 63.0L849.5 60.9L851.6 61.7zM866.1 63.0L865.7 60.9L867.8 61.7zM882.3 63.0L881.9 60.9L884.1 61.7zM898.6 63.0L898.2 60.9L900.3 61.7zM914.8 63.0L914.4 60.9L916.5 61.7zM931.0 63.0L930.6 60.9L932.8 61.7zM947.3 63.0L946.8 60.9L949.0 61.7zM963.5 63.0L963.1 60.9L965.2 61.7zM979.7 63.0L979.3 60.9L981.4 61.7zM995.9 63.0L995.5 60.9L997.7 61.7zM1012.2 63.0L1011.8 60.9L1013.9 61.7zM1028.4 63.0L1028.0 60.9L1030.1 61.7zM1044.6 63.0L1044.2 60.9L1046.4 61.7zM1060.9 63.0L1060.5 60.9L1062.6 61.7zM1077.1 63.0L1076.7 60.9L1078.8 61.7zM1093.3 63.0L1092.9 60.9L1095.1 61.7zM785.2 47.9L784.7 45.9L786.8 46.6zM801.5 47.9L801.0 45.9L803.1 46.6zM817.7 47.9L817.2 45.9L819.3 46.6zM833.9 47.9L833.4 45.9L835.5 46.6zM850.2 47.9L849.6 45.9L851.8 46.6zM866.4 47.9L865.9 45.9L868.0 46.6zM882.6 47.9L882.1 45.9L884.2 46.6zM898.8 47.9L898.3 45.9L900.4 46.6zM915.1 47.9L914.6 45.9L916.7 46.6zM931.3 47.9L930.8 45.9L932.9 46.6zM947.5 47.9L947.0 45.9L949.1 46.6zM963.8 47.9L963.3 45.9L965.4 46.6zM980.0 47.9L979.5 45.9L981.6 46.6zM996.2 47.9L995.7 45.9L997.8 46.6zM1012.5 47.9L1011.9 45.9L1014.1 46.6zM1028.7 47.9L1028.2 45.9L1030.3 46.6zM1044.9 47.9L1044.4 45.9L1046.5 46.6zM1061.1 47.9L1060.6 45.9L1062.7 46.6zM1077.4 47.9L1076.9 45.9L1079.0 46.6zM1093.6 47.9L1093.1 45.9L1095.2 46.6zM785.5 32.8L784.9 30.9L787.0 31.5zM801.7 32.8L801.1 30.9L803.2 31.5zM818.0 32.8L817.4 30.9L819.4 31.5zM834.2 32.8L833.6 30.9L835.7 31.5zM850.4 32.8L849.8 30.9L851.9 31.5zM866.7 32.8L866.1 30.9L868.1 31.5zM882.9 32.8L882.3 30.9L884.4 31.5zM899.1 32.8L898.5 30.9L900.6 31.5zM915.3 32.8L914.7 30.9L916.8 31.5zM931.6 32.8L931.0 30.9L933.0 31.5zM947.8 32.8L947.2 30.9L949.3 31.5zM964.0 32.8L963.4 30.9L965.5 31.5zM980.3 32.8L979.7 30.9L981.7 31.5zM996.5 32.8L995.9 30.9L998.0 31.5zM1012.7 32.8L1012.1 30.9L1014.2 31.5zM1029.0 32.8L1028.4 30.9L1030.4 31.5zM1045.2 32.8L1044.6 30.9L1046.7 31.5zM1061.4 32.8L1060.8 30.9L1062.9 31.5zM1077.6 32.8L1077.0 30.9L1079.1 31.5zM1093.9 32.8L1093.3 30.9L1095.3 31.5z" fill="#111"/>
<rect x="779.7" y="53.6" width="13.0" height="12" fill="#fff"/><text x="786.2" y="63.2" text-anchor="middle" font-family="Liberation Sans" font-weight="bold" font-size="10" fill="#111">10</text>
<rect x="841.2" y="28.8" width="13.0" height="12" fill="#fff"/><text x="847.7" y="38.4" text-anchor="middle" font-family="Liberation Sans" font-weight="bold" font-size="10" fill="#111">10</text>
<rect x="901.9" y="55.7" width="13.0" height="12" fill="#fff"/><text x="908.4" y="65.3" text-anchor="middle" font-family="Liberation Sans" font-weight="bold" font-size="10" fill="#111">10</text>
<rect x="837.5" y="54.2" width="13.0" height="12" fill="#fff"/><text x="844.0" y="63.8" text-anchor="middle" font-family="Liberation Sans" font-weight="bold" font-size="10" fill="#111">11</text>
<rect x="791.2" y="84.6" width="13.0" height="12" fill="#fff"/><text x="797.7" y="94.2" text-anchor="middle" font-family="Liberation Sans" font-weight="bold" font-size="10" fill="#111">11</text>
<rect x="1045.5" y="83.7" width="13.0" height="12" fill="#fff"/><text x="1052.0" y="93.3" text-anchor="middle" font-family="Liberation Sans" font-weight="bold" font-size="10" fill="#111">11</text>
<rect x="967.5" y="73.0" width="13.0" height="12" fill="#fff"/><text x="974.0" y="82.6" text-anchor="middle" font-family="Liberation Sans" font-weight="bold" font-size="10" fill="#111">11</text>
<rect x="828.8" y="148.1" width="13.0" height="12" fill="#fff"/><text x="835.3" y="157.7" text-anchor="middle" font-family="Liberation Sans" font-weight="bold" font-size="10" fill="#111">12</text>
<rect x="778.2" y="150.1" width="13.0" height="12" fill="#fff"/><text x="784.7" y="159.7" text-anchor="middle" font-family="Liberation Sans" font-weight="bold" font-size="10" fill="#111">13</text>
<rect x="1062.8" y="191.4" width="13.0" height="12" fill="#fff"/><text x="1069.3" y="201.0" text-anchor="middle" font-family="Liberation Sans" font-weight="bold" font-size="10" fill="#111">13</text>
<rect x="830.2" y="225.2" width="13.0" height="12" fill="#fff"/><text x="836.7" y="234.8" text-anchor="middle" font-family="Liberation Sans" font-weight="bold" font-size="10" fill="#111">14</text>
<rect x="849.0" y="244.3" width="13.0" height="12" fill="#fff"/><text x="855.5" y="253.9" text-anchor="middle" font-family="Liberation Sans" font-weight="bold" font-size="10" fill="#111">15</text>
</g>
<rect x="770.3" y="14.0" width="324.6" height="239.6" fill="none" stroke="#3a3a3a" stroke-width="1"/>
<path d="M835.2 253.6v-4M835.2 14.0v4M900.1 253.6v-4M900.1 14.0v4M965.1 253.6v-4M965.1 14.0v4M1030.0 253.6v-4M1030.0 14.0v4M770.3 73.9h4M1094.9 73.9h-4M770.3 133.8h4M1094.9 133.8h-4M770.3 193.7h4M1094.9 193.7h-4" stroke="#3a3a3a" stroke-width="1"/>
<text x="1049.3" y="56.0" font-family="Liberation Serif" font-size="23" fill="#111">(c)</text>
<rect x="1054.3" y="201.5" width="33" height="23.5" fill="#fff"/>
<path d="M1066.0 208.5h4.7" stroke="#000" stroke-width="2.2"/><path d="M1073.7 208.5l-4.5 -2.6v5.2z" fill="#000"/>
<text x="1057.3" y="221.5" font-family="Liberation Serif" font-weight="bold" font-size="11" fill="#111">4m/s</text>
<clipPath id="kd"><rect x="38.3" y="288.4" width="324.6" height="239.6"/></clipPath>
<g clip-path="url(#kd)">
<polyline points="90.3,288.4 90.3,292.7 97.5,295.6 104.7,294.2 107.6,288.4" fill="none" stroke="#f0f0f0" stroke-width="1.5" stroke-linejoin="round"/>
<polyline points="159.6,291.3 158.2,305.7 172.6,311.5 176.4,302.3 168.3,291.3" fill="none" stroke="#f0f0f0" stroke-width="1.5" stroke-linejoin="round"/>
<polyline points="304.1,317.3 315.6,305.7 321.4,317.3 309.9,323.1 304.1,317.3" fill="none" stroke="#f0f0f0" stroke-width="1.5" stroke-linejoin="round"/>
<polyline points="38.3,347.6 67.2,339.0 78.7,332.3 87.4,314.4 107.6,320.2 126.4,331.7 110.5,343.3 90.3,349.1 99.0,369.3 113.4,383.7 104.7,404.0 107.6,424.2 125.0,435.7 139.4,445.8 168.3,443.0 200.1,432.8 218.0,432.8 240.5,430.0 269.4,427.1 298.3,424.2 327.2,424.2 363.3,425.6" fill="none" stroke="#f0f0f0" stroke-width="1.5" stroke-linejoin="round"/>
<polyline points="38.3,389.5 55.6,392.4 65.7,396.7 75.9,386.6 81.6,375.1 70.1,367.8 38.3,353.4" fill="none" stroke="#f0f0f0" stroke-width="1.5" stroke-linejoin="round"/>
<polyline points="162.5,375.1 165.4,392.4 182.7,392.4 200.1,380.8 194.3,372.2 177.0,370.7 162.5,375.1" fill="none" stroke="#f0f0f0" stroke-width="1.5" stroke-linejoin="round"/>
<polyline points="263.6,378.0 266.5,389.5 278.1,383.7 269.4,375.1" fill="none" stroke="#f0f0f0" stroke-width="1.5" stroke-linejoin="round"/>
<polyline points="295.4,389.5 292.5,404.0 298.3,415.5 315.6,409.7 324.3,380.8 318.5,375.6 307.0,380.8 295.4,389.5" fill="none" stroke="#f0f0f0" stroke-width="1.5" stroke-linejoin="round"/>
<polyline points="38.3,417.0 54.2,424.2 73.0,432.8 78.7,450.2 73.0,467.5 81.6,484.8 110.5,487.7 153.9,479.1 197.2,467.5 240.5,458.8 269.4,453.1 318.5,450.8 363.3,447.3" fill="none" stroke="#f0f0f0" stroke-width="1.5" stroke-linejoin="round"/>
<polyline points="38.3,512.3 105.3,508.0 153.9,496.4 211.6,487.7 269.4,479.1 327.2,473.3 363.3,471.8" fill="none" stroke="#f0f0f0" stroke-width="1.5" stroke-linejoin="round"/>
<polyline points="81.6,528.5 125.0,523.8 184.2,520.1 240.5,515.2 298.3,510.8 363.3,508.0" fill="none" stroke="#f0f0f0" stroke-width="1.5" stroke-linejoin="round"/>
<use href="#geo" x="38.3" y="288.4"/>
<path d="M54.5 513.0L46.4 515.0M70.8 513.0L62.5 515.1M87.0 513.0L78.6 515.3M103.2 513.0L94.6 515.4M119.5 513.0L110.6 515.6M135.7 513.0L126.5 515.7M151.9 513.0L142.4 515.9M168.1 513.0L158.3 516.1M184.4 513.0L174.2 516.2M200.6 513.0L190.1 516.4M216.8 513.0L206.0 516.5M233.1 513.0L221.9 516.6M249.3 513.0L237.8 516.8M265.5 513.0L253.8 517.0M281.8 513.0L269.7 517.2M298.0 513.0L285.6 517.4M314.2 513.0L301.6 517.6M330.4 513.0L317.5 517.8M346.7 513.0L333.4 518.0M362.9 513.0L349.4 518.2M54.5 498.0L48.8 499.7M70.8 498.0L64.7 499.8M87.0 498.0L80.5 500.0M103.2 498.0L96.4 500.1M119.5 498.0L111.8 500.4M135.7 498.0L127.3 500.7M151.9 498.0L142.7 501.0M168.1 498.0L158.3 501.2M184.4 498.0L174.3 501.4M200.6 498.0L190.2 501.6M216.8 498.0L206.1 501.8M233.1 498.0L222.0 501.9M249.3 498.0L237.9 502.0M265.5 498.0L253.8 502.1M281.8 498.0L269.7 502.2M298.0 498.0L285.6 502.4M314.2 498.0L301.6 502.6M330.4 498.0L317.5 502.8M346.7 498.0L333.4 503.0M362.9 498.0L349.4 503.2M54.5 483.1L52.2 483.9M70.8 483.1L68.3 484.0M87.0 483.1L84.3 484.0M103.2 483.1L100.3 484.1M119.5 483.1L115.8 484.3M135.7 483.1L131.2 484.6M151.9 483.1L146.4 485.0M168.1 483.1L161.7 485.3M184.4 483.1L176.6 485.8M200.6 483.1L191.4 486.4M216.8 483.1L206.3 486.9M233.1 483.1L222.1 487.2M249.3 483.1L238.0 487.3M265.5 483.1L253.9 487.5M281.8 483.1L269.8 487.6M298.0 483.1L285.7 487.7M314.2 483.1L301.6 487.8M330.4 483.1L317.5 487.9M346.7 483.1L333.4 488.1M362.9 483.1L349.4 488.3M54.5 468.1L52.6 468.8M70.8 468.1L68.9 468.8M87.0 468.1L85.1 468.8M103.2 468.1L101.3 468.8M119.5 468.1L117.5 468.8M135.7 468.1L133.8 468.8M151.9 468.1L149.9 468.8M168.1 468.1L165.7 469.0M184.4 468.1L181.0 469.3M200.6 468.1L196.0 469.8M216.8 468.1L210.8 470.4M233.1 468.1L225.6 471.0M249.3 468.1L239.8 471.9M265.5 468.1L254.3 472.7M281.8 468.1L269.9 472.9M298.0 468.1L285.9 473.1M314.2 468.1L301.8 473.2M330.4 468.1L317.7 473.3M346.7 468.1L333.6 473.5M362.9 468.1L349.5 473.6M54.5 453.1L52.6 453.8M70.8 453.1L68.9 453.8M87.0 453.1L85.1 453.8M103.2 453.1L101.3 453.8M119.5 453.1L117.5 453.8M135.7 453.1L133.8 453.8M151.9 453.1L150.0 453.8M168.1 453.1L166.2 453.8M184.4 453.1L182.5 453.8M200.6 453.1L198.7 453.8M216.8 453.1L214.7 453.9M233.1 453.1L230.2 454.2M249.3 453.1L245.0 454.8M265.5 453.1L259.4 455.6M281.8 453.1L273.8 456.5M298.0 453.1L287.5 457.7M314.2 453.1L302.2 458.5M330.4 453.1L317.8 458.8M346.7 453.1L333.8 458.9M362.9 453.1L349.7 459.1M54.5 438.1L52.6 438.8M70.8 438.1L68.9 438.8M87.0 438.1L85.1 438.8M103.2 438.1L101.3 438.8M119.5 438.1L117.5 438.8M135.7 438.1L133.8 438.8M151.9 438.1L150.0 438.8M168.1 438.1L166.2 438.8M184.4 438.1L182.5 438.8M200.6 438.1L198.7 438.8M216.8 438.1L214.9 438.8M233.1 438.1L231.2 438.8M249.3 438.1L247.4 438.8M265.5 438.1L263.4 438.9M281.8 438.1L278.6 439.3M298.0 438.1L293.2 440.0M314.2 438.1L307.8 440.8M330.4 438.1L322.4 441.8M346.7 438.1L336.1 443.1M362.9 438.1L350.5 444.2M54.5 423.2L52.7 423.8M70.8 423.2L68.9 423.8M87.0 423.2L85.2 423.8M103.2 423.2L101.4 423.8M119.5 423.2L117.6 423.8M135.7 423.2L133.8 423.8M151.9 423.2L150.1 423.8M168.1 423.2L166.3 423.8M184.4 423.2L182.5 423.8M200.6 423.2L198.8 423.8M216.8 423.2L215.0 423.8M233.1 423.2L231.2 423.8M249.3 423.2L247.5 423.8M265.5 423.2L263.7 423.8M281.8 423.2L279.9 423.8M298.0 423.2L296.1 423.8M314.2 423.2L312.2 423.9M330.4 423.2L327.5 424.3M346.7 423.2L342.4 424.9M362.9 423.2L356.9 425.8M54.5 408.2L52.8 408.8M70.8 408.2L69.0 408.8M87.0 408.2L85.2 408.8M103.2 408.2L101.5 408.8M119.5 408.2L117.7 408.8M135.7 408.2L133.9 408.8M151.9 408.2L150.1 408.8M168.1 408.2L166.4 408.8M184.4 408.2L182.6 408.8M200.6 408.2L198.8 408.8M216.8 408.2L215.1 408.8M233.1 408.2L231.3 408.8M249.3 408.2L247.5 408.8M265.5 408.2L263.8 408.8M281.8 408.2L280.0 408.8M298.0 408.2L296.2 408.8M314.2 408.2L312.4 408.8M330.4 408.2L328.7 408.8M346.7 408.2L344.9 408.8M362.9 408.2L361.1 408.9M54.5 393.2L52.8 393.8M70.8 393.2L69.1 393.8M87.0 393.2L85.3 393.8M103.2 393.2L101.5 393.8M119.5 393.2L117.8 393.8M135.7 393.2L134.0 393.8M151.9 393.2L150.2 393.8M168.1 393.2L166.4 393.8M184.4 393.2L182.7 393.8M200.6 393.2L198.9 393.8M216.8 393.2L215.1 393.8M233.1 393.2L231.4 393.8M249.3 393.2L247.6 393.8M265.5 393.2L263.8 393.8M281.8 393.2L280.1 393.8M298.0 393.2L296.3 393.8M314.2 393.2L312.5 393.8M330.4 393.2L328.7 393.8M346.7 393.2L345.0 393.8M362.9 393.2L361.2 393.8M54.5 378.2L52.9 378.8M70.8 378.2L69.1 378.8M87.0 378.2L85.4 378.8M103.2 378.2L101.6 378.8M119.5 378.2L117.8 378.8M135.7 378.2L134.1 378.8M151.9 378.2L150.3 378.8M168.1 378.2L166.5 378.8M184.4 378.2L182.8 378.8M200.6 378.2L199.0 378.8M216.8 378.2L215.2 378.8M233.1 378.2L231.4 378.8M249.3 378.2L247.7 378.8M265.5 378.2L263.9 378.8M281.8 378.2L280.1 378.8M298.0 378.2L296.4 378.8M314.2 378.2L312.6 378.8M330.4 378.2L328.8 378.8M346.7 378.2L345.1 378.8M362.9 378.2L361.3 378.8M54.5 363.3L53.0 363.8M70.8 363.3L69.2 363.8M87.0 363.3L85.4 363.8M103.2 363.3L101.7 363.8M119.5 363.3L117.9 363.8M135.7 363.3L134.1 363.8M151.9 363.3L150.4 363.8M168.1 363.3L166.6 363.8M184.4 363.3L182.8 363.8M200.6 363.3L199.1 363.8M216.8 363.3L215.3 363.8M233.1 363.3L231.5 363.8M249.3 363.3L247.7 363.8M265.5 363.3L264.0 363.8M281.8 363.3L280.2 363.8M298.0 363.3L296.4 363.8M314.2 363.3L312.7 363.8M330.4 363.3L328.9 363.8M346.7 363.3L345.1 363.8M362.9 363.3L361.4 363.8M54.5 348.3L53.1 348.8M70.8 348.3L69.3 348.8M87.0 348.3L85.5 348.8M103.2 348.3L101.7 348.8M119.5 348.3L118.0 348.8M135.7 348.3L134.2 348.8M151.9 348.3L150.4 348.8M168.1 348.3L166.7 348.8M184.4 348.3L182.9 348.8M200.6 348.3L199.1 348.8M216.8 348.3L215.4 348.8M233.1 348.3L231.6 348.8M249.3 348.3L247.8 348.8M265.5 348.3L264.0 348.8M281.8 348.3L280.3 348.8M298.0 348.3L296.5 348.8M314.2 348.3L312.7 348.8M330.4 348.3L329.0 348.8M346.7 348.3L345.2 348.8M362.9 348.3L361.4 348.8M54.5 333.3L53.1 333.8M70.8 333.3L69.4 333.8M87.0 333.3L85.6 333.8M103.2 333.3L101.8 333.8M119.5 333.3L118.0 333.8M135.7 333.3L134.3 333.8M151.9 333.3L150.5 333.8M168.1 333.3L166.7 333.8M184.4 333.3L183.0 333.8M200.6 333.3L199.2 333.8M216.8 333.3L215.4 333.8M233.1 333.3L231.7 333.8M249.3 333.3L247.9 333.8M265.5 333.3L264.1 333.8M281.8 333.3L280.3 333.8M298.0 333.3L296.6 333.8M314.2 333.3L312.8 333.8M330.4 333.3L329.0 333.8M346.7 333.3L345.3 333.8M362.9 333.3L361.5 333.8M54.5 318.3L53.2 318.8M70.8 318.3L69.4 318.8M87.0 318.3L85.7 318.8M103.2 318.3L101.9 318.8M119.5 318.3L118.1 318.8M135.7 318.3L134.4 318.8M151.9 318.3L150.6 318.8M168.1 318.3L166.8 318.8M184.4 318.3L183.0 318.8M200.6 318.3L199.3 318.8M216.8 318.3L215.5 318.8M233.1 318.3L231.7 318.8M249.3 318.3L248.0 318.8M265.5 318.3L264.2 318.8M281.8 318.3L280.4 318.8M298.0 318.3L296.7 318.8M314.2 318.3L312.9 318.8M330.4 318.3L329.1 318.8M346.7 318.3L345.3 318.8M362.9 318.3L361.6 318.8M54.5 303.4L53.3 303.8M70.8 303.4L69.5 303.8M87.0 303.4L85.7 303.8M103.2 303.4L102.0 303.8M119.5 303.4L118.2 303.8M135.7 303.4L134.4 303.8M151.9 303.4L150.7 303.8M168.1 303.4L166.9 303.8M184.4 303.4L183.1 303.8M200.6 303.4L199.3 303.8M216.8 303.4L215.6 303.8M233.1 303.4L231.8 303.8M249.3 303.4L248.0 303.8M265.5 303.4L264.3 303.8M281.8 303.4L280.5 303.8M298.0 303.4L296.7 303.8M314.2 303.4L313.0 303.8M330.4 303.4L329.2 303.8M346.7 303.4L345.4 303.8M362.9 303.4L361.6 303.8" stroke="#140f0f" stroke-width="1.75" fill="none"/>
<path d="M40.6 516.4L45.9 512.6L47.0 517.4zM56.5 516.6L61.9 512.7L63.1 517.5zM72.4 516.9L77.9 512.8L79.2 517.7zM88.4 517.1L93.9 513.0L95.3 517.8zM104.3 517.4L109.9 513.2L111.2 518.0zM120.2 517.6L125.8 513.3L127.2 518.1zM136.2 517.8L141.7 513.5L143.1 518.3zM152.1 518.0L157.6 513.7L159.0 518.5zM168.0 518.2L173.5 513.9L175.0 518.6zM183.9 518.4L189.4 514.0L190.9 518.8zM199.8 518.5L205.3 514.1L206.8 518.9zM215.8 518.7L221.2 514.3L222.7 519.0zM231.7 518.8L237.1 514.4L238.6 519.2zM247.6 519.1L253.0 514.6L254.6 519.3zM263.5 519.3L268.9 514.8L270.5 519.5zM279.5 519.5L284.8 515.0L286.5 519.7zM295.4 519.8L300.7 515.2L302.4 519.9zM311.4 520.0L316.6 515.4L318.4 520.1zM327.3 520.3L332.5 515.7L334.3 520.3zM343.3 520.6L348.5 515.9L350.3 520.6zM44.7 500.9L48.3 497.6L49.4 501.7zM60.3 501.1L64.1 497.7L65.3 502.0zM75.9 501.4L79.9 497.7L81.2 502.2zM91.4 501.6L95.7 497.7L97.1 502.5zM106.2 502.1L111.0 498.0L112.5 502.8zM121.2 502.5L126.5 498.3L128.0 503.0zM136.5 503.0L141.9 498.6L143.4 503.4zM152.2 503.3L157.6 498.9L159.1 503.6zM168.1 503.5L173.5 499.0L175.1 503.8zM184.0 503.7L189.4 499.2L191.0 504.0zM200.0 503.9L205.3 499.4L206.9 504.1zM215.9 504.0L221.2 499.5L222.8 504.3zM231.8 504.2L237.1 499.7L238.7 504.4zM247.7 504.3L253.0 499.8L254.6 504.5zM263.6 504.4L268.9 499.9L270.5 504.6zM279.5 504.6L284.8 500.0L286.5 504.8zM295.4 504.8L300.7 500.3L302.4 505.0zM311.4 505.1L316.6 500.5L318.4 505.2zM327.3 505.3L332.5 500.7L334.3 505.4zM343.3 505.6L348.5 500.9L350.3 505.6zM50.5 484.5L51.8 482.8L52.6 485.0zM66.4 484.6L67.9 482.8L68.7 485.1zM82.3 484.7L83.9 482.9L84.7 485.2zM98.2 484.9L99.9 482.9L100.7 485.3zM113.1 485.3L115.3 482.9L116.3 485.8zM127.9 485.8L130.6 482.9L131.8 486.3zM142.5 486.3L145.8 483.0L147.1 487.0zM157.0 487.0L160.9 483.1L162.5 487.6zM171.0 487.8L175.8 483.5L177.4 488.2zM185.3 488.6L190.6 484.0L192.3 488.7zM200.2 489.2L205.5 484.6L207.2 489.3zM216.0 489.4L221.2 484.8L223.0 489.5zM231.9 489.6L237.1 485.0L238.9 489.7zM247.8 489.8L253.0 485.1L254.8 489.8zM263.7 489.9L268.9 485.2L270.7 489.9zM279.6 490.0L284.8 485.4L286.6 490.0zM295.5 490.1L300.7 485.5L302.5 490.2zM311.4 490.2L316.6 485.6L318.4 490.3zM327.3 490.3L332.5 485.7L334.3 490.4zM343.3 490.6L348.5 485.9L350.3 490.6zM51.2 469.3L52.3 467.9L53.0 469.7zM67.5 469.3L68.5 467.9L69.2 469.7zM83.7 469.3L84.7 467.9L85.4 469.7zM99.9 469.3L101.0 467.9L101.7 469.7zM116.2 469.3L117.2 467.9L117.9 469.7zM132.4 469.3L133.4 467.9L134.1 469.7zM148.4 469.4L149.5 467.9L150.2 469.8zM163.9 469.6L165.3 467.9L166.1 470.1zM178.6 470.2L180.5 468.0L181.5 470.7zM192.7 471.0L195.4 468.1L196.6 471.5zM206.5 472.0L210.0 468.2L211.6 472.5zM220.3 473.0L224.7 468.6L226.5 473.3zM233.8 474.3L238.9 469.5L240.8 474.2zM248.2 475.1L253.3 470.3L255.2 475.0zM263.9 475.4L269.0 470.6L270.9 475.2zM279.8 475.5L284.9 470.8L286.8 475.4zM295.8 475.7L300.8 470.9L302.7 475.5zM311.7 475.8L316.7 471.0L318.6 475.7zM327.6 475.9L332.6 471.2L334.5 475.8zM343.5 476.0L348.5 471.3L350.4 475.9zM51.2 454.3L52.3 452.9L53.0 454.8zM67.5 454.3L68.5 452.9L69.2 454.8zM83.7 454.3L84.7 452.9L85.4 454.8zM99.9 454.3L101.0 452.9L101.7 454.8zM116.2 454.3L117.2 452.9L117.9 454.8zM132.4 454.3L133.4 452.9L134.1 454.8zM148.6 454.3L149.7 452.9L150.3 454.8zM164.9 454.3L165.9 452.9L166.6 454.8zM181.1 454.3L182.1 452.9L182.8 454.8zM197.3 454.3L198.4 452.9L199.0 454.8zM213.2 454.5L214.3 452.9L215.1 454.9zM228.1 455.0L229.7 453.0L230.6 455.4zM241.8 456.0L244.3 453.1L245.6 456.4zM254.9 457.4L258.5 453.4L260.3 457.7zM268.0 458.9L272.8 454.2L274.7 458.8zM281.5 460.3L286.5 455.4L288.5 460.0zM296.2 461.1L301.1 456.2L303.2 460.8zM311.9 461.4L316.8 456.5L318.9 461.1zM327.8 461.6L332.7 456.6L334.8 461.2zM343.7 461.7L348.6 456.8L350.7 461.3zM51.2 439.3L52.3 437.9L53.0 439.8zM67.5 439.3L68.5 437.9L69.2 439.8zM83.7 439.3L84.7 437.9L85.4 439.8zM99.9 439.3L101.0 437.9L101.7 439.8zM116.2 439.3L117.2 437.9L117.9 439.8zM132.4 439.3L133.4 437.9L134.1 439.8zM148.6 439.3L149.7 437.9L150.3 439.8zM164.9 439.3L165.9 437.9L166.6 439.8zM181.1 439.3L182.1 437.9L182.8 439.8zM197.3 439.3L198.4 437.9L199.0 439.8zM213.5 439.3L214.6 437.9L215.3 439.8zM229.8 439.3L230.8 437.9L231.5 439.8zM246.0 439.3L247.0 437.9L247.7 439.8zM261.9 439.5L263.1 437.9L263.8 439.9zM276.4 440.2L278.1 438.0L279.1 440.6zM289.8 441.4L292.5 438.3L294.0 441.8zM303.2 442.8L306.9 438.6L308.8 443.1zM316.6 444.4L321.4 439.5L323.4 444.0zM330.3 445.9L335.1 440.8L337.2 445.4zM344.6 447.1L349.4 442.0L351.6 446.5zM51.4 424.3L52.4 422.9L53.0 424.8zM67.6 424.3L68.6 422.9L69.3 424.8zM83.8 424.3L84.8 422.9L85.5 424.8zM100.1 424.3L101.1 422.9L101.7 424.8zM116.3 424.3L117.3 422.9L117.9 424.8zM132.5 424.3L133.5 422.9L134.2 424.8zM148.7 424.3L149.7 422.9L150.4 424.8zM165.0 424.3L166.0 422.9L166.6 424.8zM181.2 424.3L182.2 422.9L182.9 424.8zM197.4 424.3L198.4 422.9L199.1 424.8zM213.7 424.3L214.7 422.9L215.3 424.8zM229.9 424.3L230.9 422.9L231.6 424.8zM246.1 424.3L247.1 422.9L247.8 424.8zM262.4 424.3L263.4 422.9L264.0 424.8zM278.6 424.3L279.6 422.9L280.2 424.8zM294.8 424.3L295.8 422.9L296.5 424.8zM310.7 424.5L311.8 423.0L312.5 424.9zM325.4 425.1L327.0 423.1L328.0 425.5zM339.2 426.2L341.7 423.3L343.0 426.6zM352.5 427.7L356.0 423.7L357.8 427.9zM51.5 409.3L52.4 407.9L53.1 409.7zM67.7 409.3L68.7 407.9L69.3 409.7zM84.0 409.3L84.9 407.9L85.6 409.7zM100.2 409.3L101.1 407.9L101.8 409.7zM116.4 409.3L117.4 407.9L118.0 409.7zM132.6 409.3L133.6 407.9L134.2 409.7zM148.9 409.3L149.8 407.9L150.5 409.7zM165.1 409.3L166.1 407.9L166.7 409.7zM181.3 409.3L182.3 407.9L182.9 409.7zM197.6 409.3L198.5 407.9L199.2 409.7zM213.8 409.3L214.7 407.9L215.4 409.7zM230.0 409.3L231.0 407.9L231.6 409.7zM246.3 409.3L247.2 407.9L247.9 409.7zM262.5 409.3L263.4 407.9L264.1 409.7zM278.7 409.3L279.7 407.9L280.3 409.7zM294.9 409.3L295.9 407.9L296.5 409.7zM311.2 409.3L312.1 407.9L312.8 409.7zM327.4 409.3L328.4 407.9L329.0 409.7zM343.6 409.3L344.6 407.9L345.2 409.7zM359.7 409.4L360.7 408.0L361.4 409.8zM51.6 394.3L52.5 393.0L53.2 394.7zM67.8 394.3L68.8 393.0L69.4 394.7zM84.1 394.3L85.0 393.0L85.6 394.7zM100.3 394.3L101.2 393.0L101.8 394.7zM116.5 394.3L117.4 393.0L118.1 394.7zM132.8 394.3L133.7 393.0L134.3 394.7zM149.0 394.3L149.9 393.0L150.5 394.7zM165.2 394.3L166.1 393.0L166.8 394.7zM181.5 394.3L182.4 393.0L183.0 394.7zM197.7 394.3L198.6 393.0L199.2 394.7zM213.9 394.3L214.8 393.0L215.5 394.7zM230.1 394.3L231.1 393.0L231.7 394.7zM246.4 394.3L247.3 393.0L247.9 394.7zM262.6 394.3L263.5 393.0L264.1 394.7zM278.8 394.3L279.7 393.0L280.4 394.7zM295.1 394.3L296.0 393.0L296.6 394.7zM311.3 394.3L312.2 393.0L312.8 394.7zM327.5 394.3L328.4 393.0L329.1 394.7zM343.8 394.3L344.7 393.0L345.3 394.7zM360.0 394.3L360.9 393.0L361.5 394.7zM51.7 379.3L52.6 378.0L53.2 379.7zM68.0 379.3L68.8 378.0L69.5 379.7zM84.2 379.3L85.1 378.0L85.7 379.7zM100.4 379.3L101.3 378.0L101.9 379.7zM116.7 379.3L117.5 378.0L118.1 379.7zM132.9 379.3L133.8 378.0L134.4 379.7zM149.1 379.3L150.0 378.0L150.6 379.7zM165.4 379.3L166.2 378.0L166.8 379.7zM181.6 379.3L182.4 378.0L183.1 379.7zM197.8 379.3L198.7 378.0L199.3 379.7zM214.0 379.3L214.9 378.0L215.5 379.7zM230.3 379.3L231.1 378.0L231.8 379.7zM246.5 379.3L247.4 378.0L248.0 379.7zM262.7 379.3L263.6 378.0L264.2 379.7zM279.0 379.3L279.8 378.0L280.4 379.7zM295.2 379.3L296.1 378.0L296.7 379.7zM311.4 379.3L312.3 378.0L312.9 379.7zM327.7 379.3L328.5 378.0L329.1 379.7zM343.9 379.3L344.7 378.0L345.4 379.7zM360.1 379.3L361.0 378.0L361.6 379.7zM51.9 364.2L52.7 363.0L53.3 364.7zM68.1 364.2L68.9 363.0L69.5 364.7zM84.3 364.2L85.1 363.0L85.7 364.7zM100.6 364.2L101.4 363.0L102.0 364.7zM116.8 364.2L117.6 363.0L118.2 364.7zM133.0 364.2L133.8 363.0L134.4 364.7zM149.2 364.2L150.1 363.0L150.7 364.7zM165.5 364.2L166.3 363.0L166.9 364.7zM181.7 364.2L182.5 363.0L183.1 364.7zM197.9 364.2L198.8 363.0L199.4 364.7zM214.2 364.2L215.0 363.0L215.6 364.7zM230.4 364.2L231.2 363.0L231.8 364.7zM246.6 364.2L247.4 363.0L248.0 364.7zM262.9 364.2L263.7 363.0L264.3 364.7zM279.1 364.2L279.9 363.0L280.5 364.7zM295.3 364.2L296.1 363.0L296.7 364.7zM311.5 364.2L312.4 363.0L313.0 364.7zM327.8 364.2L328.6 363.0L329.2 364.7zM344.0 364.2L344.8 363.0L345.4 364.7zM360.2 364.2L361.1 363.0L361.7 364.7zM52.0 349.2L52.8 348.0L53.4 349.6zM68.2 349.2L69.0 348.0L69.6 349.6zM84.5 349.2L85.2 348.0L85.8 349.6zM100.7 349.2L101.5 348.0L102.0 349.6zM116.9 349.2L117.7 348.0L118.3 349.6zM133.1 349.2L133.9 348.0L134.5 349.6zM149.4 349.2L150.1 348.0L150.7 349.6zM165.6 349.2L166.4 348.0L167.0 349.6zM181.8 349.2L182.6 348.0L183.2 349.6zM198.1 349.2L198.8 348.0L199.4 349.6zM214.3 349.2L215.1 348.0L215.7 349.6zM230.5 349.2L231.3 348.0L231.9 349.6zM246.8 349.2L247.5 348.0L248.1 349.6zM263.0 349.2L263.8 348.0L264.3 349.6zM279.2 349.2L280.0 348.0L280.6 349.6zM295.4 349.2L296.2 348.0L296.8 349.6zM311.7 349.2L312.4 348.0L313.0 349.6zM327.9 349.2L328.7 348.0L329.3 349.6zM344.1 349.2L344.9 348.0L345.5 349.6zM360.4 349.2L361.1 348.0L361.7 349.6zM52.1 334.2L52.8 333.0L53.4 334.6zM68.3 334.2L69.1 333.0L69.6 334.6zM84.6 334.2L85.3 333.0L85.9 334.6zM100.8 334.2L101.5 333.0L102.1 334.6zM117.0 334.2L117.8 333.0L118.3 334.6zM133.3 334.2L134.0 333.0L134.6 334.6zM149.5 334.2L150.2 333.0L150.8 334.6zM165.7 334.2L166.5 333.0L167.0 334.6zM182.0 334.2L182.7 333.0L183.3 334.6zM198.2 334.2L198.9 333.0L199.5 334.6zM214.4 334.2L215.1 333.0L215.7 334.6zM230.6 334.2L231.4 333.0L231.9 334.6zM246.9 334.2L247.6 333.0L248.2 334.6zM263.1 334.2L263.8 333.0L264.4 334.6zM279.3 334.2L280.1 333.0L280.6 334.6zM295.6 334.2L296.3 333.0L296.9 334.6zM311.8 334.2L312.5 333.0L313.1 334.6zM328.0 334.2L328.8 333.0L329.3 334.6zM344.3 334.2L345.0 333.0L345.6 334.6zM360.5 334.2L361.2 333.0L361.8 334.6zM52.2 319.2L52.9 318.1L53.5 319.6zM68.5 319.2L69.2 318.1L69.7 319.6zM84.7 319.2L85.4 318.1L85.9 319.6zM100.9 319.2L101.6 318.1L102.2 319.6zM117.2 319.2L117.8 318.1L118.4 319.6zM133.4 319.2L134.1 318.1L134.6 319.6zM149.6 319.2L150.3 318.1L150.9 319.6zM165.9 319.2L166.5 318.1L167.1 319.6zM182.1 319.2L182.8 318.1L183.3 319.6zM198.3 319.2L199.0 318.1L199.6 319.6zM214.5 319.2L215.2 318.1L215.8 319.6zM230.8 319.2L231.5 318.1L232.0 319.6zM247.0 319.2L247.7 318.1L248.2 319.6zM263.2 319.2L263.9 318.1L264.5 319.6zM279.5 319.2L280.1 318.1L280.7 319.6zM295.7 319.2L296.4 318.1L296.9 319.6zM311.9 319.2L312.6 318.1L313.2 319.6zM328.2 319.2L328.8 318.1L329.4 319.6zM344.4 319.2L345.1 318.1L345.6 319.6zM360.6 319.2L361.3 318.1L361.9 319.6zM52.4 304.2L53.0 303.1L53.5 304.6zM68.6 304.2L69.2 303.1L69.8 304.6zM84.8 304.2L85.5 303.1L86.0 304.6zM101.1 304.2L101.7 303.1L102.2 304.6zM117.3 304.2L117.9 303.1L118.5 304.6zM133.5 304.2L134.2 303.1L134.7 304.6zM149.7 304.2L150.4 303.1L150.9 304.6zM166.0 304.2L166.6 303.1L167.2 304.6zM182.2 304.2L182.8 303.1L183.4 304.6zM198.4 304.2L199.1 303.1L199.6 304.6zM214.7 304.2L215.3 303.1L215.8 304.6zM230.9 304.2L231.5 303.1L232.1 304.6zM247.1 304.2L247.8 303.1L248.3 304.6zM263.4 304.2L264.0 303.1L264.5 304.6zM279.6 304.2L280.2 303.1L280.8 304.6zM295.8 304.2L296.5 303.1L297.0 304.6zM312.0 304.2L312.7 303.1L313.2 304.6zM328.3 304.2L328.9 303.1L329.5 304.6zM344.5 304.2L345.1 303.1L345.7 304.6zM360.7 304.2L361.4 303.1L361.9 304.6z" fill="#111"/>
<rect x="91.0" y="289.6" width="13.0" height="12" fill="#fff"/><text x="97.5" y="299.2" text-anchor="middle" font-family="Liberation Sans" font-weight="bold" font-size="10" fill="#111">10</text>
<rect x="169.9" y="296.3" width="13.0" height="12" fill="#fff"/><text x="176.4" y="305.9" text-anchor="middle" font-family="Liberation Sans" font-weight="bold" font-size="10" fill="#111">10</text>
<rect x="309.0" y="307.0" width="7.5" height="12" fill="#fff"/><text x="312.7" y="316.6" text-anchor="middle" font-family="Liberation Sans" font-weight="bold" font-size="10" fill="#111">9</text>
<rect x="72.2" y="326.3" width="13.0" height="12" fill="#fff"/><text x="78.7" y="335.9" text-anchor="middle" font-family="Liberation Sans" font-weight="bold" font-size="10" fill="#111">10</text>
<rect x="211.5" y="426.8" width="13.0" height="12" fill="#fff"/><text x="218.0" y="436.4" text-anchor="middle" font-family="Liberation Sans" font-weight="bold" font-size="10" fill="#111">10</text>
<rect x="59.2" y="390.7" width="13.0" height="12" fill="#fff"/><text x="65.7" y="400.3" text-anchor="middle" font-family="Liberation Sans" font-weight="bold" font-size="10" fill="#111">10</text>
<rect x="186.2" y="379.2" width="7.5" height="12" fill="#fff"/><text x="190.0" y="388.8" text-anchor="middle" font-family="Liberation Sans" font-weight="bold" font-size="10" fill="#111">9</text>
<rect x="269.1" y="375.4" width="7.5" height="12" fill="#fff"/><text x="272.9" y="385.0" text-anchor="middle" font-family="Liberation Sans" font-weight="bold" font-size="10" fill="#111">9</text>
<rect x="312.0" y="369.6" width="13.0" height="12" fill="#fff"/><text x="318.5" y="379.2" text-anchor="middle" font-family="Liberation Sans" font-weight="bold" font-size="10" fill="#111">10</text>
<rect x="47.7" y="418.2" width="13.0" height="12" fill="#fff"/><text x="54.2" y="427.8" text-anchor="middle" font-family="Liberation Sans" font-weight="bold" font-size="10" fill="#111">11</text>
<rect x="312.0" y="444.8" width="13.0" height="12" fill="#fff"/><text x="318.5" y="454.4" text-anchor="middle" font-family="Liberation Sans" font-weight="bold" font-size="10" fill="#111">11</text>
<rect x="98.8" y="502.0" width="13.0" height="12" fill="#fff"/><text x="105.3" y="511.6" text-anchor="middle" font-family="Liberation Sans" font-weight="bold" font-size="10" fill="#111">12</text>
<rect x="177.7" y="514.1" width="13.0" height="12" fill="#fff"/><text x="184.2" y="523.7" text-anchor="middle" font-family="Liberation Sans" font-weight="bold" font-size="10" fill="#111">13</text>
</g>
<rect x="38.3" y="288.4" width="324.6" height="239.6" fill="none" stroke="#3a3a3a" stroke-width="1"/>
<path d="M103.2 528.0v-4M103.2 288.4v4M168.1 528.0v-4M168.1 288.4v4M233.1 528.0v-4M233.1 288.4v4M298.0 528.0v-4M298.0 288.4v4M38.3 348.3h4M362.9 348.3h-4M38.3 408.2h4M362.9 408.2h-4M38.3 468.1h4M362.9 468.1h-4" stroke="#3a3a3a" stroke-width="1"/>
<text x="315.3" y="330.4" font-family="Liberation Serif" font-size="23" fill="#111">(d)</text>
<rect x="322.3" y="475.9" width="33" height="23.5" fill="#fff"/>
<path d="M333.7 482.9h5.3" stroke="#000" stroke-width="2.2"/><path d="M342.0 482.9l-4.5 -2.6v5.2z" fill="#000"/>
<text x="325.3" y="495.9" font-family="Liberation Serif" font-weight="bold" font-size="11" fill="#111">4m/s</text>
<clipPath id="ke"><rect x="404.3" y="288.4" width="324.6" height="239.6"/></clipPath>
<g clip-path="url(#ke)">
<polyline points="404.3,294.2 420.2,300.5 439.0,294.2 447.6,288.4" fill="none" stroke="#f0f0f0" stroke-width="1.5" stroke-linejoin="round"/>
<polyline points="479.4,288.4 491.0,294.2 499.6,297.1 508.3,294.2 514.1,288.4" fill="none" stroke="#f0f0f0" stroke-width="1.5" stroke-linejoin="round"/>
<polyline points="404.3,328.8 423.1,333.2 447.6,323.1 476.5,311.5 493.3,316.7 514.1,308.6 531.4,297.1 548.7,295.6 566.1,308.6 577.6,315.8 606.5,308.6 624.7,297.1 649.9,300.0 670.1,297.1 681.6,288.4" fill="none" stroke="#f0f0f0" stroke-width="1.5" stroke-linejoin="round"/>
<polyline points="404.3,365.0 433.2,357.7 462.1,350.5 488.1,349.1 519.9,357.7 525.6,375.1 519.9,386.6 531.4,395.3 548.7,389.5 566.1,378.0 561.7,363.5 571.9,347.6 586.3,341.8 612.3,326.0 635.4,320.2 644.1,328.8 642.6,352.0 632.5,375.1 629.6,395.3 632.5,409.7 644.1,404.0" fill="none" stroke="#f0f0f0" stroke-width="1.5" stroke-linejoin="round"/>
<polyline points="729.3,435.7 693.2,432.8 673.0,424.2 681.6,412.6 696.1,399.6 709.1,386.6 710.5,369.3 701.9,354.8 681.6,352.0 664.3,360.6 658.5,375.1" fill="none" stroke="#f0f0f0" stroke-width="1.5" stroke-linejoin="round"/>
<polyline points="404.3,402.5 417.3,404.0 439.0,402.5 453.4,399.6 470.7,409.7 488.1,424.2 502.5,441.5 519.9,447.3 548.7,450.2 577.6,451.6 606.5,454.5 635.4,457.4 678.7,457.4 709.1,457.4 729.3,457.4" fill="none" stroke="#f0f0f0" stroke-width="1.5" stroke-linejoin="round"/>
<polyline points="404.3,430.0 421.6,430.0 433.2,432.8 444.7,450.2 439.0,473.3 441.9,490.6 456.3,496.4 491.0,493.5 548.7,490.6 606.5,487.7 664.3,486.3 683.1,486.3 729.3,484.8" fill="none" stroke="#f0f0f0" stroke-width="1.5" stroke-linejoin="round"/>
<polyline points="404.3,461.7 413.0,476.2 418.7,490.6 420.2,498.7 415.9,508.0 404.3,510.8" fill="none" stroke="#f0f0f0" stroke-width="1.5" stroke-linejoin="round"/>
<use href="#geo" x="404.3" y="288.4"/>
<path d="M420.5 513.0L412.4 513.4M436.8 513.0L428.6 513.4M453.0 513.0L444.8 513.5M469.2 513.0L460.9 513.5M485.5 513.0L477.1 513.5M501.7 513.0L493.3 513.6M517.9 513.0L509.5 513.6M534.1 513.0L525.7 513.6M550.4 513.0L541.9 513.6M566.6 513.0L558.1 513.6M582.8 513.0L574.2 513.5M599.1 513.0L590.4 513.5M615.3 513.0L606.6 513.5M631.5 513.0L622.8 513.5M647.8 513.0L639.0 513.5M664.0 513.0L655.2 513.5M680.2 513.0L671.4 513.5M696.4 513.0L687.6 513.5M712.7 513.0L703.7 513.6M728.9 513.0L719.9 513.6M420.5 498.0L414.6 495.7M436.8 498.0L430.5 496.0M453.0 498.0L446.4 496.2M469.2 498.0L462.3 496.5M485.5 498.0L477.9 497.3M501.7 498.0L493.7 498.0M517.9 498.0L509.6 498.6M534.1 498.0L525.7 498.8M550.4 498.0L541.9 498.8M566.6 498.0L558.1 498.8M582.8 498.0L574.3 498.8M599.1 498.0L590.4 498.8M615.3 498.0L606.6 498.7M631.5 498.0L622.8 498.6M647.8 498.0L639.0 498.6M664.0 498.0L655.2 498.5M680.2 498.0L671.4 498.6M696.4 498.0L687.6 498.6M712.7 498.0L703.7 498.6M728.9 498.0L719.9 498.6M420.5 483.1L418.4 479.9M436.8 483.1L434.4 479.9M453.0 483.1L450.5 479.9M469.2 483.1L466.5 479.8M485.5 483.1L482.0 479.8M501.7 483.1L497.3 480.0M517.9 483.1L512.6 480.4M534.1 483.1L527.9 480.9M550.4 483.1L543.0 482.0M566.6 483.1L558.5 483.1M582.8 483.1L574.3 483.9M599.1 483.1L590.5 484.0M615.3 483.1L606.7 484.0M631.5 483.1L622.8 483.9M647.8 483.1L639.0 483.9M664.0 483.1L655.2 483.8M680.2 483.1L671.4 483.7M696.4 483.1L687.6 483.7M712.7 483.1L703.7 483.6M728.9 483.1L719.9 483.6M420.5 468.1L418.8 465.1M436.8 468.1L435.0 465.1M453.0 468.1L451.2 465.1M469.2 468.1L467.5 465.1M485.5 468.1L483.7 465.1M501.7 468.1L499.9 465.1M517.9 468.1L516.1 465.0M534.1 468.1L531.9 464.9M550.4 468.1L547.3 464.8M566.6 468.1L562.4 465.0M582.8 468.1L577.2 465.5M599.1 468.1L592.2 466.5M615.3 468.1L607.3 468.0M631.5 468.1L622.9 469.1M647.8 468.1L639.0 469.2M664.0 468.1L655.2 469.1M680.2 468.1L671.4 469.1M696.4 468.1L687.6 469.0M712.7 468.1L703.8 469.0M728.9 468.1L719.9 468.9M420.5 453.1L418.8 450.1M436.8 453.1L435.0 450.1M453.0 453.1L451.2 450.1M469.2 453.1L467.5 450.1M485.5 453.1L483.7 450.1M501.7 453.1L499.9 450.1M517.9 453.1L516.2 450.1M534.1 453.1L532.4 450.1M550.4 453.1L548.6 450.1M566.6 453.1L564.9 450.1M582.8 453.1L580.9 450.0M599.1 453.1L596.5 449.9M615.3 453.1L611.4 449.9M631.5 453.1L625.9 450.6M647.8 453.1L640.6 451.9M664.0 453.1L655.7 453.4M680.2 453.1L671.5 454.3M696.4 453.1L687.6 454.4M712.7 453.1L703.8 454.4M728.9 453.1L720.0 454.3M420.5 438.1L418.8 435.1M436.8 438.1L435.0 435.1M453.0 438.1L451.2 435.1M469.2 438.1L467.5 435.1M485.5 438.1L483.7 435.1M501.7 438.1L499.9 435.1M517.9 438.1L516.2 435.1M534.1 438.1L532.4 435.1M550.4 438.1L548.6 435.1M566.6 438.1L564.9 435.1M582.8 438.1L581.1 435.1M599.1 438.1L597.3 435.1M615.3 438.1L613.5 435.1M631.5 438.1L629.6 435.1M647.8 438.1L645.0 434.9M664.0 438.1L659.8 435.0M680.2 438.1L674.5 435.6M696.4 438.1L689.3 436.8M712.7 438.1L704.5 438.1M728.9 438.1L720.2 439.3M420.5 423.2L418.9 420.3M436.8 423.2L435.1 420.3M453.0 423.2L451.3 420.3M469.2 423.2L467.5 420.3M485.5 423.2L483.8 420.3M501.7 423.2L500.0 420.3M517.9 423.2L516.2 420.3M534.1 423.2L532.5 420.3M550.4 423.2L548.7 420.3M566.6 423.2L564.9 420.3M582.8 423.2L581.2 420.3M599.1 423.2L597.4 420.3M615.3 423.2L613.6 420.3M631.5 423.2L629.8 420.3M647.8 423.2L646.1 420.3M664.0 423.2L662.3 420.3M680.2 423.2L678.4 420.2M696.4 423.2L693.9 420.0M712.7 423.2L709.0 420.0M728.9 423.2L723.7 420.5M420.5 408.2L418.9 405.4M436.8 408.2L435.2 405.4M453.0 408.2L451.4 405.4M469.2 408.2L467.6 405.4M485.5 408.2L483.8 405.4M501.7 408.2L500.1 405.4M517.9 408.2L516.3 405.4M534.1 408.2L532.5 405.4M550.4 408.2L548.8 405.4M566.6 408.2L565.0 405.4M582.8 408.2L581.2 405.4M599.1 408.2L597.5 405.4M615.3 408.2L613.7 405.4M631.5 408.2L629.9 405.4M647.8 408.2L646.1 405.4M664.0 408.2L662.4 405.4M680.2 408.2L678.6 405.4M696.4 408.2L694.8 405.4M712.7 408.2L711.1 405.4M728.9 408.2L727.2 405.4M420.5 393.2L419.0 390.6M436.8 393.2L435.2 390.6M453.0 393.2L451.4 390.6M469.2 393.2L467.7 390.6M485.5 393.2L483.9 390.6M501.7 393.2L500.1 390.6M517.9 393.2L516.4 390.6M534.1 393.2L532.6 390.6M550.4 393.2L548.8 390.6M566.6 393.2L565.1 390.6M582.8 393.2L581.3 390.6M599.1 393.2L597.5 390.6M615.3 393.2L613.7 390.6M631.5 393.2L630.0 390.6M647.8 393.2L646.2 390.6M664.0 393.2L662.4 390.6M680.2 393.2L678.7 390.6M696.4 393.2L694.9 390.6M712.7 393.2L711.1 390.6M728.9 393.2L727.4 390.6M420.5 378.2L419.1 375.7M436.8 378.2L435.3 375.7M453.0 378.2L451.5 375.7M469.2 378.2L467.7 375.7M485.5 378.2L484.0 375.7M501.7 378.2L500.2 375.7M517.9 378.2L516.4 375.7M534.1 378.2L532.7 375.7M550.4 378.2L548.9 375.7M566.6 378.2L565.1 375.7M582.8 378.2L581.4 375.7M599.1 378.2L597.6 375.7M615.3 378.2L613.8 375.7M631.5 378.2L630.0 375.7M647.8 378.2L646.3 375.7M664.0 378.2L662.5 375.7M680.2 378.2L678.7 375.7M696.4 378.2L695.0 375.7M712.7 378.2L711.2 375.7M728.9 378.2L727.4 375.7M420.5 363.3L419.1 360.8M436.8 363.3L435.4 360.8M453.0 363.3L451.6 360.8M469.2 363.3L467.8 360.8M485.5 363.3L484.0 360.8M501.7 363.3L500.3 360.8M517.9 363.3L516.5 360.8M534.1 363.3L532.7 360.8M550.4 363.3L549.0 360.8M566.6 363.3L565.2 360.8M582.8 363.3L581.4 360.8M599.1 363.3L597.7 360.8M615.3 363.3L613.9 360.8M631.5 363.3L630.1 360.8M647.8 363.3L646.3 360.8M664.0 363.3L662.6 360.8M680.2 363.3L678.8 360.8M696.4 363.3L695.0 360.8M712.7 363.3L711.3 360.8M728.9 363.3L727.5 360.8M420.5 348.3L419.2 346.0M436.8 348.3L435.4 346.0M453.0 348.3L451.6 346.0M469.2 348.3L467.9 346.0M485.5 348.3L484.1 346.0M501.7 348.3L500.3 346.0M517.9 348.3L516.6 346.0M534.1 348.3L532.8 346.0M550.4 348.3L549.0 346.0M566.6 348.3L565.3 346.0M582.8 348.3L581.5 346.0M599.1 348.3L597.7 346.0M615.3 348.3L613.9 346.0M631.5 348.3L630.2 346.0M647.8 348.3L646.4 346.0M664.0 348.3L662.6 346.0M680.2 348.3L678.9 346.0M696.4 348.3L695.1 346.0M712.7 348.3L711.3 346.0M728.9 348.3L727.6 346.0M420.5 333.3L419.3 331.1M436.8 333.3L435.5 331.1M453.0 333.3L451.7 331.1M469.2 333.3L467.9 331.1M485.5 333.3L484.2 331.1M501.7 333.3L500.4 331.1M517.9 333.3L516.6 331.1M534.1 333.3L532.9 331.1M550.4 333.3L549.1 331.1M566.6 333.3L565.3 331.1M582.8 333.3L581.6 331.1M599.1 333.3L597.8 331.1M615.3 333.3L614.0 331.1M631.5 333.3L630.2 331.1M647.8 333.3L646.5 331.1M664.0 333.3L662.7 331.1M680.2 333.3L678.9 331.1M696.4 333.3L695.2 331.1M712.7 333.3L711.4 331.1M728.9 333.3L727.6 331.1M420.5 318.3L419.3 316.3M436.8 318.3L435.5 316.3M453.0 318.3L451.8 316.3M469.2 318.3L468.0 316.3M485.5 318.3L484.2 316.3M501.7 318.3L500.5 316.3M517.9 318.3L516.7 316.3M534.1 318.3L532.9 316.3M550.4 318.3L549.2 316.3M566.6 318.3L565.4 316.3M582.8 318.3L581.6 316.3M599.1 318.3L597.8 316.3M615.3 318.3L614.1 316.3M631.5 318.3L630.3 316.3M647.8 318.3L646.5 316.3M664.0 318.3L662.8 316.3M680.2 318.3L679.0 316.3M696.4 318.3L695.2 316.3M712.7 318.3L711.5 316.3M728.9 318.3L727.7 316.3M420.5 303.4L419.4 301.4M436.8 303.4L435.6 301.4M453.0 303.4L451.8 301.4M469.2 303.4L468.1 301.4M485.5 303.4L484.3 301.4M501.7 303.4L500.5 301.4M517.9 303.4L516.8 301.4M534.1 303.4L533.0 301.4M550.4 303.4L549.2 301.4M566.6 303.4L565.5 301.4M582.8 303.4L581.7 301.4M599.1 303.4L597.9 301.4M615.3 303.4L614.1 301.4M631.5 303.4L630.4 301.4M647.8 303.4L646.6 301.4M664.0 303.4L662.8 301.4M680.2 303.4L679.1 301.4M696.4 303.4L695.3 301.4M712.7 303.4L711.5 301.4M728.9 303.4L727.8 301.4" stroke="#140f0f" stroke-width="1.75" fill="none"/>
<path d="M406.5 513.6L412.3 510.9L412.5 515.9zM422.6 513.7L428.4 510.9L428.7 515.9zM438.8 513.8L444.6 511.0L444.9 516.0zM454.9 513.9L460.8 511.0L461.1 516.0zM471.1 513.9L477.0 511.0L477.3 516.0zM487.3 514.0L493.2 511.1L493.5 516.1zM503.4 514.0L509.3 511.1L509.7 516.1zM519.6 514.0L525.5 511.1L525.9 516.1zM535.7 514.0L541.7 511.1L542.0 516.1zM551.9 514.0L557.9 511.1L558.2 516.1zM568.0 513.9L574.1 511.1L574.4 516.0zM584.2 513.9L590.3 511.0L590.6 516.0zM600.3 513.8L606.5 511.0L606.7 516.0zM616.5 513.8L622.7 511.0L622.9 516.0zM632.6 513.8L638.9 511.0L639.1 516.0zM648.8 513.9L655.0 511.0L655.3 516.0zM665.0 513.9L671.2 511.0L671.5 516.0zM681.1 513.9L687.4 511.0L687.7 516.0zM697.3 513.9L703.6 511.1L703.9 516.1zM713.4 514.0L719.8 511.1L720.1 516.1zM410.3 494.0L415.4 493.6L413.8 497.8zM426.0 494.4L431.2 493.7L429.8 498.2zM441.7 494.9L447.1 493.9L445.8 498.5zM457.4 495.4L462.9 494.1L461.8 498.9zM472.5 496.7L478.2 494.8L477.7 499.8zM487.9 498.0L493.7 495.5L493.6 500.5zM503.6 498.9L509.4 496.1L509.7 501.0zM519.6 499.3L525.5 496.3L525.9 501.3zM535.8 499.3L541.7 496.3L542.1 501.3zM551.9 499.3L557.9 496.3L558.3 501.3zM568.1 499.3L574.1 496.3L574.5 501.3zM584.2 499.3L590.2 496.3L590.7 501.2zM600.4 499.2L606.4 496.2L606.8 501.2zM616.5 499.1L622.6 496.2L623.0 501.1zM632.7 498.9L638.8 496.1L639.1 501.1zM648.8 498.9L655.0 496.0L655.3 501.0zM665.0 498.9L671.2 496.1L671.5 501.1zM681.1 498.9L687.4 496.1L687.7 501.1zM697.3 499.0L703.6 496.1L703.9 501.1zM713.4 499.0L719.8 496.1L720.1 501.1zM416.8 477.7L419.6 479.1L417.1 480.8zM432.8 477.6L435.7 479.0L433.2 480.8zM448.7 477.5L451.7 478.9L449.2 480.8zM464.5 477.5L467.8 478.8L465.2 480.9zM479.5 477.5L483.2 478.5L480.8 481.1zM494.2 477.8L498.5 478.4L496.2 481.6zM508.8 478.4L513.6 478.4L511.6 482.3zM523.4 479.4L528.7 478.7L527.1 483.1zM537.7 481.3L543.4 479.5L542.7 484.5zM552.6 483.2L558.5 480.6L558.5 485.6zM568.2 484.5L574.1 481.4L574.6 486.4zM584.2 484.7L590.2 481.5L590.7 486.5zM600.4 484.6L606.4 481.5L606.9 486.5zM616.5 484.6L622.6 481.5L623.1 486.4zM632.7 484.5L638.8 481.4L639.2 486.4zM648.8 484.3L655.0 481.3L655.4 486.3zM665.0 484.2L671.2 481.3L671.6 486.2zM681.1 484.1L687.4 481.2L687.7 486.2zM697.3 484.0L703.6 481.1L703.9 486.1zM713.4 484.0L719.8 481.1L720.1 486.1zM417.5 462.9L420.0 464.4L417.6 465.8zM433.8 462.9L436.2 464.4L433.8 465.8zM450.0 462.9L452.5 464.4L450.0 465.8zM466.2 462.9L468.7 464.4L466.3 465.8zM482.5 462.9L484.9 464.4L482.5 465.8zM498.7 462.9L501.2 464.4L498.7 465.8zM514.7 462.8L517.3 464.3L514.8 465.8zM530.3 462.7L533.2 464.1L530.7 465.8zM545.1 462.5L548.6 463.7L546.1 466.0zM559.3 462.7L563.5 463.4L561.2 466.6zM573.2 463.7L578.1 463.5L576.3 467.6zM587.2 465.4L592.7 464.1L591.6 468.9zM601.4 467.9L607.3 465.5L607.2 470.5zM616.7 469.7L622.7 466.6L623.2 471.5zM632.7 470.0L638.7 466.7L639.4 471.7zM648.9 469.9L654.9 466.7L655.5 471.6zM665.0 469.8L671.1 466.6L671.7 471.6zM681.2 469.7L687.3 466.6L687.9 471.5zM697.3 469.6L703.5 466.5L704.0 471.5zM713.5 469.5L719.7 466.4L720.2 471.4zM417.5 447.9L420.0 449.4L417.6 450.8zM433.8 447.9L436.2 449.4L433.8 450.8zM450.0 447.9L452.5 449.4L450.0 450.8zM466.2 447.9L468.7 449.4L466.3 450.8zM482.5 447.9L484.9 449.4L482.5 450.8zM498.7 447.9L501.2 449.4L498.7 450.8zM514.9 447.9L517.4 449.4L514.9 450.8zM531.1 447.9L533.6 449.4L531.2 450.8zM547.4 447.9L549.9 449.4L547.4 450.8zM563.6 447.9L566.1 449.4L563.6 450.8zM579.5 447.8L582.2 449.3L579.7 450.8zM594.7 447.6L597.8 448.9L595.3 450.9zM608.6 447.6L612.6 448.5L610.2 451.4zM621.8 448.7L626.8 448.6L625.0 452.6zM635.3 450.9L641.0 449.4L640.1 454.3zM649.7 453.5L655.7 450.9L655.8 455.9zM665.2 455.1L671.2 451.8L671.8 456.7zM681.3 455.3L687.3 451.9L688.0 456.9zM697.4 455.3L703.5 451.9L704.2 456.8zM713.5 455.1L719.7 451.8L720.3 456.8zM417.5 433.0L420.0 434.4L417.6 435.8zM433.8 433.0L436.2 434.4L433.8 435.8zM450.0 433.0L452.5 434.4L450.0 435.8zM466.2 433.0L468.7 434.4L466.3 435.8zM482.5 433.0L484.9 434.4L482.5 435.8zM498.7 433.0L501.2 434.4L498.7 435.8zM514.9 433.0L517.4 434.4L514.9 435.8zM531.1 433.0L533.6 434.4L531.2 435.8zM547.4 433.0L549.9 434.4L547.4 435.8zM563.6 433.0L566.1 434.4L563.6 435.8zM579.8 433.0L582.3 434.4L579.9 435.8zM596.1 433.0L598.5 434.4L596.1 435.8zM612.3 433.0L614.8 434.4L612.3 435.8zM628.3 432.9L630.9 434.3L628.4 435.8zM643.1 432.6L646.3 433.9L643.8 436.0zM656.8 432.8L660.9 433.5L658.6 436.6zM670.4 433.8L675.4 433.6L673.6 437.7zM684.2 435.8L689.8 434.3L688.8 439.2zM698.6 438.1L704.5 435.6L704.5 440.6zM713.9 440.1L719.9 436.8L720.5 441.8zM417.6 418.2L420.1 419.6L417.7 421.0zM433.9 418.2L436.3 419.6L433.9 421.0zM450.1 418.2L452.5 419.6L450.1 421.0zM466.3 418.2L468.7 419.6L466.3 421.0zM482.6 418.2L485.0 419.6L482.6 421.0zM498.8 418.2L501.2 419.6L498.8 421.0zM515.0 418.2L517.4 419.6L515.0 421.0zM531.3 418.2L533.7 419.6L531.3 421.0zM547.5 418.2L549.9 419.6L547.5 421.0zM563.7 418.2L566.1 419.6L563.7 421.0zM579.9 418.2L582.4 419.6L580.0 421.0zM596.2 418.2L598.6 419.6L596.2 421.0zM612.4 418.2L614.8 419.6L612.4 421.0zM628.6 418.2L631.0 419.6L628.6 421.0zM644.9 418.2L647.3 419.6L644.9 421.0zM661.1 418.2L663.5 419.6L661.1 421.0zM677.1 418.1L679.6 419.5L677.2 421.0zM692.1 417.8L695.2 419.1L692.7 421.0zM706.3 417.7L710.1 418.6L707.8 421.4zM719.9 418.5L724.6 418.6L722.7 422.4zM417.8 403.4L420.1 404.7L417.8 406.1zM434.0 403.4L436.3 404.7L434.0 406.1zM450.2 403.4L452.5 404.7L450.2 406.1zM466.4 403.4L468.8 404.7L466.4 406.1zM482.7 403.4L485.0 404.7L482.7 406.1zM498.9 403.4L501.2 404.7L498.9 406.1zM515.1 403.4L517.5 404.7L515.1 406.1zM531.4 403.4L533.7 404.7L531.4 406.1zM547.6 403.4L549.9 404.7L547.6 406.1zM563.8 403.4L566.2 404.7L563.8 406.1zM580.1 403.4L582.4 404.7L580.1 406.1zM596.3 403.4L598.6 404.7L596.3 406.1zM612.5 403.4L614.8 404.7L612.5 406.1zM628.7 403.4L631.1 404.7L628.7 406.1zM645.0 403.4L647.3 404.7L645.0 406.1zM661.2 403.4L663.5 404.7L661.2 406.1zM677.4 403.4L679.8 404.7L677.4 406.1zM693.7 403.4L696.0 404.7L693.7 406.1zM709.9 403.4L712.2 404.7L709.9 406.1zM726.0 403.4L728.4 404.7L726.1 406.1zM417.9 388.6L420.1 389.9L417.9 391.2zM434.1 388.6L436.3 389.9L434.1 391.2zM450.3 388.6L452.6 389.9L450.3 391.2zM466.6 388.6L468.8 389.9L466.5 391.2zM482.8 388.6L485.0 389.9L482.8 391.2zM499.0 388.6L501.3 389.9L499.0 391.2zM515.3 388.6L517.5 389.9L515.2 391.2zM531.5 388.6L533.7 389.9L531.5 391.2zM547.7 388.6L550.0 389.9L547.7 391.2zM563.9 388.6L566.2 389.9L563.9 391.2zM580.2 388.6L582.4 389.9L580.2 391.2zM596.4 388.6L598.6 389.9L596.4 391.2zM612.6 388.6L614.9 389.9L612.6 391.2zM628.9 388.6L631.1 389.9L628.8 391.2zM645.1 388.6L647.3 389.9L645.1 391.2zM661.3 388.6L663.6 389.9L661.3 391.2zM677.6 388.6L679.8 389.9L677.5 391.2zM693.8 388.6L696.0 389.9L693.8 391.2zM710.0 388.6L712.3 389.9L710.0 391.2zM726.2 388.6L728.5 389.9L726.2 391.2zM418.0 373.8L420.1 375.1L418.0 376.3zM434.2 373.8L436.4 375.1L434.2 376.3zM450.4 373.8L452.6 375.1L450.4 376.3zM466.7 373.8L468.8 375.1L466.6 376.3zM482.9 373.8L485.1 375.1L482.9 376.3zM499.1 373.8L501.3 375.1L499.1 376.3zM515.4 373.8L517.5 375.1L515.3 376.3zM531.6 373.8L533.8 375.1L531.6 376.3zM547.8 373.8L550.0 375.1L547.8 376.3zM564.1 373.8L566.2 375.1L564.0 376.3zM580.3 373.8L582.4 375.1L580.3 376.3zM596.5 373.8L598.7 375.1L596.5 376.3zM612.7 373.8L614.9 375.1L612.7 376.3zM629.0 373.8L631.1 375.1L628.9 376.3zM645.2 373.8L647.4 375.1L645.2 376.3zM661.4 373.8L663.6 375.1L661.4 376.3zM677.7 373.8L679.8 375.1L677.6 376.3zM693.9 373.8L696.1 375.1L693.9 376.3zM710.1 373.8L712.3 375.1L710.1 376.3zM726.4 373.8L728.5 375.1L726.3 376.3zM418.1 359.1L420.2 360.2L418.1 361.4zM434.3 359.1L436.4 360.2L434.3 361.4zM450.6 359.1L452.6 360.2L450.5 361.4zM466.8 359.1L468.9 360.2L466.7 361.4zM483.0 359.1L485.1 360.2L483.0 361.4zM499.2 359.1L501.3 360.2L499.2 361.4zM515.5 359.1L517.6 360.2L515.4 361.4zM531.7 359.1L533.8 360.2L531.7 361.4zM547.9 359.1L550.0 360.2L547.9 361.4zM564.2 359.1L566.3 360.2L564.1 361.4zM580.4 359.1L582.5 360.2L580.4 361.4zM596.6 359.1L598.7 360.2L596.6 361.4zM612.9 359.1L614.9 360.2L612.8 361.4zM629.1 359.1L631.2 360.2L629.0 361.4zM645.3 359.1L647.4 360.2L645.3 361.4zM661.6 359.1L663.6 360.2L661.5 361.4zM677.8 359.1L679.9 360.2L677.7 361.4zM694.0 359.1L696.1 360.2L694.0 361.4zM710.2 359.1L712.3 360.2L710.2 361.4zM726.5 359.1L728.6 360.2L726.4 361.4zM418.2 344.3L420.2 345.4L418.2 346.6zM434.4 344.3L436.4 345.4L434.4 346.6zM450.7 344.3L452.7 345.4L450.6 346.6zM466.9 344.3L468.9 345.4L466.8 346.6zM483.1 344.3L485.1 345.4L483.1 346.6zM499.4 344.3L501.4 345.4L499.3 346.6zM515.6 344.3L517.6 345.4L515.5 346.6zM531.8 344.3L533.8 345.4L531.8 346.6zM548.1 344.3L550.1 345.4L548.0 346.6zM564.3 344.3L566.3 345.4L564.2 346.6zM580.5 344.3L582.5 345.4L580.5 346.6zM596.7 344.3L598.7 345.4L596.7 346.6zM613.0 344.3L615.0 345.4L612.9 346.6zM629.2 344.3L631.2 345.4L629.1 346.6zM645.4 344.3L647.4 345.4L645.4 346.6zM661.7 344.3L663.7 345.4L661.6 346.6zM677.9 344.3L679.9 345.4L677.8 346.6zM694.1 344.3L696.1 345.4L694.1 346.6zM710.4 344.3L712.4 345.4L710.3 346.6zM726.6 344.3L728.6 345.4L726.5 346.6zM418.3 329.5L420.2 330.5L418.3 331.7zM434.6 329.5L436.5 330.5L434.5 331.7zM450.8 329.5L452.7 330.5L450.7 331.7zM467.0 329.5L468.9 330.5L466.9 331.7zM483.2 329.5L485.2 330.5L483.2 331.7zM499.5 329.5L501.4 330.5L499.4 331.7zM515.7 329.5L517.6 330.5L515.6 331.7zM531.9 329.5L533.9 330.5L531.9 331.7zM548.2 329.5L550.1 330.5L548.1 331.7zM564.4 329.5L566.3 330.5L564.3 331.7zM580.6 329.5L582.5 330.5L580.6 331.7zM596.9 329.5L598.8 330.5L596.8 331.7zM613.1 329.5L615.0 330.5L613.0 331.7zM629.3 329.5L631.2 330.5L629.2 331.7zM645.5 329.5L647.5 330.5L645.5 331.7zM661.8 329.5L663.7 330.5L661.7 331.7zM678.0 329.5L679.9 330.5L677.9 331.7zM694.2 329.5L696.2 330.5L694.2 331.7zM710.5 329.5L712.4 330.5L710.4 331.7zM726.7 329.5L728.6 330.5L726.6 331.7zM418.4 314.7L420.3 315.7L418.4 316.8zM434.7 314.7L436.5 315.7L434.6 316.8zM450.9 314.7L452.7 315.7L450.8 316.8zM467.1 314.7L469.0 315.7L467.0 316.8zM483.4 314.7L485.2 315.7L483.3 316.8zM499.6 314.7L501.4 315.7L499.5 316.8zM515.8 314.7L517.7 315.7L515.7 316.8zM532.1 314.7L533.9 315.7L532.0 316.8zM548.3 314.7L550.1 315.7L548.2 316.8zM564.5 314.7L566.4 315.7L564.4 316.8zM580.7 314.7L582.6 315.7L580.7 316.8zM597.0 314.7L598.8 315.7L596.9 316.8zM613.2 314.7L615.0 315.7L613.1 316.8zM629.4 314.7L631.3 315.7L629.3 316.8zM645.7 314.7L647.5 315.7L645.6 316.8zM661.9 314.7L663.7 315.7L661.8 316.8zM678.1 314.7L680.0 315.7L678.0 316.8zM694.4 314.7L696.2 315.7L694.3 316.8zM710.6 314.7L712.4 315.7L710.5 316.8zM726.8 314.7L728.7 315.7L726.7 316.8zM418.6 300.0L420.3 300.9L418.5 301.9zM434.8 300.0L436.5 300.9L434.7 301.9zM451.0 300.0L452.8 300.9L450.9 301.9zM467.2 300.0L469.0 300.9L467.1 301.9zM483.5 300.0L485.2 300.9L483.4 301.9zM499.7 300.0L501.5 300.9L499.6 301.9zM515.9 300.0L517.7 300.9L515.8 301.9zM532.2 300.0L533.9 300.9L532.1 301.9zM548.4 300.0L550.2 300.9L548.3 301.9zM564.6 300.0L566.4 300.9L564.5 301.9zM580.9 300.0L582.6 300.9L580.8 301.9zM597.1 300.0L598.8 300.9L597.0 301.9zM613.3 300.0L615.1 300.9L613.2 301.9zM629.5 300.0L631.3 300.9L629.4 301.9zM645.8 300.0L647.5 300.9L645.7 301.9zM662.0 300.0L663.8 300.9L661.9 301.9zM678.2 300.0L680.0 300.9L678.1 301.9zM694.5 300.0L696.2 300.9L694.4 301.9zM710.7 300.0L712.5 300.9L710.6 301.9zM726.9 300.0L728.7 300.9L726.8 301.9z" fill="#111"/>
<rect x="413.7" y="294.5" width="13.0" height="12" fill="#fff"/><text x="420.2" y="304.1" text-anchor="middle" font-family="Liberation Sans" font-weight="bold" font-size="10" fill="#111">13</text>
<rect x="493.1" y="291.1" width="13.0" height="12" fill="#fff"/><text x="499.6" y="300.7" text-anchor="middle" font-family="Liberation Sans" font-weight="bold" font-size="10" fill="#111">13</text>
<rect x="416.6" y="327.2" width="13.0" height="12" fill="#fff"/><text x="423.1" y="336.8" text-anchor="middle" font-family="Liberation Sans" font-weight="bold" font-size="10" fill="#111">14</text>
<rect x="486.8" y="310.7" width="13.0" height="12" fill="#fff"/><text x="493.3" y="320.3" text-anchor="middle" font-family="Liberation Sans" font-weight="bold" font-size="10" fill="#111">14</text>
<rect x="618.2" y="291.1" width="13.0" height="12" fill="#fff"/><text x="624.7" y="300.7" text-anchor="middle" font-family="Liberation Sans" font-weight="bold" font-size="10" fill="#111">14</text>
<rect x="426.7" y="351.7" width="13.0" height="12" fill="#fff"/><text x="433.2" y="361.3" text-anchor="middle" font-family="Liberation Sans" font-weight="bold" font-size="10" fill="#111">15</text>
<rect x="579.8" y="335.8" width="13.0" height="12" fill="#fff"/><text x="586.3" y="345.4" text-anchor="middle" font-family="Liberation Sans" font-weight="bold" font-size="10" fill="#111">15</text>
<rect x="689.6" y="393.6" width="13.0" height="12" fill="#fff"/><text x="696.1" y="403.2" text-anchor="middle" font-family="Liberation Sans" font-weight="bold" font-size="10" fill="#111">15</text>
<rect x="410.8" y="398.0" width="13.0" height="12" fill="#fff"/><text x="417.3" y="407.6" text-anchor="middle" font-family="Liberation Sans" font-weight="bold" font-size="10" fill="#111">16</text>
<rect x="702.6" y="451.4" width="13.0" height="12" fill="#fff"/><text x="709.1" y="461.0" text-anchor="middle" font-family="Liberation Sans" font-weight="bold" font-size="10" fill="#111">16</text>
<rect x="415.1" y="424.0" width="13.0" height="12" fill="#fff"/><text x="421.6" y="433.6" text-anchor="middle" font-family="Liberation Sans" font-weight="bold" font-size="10" fill="#111">17</text>
<rect x="676.6" y="480.3" width="13.0" height="12" fill="#fff"/><text x="683.1" y="489.9" text-anchor="middle" font-family="Liberation Sans" font-weight="bold" font-size="10" fill="#111">17</text>
<rect x="413.7" y="492.7" width="13.0" height="12" fill="#fff"/><text x="420.2" y="502.3" text-anchor="middle" font-family="Liberation Sans" font-weight="bold" font-size="10" fill="#111">17</text>
</g>
<rect x="404.3" y="288.4" width="324.6" height="239.6" fill="none" stroke="#3a3a3a" stroke-width="1"/>
<path d="M469.2 528.0v-4M469.2 288.4v4M534.1 528.0v-4M534.1 288.4v4M599.1 528.0v-4M599.1 288.4v4M664.0 528.0v-4M664.0 288.4v4M404.3 348.3h4M728.9 348.3h-4M404.3 408.2h4M728.9 408.2h-4M404.3 468.1h4M728.9 468.1h-4" stroke="#3a3a3a" stroke-width="1"/>
<text x="690.3" y="330.4" font-family="Liberation Serif" font-size="23" fill="#111">(e)</text>
<rect x="688.3" y="475.9" width="33" height="23.5" fill="#fff"/>
<path d="M694.4 482.9h15.8" stroke="#000" stroke-width="2.2"/><path d="M713.2 482.9l-4.5 -2.6v5.2z" fill="#000"/>
<text x="691.3" y="495.9" font-family="Liberation Serif" font-weight="bold" font-size="11" fill="#111">4m/s</text>
<clipPath id="kf"><rect x="770.3" y="288.4" width="324.6" height="239.6"/></clipPath>
<g clip-path="url(#kf)">
<polyline points="770.3,297.1 781.9,301.4 790.5,308.6 805.0,294.2 806.4,288.4" fill="none" stroke="#f0f0f0" stroke-width="1.5" stroke-linejoin="round"/>
<polyline points="862.7,288.4 861.3,297.1 864.2,300.0 868.5,305.7 874.3,294.2 875.7,288.4" fill="none" stroke="#f0f0f0" stroke-width="1.5" stroke-linejoin="round"/>
<polyline points="900.3,292.7 888.7,304.3 900.3,317.3 911.9,305.7 900.3,292.7" fill="none" stroke="#f0f0f0" stroke-width="1.5" stroke-linejoin="round"/>
<polyline points="969.6,288.4 978.3,294.2 983.5,299.4 1001.4,300.0 1027.4,297.1 1041.9,288.4" fill="none" stroke="#f0f0f0" stroke-width="1.5" stroke-linejoin="round"/>
<polyline points="770.3,369.3 787.6,354.8 797.7,347.6 805.0,337.5 819.4,323.1 839.6,321.6 865.6,334.6 883.0,346.2 888.7,363.5 885.9,383.7 891.6,401.1 914.7,404.0 937.9,398.2 949.4,383.7 949.4,363.5 961.0,354.8 975.4,357.7 981.2,372.2 978.3,386.6 985.5,395.3 995.6,401.1 1018.7,398.2 1041.9,380.8 1059.2,363.5 1076.5,360.6 1095.3,349.1" fill="none" stroke="#f0f0f0" stroke-width="1.5" stroke-linejoin="round"/>
<polyline points="770.3,405.4 786.2,404.8 805.0,402.5 822.3,395.3 828.1,409.7 839.6,427.1 865.6,450.2 900.3,445.8 929.2,438.6 958.1,430.0 987.0,424.2 1030.3,417.0 1060.6,419.8 1095.3,412.6" fill="none" stroke="#f0f0f0" stroke-width="1.5" stroke-linejoin="round"/>
<polyline points="770.3,427.1 786.2,430.0 802.1,435.7 810.7,450.2 810.7,467.5 816.5,484.8 842.5,487.7 885.9,479.1 929.2,467.5 972.5,458.8 1015.9,450.2 1060.6,443.0 1095.3,438.6" fill="none" stroke="#f0f0f0" stroke-width="1.5" stroke-linejoin="round"/>
<polyline points="770.3,508.0 836.7,506.5 885.9,497.8 943.6,487.7 1001.4,476.2 1059.2,467.5 1095.3,463.2" fill="none" stroke="#f0f0f0" stroke-width="1.5" stroke-linejoin="round"/>
<polyline points="842.5,528.5 875.7,521.0 914.7,513.7 972.5,503.6 1030.3,496.4 1095.3,490.6" fill="none" stroke="#f0f0f0" stroke-width="1.5" stroke-linejoin="round"/>
<polyline points="943.6,528.5 978.3,523.0 1030.3,519.5 1095.3,515.2" fill="none" stroke="#f0f0f0" stroke-width="1.5" stroke-linejoin="round"/>
<use href="#geo" x="770.3" y="288.4"/>
<path d="M786.5 513.0L779.3 517.0M802.8 513.0L795.5 517.1M819.0 513.0L811.7 517.2M835.2 513.0L827.9 517.3M851.4 513.0L844.1 517.4M867.7 513.0L860.3 517.5M883.9 513.0L876.4 517.5M900.1 513.0L892.6 517.6M916.4 513.0L908.8 517.7M932.6 513.0L924.9 517.7M948.8 513.0L941.0 517.7M965.1 513.0L957.1 517.8M981.3 513.0L973.2 517.9M997.5 513.0L989.3 518.0M1013.8 513.0L1005.5 518.2M1030.0 513.0L1021.6 518.3M1046.2 513.0L1037.7 518.4M1062.4 513.0L1053.8 518.5M1078.7 513.0L1070.0 518.6M1094.9 513.0L1086.1 518.7M786.5 498.0L780.0 502.0M802.8 498.0L796.1 502.1M819.0 498.0L812.2 502.2M835.2 498.0L828.3 502.4M851.4 498.0L844.2 502.5M867.7 498.0L860.4 502.6M883.9 498.0L876.6 502.7M900.1 498.0L892.7 502.8M916.4 498.0L908.9 502.9M932.6 498.0L925.1 503.0M948.8 498.0L941.2 503.0M965.1 498.0L957.2 503.1M981.3 498.0L973.3 503.1M997.5 498.0L989.4 503.1M1013.8 498.0L1005.5 503.2M1030.0 498.0L1021.6 503.3M1046.2 498.0L1037.7 503.4M1062.4 498.0L1053.8 503.5M1078.7 498.0L1070.0 503.6M1094.9 498.0L1086.1 503.8M786.5 483.1L782.3 486.7M802.8 483.1L798.4 486.8M819.0 483.1L814.5 486.9M835.2 483.1L830.5 487.0M851.4 483.1L846.3 487.2M867.7 483.1L862.0 487.4M883.9 483.1L877.8 487.6M900.1 483.1L893.5 487.9M916.4 483.1L909.3 488.1M932.6 483.1L925.2 488.2M948.8 483.1L941.3 488.3M965.1 483.1L957.4 488.4M981.3 483.1L973.5 488.5M997.5 483.1L989.6 488.5M1013.8 483.1L1005.7 488.5M1030.0 483.1L1021.7 488.5M1046.2 483.1L1037.7 488.5M1062.4 483.1L1053.8 488.6M1078.7 483.1L1070.0 488.7M1094.9 483.1L1086.1 488.8M786.5 468.1L783.4 471.5M802.8 468.1L799.6 471.5M819.0 468.1L815.8 471.5M835.2 468.1L832.1 471.5M851.4 468.1L848.2 471.5M867.7 468.1L864.3 471.7M883.9 468.1L880.2 471.8M900.1 468.1L896.0 472.1M916.4 468.1L911.6 472.5M932.6 468.1L927.1 472.8M948.8 468.1L942.6 473.2M965.1 468.1L958.2 473.5M981.3 468.1L973.8 473.8M997.5 468.1L989.9 473.9M1013.8 468.1L1005.9 473.9M1030.0 468.1L1022.0 473.9M1046.2 468.1L1038.1 474.0M1062.4 468.1L1054.1 474.0M1078.7 468.1L1070.1 474.0M1094.9 468.1L1086.2 473.9M786.5 453.1L783.5 456.7M802.8 453.1L799.7 456.7M819.0 453.1L816.0 456.7M835.2 453.1L832.2 456.7M851.4 453.1L848.4 456.7M867.7 453.1L864.7 456.7M883.9 453.1L880.9 456.7M900.1 453.1L897.1 456.7M916.4 453.1L913.3 456.7M932.6 453.1L929.4 456.8M948.8 453.1L945.2 457.1M965.1 453.1L960.8 457.5M981.3 453.1L976.2 458.1M997.5 453.1L991.5 458.6M1013.8 453.1L1006.9 459.0M1030.0 453.1L1022.3 459.4M1046.2 453.1L1038.4 459.4M1062.4 453.1L1054.5 459.5M1078.7 453.1L1070.5 459.5M1094.9 453.1L1086.6 459.5M786.5 438.1L783.7 441.8M802.8 438.1L799.9 441.8M819.0 438.1L816.1 441.8M835.2 438.1L832.4 441.8M851.4 438.1L848.6 441.8M867.7 438.1L864.8 441.8M883.9 438.1L881.1 441.8M900.1 438.1L897.3 441.8M916.4 438.1L913.5 441.8M932.6 438.1L929.7 441.8M948.8 438.1L946.0 441.8M965.1 438.1L962.2 441.8M981.3 438.1L978.3 441.9M997.5 438.1L994.1 442.3M1013.8 438.1L1009.5 442.9M1030.0 438.1L1024.8 443.5M1046.2 438.1L1040.2 444.0M1062.4 438.1L1055.6 444.5M1078.7 438.1L1071.1 445.0M1094.9 438.1L1087.0 445.1M786.5 423.2L783.9 426.8M802.8 423.2L800.2 426.8M819.0 423.2L816.4 426.8M835.2 423.2L832.6 426.8M851.4 423.2L848.9 426.8M867.7 423.2L865.1 426.8M883.9 423.2L881.3 426.8M900.1 423.2L897.5 426.8M916.4 423.2L913.8 426.8M932.6 423.2L930.0 426.8M948.8 423.2L946.2 426.8M965.1 423.2L962.5 426.8M981.3 423.2L978.7 426.8M997.5 423.2L994.9 426.8M1013.8 423.2L1011.2 426.8M1030.0 423.2L1027.2 427.0M1046.2 423.2L1043.0 427.4M1062.4 423.2L1058.6 428.0M1078.7 423.2L1074.0 428.7M1094.9 423.2L1089.4 429.3M786.5 408.2L784.2 411.8M802.8 408.2L800.4 411.8M819.0 408.2L816.7 411.8M835.2 408.2L832.9 411.8M851.4 408.2L849.1 411.8M867.7 408.2L865.3 411.8M883.9 408.2L881.6 411.8M900.1 408.2L897.8 411.8M916.4 408.2L914.0 411.8M932.6 408.2L930.3 411.8M948.8 408.2L946.5 411.8M965.1 408.2L962.7 411.8M981.3 408.2L979.0 411.8M997.5 408.2L995.2 411.8M1013.8 408.2L1011.4 411.8M1030.0 408.2L1027.6 411.8M1046.2 408.2L1043.9 411.8M1062.4 408.2L1060.1 411.8M1078.7 408.2L1076.2 411.9M1094.9 408.2L1092.1 412.3M786.5 393.2L784.4 396.8M802.8 393.2L800.7 396.8M819.0 393.2L816.9 396.8M835.2 393.2L833.1 396.8M851.4 393.2L849.4 396.8M867.7 393.2L865.6 396.8M883.9 393.2L881.8 396.8M900.1 393.2L898.1 396.8M916.4 393.2L914.3 396.8M932.6 393.2L930.5 396.8M948.8 393.2L946.7 396.8M965.1 393.2L963.0 396.8M981.3 393.2L979.2 396.8M997.5 393.2L995.4 396.8M1013.8 393.2L1011.7 396.8M1030.0 393.2L1027.9 396.8M1046.2 393.2L1044.1 396.8M1062.4 393.2L1060.4 396.8M1078.7 393.2L1076.6 396.8M1094.9 393.2L1092.8 396.8M786.5 378.2L784.7 381.7M802.8 378.2L800.9 381.7M819.0 378.2L817.1 381.7M835.2 378.2L833.4 381.7M851.4 378.2L849.6 381.7M867.7 378.2L865.8 381.7M883.9 378.2L882.1 381.7M900.1 378.2L898.3 381.7M916.4 378.2L914.5 381.7M932.6 378.2L930.8 381.7M948.8 378.2L947.0 381.7M965.1 378.2L963.2 381.7M981.3 378.2L979.4 381.7M997.5 378.2L995.7 381.7M1013.8 378.2L1011.9 381.7M1030.0 378.2L1028.1 381.7M1046.2 378.2L1044.4 381.7M1062.4 378.2L1060.6 381.7M1078.7 378.2L1076.8 381.7M1094.9 378.2L1093.1 381.7M786.5 363.3L784.9 366.7M802.8 363.3L801.1 366.7M819.0 363.3L817.4 366.7M835.2 363.3L833.6 366.7M851.4 363.3L849.8 366.7M867.7 363.3L866.1 366.7M883.9 363.3L882.3 366.7M900.1 363.3L898.5 366.7M916.4 363.3L914.8 366.7M932.6 363.3L931.0 366.7M948.8 363.3L947.2 366.7M965.1 363.3L963.4 366.7M981.3 363.3L979.7 366.7M997.5 363.3L995.9 366.7M1013.8 363.3L1012.1 366.7M1030.0 363.3L1028.4 366.7M1046.2 363.3L1044.6 366.7M1062.4 363.3L1060.8 366.7M1078.7 363.3L1077.1 366.7M1094.9 363.3L1093.3 366.7M786.5 348.3L785.1 351.6M802.8 348.3L801.4 351.6M819.0 348.3L817.6 351.6M835.2 348.3L833.8 351.6M851.4 348.3L850.1 351.6M867.7 348.3L866.3 351.6M883.9 348.3L882.5 351.6M900.1 348.3L898.7 351.6M916.4 348.3L915.0 351.6M932.6 348.3L931.2 351.6M948.8 348.3L947.4 351.6M965.1 348.3L963.7 351.6M981.3 348.3L979.9 351.6M997.5 348.3L996.1 351.6M1013.8 348.3L1012.4 351.6M1030.0 348.3L1028.6 351.6M1046.2 348.3L1044.8 351.6M1062.4 348.3L1061.0 351.6M1078.7 348.3L1077.3 351.6M1094.9 348.3L1093.5 351.6M786.5 333.3L785.3 336.5M802.8 333.3L801.6 336.5M819.0 333.3L817.8 336.5M835.2 333.3L834.0 336.5M851.4 333.3L850.3 336.5M867.7 333.3L866.5 336.5M883.9 333.3L882.7 336.5M900.1 333.3L898.9 336.5M916.4 333.3L915.2 336.5M932.6 333.3L931.4 336.5M948.8 333.3L947.6 336.5M965.1 333.3L963.9 336.5M981.3 333.3L980.1 336.5M997.5 333.3L996.3 336.5M1013.8 333.3L1012.6 336.5M1030.0 333.3L1028.8 336.5M1046.2 333.3L1045.0 336.5M1062.4 333.3L1061.2 336.5M1078.7 333.3L1077.5 336.5M1094.9 333.3L1093.7 336.5M786.5 318.3L785.5 321.4M802.8 318.3L801.8 321.4M819.0 318.3L818.0 321.4M835.2 318.3L834.2 321.4M851.4 318.3L850.5 321.4M867.7 318.3L866.7 321.4M883.9 318.3L882.9 321.4M900.1 318.3L899.1 321.4M916.4 318.3L915.4 321.4M932.6 318.3L931.6 321.4M948.8 318.3L947.8 321.4M965.1 318.3L964.1 321.4M981.3 318.3L980.3 321.4M997.5 318.3L996.5 321.4M1013.8 318.3L1012.8 321.4M1030.0 318.3L1029.0 321.4M1046.2 318.3L1045.2 321.4M1062.4 318.3L1061.4 321.4M1078.7 318.3L1077.7 321.4M1094.9 318.3L1093.9 321.4M786.5 303.4L785.7 306.3M802.8 303.4L801.9 306.3M819.0 303.4L818.2 306.3M835.2 303.4L834.4 306.3M851.4 303.4L850.6 306.3M867.7 303.4L866.9 306.3M883.9 303.4L883.1 306.3M900.1 303.4L899.3 306.3M916.4 303.4L915.6 306.3M932.6 303.4L931.8 306.3M948.8 303.4L948.0 306.3M965.1 303.4L964.2 306.3M981.3 303.4L980.5 306.3M997.5 303.4L996.7 306.3M1013.8 303.4L1012.9 306.3M1030.0 303.4L1029.2 306.3M1046.2 303.4L1045.4 306.3M1062.4 303.4L1061.6 306.3M1078.7 303.4L1077.9 306.3M1094.9 303.4L1094.1 306.3" stroke="#140f0f" stroke-width="1.75" fill="none"/>
<path d="M774.1 519.8L778.1 514.8L780.5 519.1zM790.3 520.0L794.3 514.9L796.7 519.3zM806.4 520.2L810.5 515.0L813.0 519.4zM822.6 520.4L826.6 515.1L829.2 519.5zM838.8 520.5L842.8 515.2L845.4 519.5zM854.9 520.7L859.0 515.3L861.6 519.6zM871.0 520.8L875.1 515.4L877.7 519.7zM887.2 520.9L891.3 515.5L893.9 519.7zM903.3 521.0L907.5 515.5L910.1 519.8zM919.3 521.0L923.6 515.5L926.2 519.8zM935.4 521.1L939.7 515.6L942.3 519.9zM951.5 521.2L955.8 515.7L958.4 520.0zM967.7 521.3L971.9 515.8L974.5 520.1zM983.8 521.4L988.0 515.9L990.6 520.2zM999.9 521.6L1004.1 516.0L1006.8 520.3zM1016.1 521.7L1020.3 516.2L1022.9 520.4zM1032.2 521.9L1036.4 516.3L1039.0 520.5zM1048.4 522.0L1052.5 516.4L1055.2 520.6zM1064.5 522.1L1068.6 516.5L1071.3 520.7zM1080.6 522.3L1084.7 516.6L1087.5 520.8zM775.2 504.8L778.7 499.8L781.3 504.1zM791.2 505.0L794.8 500.0L797.4 504.2zM807.2 505.3L810.9 500.1L813.5 504.4zM823.2 505.5L826.9 500.2L829.6 504.5zM839.0 505.8L842.9 500.4L845.6 504.6zM855.1 506.0L859.0 500.5L861.7 504.8zM871.2 506.1L875.2 500.6L877.9 504.9zM887.4 506.3L891.4 500.7L894.1 504.9zM903.5 506.4L907.5 500.8L910.3 505.0zM919.6 506.5L923.7 500.9L926.4 505.1zM935.7 506.6L939.8 500.9L942.5 505.1zM951.8 506.6L955.9 501.0L958.6 505.2zM967.8 506.6L972.0 501.0L974.6 505.2zM983.8 506.5L988.0 501.0L990.7 505.2zM999.9 506.6L1004.1 501.1L1006.8 505.3zM1016.1 506.7L1020.3 501.2L1022.9 505.4zM1032.2 506.9L1036.4 501.3L1039.0 505.5zM1048.4 507.0L1052.5 501.4L1055.2 505.6zM1064.5 507.2L1068.6 501.5L1071.3 505.8zM1080.6 507.3L1084.7 501.7L1087.5 505.9zM779.3 489.3L781.0 485.1L783.6 488.2zM795.2 489.4L797.1 485.2L799.7 488.3zM811.2 489.6L813.1 485.2L815.8 488.5zM827.2 489.8L829.1 485.3L831.9 488.6zM842.6 490.2L844.8 485.4L847.7 489.0zM857.9 490.6L860.5 485.4L863.5 489.4zM873.3 491.0L876.3 485.6L879.2 489.7zM888.7 491.3L892.1 485.8L895.0 489.9zM904.1 491.7L907.8 486.0L910.7 490.1zM919.9 491.9L923.8 486.2L926.7 490.3zM936.0 492.1L939.9 486.3L942.8 490.4zM952.1 492.1L956.0 486.4L958.9 490.5zM968.2 492.2L972.1 486.4L975.0 490.5zM984.2 492.2L988.2 486.4L991.0 490.6zM1000.3 492.1L1004.3 486.4L1007.0 490.6zM1016.3 492.1L1020.3 486.4L1023.1 490.6zM1032.3 492.0L1036.4 486.4L1039.1 490.6zM1048.4 492.0L1052.5 486.4L1055.2 490.7zM1064.5 492.2L1068.6 486.6L1071.3 490.8zM1080.6 492.3L1084.7 486.7L1087.5 490.9zM781.1 474.0L782.1 470.3L784.7 472.7zM797.3 474.0L798.3 470.3L800.9 472.7zM813.5 474.0L814.5 470.3L817.1 472.7zM829.8 474.0L830.8 470.3L833.3 472.7zM845.9 474.0L846.9 470.3L849.5 472.8zM861.8 474.2L862.9 470.4L865.6 472.9zM877.5 474.5L878.8 470.5L881.6 473.2zM893.1 475.0L894.6 470.6L897.5 473.6zM908.2 475.6L910.1 470.8L913.2 474.1zM923.2 476.3L925.5 471.0L928.8 474.7zM938.1 476.9L941.0 471.3L944.2 475.1zM953.3 477.4L956.7 471.5L959.8 475.5zM968.7 477.7L972.3 471.8L975.3 475.8zM984.7 477.8L988.3 471.9L991.4 475.9zM1000.7 477.8L1004.4 471.9L1007.4 475.9zM1016.7 477.8L1020.5 471.9L1023.5 476.0zM1032.8 477.8L1036.6 471.9L1039.5 476.0zM1048.8 477.7L1052.7 471.9L1055.5 476.0zM1064.8 477.7L1068.7 471.9L1071.6 476.0zM1080.8 477.5L1084.8 471.9L1087.6 476.0zM781.3 459.2L782.2 455.5L784.9 457.8zM797.6 459.2L798.4 455.5L801.1 457.8zM813.8 459.2L814.6 455.5L817.3 457.8zM830.0 459.2L830.9 455.5L833.5 457.8zM846.3 459.2L847.1 455.5L849.8 457.8zM862.5 459.2L863.3 455.5L866.0 457.8zM878.7 459.2L879.6 455.5L882.2 457.8zM894.9 459.2L895.8 455.5L898.5 457.8zM911.2 459.2L912.0 455.5L914.7 457.8zM927.0 459.5L928.0 455.6L930.8 458.0zM942.5 460.0L943.7 455.8L946.7 458.5zM957.8 460.8L959.2 456.0L962.4 459.1zM972.4 461.7L974.4 456.3L977.9 459.9zM987.1 462.6L989.8 456.7L993.1 460.5zM1001.9 463.2L1005.2 457.1L1008.5 460.9zM1017.3 463.5L1020.8 457.4L1023.9 461.3zM1033.3 463.5L1036.8 457.5L1040.0 461.4zM1049.4 463.5L1052.9 457.5L1056.0 461.4zM1065.4 463.5L1069.0 457.5L1072.1 461.5zM1081.4 463.5L1085.0 457.5L1088.1 461.5zM781.6 444.5L782.3 440.7L785.1 442.9zM797.8 444.5L798.5 440.7L801.3 442.9zM814.1 444.5L814.7 440.7L817.5 442.9zM830.3 444.5L831.0 440.7L833.8 442.9zM846.5 444.5L847.2 440.7L850.0 442.9zM862.8 444.5L863.4 440.7L866.2 442.9zM879.0 444.5L879.7 440.7L882.4 442.9zM895.2 444.5L895.9 440.7L898.7 442.9zM911.4 444.5L912.1 440.7L914.9 442.9zM927.7 444.5L928.4 440.7L931.1 442.9zM943.9 444.5L944.6 440.7L947.4 442.9zM960.1 444.5L960.8 440.7L963.6 442.9zM976.1 444.6L976.9 440.8L979.7 443.0zM991.6 445.3L992.5 441.1L995.6 443.6zM1006.5 446.4L1007.8 441.4L1011.2 444.4zM1021.1 447.4L1023.0 441.8L1026.7 445.3zM1035.9 448.3L1038.5 442.2L1042.0 445.8zM1050.9 448.9L1053.9 442.7L1057.3 446.3zM1066.2 449.3L1069.4 443.1L1072.7 446.8zM1082.1 449.4L1085.4 443.2L1088.7 447.0zM782.1 429.4L782.5 425.8L785.3 427.8zM798.3 429.4L798.8 425.8L801.6 427.8zM814.5 429.4L815.0 425.8L817.8 427.8zM830.8 429.4L831.2 425.8L834.0 427.8zM847.0 429.4L847.5 425.8L850.2 427.8zM863.2 429.4L863.7 425.8L866.5 427.8zM879.4 429.4L879.9 425.8L882.7 427.8zM895.7 429.4L896.2 425.8L898.9 427.8zM911.9 429.4L912.4 425.8L915.2 427.8zM928.1 429.4L928.6 425.8L931.4 427.8zM944.4 429.4L944.8 425.8L947.6 427.8zM960.6 429.4L961.1 425.8L963.9 427.8zM976.8 429.4L977.3 425.8L980.1 427.8zM993.1 429.4L993.5 425.8L996.3 427.8zM1009.3 429.4L1009.8 425.8L1012.5 427.8zM1025.2 429.7L1025.8 425.9L1028.7 428.0zM1040.7 430.5L1041.4 426.2L1044.6 428.6zM1055.8 431.5L1056.9 426.6L1060.3 429.4zM1070.7 432.6L1072.1 427.0L1075.9 430.3zM1085.4 433.7L1087.5 427.6L1091.2 430.9zM782.5 414.4L782.8 410.9L785.6 412.7zM798.7 414.4L799.0 410.9L801.8 412.7zM815.0 414.4L815.3 410.9L818.0 412.7zM831.2 414.4L831.5 410.9L834.3 412.7zM847.4 414.4L847.7 410.9L850.5 412.7zM863.7 414.4L864.0 410.9L866.7 412.7zM879.9 414.4L880.2 410.9L883.0 412.7zM896.1 414.4L896.4 410.9L899.2 412.7zM912.3 414.4L912.6 410.9L915.4 412.7zM928.6 414.4L928.9 410.9L931.7 412.7zM944.8 414.4L945.1 410.9L947.9 412.7zM961.0 414.4L961.3 410.9L964.1 412.7zM977.3 414.4L977.6 410.9L980.3 412.7zM993.5 414.4L993.8 410.9L996.6 412.7zM1009.7 414.4L1010.0 410.9L1012.8 412.7zM1026.0 414.4L1026.3 410.9L1029.0 412.7zM1042.2 414.4L1042.5 410.9L1045.3 412.7zM1058.4 414.4L1058.7 410.9L1061.5 412.7zM1074.5 414.6L1074.8 411.0L1077.7 412.8zM1090.1 415.3L1090.6 411.3L1093.7 413.3zM782.9 399.3L783.1 396.0L785.8 397.6zM799.2 399.3L799.3 396.0L802.1 397.6zM815.4 399.3L815.5 396.0L818.3 397.6zM831.6 399.3L831.8 396.0L834.5 397.6zM847.9 399.3L848.0 396.0L850.7 397.6zM864.1 399.3L864.2 396.0L867.0 397.6zM880.3 399.3L880.4 396.0L883.2 397.6zM896.5 399.3L896.7 396.0L899.4 397.6zM912.8 399.3L912.9 396.0L915.7 397.6zM929.0 399.3L929.1 396.0L931.9 397.6zM945.2 399.3L945.4 396.0L948.1 397.6zM961.5 399.3L961.6 396.0L964.4 397.6zM977.7 399.3L977.8 396.0L980.6 397.6zM993.9 399.3L994.1 396.0L996.8 397.6zM1010.2 399.3L1010.3 396.0L1013.0 397.6zM1026.4 399.3L1026.5 396.0L1029.3 397.6zM1042.6 399.3L1042.7 396.0L1045.5 397.6zM1058.8 399.3L1059.0 396.0L1061.7 397.6zM1075.1 399.3L1075.2 396.0L1078.0 397.6zM1091.3 399.3L1091.4 396.0L1094.2 397.6zM783.3 384.2L783.3 381.0L786.1 382.5zM799.6 384.2L799.5 381.0L802.3 382.5zM815.8 384.2L815.8 381.0L818.5 382.5zM832.0 384.2L832.0 381.0L834.7 382.5zM848.3 384.2L848.2 381.0L851.0 382.5zM864.5 384.2L864.5 381.0L867.2 382.5zM880.7 384.2L880.7 381.0L883.4 382.5zM897.0 384.2L896.9 381.0L899.7 382.5zM913.2 384.2L913.2 381.0L915.9 382.5zM929.4 384.2L929.4 381.0L932.1 382.5zM945.6 384.2L945.6 381.0L948.4 382.5zM961.9 384.2L961.8 381.0L964.6 382.5zM978.1 384.2L978.1 381.0L980.8 382.5zM994.3 384.2L994.3 381.0L997.0 382.5zM1010.6 384.2L1010.5 381.0L1013.3 382.5zM1026.8 384.2L1026.8 381.0L1029.5 382.5zM1043.0 384.2L1043.0 381.0L1045.7 382.5zM1059.3 384.2L1059.2 381.0L1062.0 382.5zM1075.5 384.2L1075.5 381.0L1078.2 382.5zM1091.7 384.2L1091.7 381.0L1094.4 382.5zM783.7 369.1L783.6 366.0L786.3 367.3zM800.0 369.1L799.8 366.0L802.5 367.3zM816.2 369.1L816.0 366.0L818.7 367.3zM832.4 369.1L832.2 366.0L835.0 367.3zM848.7 369.1L848.5 366.0L851.2 367.3zM864.9 369.1L864.7 366.0L867.4 367.3zM881.1 369.1L880.9 366.0L883.6 367.3zM897.4 369.1L897.2 366.0L899.9 367.3zM913.6 369.1L913.4 366.0L916.1 367.3zM929.8 369.1L929.6 366.0L932.3 367.3zM946.0 369.1L945.9 366.0L948.6 367.3zM962.3 369.1L962.1 366.0L964.8 367.3zM978.5 369.1L978.3 366.0L981.0 367.3zM994.7 369.1L994.5 366.0L997.3 367.3zM1011.0 369.1L1010.8 366.0L1013.5 367.3zM1027.2 369.1L1027.0 366.0L1029.7 367.3zM1043.4 369.1L1043.2 366.0L1045.9 367.3zM1059.7 369.1L1059.5 366.0L1062.2 367.3zM1075.9 369.1L1075.7 366.0L1078.4 367.3zM1092.1 369.1L1091.9 366.0L1094.6 367.3zM784.1 354.0L783.8 351.0L786.5 352.2zM800.3 354.0L800.0 351.0L802.7 352.2zM816.6 354.0L816.3 351.0L818.9 352.2zM832.8 354.0L832.5 351.0L835.2 352.2zM849.0 354.0L848.7 351.0L851.4 352.2zM865.3 354.0L864.9 351.0L867.6 352.2zM881.5 354.0L881.2 351.0L883.8 352.2zM897.7 354.0L897.4 351.0L900.1 352.2zM914.0 354.0L913.6 351.0L916.3 352.2zM930.2 354.0L929.9 351.0L932.5 352.2zM946.4 354.0L946.1 351.0L948.8 352.2zM962.6 354.0L962.3 351.0L965.0 352.2zM978.9 354.0L978.6 351.0L981.2 352.2zM995.1 354.0L994.8 351.0L997.5 352.2zM1011.3 354.0L1011.0 351.0L1013.7 352.2zM1027.6 354.0L1027.2 351.0L1029.9 352.2zM1043.8 354.0L1043.5 351.0L1046.1 352.2zM1060.0 354.0L1059.7 351.0L1062.4 352.2zM1076.3 354.0L1075.9 351.0L1078.6 352.2zM1092.5 354.0L1092.2 351.0L1094.8 352.2zM784.5 338.8L784.0 336.0L786.6 337.0zM800.7 338.8L800.3 336.0L802.9 337.0zM816.9 338.8L816.5 336.0L819.1 337.0zM833.2 338.8L832.7 336.0L835.3 337.0zM849.4 338.8L848.9 336.0L851.6 337.0zM865.6 338.8L865.2 336.0L867.8 337.0zM881.9 338.8L881.4 336.0L884.0 337.0zM898.1 338.8L897.6 336.0L900.3 337.0zM914.3 338.8L913.9 336.0L916.5 337.0zM930.5 338.8L930.1 336.0L932.7 337.0zM946.8 338.8L946.3 336.0L948.9 337.0zM963.0 338.8L962.6 336.0L965.2 337.0zM979.2 338.8L978.8 336.0L981.4 337.0zM995.5 338.8L995.0 336.0L997.6 337.0zM1011.7 338.8L1011.2 336.0L1013.9 337.0zM1027.9 338.8L1027.5 336.0L1030.1 337.0zM1044.2 338.8L1043.7 336.0L1046.3 337.0zM1060.4 338.8L1059.9 336.0L1062.6 337.0zM1076.6 338.8L1076.2 336.0L1078.8 337.0zM1092.8 338.8L1092.4 336.0L1095.0 337.0zM784.8 323.6L784.3 321.0L786.8 321.8zM801.0 323.6L800.5 321.0L803.0 321.8zM817.3 323.6L816.7 321.0L819.3 321.8zM833.5 323.6L832.9 321.0L835.5 321.8zM849.7 323.6L849.2 321.0L851.7 321.8zM866.0 323.6L865.4 321.0L868.0 321.8zM882.2 323.6L881.6 321.0L884.2 321.8zM898.4 323.6L897.9 321.0L900.4 321.8zM914.6 323.6L914.1 321.0L916.7 321.8zM930.9 323.6L930.3 321.0L932.9 321.8zM947.1 323.6L946.6 321.0L949.1 321.8zM963.3 323.6L962.8 321.0L965.3 321.8zM979.6 323.6L979.0 321.0L981.6 321.8zM995.8 323.6L995.2 321.0L997.8 321.8zM1012.0 323.6L1011.5 321.0L1014.0 321.8zM1028.3 323.6L1027.7 321.0L1030.3 321.8zM1044.5 323.6L1043.9 321.0L1046.5 321.8zM1060.7 323.6L1060.2 321.0L1062.7 321.8zM1076.9 323.6L1076.4 321.0L1079.0 321.8zM1093.2 323.6L1092.6 321.0L1095.2 321.8zM785.1 308.4L784.5 306.0L787.0 306.7zM801.4 308.4L800.7 306.0L803.2 306.7zM817.6 308.4L816.9 306.0L819.4 306.7zM833.8 308.4L833.2 306.0L835.7 306.7zM850.0 308.4L849.4 306.0L851.9 306.7zM866.3 308.4L865.6 306.0L868.1 306.7zM882.5 308.4L881.8 306.0L884.3 306.7zM898.7 308.4L898.1 306.0L900.6 306.7zM915.0 308.4L914.3 306.0L916.8 306.7zM931.2 308.4L930.5 306.0L933.0 306.7zM947.4 308.4L946.8 306.0L949.3 306.7zM963.7 308.4L963.0 306.0L965.5 306.7zM979.9 308.4L979.2 306.0L981.7 306.7zM996.1 308.4L995.5 306.0L998.0 306.7zM1012.3 308.4L1011.7 306.0L1014.2 306.7zM1028.6 308.4L1027.9 306.0L1030.4 306.7zM1044.8 308.4L1044.1 306.0L1046.6 306.7zM1061.0 308.4L1060.4 306.0L1062.9 306.7zM1077.3 308.4L1076.6 306.0L1079.1 306.7zM1093.5 308.4L1092.8 306.0L1095.3 306.7z" fill="#111"/>
<rect x="778.1" y="295.4" width="7.5" height="12" fill="#fff"/><text x="781.9" y="305.0" text-anchor="middle" font-family="Liberation Sans" font-weight="bold" font-size="10" fill="#111">8</text>
<rect x="860.4" y="294.0" width="7.5" height="12" fill="#fff"/><text x="864.2" y="303.6" text-anchor="middle" font-family="Liberation Sans" font-weight="bold" font-size="10" fill="#111">8</text>
<rect x="908.1" y="299.2" width="7.5" height="12" fill="#fff"/><text x="911.9" y="308.8" text-anchor="middle" font-family="Liberation Sans" font-weight="bold" font-size="10" fill="#111">9</text>
<rect x="988.4" y="293.4" width="7.5" height="12" fill="#fff"/><text x="992.2" y="303.0" text-anchor="middle" font-family="Liberation Sans" font-weight="bold" font-size="10" fill="#111">8</text>
<rect x="794.0" y="341.6" width="7.5" height="12" fill="#fff"/><text x="797.7" y="351.2" text-anchor="middle" font-family="Liberation Sans" font-weight="bold" font-size="10" fill="#111">9</text>
<rect x="981.8" y="389.3" width="7.5" height="12" fill="#fff"/><text x="985.5" y="398.9" text-anchor="middle" font-family="Liberation Sans" font-weight="bold" font-size="10" fill="#111">9</text>
<rect x="779.7" y="398.8" width="13.0" height="12" fill="#fff"/><text x="786.2" y="408.4" text-anchor="middle" font-family="Liberation Sans" font-weight="bold" font-size="10" fill="#111">10</text>
<rect x="1054.1" y="413.8" width="13.0" height="12" fill="#fff"/><text x="1060.6" y="423.4" text-anchor="middle" font-family="Liberation Sans" font-weight="bold" font-size="10" fill="#111">10</text>
<rect x="779.7" y="424.0" width="13.0" height="12" fill="#fff"/><text x="786.2" y="433.6" text-anchor="middle" font-family="Liberation Sans" font-weight="bold" font-size="10" fill="#111">11</text>
<rect x="1054.1" y="437.0" width="13.0" height="12" fill="#fff"/><text x="1060.6" y="446.6" text-anchor="middle" font-family="Liberation Sans" font-weight="bold" font-size="10" fill="#111">11</text>
<rect x="830.2" y="500.5" width="13.0" height="12" fill="#fff"/><text x="836.7" y="510.1" text-anchor="middle" font-family="Liberation Sans" font-weight="bold" font-size="10" fill="#111">12</text>
<rect x="869.2" y="515.0" width="13.0" height="12" fill="#fff"/><text x="875.7" y="524.6" text-anchor="middle" font-family="Liberation Sans" font-weight="bold" font-size="10" fill="#111">13</text>
<rect x="971.8" y="517.0" width="13.0" height="12" fill="#fff"/><text x="978.3" y="526.6" text-anchor="middle" font-family="Liberation Sans" font-weight="bold" font-size="10" fill="#111">14</text>
</g>
<rect x="770.3" y="288.4" width="324.6" height="239.6" fill="none" stroke="#3a3a3a" stroke-width="1"/>
<path d="M835.2 528.0v-4M835.2 288.4v4M900.1 528.0v-4M900.1 288.4v4M965.1 528.0v-4M965.1 288.4v4M1030.0 528.0v-4M1030.0 288.4v4M770.3 348.3h4M1094.9 348.3h-4M770.3 408.2h4M1094.9 408.2h-4M770.3 468.1h4M1094.9 468.1h-4" stroke="#3a3a3a" stroke-width="1"/>
<text x="1054.3" y="330.4" font-family="Liberation Serif" font-size="23" fill="#111">(f)</text>
<rect x="1054.3" y="475.9" width="33" height="23.5" fill="#fff"/>
<path d="M1066.2 482.9h4.2" stroke="#000" stroke-width="2.2"/><path d="M1073.4 482.9l-4.5 -2.6v5.2z" fill="#000"/>
<text x="1057.3" y="495.9" font-family="Liberation Serif" font-weight="bold" font-size="11" fill="#111">4m/s</text>
<clipPath id="kg"><rect x="38.3" y="562.8" width="324.6" height="239.6"/></clipPath>
<g clip-path="url(#kg)">
<polyline points="39.7,580.1 45.5,596.9 55.6,604.7 73.0,591.7 81.6,562.8" fill="none" stroke="#f0f0f0" stroke-width="1.5" stroke-linejoin="round"/>
<polyline points="116.3,562.8 112.0,575.8 114.9,583.6 125.0,590.2 142.3,591.7 153.9,574.4 156.7,562.8" fill="none" stroke="#f0f0f0" stroke-width="1.5" stroke-linejoin="round"/>
<polyline points="187.1,562.8 188.5,580.1 169.7,603.2 156.7,617.7 143.7,643.7 142.3,672.6 153.9,687.0 182.7,684.1 211.6,679.8 234.7,674.0" fill="none" stroke="#f0f0f0" stroke-width="1.5" stroke-linejoin="round"/>
<polyline points="211.6,635.0 223.2,620.6 246.3,614.8 266.5,623.5 269.4,637.9 263.6,655.2 269.4,672.6 281.0,672.6 289.6,646.6 304.1,629.2 327.2,619.1 363.3,613.4" fill="none" stroke="#f0f0f0" stroke-width="1.5" stroke-linejoin="round"/>
<polyline points="363.3,655.2 350.3,671.1 330.1,687.0 363.3,689.9" fill="none" stroke="#f0f0f0" stroke-width="1.5" stroke-linejoin="round"/>
<polyline points="38.3,681.2 51.3,681.2 70.1,692.8 96.1,704.4 113.4,718.8 125.0,733.2 153.9,736.1 182.7,730.4 211.6,721.7 240.5,715.9 269.4,713.0 298.3,715.9 340.2,718.8 363.3,717.4" fill="none" stroke="#f0f0f0" stroke-width="1.5" stroke-linejoin="round"/>
<polyline points="38.3,705.8 58.5,715.9 67.2,724.6 61.4,741.9 55.6,750.6 38.3,753.5" fill="none" stroke="#f0f0f0" stroke-width="1.5" stroke-linejoin="round"/>
<polyline points="38.3,770.8 73.0,767.9 105.3,767.3 153.9,759.2 211.6,750.6 269.4,743.4 327.2,741.9 363.3,741.9" fill="none" stroke="#f0f0f0" stroke-width="1.5" stroke-linejoin="round"/>
<polyline points="38.3,793.9 73.0,791.0 106.2,788.7 153.9,782.4 211.6,776.6 269.4,772.2 327.2,770.8 363.3,770.8" fill="none" stroke="#f0f0f0" stroke-width="1.5" stroke-linejoin="round"/>
<use href="#geo" x="38.3" y="562.8"/>
<path d="M54.5 787.4L46.6 789.5M70.8 787.4L62.6 789.6M87.0 787.4L78.6 789.7M103.2 787.4L94.6 789.9M119.5 787.4L110.6 790.0M135.7 787.4L126.5 790.2M151.9 787.4L142.4 790.3M168.1 787.4L158.3 790.5M184.4 787.4L174.2 790.6M200.6 787.4L190.1 790.8M216.8 787.4L206.0 790.9M233.1 787.4L221.9 791.1M249.3 787.4L237.8 791.2M265.5 787.4L253.8 791.4M281.8 787.4L269.7 791.5M298.0 787.4L285.6 791.7M314.2 787.4L301.5 791.9M330.4 787.4L317.5 792.1M346.7 787.4L333.4 792.3M362.9 787.4L349.3 792.5M54.5 772.4L49.6 774.2M70.8 772.4L65.4 774.4M87.0 772.4L81.3 774.5M103.2 772.4L97.1 774.6M119.5 772.4L112.5 774.8M135.7 772.4L127.9 775.0M151.9 772.4L143.3 775.2M168.1 772.4L158.6 775.6M184.4 772.4L174.3 775.8M200.6 772.4L190.2 775.9M216.8 772.4L206.1 776.1M233.1 772.4L222.0 776.2M249.3 772.4L237.9 776.4M265.5 772.4L253.8 776.5M281.8 772.4L269.7 776.6M298.0 772.4L285.6 776.8M314.2 772.4L301.5 776.9M330.4 772.4L317.5 777.1M346.7 772.4L333.4 777.3M362.9 772.4L349.3 777.5M54.5 757.5L52.4 758.6M70.8 757.5L68.5 758.6M87.0 757.5L84.6 758.7M103.2 757.5L100.7 758.7M119.5 757.5L116.4 759.0M135.7 757.5L131.9 759.2M151.9 757.5L147.3 759.5M168.1 757.5L162.6 759.8M184.4 757.5L177.4 760.2M200.6 757.5L192.4 760.6M216.8 757.5L206.9 761.1M233.1 757.5L222.1 761.4M249.3 757.5L238.0 761.6M265.5 757.5L253.9 761.7M281.8 757.5L269.8 761.9M298.0 757.5L285.7 762.0M314.2 757.5L301.6 762.1M330.4 757.5L317.5 762.3M346.7 757.5L333.4 762.4M362.9 757.5L349.3 762.6M54.5 742.5L52.5 743.7M70.8 742.5L68.8 743.7M87.0 742.5L85.0 743.7M103.2 742.5L101.2 743.7M119.5 742.5L117.4 743.7M135.7 742.5L133.7 743.7M151.9 742.5L149.9 743.7M168.1 742.5L166.0 743.7M184.4 742.5L181.6 744.0M200.6 742.5L196.9 744.4M216.8 742.5L211.9 744.9M233.1 742.5L226.6 745.4M249.3 742.5L241.1 745.9M265.5 742.5L254.9 746.7M281.8 742.5L269.9 747.1M298.0 742.5L285.8 747.2M314.2 742.5L301.7 747.4M330.4 742.5L317.6 747.5M346.7 742.5L333.5 747.7M362.9 742.5L349.4 747.8M54.5 727.5L52.6 728.8M70.8 727.5L68.8 728.8M87.0 727.5L85.0 728.8M103.2 727.5L101.3 728.8M119.5 727.5L117.5 728.8M135.7 727.5L133.7 728.8M151.9 727.5L150.0 728.8M168.1 727.5L166.2 728.8M184.4 727.5L182.4 728.8M200.6 727.5L198.6 728.8M216.8 727.5L214.9 728.8M233.1 727.5L230.8 729.0M249.3 727.5L245.9 729.5M265.5 727.5L260.5 730.2M281.8 727.5L274.9 730.9M298.0 727.5L288.8 731.6M314.2 727.5L302.8 732.4M330.4 727.5L317.7 732.8M346.7 727.5L333.6 733.0M362.9 727.5L349.5 733.1M54.5 712.5L52.6 713.9M70.8 712.5L68.9 713.9M87.0 712.5L85.1 713.9M103.2 712.5L101.3 713.9M119.5 712.5L117.5 713.9M135.7 712.5L133.8 713.9M151.9 712.5L150.0 713.9M168.1 712.5L166.2 713.9M184.4 712.5L182.5 713.9M200.6 712.5L198.7 713.9M216.8 712.5L214.9 713.9M233.1 712.5L231.2 713.9M249.3 712.5L247.4 713.9M265.5 712.5L263.6 713.9M281.8 712.5L279.4 714.2M298.0 712.5L294.4 714.8M314.2 712.5L309.1 715.6M330.4 712.5L323.6 716.2M346.7 712.5L337.7 717.0M362.9 712.5L351.4 718.0M54.5 697.6L52.8 698.9M70.8 697.6L69.0 698.9M87.0 697.6L85.2 698.9M103.2 697.6L101.4 698.9M119.5 697.6L117.7 698.9M135.7 697.6L133.9 698.9M151.9 697.6L150.1 698.9M168.1 697.6L166.4 698.9M184.4 697.6L182.6 698.9M200.6 697.6L198.8 698.9M216.8 697.6L215.1 698.9M233.1 697.6L231.3 698.9M249.3 697.6L247.5 698.9M265.5 697.6L263.7 698.9M281.8 697.6L280.0 698.9M298.0 697.6L296.2 698.9M314.2 697.6L312.4 698.9M330.4 697.6L328.3 699.2M346.7 697.6L343.5 699.8M362.9 697.6L358.3 700.6M54.5 682.6L52.9 684.0M70.8 682.6L69.1 684.0M87.0 682.6L85.3 684.0M103.2 682.6L101.6 684.0M119.5 682.6L117.8 684.0M135.7 682.6L134.0 684.0M151.9 682.6L150.3 684.0M168.1 682.6L166.5 684.0M184.4 682.6L182.7 684.0M200.6 682.6L199.0 684.0M216.8 682.6L215.2 684.0M233.1 682.6L231.4 684.0M249.3 682.6L247.6 684.0M265.5 682.6L263.9 684.0M281.8 682.6L280.1 684.0M298.0 682.6L296.3 684.0M314.2 682.6L312.6 684.0M330.4 682.6L328.8 684.0M346.7 682.6L345.0 684.0M362.9 682.6L361.3 684.0M54.5 667.6L53.0 669.0M70.8 667.6L69.2 669.0M87.0 667.6L85.5 669.0M103.2 667.6L101.7 669.0M119.5 667.6L117.9 669.0M135.7 667.6L134.2 669.0M151.9 667.6L150.4 669.0M168.1 667.6L166.6 669.0M184.4 667.6L182.9 669.0M200.6 667.6L199.1 669.0M216.8 667.6L215.3 669.0M233.1 667.6L231.5 669.0M249.3 667.6L247.8 669.0M265.5 667.6L264.0 669.0M281.8 667.6L280.2 669.0M298.0 667.6L296.5 669.0M314.2 667.6L312.7 669.0M330.4 667.6L328.9 669.0M346.7 667.6L345.2 669.0M362.9 667.6L361.4 669.0M54.5 652.6L53.1 654.0M70.8 652.6L69.4 654.0M87.0 652.6L85.6 654.0M103.2 652.6L101.8 654.0M119.5 652.6L118.1 654.0M135.7 652.6L134.3 654.0M151.9 652.6L150.5 654.0M168.1 652.6L166.7 654.0M184.4 652.6L183.0 654.0M200.6 652.6L199.2 654.0M216.8 652.6L215.4 654.0M233.1 652.6L231.7 654.0M249.3 652.6L247.9 654.0M265.5 652.6L264.1 654.0M281.8 652.6L280.4 654.0M298.0 652.6L296.6 654.0M314.2 652.6L312.8 654.0M330.4 652.6L329.0 654.0M346.7 652.6L345.3 654.0M362.9 652.6L361.5 654.0M54.5 637.7L53.3 639.1M70.8 637.7L69.5 639.1M87.0 637.7L85.7 639.1M103.2 637.7L102.0 639.1M119.5 637.7L118.2 639.1M135.7 637.7L134.4 639.1M151.9 637.7L150.6 639.1M168.1 637.7L166.9 639.1M184.4 637.7L183.1 639.1M200.6 637.7L199.3 639.1M216.8 637.7L215.6 639.1M233.1 637.7L231.8 639.1M249.3 637.7L248.0 639.1M265.5 637.7L264.3 639.1M281.8 637.7L280.5 639.1M298.0 637.7L296.7 639.1M314.2 637.7L312.9 639.1M330.4 637.7L329.2 639.1M346.7 637.7L345.4 639.1M362.9 637.7L361.6 639.1M54.5 622.7L53.4 624.1M70.8 622.7L69.6 624.1M87.0 622.7L85.8 624.1M103.2 622.7L102.1 624.1M119.5 622.7L118.3 624.1M135.7 622.7L134.5 624.1M151.9 622.7L150.8 624.1M168.1 622.7L167.0 624.1M184.4 622.7L183.2 624.1M200.6 622.7L199.4 624.1M216.8 622.7L215.7 624.1M233.1 622.7L231.9 624.1M249.3 622.7L248.1 624.1M265.5 622.7L264.4 624.1M281.8 622.7L280.6 624.1M298.0 622.7L296.8 624.1M314.2 622.7L313.1 624.1M330.4 622.7L329.3 624.1M346.7 622.7L345.5 624.1M362.9 622.7L361.7 624.1M54.5 607.7L53.5 609.1M70.8 607.7L69.7 609.1M87.0 607.7L86.0 609.1M103.2 607.7L102.2 609.1M119.5 607.7L118.4 609.1M135.7 607.7L134.6 609.1M151.9 607.7L150.9 609.1M168.1 607.7L167.1 609.1M184.4 607.7L183.3 609.1M200.6 607.7L199.6 609.1M216.8 607.7L215.8 609.1M233.1 607.7L232.0 609.1M249.3 607.7L248.3 609.1M265.5 607.7L264.5 609.1M281.8 607.7L280.7 609.1M298.0 607.7L296.9 609.1M314.2 607.7L313.2 609.1M330.4 607.7L329.4 609.1M346.7 607.7L345.6 609.1M362.9 607.7L361.9 609.1M54.5 592.8L53.6 594.1M70.8 592.8L69.8 594.1M87.0 592.8L86.1 594.1M103.2 592.8L102.3 594.1M119.5 592.8L118.5 594.1M135.7 592.8L134.8 594.1M151.9 592.8L151.0 594.1M168.1 592.8L167.2 594.1M184.4 592.8L183.4 594.1M200.6 592.8L199.7 594.1M216.8 592.8L215.9 594.1M233.1 592.8L232.1 594.1M249.3 592.8L248.4 594.1M265.5 592.8L264.6 594.1M281.8 592.8L280.8 594.1M298.0 592.8L297.1 594.1M314.2 592.8L313.3 594.1M330.4 592.8L329.5 594.1M346.7 592.8L345.7 594.1M362.9 592.8L362.0 594.1M54.5 577.8L53.7 579.1M70.8 577.8L69.9 579.1M87.0 577.8L86.2 579.1M103.2 577.8L102.4 579.1M119.5 577.8L118.6 579.1M135.7 577.8L134.9 579.1M151.9 577.8L151.1 579.1M168.1 577.8L167.3 579.1M184.4 577.8L183.5 579.1M200.6 577.8L199.8 579.1M216.8 577.8L216.0 579.1M233.1 577.8L232.2 579.1M249.3 577.8L248.5 579.1M265.5 577.8L264.7 579.1M281.8 577.8L280.9 579.1M298.0 577.8L297.2 579.1M314.2 577.8L313.4 579.1M330.4 577.8L329.6 579.1M346.7 577.8L345.8 579.1M362.9 577.8L362.1 579.1" stroke="#140f0f" stroke-width="1.75" fill="none"/>
<path d="M40.9 791.0L46.0 787.1L47.2 791.9zM56.7 791.2L61.9 787.2L63.2 792.0zM72.5 791.4L77.9 787.3L79.3 792.2zM88.4 791.6L93.9 787.5L95.3 792.3zM104.3 791.8L109.9 787.6L111.3 792.4zM120.3 792.0L125.8 787.8L127.2 792.6zM136.2 792.2L141.7 787.9L143.1 792.7zM152.1 792.4L157.6 788.1L159.1 792.9zM168.0 792.6L173.5 788.3L175.0 793.0zM183.9 792.8L189.4 788.4L190.9 793.2zM199.9 793.0L205.3 788.6L206.8 793.3zM215.8 793.1L221.2 788.7L222.7 793.5zM231.7 793.2L237.1 788.8L238.6 793.6zM247.6 793.4L253.0 789.0L254.6 793.7zM263.5 793.7L268.9 789.2L270.5 793.9zM279.5 793.9L284.8 789.4L286.4 794.1zM295.4 794.1L300.7 789.6L302.4 794.3zM311.3 794.3L316.6 789.8L318.3 794.5zM327.3 794.5L332.5 790.0L334.3 794.7zM343.2 794.8L348.4 790.2L350.2 794.8zM46.0 775.5L48.9 772.4L50.2 776.1zM61.6 775.7L64.7 772.4L66.1 776.3zM77.2 775.9L80.6 772.4L82.0 776.5zM92.7 776.2L96.4 772.4L97.9 776.8zM107.4 776.5L111.7 772.5L113.3 777.2zM122.2 776.9L127.1 772.7L128.6 777.4zM137.1 777.3L142.6 772.9L144.1 777.6zM152.4 777.6L157.8 773.2L159.4 777.9zM168.1 777.8L173.5 773.4L175.0 778.1zM184.0 778.0L189.4 773.6L191.0 778.3zM199.9 778.2L205.3 773.7L206.9 778.5zM215.8 778.4L221.2 773.9L222.8 778.6zM231.8 778.5L237.1 774.0L238.7 778.8zM247.7 778.7L253.0 774.2L254.6 778.9zM263.6 778.8L268.9 774.3L270.5 779.0zM279.5 778.9L284.8 774.4L286.4 779.1zM295.4 779.1L300.7 774.6L302.4 779.3zM311.3 779.3L316.6 774.8L318.3 779.5zM327.3 779.6L332.5 775.0L334.3 779.7zM343.2 779.8L348.4 775.2L350.2 779.9zM50.8 759.4L51.9 757.6L52.9 759.6zM66.9 759.5L68.0 757.6L69.0 759.6zM82.9 759.5L84.1 757.6L85.2 759.7zM98.9 759.6L100.2 757.6L101.3 759.8zM114.2 760.0L115.8 757.7L117.0 760.2zM129.2 760.5L131.2 757.8L132.6 760.7zM144.0 761.0L146.5 757.8L148.1 761.2zM158.6 761.5L161.7 757.8L163.4 761.8zM172.4 762.2L176.5 757.9L178.4 762.5zM186.4 762.8L191.5 758.2L193.3 762.9zM200.8 763.3L206.1 758.7L207.8 763.4zM216.0 763.6L221.2 759.1L222.9 763.8zM231.8 763.8L237.1 759.2L238.8 763.9zM247.8 764.0L253.0 759.4L254.7 764.1zM263.7 764.1L268.9 759.5L270.6 764.2zM279.6 764.2L284.8 759.7L286.5 764.3zM295.5 764.4L300.7 759.8L302.5 764.5zM311.4 764.5L316.6 759.9L318.4 764.6zM327.3 764.6L332.5 760.0L334.3 764.7zM343.2 764.8L348.4 760.2L350.2 764.9zM51.1 744.5L52.0 742.7L53.1 744.6zM67.3 744.5L68.2 742.7L69.3 744.6zM83.5 744.5L84.4 742.7L85.5 744.6zM99.8 744.5L100.7 742.7L101.8 744.6zM116.0 744.5L116.9 742.7L118.0 744.6zM132.2 744.5L133.1 742.7L134.2 744.6zM148.4 744.5L149.4 742.7L150.4 744.6zM164.4 744.6L165.4 742.8L166.6 744.7zM179.7 745.1L181.0 742.9L182.3 745.2zM194.2 745.8L196.1 743.0L197.6 745.9zM208.3 746.7L211.0 743.1L212.7 746.7zM222.0 747.5L225.6 743.2L227.7 747.7zM235.2 748.4L240.1 743.6L242.1 748.2zM248.9 749.1L254.0 744.4L255.8 749.0zM263.8 749.4L269.0 744.8L270.8 749.4zM279.7 749.6L284.9 744.9L286.7 749.6zM295.6 749.8L300.8 745.1L302.6 749.7zM311.5 749.9L316.7 745.2L318.5 749.9zM327.5 750.1L332.6 745.4L334.4 750.0zM343.4 750.2L348.5 745.5L350.3 750.1zM51.2 729.7L52.0 727.9L53.2 729.7zM67.4 729.7L68.2 727.9L69.4 729.7zM83.6 729.7L84.5 727.9L85.6 729.7zM99.8 729.7L100.7 727.9L101.8 729.7zM116.1 729.7L116.9 727.9L118.1 729.7zM132.3 729.7L133.1 727.9L134.3 729.7zM148.5 729.7L149.4 727.9L150.5 729.7zM164.8 729.7L165.6 727.9L166.8 729.7zM181.0 729.7L181.8 727.9L183.0 729.7zM197.2 729.7L198.1 727.9L199.2 729.7zM213.4 729.7L214.3 727.9L215.4 729.7zM229.1 730.0L230.1 727.9L231.4 730.0zM243.5 731.0L245.1 728.2L246.7 730.8zM256.9 732.2L259.5 728.4L261.5 732.0zM269.9 733.4L273.8 728.7L276.0 733.2zM282.9 734.3L287.8 729.4L289.8 733.9zM296.8 734.9L301.8 730.1L303.8 734.7zM311.7 735.3L316.8 730.5L318.7 735.1zM327.6 735.5L332.6 730.7L334.6 735.3zM343.5 735.6L348.6 730.8L350.5 735.4zM51.3 714.8L52.0 713.0L53.2 714.8zM67.5 714.8L68.2 713.0L69.5 714.8zM83.7 714.8L84.5 713.0L85.7 714.8zM99.9 714.8L100.7 713.0L101.9 714.8zM116.2 714.8L116.9 713.0L118.2 714.8zM132.4 714.8L133.2 713.0L134.4 714.8zM148.6 714.8L149.4 713.0L150.6 714.8zM164.9 714.8L165.6 713.0L166.9 714.8zM181.1 714.8L181.9 713.0L183.1 714.8zM197.3 714.8L198.1 713.0L199.3 714.8zM213.6 714.8L214.3 713.0L215.5 714.8zM229.8 714.8L230.5 713.0L231.8 714.8zM246.0 714.8L246.8 713.0L248.0 714.8zM262.2 714.8L263.0 713.0L264.2 714.8zM277.6 715.3L278.7 713.1L280.1 715.2zM291.8 716.5L293.5 713.4L295.3 716.2zM305.4 717.7L308.0 713.7L310.2 717.4zM318.7 718.9L322.4 714.1L324.8 718.4zM331.9 720.0L336.6 714.8L338.8 719.3zM345.5 720.7L350.3 715.7L352.4 720.2zM51.5 699.9L52.1 698.1L53.4 699.8zM67.7 699.9L68.3 698.1L69.6 699.8zM83.9 699.9L84.6 698.1L85.9 699.8zM100.2 699.9L100.8 698.1L102.1 699.8zM116.4 699.9L117.0 698.1L118.3 699.8zM132.6 699.9L133.3 698.1L134.6 699.8zM148.9 699.9L149.5 698.1L150.8 699.8zM165.1 699.9L165.7 698.1L167.0 699.8zM181.3 699.9L182.0 698.1L183.2 699.8zM197.5 699.9L198.2 698.1L199.5 699.8zM213.8 699.9L214.4 698.1L215.7 699.8zM230.0 699.9L230.6 698.1L231.9 699.8zM246.2 699.9L246.9 698.1L248.2 699.8zM262.5 699.9L263.1 698.1L264.4 699.8zM278.7 699.9L279.3 698.1L280.6 699.8zM294.9 699.9L295.6 698.1L296.9 699.8zM311.2 699.9L311.8 698.1L313.1 699.8zM326.7 700.4L327.6 698.2L329.0 700.1zM341.3 701.4L342.6 698.6L344.4 701.0zM355.0 702.8L357.2 698.9L359.4 702.3zM51.7 685.0L52.2 683.2L53.5 684.8zM67.9 685.0L68.5 683.2L69.8 684.8zM84.2 685.0L84.7 683.2L86.0 684.8zM100.4 685.0L100.9 683.2L102.2 684.8zM116.6 685.0L117.1 683.2L118.5 684.8zM132.8 685.0L133.4 683.2L134.7 684.8zM149.1 685.0L149.6 683.2L150.9 684.8zM165.3 685.0L165.8 683.2L167.2 684.8zM181.5 685.0L182.1 683.2L183.4 684.8zM197.8 685.0L198.3 683.2L199.6 684.8zM214.0 685.0L214.5 683.2L215.8 684.8zM230.2 685.0L230.8 683.2L232.1 684.8zM246.5 685.0L247.0 683.2L248.3 684.8zM262.7 685.0L263.2 683.2L264.5 684.8zM278.9 685.0L279.4 683.2L280.8 684.8zM295.1 685.0L295.7 683.2L297.0 684.8zM311.4 685.0L311.9 683.2L313.2 684.8zM327.6 685.0L328.1 683.2L329.5 684.8zM343.8 685.0L344.4 683.2L345.7 684.8zM360.1 685.0L360.6 683.2L361.9 684.8zM51.9 670.0L52.3 668.3L53.7 669.8zM68.1 670.0L68.6 668.3L69.9 669.8zM84.4 670.0L84.8 668.3L86.2 669.8zM100.6 670.0L101.0 668.3L102.4 669.8zM116.8 670.0L117.3 668.3L118.6 669.8zM133.1 670.0L133.5 668.3L134.8 669.8zM149.3 670.0L149.7 668.3L151.1 669.8zM165.5 670.0L165.9 668.3L167.3 669.8zM181.8 670.0L182.2 668.3L183.5 669.8zM198.0 670.0L198.4 668.3L199.8 669.8zM214.2 670.0L214.6 668.3L216.0 669.8zM230.4 670.0L230.9 668.3L232.2 669.8zM246.7 670.0L247.1 668.3L248.5 669.8zM262.9 670.0L263.3 668.3L264.7 669.8zM279.1 670.0L279.6 668.3L280.9 669.8zM295.4 670.0L295.8 668.3L297.1 669.8zM311.6 670.0L312.0 668.3L313.4 669.8zM327.8 670.0L328.2 668.3L329.6 669.8zM344.1 670.0L344.5 668.3L345.8 669.8zM360.3 670.0L360.7 668.3L362.1 669.8zM52.1 655.0L52.4 653.4L53.8 654.7zM68.4 655.0L68.7 653.4L70.1 654.7zM84.6 655.0L84.9 653.4L86.3 654.7zM100.8 655.0L101.1 653.4L102.5 654.7zM117.1 655.0L117.4 653.4L118.7 654.7zM133.3 655.0L133.6 653.4L135.0 654.7zM149.5 655.0L149.8 653.4L151.2 654.7zM165.7 655.0L166.1 653.4L167.4 654.7zM182.0 655.0L182.3 653.4L183.7 654.7zM198.2 655.0L198.5 653.4L199.9 654.7zM214.4 655.0L214.7 653.4L216.1 654.7zM230.7 655.0L231.0 653.4L232.4 654.7zM246.9 655.0L247.2 653.4L248.6 654.7zM263.1 655.0L263.4 653.4L264.8 654.7zM279.4 655.0L279.7 653.4L281.0 654.7zM295.6 655.0L295.9 653.4L297.3 654.7zM311.8 655.0L312.1 653.4L313.5 654.7zM328.0 655.0L328.4 653.4L329.7 654.7zM344.3 655.0L344.6 653.4L346.0 654.7zM360.5 655.0L360.8 653.4L362.2 654.7zM52.3 640.1L52.6 638.4L54.0 639.7zM68.6 640.1L68.8 638.4L70.2 639.7zM84.8 640.1L85.0 638.4L86.4 639.7zM101.0 640.1L101.2 638.4L102.7 639.7zM117.3 640.1L117.5 638.4L118.9 639.7zM133.5 640.1L133.7 638.4L135.1 639.7zM149.7 640.1L149.9 638.4L151.3 639.7zM166.0 640.1L166.2 638.4L167.6 639.7zM182.2 640.1L182.4 638.4L183.8 639.7zM198.4 640.1L198.6 638.4L200.0 639.7zM214.6 640.1L214.9 638.4L216.3 639.7zM230.9 640.1L231.1 638.4L232.5 639.7zM247.1 640.1L247.3 638.4L248.7 639.7zM263.3 640.1L263.5 638.4L265.0 639.7zM279.6 640.1L279.8 638.4L281.2 639.7zM295.8 640.1L296.0 638.4L297.4 639.7zM312.0 640.1L312.2 638.4L313.6 639.7zM328.3 640.1L328.5 638.4L329.9 639.7zM344.5 640.1L344.7 638.4L346.1 639.7zM360.7 640.1L360.9 638.4L362.3 639.7zM52.5 625.1L52.7 623.5L54.1 624.7zM68.8 625.1L68.9 623.5L70.3 624.7zM85.0 625.1L85.1 623.5L86.5 624.7zM101.2 625.1L101.4 623.5L102.8 624.7zM117.5 625.1L117.6 623.5L119.0 624.7zM133.7 625.1L133.8 623.5L135.2 624.7zM149.9 625.1L150.1 623.5L151.5 624.7zM166.2 625.1L166.3 623.5L167.7 624.7zM182.4 625.1L182.5 623.5L183.9 624.7zM198.6 625.1L198.7 623.5L200.2 624.7zM214.8 625.1L215.0 623.5L216.4 624.7zM231.1 625.1L231.2 623.5L232.6 624.7zM247.3 625.1L247.4 623.5L248.8 624.7zM263.5 625.1L263.7 623.5L265.1 624.7zM279.8 625.1L279.9 623.5L281.3 624.7zM296.0 625.1L296.1 623.5L297.5 624.7zM312.2 625.1L312.4 623.5L313.8 624.7zM328.5 625.1L328.6 623.5L330.0 624.7zM344.7 625.1L344.8 623.5L346.2 624.7zM360.9 625.1L361.0 623.5L362.5 624.7zM52.7 610.1L52.8 608.5L54.2 609.6zM69.0 610.1L69.0 608.5L70.4 609.6zM85.2 610.1L85.2 608.5L86.7 609.6zM101.4 610.1L101.5 608.5L102.9 609.6zM117.7 610.1L117.7 608.5L119.1 609.6zM133.9 610.1L133.9 608.5L135.4 609.6zM150.1 610.1L150.2 608.5L151.6 609.6zM166.4 610.1L166.4 608.5L167.8 609.6zM182.6 610.1L182.6 608.5L184.0 609.6zM198.8 610.1L198.9 608.5L200.3 609.6zM215.0 610.1L215.1 608.5L216.5 609.6zM231.3 610.1L231.3 608.5L232.7 609.6zM247.5 610.1L247.5 608.5L249.0 609.6zM263.7 610.1L263.8 608.5L265.2 609.6zM280.0 610.1L280.0 608.5L281.4 609.6zM296.2 610.1L296.2 608.5L297.7 609.6zM312.4 610.1L312.5 608.5L313.9 609.6zM328.7 610.1L328.7 608.5L330.1 609.6zM344.9 610.1L344.9 608.5L346.3 609.6zM361.1 610.1L361.2 608.5L362.6 609.6zM52.9 595.0L52.9 593.6L54.3 594.6zM69.2 595.0L69.1 593.6L70.5 594.6zM85.4 595.0L85.3 593.6L86.8 594.6zM101.6 595.0L101.6 593.6L103.0 594.6zM117.9 595.0L117.8 593.6L119.2 594.6zM134.1 595.0L134.0 593.6L135.5 594.6zM150.3 595.0L150.3 593.6L151.7 594.6zM166.5 595.0L166.5 593.6L167.9 594.6zM182.8 595.0L182.7 593.6L184.2 594.6zM199.0 595.0L199.0 593.6L200.4 594.6zM215.2 595.0L215.2 593.6L216.6 594.6zM231.5 595.0L231.4 593.6L232.8 594.6zM247.7 595.0L247.6 593.6L249.1 594.6zM263.9 595.0L263.9 593.6L265.3 594.6zM280.2 595.0L280.1 593.6L281.5 594.6zM296.4 595.0L296.3 593.6L297.8 594.6zM312.6 595.0L312.6 593.6L314.0 594.6zM328.8 595.0L328.8 593.6L330.2 594.6zM345.1 595.0L345.0 593.6L346.5 594.6zM361.3 595.0L361.3 593.6L362.7 594.6zM53.1 580.0L53.0 578.6L54.4 579.5zM69.3 580.0L69.2 578.6L70.7 579.5zM85.6 580.0L85.5 578.6L86.9 579.5zM101.8 580.0L101.7 578.6L103.1 579.5zM118.0 580.0L117.9 578.6L119.3 579.5zM134.3 580.0L134.1 578.6L135.6 579.5zM150.5 580.0L150.4 578.6L151.8 579.5zM166.7 580.0L166.6 578.6L168.0 579.5zM183.0 580.0L182.8 578.6L184.3 579.5zM199.2 580.0L199.1 578.6L200.5 579.5zM215.4 580.0L215.3 578.6L216.7 579.5zM231.6 580.0L231.5 578.6L233.0 579.5zM247.9 580.0L247.8 578.6L249.2 579.5zM264.1 580.0L264.0 578.6L265.4 579.5zM280.3 580.0L280.2 578.6L281.6 579.5zM296.6 580.0L296.4 578.6L297.9 579.5zM312.8 580.0L312.7 578.6L314.1 579.5zM329.0 580.0L328.9 578.6L330.3 579.5zM345.3 580.0L345.1 578.6L346.6 579.5zM361.5 580.0L361.4 578.6L362.8 579.5z" fill="#111"/>
<rect x="39.0" y="590.9" width="13.0" height="12" fill="#fff"/><text x="45.5" y="600.5" text-anchor="middle" font-family="Liberation Sans" font-weight="bold" font-size="10" fill="#111">10</text>
<rect x="108.4" y="577.6" width="13.0" height="12" fill="#fff"/><text x="114.9" y="587.2" text-anchor="middle" font-family="Liberation Sans" font-weight="bold" font-size="10" fill="#111">10</text>
<rect x="163.2" y="597.2" width="13.0" height="12" fill="#fff"/><text x="169.7" y="606.8" text-anchor="middle" font-family="Liberation Sans" font-weight="bold" font-size="10" fill="#111">10</text>
<rect x="252.8" y="636.2" width="13.0" height="12" fill="#fff"/><text x="259.3" y="645.8" text-anchor="middle" font-family="Liberation Sans" font-weight="bold" font-size="10" fill="#111">10</text>
<rect x="343.8" y="665.1" width="13.0" height="12" fill="#fff"/><text x="350.3" y="674.7" text-anchor="middle" font-family="Liberation Sans" font-weight="bold" font-size="10" fill="#111">10</text>
<rect x="44.8" y="675.2" width="13.0" height="12" fill="#fff"/><text x="51.3" y="684.8" text-anchor="middle" font-family="Liberation Sans" font-weight="bold" font-size="10" fill="#111">11</text>
<rect x="333.7" y="712.8" width="13.0" height="12" fill="#fff"/><text x="340.2" y="722.4" text-anchor="middle" font-family="Liberation Sans" font-weight="bold" font-size="10" fill="#111">11</text>
<rect x="52.0" y="709.9" width="13.0" height="12" fill="#fff"/><text x="58.5" y="719.5" text-anchor="middle" font-family="Liberation Sans" font-weight="bold" font-size="10" fill="#111">12</text>
<rect x="98.8" y="761.3" width="13.0" height="12" fill="#fff"/><text x="105.3" y="770.9" text-anchor="middle" font-family="Liberation Sans" font-weight="bold" font-size="10" fill="#111">12</text>
<rect x="99.7" y="782.7" width="13.0" height="12" fill="#fff"/><text x="106.2" y="792.3" text-anchor="middle" font-family="Liberation Sans" font-weight="bold" font-size="10" fill="#111">13</text>
<rect x="209.5" y="796.9" width="13.0" height="12" fill="#fff"/><text x="216.0" y="806.5" text-anchor="middle" font-family="Liberation Sans" font-weight="bold" font-size="10" fill="#111">14</text>
<rect x="286.0" y="796.9" width="13.0" height="12" fill="#fff"/><text x="292.5" y="806.5" text-anchor="middle" font-family="Liberation Sans" font-weight="bold" font-size="10" fill="#111">14</text>
</g>
<rect x="38.3" y="562.8" width="324.6" height="239.6" fill="none" stroke="#3a3a3a" stroke-width="1"/>
<path d="M103.2 802.4v-4M103.2 562.8v4M168.1 802.4v-4M168.1 562.8v4M233.1 802.4v-4M233.1 562.8v4M298.0 802.4v-4M298.0 562.8v4M38.3 622.7h4M362.9 622.7h-4M38.3 682.6h4M362.9 682.6h-4M38.3 742.5h4M362.9 742.5h-4" stroke="#3a3a3a" stroke-width="1"/>
<text x="320.3" y="604.8" font-family="Liberation Serif" font-size="23" fill="#111">(g)</text>
<rect x="322.3" y="750.3" width="33" height="23.5" fill="#fff"/>
<path d="M334.7 757.3h3.3" stroke="#000" stroke-width="2.2"/><path d="M341.0 757.3l-4.5 -2.6v5.2z" fill="#000"/>
<text x="325.3" y="770.3" font-family="Liberation Serif" font-weight="bold" font-size="11" fill="#111">4m/s</text>
<clipPath id="kh"><rect x="404.3" y="562.8" width="324.6" height="239.6"/></clipPath>
<g clip-path="url(#kh)">
<polyline points="404.3,583.0 411.5,594.6 421.6,606.1 439.0,597.5 447.6,577.2 450.5,562.8" fill="none" stroke="#f0f0f0" stroke-width="1.5" stroke-linejoin="round"/>
<polyline points="473.6,562.8 476.5,574.4 478.0,580.7 491.0,591.7 514.1,603.2 528.5,617.7 531.4,635.0 519.9,646.6 514.1,663.9 519.9,678.4 534.3,684.1 554.5,687.0 571.9,681.2 589.2,698.6 606.5,704.4 621.0,710.1 644.1,715.9 664.3,718.8 680.2,720.2 729.3,720.2" fill="none" stroke="#f0f0f0" stroke-width="1.5" stroke-linejoin="round"/>
<polyline points="525.6,568.6 519.9,580.1 525.6,594.6 543.0,598.9 551.6,591.7 551.6,583.6 545.9,571.5 534.3,567.1 525.6,568.6" fill="none" stroke="#f0f0f0" stroke-width="1.5" stroke-linejoin="round"/>
<polyline points="605.9,584.5 606.5,574.4 635.4,574.4 649.9,585.9 655.6,606.1 644.1,629.2 626.7,649.5 621.0,661.0 600.7,661.0 583.4,655.2 571.9,640.8 571.9,626.4 589.2,620.6 603.6,609.0 605.9,584.5" fill="none" stroke="#f0f0f0" stroke-width="1.5" stroke-linejoin="round"/>
<polyline points="664.3,643.7 658.5,661.0 658.5,684.1 664.3,689.9 681.6,678.4 696.1,658.1 699.0,643.7 693.2,635.0 681.6,633.6 670.1,636.5 664.3,643.7" fill="none" stroke="#f0f0f0" stroke-width="1.5" stroke-linejoin="round"/>
<polyline points="729.3,658.1 725.0,666.8 729.3,684.1" fill="none" stroke="#f0f0f0" stroke-width="1.5" stroke-linejoin="round"/>
<polyline points="404.3,679.8 418.2,679.8 433.2,684.1 444.7,698.6 467.9,704.4 482.3,713.0 488.1,727.5 499.6,739.0 534.3,739.0 577.6,741.9 635.4,747.7 693.2,750.6 729.3,752.0" fill="none" stroke="#f0f0f0" stroke-width="1.5" stroke-linejoin="round"/>
<polyline points="410.1,713.0 410.1,730.4 421.6,739.0 430.3,736.1 431.7,726.0 427.4,713.0 418.7,710.1 410.1,713.0" fill="none" stroke="#f0f0f0" stroke-width="1.5" stroke-linejoin="round"/>
<polyline points="404.3,793.9 433.2,789.6 462.1,786.7 519.9,785.2 577.6,788.1 635.4,793.9 678.7,802.9" fill="none" stroke="#f0f0f0" stroke-width="1.5" stroke-linejoin="round"/>
<use href="#geo" x="404.3" y="562.8"/>
<path d="M420.5 787.4L412.1 787.6M436.8 787.4L428.3 787.7M453.0 787.4L444.5 787.7M469.2 787.4L460.6 787.8M485.5 787.4L476.8 787.8M501.7 787.4L493.0 787.8M517.9 787.4L509.2 787.9M534.1 787.4L525.4 787.9M550.4 787.4L541.6 787.9M566.6 787.4L557.8 787.8M582.8 787.4L573.9 787.8M599.1 787.4L590.1 787.8M615.3 787.4L606.3 787.7M631.5 787.4L622.5 787.7M647.8 787.4L638.6 787.8M664.0 787.4L654.8 787.8M680.2 787.4L670.9 787.8M696.4 787.4L687.1 787.8M712.7 787.4L703.3 787.8M728.9 787.4L719.4 787.8M420.5 772.4L414.3 769.7M436.8 772.4L430.2 770.0M453.0 772.4L446.1 770.3M469.2 772.4L462.1 770.6M485.5 772.4L477.6 771.4M501.7 772.4L493.4 772.2M517.9 772.4L509.3 772.8M534.1 772.4L525.4 773.0M550.4 772.4L541.6 773.1M566.6 772.4L557.8 773.1M582.8 772.4L574.0 773.0M599.1 772.4L590.1 773.0M615.3 772.4L606.3 773.0M631.5 772.4L622.5 772.9M647.8 772.4L638.6 772.8M664.0 772.4L654.8 772.8M680.2 772.4L670.9 772.8M696.4 772.4L687.1 772.8M712.7 772.4L703.3 772.8M728.9 772.4L719.4 772.9M420.5 757.5L418.4 753.7M436.8 757.5L434.4 753.6M453.0 757.5L450.4 753.6M469.2 757.5L466.4 753.6M485.5 757.5L481.9 753.6M501.7 757.5L497.2 753.8M517.9 757.5L512.4 754.3M534.1 757.5L527.6 754.9M550.4 757.5L542.7 756.1M566.6 757.5L558.2 757.3M582.8 757.5L574.0 758.1M599.1 757.5L590.2 758.3M615.3 757.5L606.3 758.3M631.5 757.5L622.5 758.2M647.8 757.5L638.7 758.2M664.0 757.5L654.8 758.1M680.2 757.5L671.0 758.0M696.4 757.5L687.1 757.9M712.7 757.5L703.3 757.9M728.9 757.5L719.4 757.9M420.5 742.5L418.8 738.8M436.8 742.5L435.0 738.8M453.0 742.5L451.3 738.8M469.2 742.5L467.5 738.8M485.5 742.5L483.7 738.8M501.7 742.5L500.0 738.8M517.9 742.5L516.1 738.8M534.1 742.5L531.9 738.7M550.4 742.5L547.2 738.6M566.6 742.5L562.2 738.8M582.8 742.5L577.0 739.5M599.1 742.5L591.9 740.6M615.3 742.5L606.9 742.2M631.5 742.5L622.6 743.3M647.8 742.5L638.7 743.5M664.0 742.5L654.8 743.4M680.2 742.5L671.0 743.4M696.4 742.5L687.1 743.3M712.7 742.5L703.3 743.2M728.9 742.5L719.4 743.2M420.5 727.5L418.8 723.8M436.8 727.5L435.0 723.8M453.0 727.5L451.3 723.8M469.2 727.5L467.5 723.8M485.5 727.5L483.7 723.8M501.7 727.5L500.0 723.8M517.9 727.5L516.2 723.8M534.1 727.5L532.4 723.8M550.4 727.5L548.7 723.8M566.6 727.5L564.9 723.8M582.8 727.5L580.9 723.8M599.1 727.5L596.5 723.7M615.3 727.5L611.3 723.7M631.5 727.5L625.7 724.5M647.8 727.5L640.2 725.9M664.0 727.5L655.4 727.6M680.2 727.5L671.1 728.5M696.4 727.5L687.2 728.7M712.7 727.5L703.3 728.7M728.9 727.5L719.5 728.6M420.5 712.5L418.8 708.9M436.8 712.5L435.0 708.9M453.0 712.5L451.3 708.9M469.2 712.5L467.5 708.9M485.5 712.5L483.7 708.9M501.7 712.5L500.0 708.9M517.9 712.5L516.2 708.9M534.1 712.5L532.4 708.9M550.4 712.5L548.7 708.9M566.6 712.5L564.9 708.9M582.8 712.5L581.1 708.9M599.1 712.5L597.3 708.9M615.3 712.5L613.6 708.9M631.5 712.5L629.6 708.8M647.8 712.5L645.0 708.7M664.0 712.5L659.6 708.8M680.2 712.5L674.3 709.6M696.4 712.5L689.0 710.8M712.7 712.5L704.2 712.3M728.9 712.5L719.8 713.5M420.5 697.6L418.9 694.0M436.8 697.6L435.1 694.0M453.0 697.6L451.3 694.0M469.2 697.6L467.6 694.0M485.5 697.6L483.8 694.0M501.7 697.6L500.0 694.0M517.9 697.6L516.3 694.0M534.1 697.6L532.5 694.0M550.4 697.6L548.7 694.0M566.6 697.6L564.9 694.0M582.8 697.6L581.2 694.0M599.1 697.6L597.4 694.0M615.3 697.6L613.6 694.0M631.5 697.6L629.9 694.0M647.8 697.6L646.1 694.0M664.0 697.6L662.3 694.0M680.2 697.6L678.4 694.0M696.4 697.6L693.9 693.8M712.7 697.6L708.8 693.8M728.9 697.6L723.5 694.4M420.5 682.6L418.9 679.2M436.8 682.6L435.2 679.2M453.0 682.6L451.4 679.2M469.2 682.6L467.6 679.2M485.5 682.6L483.9 679.2M501.7 682.6L500.1 679.2M517.9 682.6L516.3 679.2M534.1 682.6L532.6 679.2M550.4 682.6L548.8 679.2M566.6 682.6L565.0 679.2M582.8 682.6L581.2 679.2M599.1 682.6L597.5 679.2M615.3 682.6L613.7 679.2M631.5 682.6L629.9 679.2M647.8 682.6L646.2 679.2M664.0 682.6L662.4 679.2M680.2 682.6L678.6 679.2M696.4 682.6L694.9 679.2M712.7 682.6L711.1 679.2M728.9 682.6L727.3 679.2M420.5 667.6L419.0 664.4M436.8 667.6L435.2 664.4M453.0 667.6L451.5 664.4M469.2 667.6L467.7 664.4M485.5 667.6L483.9 664.4M501.7 667.6L500.2 664.4M517.9 667.6L516.4 664.4M534.1 667.6L532.6 664.4M550.4 667.6L548.8 664.4M566.6 667.6L565.1 664.4M582.8 667.6L581.3 664.4M599.1 667.6L597.5 664.4M615.3 667.6L613.8 664.4M631.5 667.6L630.0 664.4M647.8 667.6L646.2 664.4M664.0 667.6L662.5 664.4M680.2 667.6L678.7 664.4M696.4 667.6L694.9 664.4M712.7 667.6L711.1 664.4M728.9 667.6L727.4 664.4M420.5 652.6L419.1 649.5M436.8 652.6L435.3 649.5M453.0 652.6L451.5 649.5M469.2 652.6L467.8 649.5M485.5 652.6L484.0 649.5M501.7 652.6L500.2 649.5M517.9 652.6L516.5 649.5M534.1 652.6L532.7 649.5M550.4 652.6L548.9 649.5M566.6 652.6L565.1 649.5M582.8 652.6L581.4 649.5M599.1 652.6L597.6 649.5M615.3 652.6L613.8 649.5M631.5 652.6L630.1 649.5M647.8 652.6L646.3 649.5M664.0 652.6L662.5 649.5M680.2 652.6L678.8 649.5M696.4 652.6L695.0 649.5M712.7 652.6L711.2 649.5M728.9 652.6L727.4 649.5M420.5 637.7L419.1 634.7M436.8 637.7L435.4 634.7M453.0 637.7L451.6 634.7M469.2 637.7L467.8 634.7M485.5 637.7L484.1 634.7M501.7 637.7L500.3 634.7M517.9 637.7L516.5 634.7M534.1 637.7L532.8 634.7M550.4 637.7L549.0 634.7M566.6 637.7L565.2 634.7M582.8 637.7L581.4 634.7M599.1 637.7L597.7 634.7M615.3 637.7L613.9 634.7M631.5 637.7L630.1 634.7M647.8 637.7L646.4 634.7M664.0 637.7L662.6 634.7M680.2 637.7L678.8 634.7M696.4 637.7L695.1 634.7M712.7 637.7L711.3 634.7M728.9 637.7L727.5 634.7M420.5 622.7L419.2 619.9M436.8 622.7L435.4 619.9M453.0 622.7L451.7 619.9M469.2 622.7L467.9 619.9M485.5 622.7L484.1 619.9M501.7 622.7L500.4 619.9M517.9 622.7L516.6 619.9M534.1 622.7L532.8 619.9M550.4 622.7L549.0 619.9M566.6 622.7L565.3 619.9M582.8 622.7L581.5 619.9M599.1 622.7L597.7 619.9M615.3 622.7L614.0 619.9M631.5 622.7L630.2 619.9M647.8 622.7L646.4 619.9M664.0 622.7L662.7 619.9M680.2 622.7L678.9 619.9M696.4 622.7L695.1 619.9M712.7 622.7L711.3 619.9M728.9 622.7L727.6 619.9M420.5 607.7L419.3 605.0M436.8 607.7L435.5 605.0M453.0 607.7L451.7 605.0M469.2 607.7L468.0 605.0M485.5 607.7L484.2 605.0M501.7 607.7L500.4 605.0M517.9 607.7L516.7 605.0M534.1 607.7L532.9 605.0M550.4 607.7L549.1 605.0M566.6 607.7L565.3 605.0M582.8 607.7L581.6 605.0M599.1 607.7L597.8 605.0M615.3 607.7L614.0 605.0M631.5 607.7L630.3 605.0M647.8 607.7L646.5 605.0M664.0 607.7L662.7 605.0M680.2 607.7L679.0 605.0M696.4 607.7L695.2 605.0M712.7 607.7L711.4 605.0M728.9 607.7L727.6 605.0M420.5 592.8L419.3 590.2M436.8 592.8L435.6 590.2M453.0 592.8L451.8 590.2M469.2 592.8L468.0 590.2M485.5 592.8L484.3 590.2M501.7 592.8L500.5 590.2M517.9 592.8L516.7 590.2M534.1 592.8L532.9 590.2M550.4 592.8L549.2 590.2M566.6 592.8L565.4 590.2M582.8 592.8L581.6 590.2M599.1 592.8L597.9 590.2M615.3 592.8L614.1 590.2M631.5 592.8L630.3 590.2M647.8 592.8L646.6 590.2M664.0 592.8L662.8 590.2M680.2 592.8L679.0 590.2M696.4 592.8L695.2 590.2M712.7 592.8L711.5 590.2M728.9 592.8L727.7 590.2M420.5 577.8L419.4 575.4M436.8 577.8L435.6 575.4M453.0 577.8L451.9 575.4M469.2 577.8L468.1 575.4M485.5 577.8L484.3 575.4M501.7 577.8L500.6 575.4M517.9 577.8L516.8 575.4M534.1 577.8L533.0 575.4M550.4 577.8L549.2 575.4M566.6 577.8L565.5 575.4M582.8 577.8L581.7 575.4M599.1 577.8L597.9 575.4M615.3 577.8L614.2 575.4M631.5 577.8L630.4 575.4M647.8 577.8L646.6 575.4M664.0 577.8L662.9 575.4M680.2 577.8L679.1 575.4M696.4 577.8L695.3 575.4M712.7 577.8L711.5 575.4M728.9 577.8L727.8 575.4" stroke="#140f0f" stroke-width="1.75" fill="none"/>
<path d="M406.0 787.8L412.0 785.1L412.1 790.1zM422.1 787.9L428.2 785.2L428.3 790.2zM438.3 788.0L444.4 785.2L444.5 790.2zM454.4 788.0L460.5 785.3L460.7 790.3zM470.6 788.1L476.7 785.3L476.9 790.3zM486.7 788.1L492.9 785.3L493.1 790.3zM502.9 788.2L509.1 785.4L509.3 790.4zM519.1 788.2L525.3 785.4L525.5 790.4zM535.2 788.2L541.5 785.4L541.7 790.4zM551.4 788.1L557.6 785.3L557.9 790.3zM567.5 788.1L573.8 785.3L574.1 790.3zM583.7 788.0L590.0 785.3L590.2 790.3zM599.8 788.0L606.2 785.2L606.4 790.2zM616.0 788.0L622.4 785.3L622.6 790.2zM632.1 788.0L638.5 785.3L638.7 790.3zM648.3 788.0L654.7 785.3L654.9 790.3zM664.4 788.1L670.8 785.3L671.0 790.3zM680.6 788.1L687.0 785.3L687.2 790.3zM696.8 788.1L703.1 785.3L703.4 790.3zM712.9 788.1L719.3 785.3L719.5 790.3zM409.9 767.7L415.3 767.5L413.4 771.9zM425.5 768.2L431.1 767.7L429.4 772.3zM441.2 768.7L446.9 767.9L445.4 772.6zM456.9 769.2L462.7 768.1L461.4 773.0zM471.9 770.7L477.9 768.9L477.3 773.9zM487.3 772.1L493.4 769.7L493.3 774.7zM503.1 773.1L509.2 770.3L509.4 775.3zM519.1 773.5L525.2 770.6L525.6 775.5zM535.2 773.5L541.4 770.6L541.8 775.6zM551.4 773.5L557.6 770.6L557.9 775.6zM567.5 773.5L573.8 770.6L574.1 775.5zM583.7 773.4L590.0 770.5L590.3 775.5zM599.8 773.4L606.2 770.5L606.5 775.5zM616.0 773.2L622.4 770.4L622.6 775.4zM632.1 773.1L638.5 770.3L638.7 775.3zM648.3 773.1L654.7 770.3L654.9 775.3zM664.4 773.1L670.8 770.3L671.0 775.3zM680.6 773.1L687.0 770.3L687.2 775.3zM696.8 773.1L703.1 770.4L703.4 775.3zM712.9 773.1L719.3 770.4L719.5 775.4zM416.8 750.9L419.8 752.8L416.9 754.5zM432.7 750.9L435.9 752.8L433.0 754.5zM448.6 750.8L451.9 752.7L449.0 754.6zM464.4 750.8L467.9 752.6L465.0 754.7zM479.3 750.8L483.3 752.3L480.5 754.9zM493.9 751.2L498.5 752.2L495.9 755.5zM508.4 751.9L513.5 752.3L511.2 756.2zM522.9 753.1L528.5 752.6L526.7 757.2zM537.2 755.1L543.1 753.7L542.3 758.6zM552.1 757.2L558.2 754.8L558.1 759.8zM567.7 758.6L573.8 755.7L574.2 760.6zM583.7 758.9L589.9 755.8L590.4 760.8zM599.9 758.8L606.1 755.8L606.6 760.7zM616.0 758.7L622.3 755.7L622.7 760.7zM632.2 758.6L638.5 755.7L638.8 760.6zM648.3 758.5L654.6 755.6L655.0 760.6zM664.5 758.4L670.8 755.5L671.1 760.5zM680.6 758.2L687.0 755.4L687.2 760.4zM696.8 758.1L703.1 755.4L703.4 760.4zM712.9 758.2L719.3 755.4L719.5 760.4zM417.6 736.2L420.3 738.1L417.4 739.5zM433.8 736.2L436.5 738.1L433.6 739.5zM450.0 736.2L452.7 738.1L449.8 739.5zM466.3 736.2L468.9 738.1L466.1 739.5zM482.5 736.2L485.2 738.1L482.3 739.5zM498.7 736.2L501.4 738.1L498.5 739.5zM514.7 736.1L517.5 738.1L514.6 739.5zM530.3 735.9L533.4 737.8L530.5 739.5zM545.0 735.8L548.7 737.5L545.8 739.8zM559.0 736.2L563.5 737.2L560.9 740.4zM572.7 737.3L578.0 737.4L575.9 741.5zM586.7 739.1L592.5 738.1L591.2 743.0zM600.9 741.9L607.0 739.7L606.8 744.7zM616.2 743.9L622.4 740.8L622.8 745.8zM632.2 744.2L638.4 741.0L638.9 746.0zM648.4 744.1L654.6 740.9L655.1 745.9zM664.5 744.0L670.7 740.9L671.2 745.9zM680.7 743.9L686.9 740.8L687.3 745.8zM696.8 743.8L703.1 740.8L703.5 745.7zM712.9 743.6L719.2 740.7L719.6 745.7zM417.6 721.2L420.3 723.2L417.4 724.5zM433.8 721.2L436.5 723.2L433.6 724.5zM450.0 721.2L452.7 723.2L449.8 724.5zM466.3 721.2L468.9 723.2L466.1 724.5zM482.5 721.2L485.2 723.2L482.3 724.5zM498.7 721.2L501.4 723.2L498.5 724.5zM515.0 721.2L517.6 723.2L514.8 724.5zM531.2 721.2L533.9 723.2L531.0 724.5zM547.4 721.2L550.1 723.2L547.2 724.5zM563.6 721.2L566.3 723.2L563.4 724.5zM579.5 721.1L582.4 723.0L579.5 724.5zM594.6 720.9L597.9 722.7L595.0 724.6zM608.3 721.0L612.6 722.3L609.9 725.2zM621.4 722.3L626.7 722.4L624.6 726.5zM634.8 724.7L640.8 723.5L639.7 728.4zM649.2 727.6L655.4 725.1L655.4 730.1zM664.7 729.3L670.9 726.1L671.4 731.0zM680.7 729.5L686.8 726.2L687.5 731.2zM696.9 729.4L703.0 726.2L703.6 731.1zM713.0 729.3L719.2 726.1L719.7 731.1zM417.6 706.2L420.3 708.2L417.4 709.5zM433.8 706.2L436.5 708.2L433.6 709.5zM450.0 706.2L452.7 708.2L449.8 709.5zM466.3 706.2L468.9 708.2L466.1 709.5zM482.5 706.2L485.2 708.2L482.3 709.5zM498.7 706.2L501.4 708.2L498.5 709.5zM515.0 706.2L517.6 708.2L514.8 709.5zM531.2 706.2L533.9 708.2L531.0 709.5zM547.4 706.2L550.1 708.2L547.2 709.5zM563.6 706.2L566.3 708.2L563.4 709.5zM579.9 706.2L582.6 708.2L579.7 709.5zM596.1 706.2L598.8 708.2L595.9 709.5zM612.3 706.2L615.0 708.2L612.1 709.5zM628.3 706.1L631.1 708.1L628.2 709.6zM643.0 705.9L646.4 707.6L643.5 709.7zM656.5 706.2L661.0 707.3L658.3 710.4zM669.9 707.4L675.3 707.4L673.2 711.7zM683.6 709.6L689.6 708.4L688.4 713.2zM698.1 712.1L704.3 709.8L704.1 714.8zM713.3 714.2L719.5 711.1L720.1 716.0zM417.7 691.5L420.3 693.4L417.5 694.7zM433.9 691.5L436.5 693.4L433.7 694.7zM450.1 691.5L452.7 693.4L449.9 694.7zM466.4 691.5L469.0 693.4L466.2 694.7zM482.6 691.5L485.2 693.4L482.4 694.7zM498.8 691.5L501.4 693.4L498.6 694.7zM515.1 691.5L517.7 693.4L514.9 694.7zM531.3 691.5L533.9 693.4L531.1 694.7zM547.5 691.5L550.1 693.4L547.3 694.7zM563.8 691.5L566.3 693.4L563.5 694.7zM580.0 691.5L582.6 693.4L579.8 694.7zM596.2 691.5L598.8 693.4L596.0 694.7zM612.4 691.5L615.0 693.4L612.2 694.7zM628.7 691.5L631.3 693.4L628.5 694.7zM644.9 691.5L647.5 693.4L644.7 694.7zM661.1 691.5L663.7 693.4L660.9 694.7zM677.1 691.4L679.8 693.3L677.0 694.7zM692.0 691.1L695.3 692.8L692.5 694.8zM706.1 691.1L710.2 692.4L707.5 695.3zM719.5 692.0L724.6 692.4L722.3 696.3zM417.8 676.7L420.3 678.6L417.6 679.8zM434.0 676.7L436.5 678.6L433.8 679.8zM450.3 676.7L452.8 678.6L450.0 679.8zM466.5 676.7L469.0 678.6L466.3 679.8zM482.7 676.7L485.2 678.6L482.5 679.8zM498.9 676.7L501.5 678.6L498.7 679.8zM515.2 676.7L517.7 678.6L515.0 679.8zM531.4 676.7L533.9 678.6L531.2 679.8zM547.6 676.7L550.1 678.6L547.4 679.8zM563.9 676.7L566.4 678.6L563.7 679.8zM580.1 676.7L582.6 678.6L579.9 679.8zM596.3 676.7L598.8 678.6L596.1 679.8zM612.6 676.7L615.1 678.6L612.3 679.8zM628.8 676.7L631.3 678.6L628.6 679.8zM645.0 676.7L647.5 678.6L644.8 679.8zM661.2 676.7L663.8 678.6L661.0 679.8zM677.5 676.7L680.0 678.6L677.3 679.8zM693.7 676.7L696.2 678.6L693.5 679.8zM709.9 676.7L712.4 678.6L709.7 679.8zM726.1 676.7L728.6 678.5L725.9 679.8zM417.9 662.0L420.3 663.8L417.7 665.0zM434.1 662.0L436.6 663.8L433.9 665.0zM450.4 662.0L452.8 663.8L450.2 665.0zM466.6 662.0L469.0 663.8L466.4 665.0zM482.8 662.0L485.2 663.8L482.6 665.0zM499.1 662.0L501.5 663.8L498.8 665.0zM515.3 662.0L517.7 663.8L515.1 665.0zM531.5 662.0L533.9 663.8L531.3 665.0zM547.7 662.0L550.2 663.8L547.5 665.0zM564.0 662.0L566.4 663.8L563.8 665.0zM580.2 662.0L582.6 663.8L580.0 665.0zM596.4 662.0L598.9 663.8L596.2 665.0zM612.7 662.0L615.1 663.8L612.5 665.0zM628.9 662.0L631.3 663.8L628.7 665.0zM645.1 662.0L647.5 663.8L644.9 665.0zM661.4 662.0L663.8 663.8L661.1 665.0zM677.6 662.0L680.0 663.8L677.4 665.0zM693.8 662.0L696.2 663.8L693.6 665.0zM710.0 662.0L712.5 663.8L709.8 665.0zM726.3 662.0L728.7 663.8L726.1 665.0zM418.0 647.3L420.4 648.9L417.8 650.1zM434.3 647.3L436.6 648.9L434.0 650.1zM450.5 647.3L452.8 648.9L450.3 650.1zM466.7 647.3L469.0 648.9L466.5 650.1zM482.9 647.3L485.3 648.9L482.7 650.1zM499.2 647.3L501.5 648.9L498.9 650.1zM515.4 647.3L517.7 648.9L515.2 650.1zM531.6 647.3L534.0 648.9L531.4 650.1zM547.9 647.3L550.2 648.9L547.6 650.1zM564.1 647.3L566.4 648.9L563.9 650.1zM580.3 647.3L582.7 648.9L580.1 650.1zM596.6 647.3L598.9 648.9L596.3 650.1zM612.8 647.3L615.1 648.9L612.6 650.1zM629.0 647.3L631.3 648.9L628.8 650.1zM645.2 647.3L647.6 648.9L645.0 650.1zM661.5 647.3L663.8 648.9L661.2 650.1zM677.7 647.3L680.0 648.9L677.5 650.1zM693.9 647.3L696.3 648.9L693.7 650.1zM710.2 647.3L712.5 648.9L709.9 650.1zM726.4 647.3L728.7 648.9L726.2 650.1zM418.1 632.5L420.4 634.1L417.9 635.3zM434.4 632.5L436.6 634.1L434.1 635.3zM450.6 632.5L452.8 634.1L450.4 635.3zM466.8 632.5L469.1 634.1L466.6 635.3zM483.1 632.5L485.3 634.1L482.8 635.3zM499.3 632.5L501.5 634.1L499.1 635.3zM515.5 632.5L517.8 634.1L515.3 635.3zM531.7 632.5L534.0 634.1L531.5 635.3zM548.0 632.5L550.2 634.1L547.7 635.3zM564.2 632.5L566.4 634.1L564.0 635.3zM580.4 632.5L582.7 634.1L580.2 635.3zM596.7 632.5L598.9 634.1L596.4 635.3zM612.9 632.5L615.1 634.1L612.7 635.3zM629.1 632.5L631.4 634.1L628.9 635.3zM645.4 632.5L647.6 634.1L645.1 635.3zM661.6 632.5L663.8 634.1L661.4 635.3zM677.8 632.5L680.1 634.1L677.6 635.3zM694.0 632.5L696.3 634.1L693.8 635.3zM710.3 632.5L712.5 634.1L710.0 635.3zM726.5 632.5L728.7 634.1L726.3 635.3zM418.2 617.8L420.4 619.3L418.0 620.4zM434.5 617.8L436.6 619.3L434.2 620.4zM450.7 617.8L452.9 619.3L450.5 620.4zM466.9 617.8L469.1 619.3L466.7 620.4zM483.2 617.8L485.3 619.3L482.9 620.4zM499.4 617.8L501.6 619.3L499.2 620.4zM515.6 617.8L517.8 619.3L515.4 620.4zM531.9 617.8L534.0 619.3L531.6 620.4zM548.1 617.8L550.2 619.3L547.9 620.4zM564.3 617.8L566.5 619.3L564.1 620.4zM580.5 617.8L582.7 619.3L580.3 620.4zM596.8 617.8L598.9 619.3L596.5 620.4zM613.0 617.8L615.2 619.3L612.8 620.4zM629.2 617.8L631.4 619.3L629.0 620.4zM645.5 617.8L647.6 619.3L645.2 620.4zM661.7 617.8L663.9 619.3L661.5 620.4zM677.9 617.8L680.1 619.3L677.7 620.4zM694.2 617.8L696.3 619.3L693.9 620.4zM710.4 617.8L712.5 619.3L710.2 620.4zM726.6 617.8L728.8 619.3L726.4 620.4zM418.4 603.1L420.4 604.5L418.1 605.6zM434.6 603.1L436.7 604.5L434.3 605.6zM450.8 603.1L452.9 604.5L450.6 605.6zM467.0 603.1L469.1 604.5L466.8 605.6zM483.3 603.1L485.3 604.5L483.0 605.6zM499.5 603.1L501.6 604.5L499.3 605.6zM515.7 603.1L517.8 604.5L515.5 605.6zM532.0 603.1L534.0 604.5L531.7 605.6zM548.2 603.1L550.3 604.5L548.0 605.6zM564.4 603.1L566.5 604.5L564.2 605.6zM580.7 603.1L582.7 604.5L580.4 605.6zM596.9 603.1L599.0 604.5L596.6 605.6zM613.1 603.1L615.2 604.5L612.9 605.6zM629.3 603.1L631.4 604.5L629.1 605.6zM645.6 603.1L647.6 604.5L645.3 605.6zM661.8 603.1L663.9 604.5L661.6 605.6zM678.0 603.1L680.1 604.5L677.8 605.6zM694.3 603.1L696.3 604.5L694.0 605.6zM710.5 603.1L712.6 604.5L710.3 605.6zM726.7 603.1L728.8 604.5L726.5 605.6zM418.5 588.3L420.4 589.7L418.2 590.7zM434.7 588.3L436.7 589.7L434.5 590.7zM450.9 588.3L452.9 589.7L450.7 590.7zM467.2 588.3L469.1 589.7L466.9 590.7zM483.4 588.3L485.4 589.7L483.1 590.7zM499.6 588.3L501.6 589.7L499.4 590.7zM515.9 588.3L517.8 589.7L515.6 590.7zM532.1 588.3L534.1 589.7L531.8 590.7zM548.3 588.3L550.3 589.7L548.1 590.7zM564.5 588.3L566.5 589.7L564.3 590.7zM580.8 588.3L582.7 589.7L580.5 590.7zM597.0 588.3L599.0 589.7L596.8 590.7zM613.2 588.3L615.2 589.7L613.0 590.7zM629.5 588.3L631.4 589.7L629.2 590.7zM645.7 588.3L647.7 589.7L645.4 590.7zM661.9 588.3L663.9 589.7L661.7 590.7zM678.2 588.3L680.1 589.7L677.9 590.7zM694.4 588.3L696.4 589.7L694.1 590.7zM710.6 588.3L712.6 589.7L710.4 590.7zM726.8 588.3L728.8 589.7L726.6 590.7zM418.6 573.6L420.5 574.9L418.3 575.9zM434.8 573.6L436.7 574.9L434.6 575.9zM451.0 573.6L452.9 574.9L450.8 575.9zM467.3 573.6L469.2 574.9L467.0 575.9zM483.5 573.6L485.4 574.9L483.2 575.9zM499.7 573.6L501.6 574.9L499.5 575.9zM516.0 573.6L517.9 574.9L515.7 575.9zM532.2 573.6L534.1 574.9L531.9 575.9zM548.4 573.6L550.3 574.9L548.2 575.9zM564.7 573.6L566.5 574.9L564.4 575.9zM580.9 573.6L582.8 574.9L580.6 575.9zM597.1 573.6L599.0 574.9L596.9 575.9zM613.3 573.6L615.2 574.9L613.1 575.9zM629.6 573.6L631.5 574.9L629.3 575.9zM645.8 573.6L647.7 574.9L645.5 575.9zM662.0 573.6L663.9 574.9L661.8 575.9zM678.3 573.6L680.2 574.9L678.0 575.9zM694.5 573.6L696.4 574.9L694.2 575.9zM710.7 573.6L712.6 574.9L710.5 575.9zM727.0 573.6L728.8 574.9L726.7 575.9z" fill="#111"/>
<rect x="405.0" y="588.6" width="13.0" height="12" fill="#fff"/><text x="411.5" y="598.2" text-anchor="middle" font-family="Liberation Sans" font-weight="bold" font-size="10" fill="#111">16</text>
<rect x="471.5" y="574.7" width="13.0" height="12" fill="#fff"/><text x="478.0" y="584.3" text-anchor="middle" font-family="Liberation Sans" font-weight="bold" font-size="10" fill="#111">16</text>
<rect x="673.7" y="714.2" width="13.0" height="12" fill="#fff"/><text x="680.2" y="723.8" text-anchor="middle" font-family="Liberation Sans" font-weight="bold" font-size="10" fill="#111">16</text>
<rect x="545.1" y="577.6" width="13.0" height="12" fill="#fff"/><text x="551.6" y="587.2" text-anchor="middle" font-family="Liberation Sans" font-weight="bold" font-size="10" fill="#111">16</text>
<rect x="599.4" y="578.5" width="13.0" height="12" fill="#fff"/><text x="605.9" y="588.1" text-anchor="middle" font-family="Liberation Sans" font-weight="bold" font-size="10" fill="#111">16</text>
<rect x="675.1" y="627.6" width="13.0" height="12" fill="#fff"/><text x="681.6" y="637.2" text-anchor="middle" font-family="Liberation Sans" font-weight="bold" font-size="10" fill="#111">16</text>
<rect x="720.8" y="661.4" width="13.0" height="12" fill="#fff"/><text x="727.3" y="671.0" text-anchor="middle" font-family="Liberation Sans" font-weight="bold" font-size="10" fill="#111">16</text>
<rect x="411.7" y="673.8" width="13.0" height="12" fill="#fff"/><text x="418.2" y="683.4" text-anchor="middle" font-family="Liberation Sans" font-weight="bold" font-size="10" fill="#111">17</text>
<rect x="698.2" y="744.6" width="13.0" height="12" fill="#fff"/><text x="704.7" y="754.2" text-anchor="middle" font-family="Liberation Sans" font-weight="bold" font-size="10" fill="#111">17</text>
<rect x="425.2" y="720.0" width="13.0" height="12" fill="#fff"/><text x="431.7" y="729.6" text-anchor="middle" font-family="Liberation Sans" font-weight="bold" font-size="10" fill="#111">18</text>
<rect x="455.6" y="780.7" width="13.0" height="12" fill="#fff"/><text x="462.1" y="790.3" text-anchor="middle" font-family="Liberation Sans" font-weight="bold" font-size="10" fill="#111">18</text>
</g>
<rect x="404.3" y="562.8" width="324.6" height="239.6" fill="none" stroke="#3a3a3a" stroke-width="1"/>
<path d="M469.2 802.4v-4M469.2 562.8v4M534.1 802.4v-4M534.1 562.8v4M599.1 802.4v-4M599.1 562.8v4M664.0 802.4v-4M664.0 562.8v4M404.3 622.7h4M728.9 622.7h-4M404.3 682.6h4M728.9 682.6h-4M404.3 742.5h4M728.9 742.5h-4" stroke="#3a3a3a" stroke-width="1"/>
<text x="689.3" y="604.8" font-family="Liberation Serif" font-size="23" fill="#111">(h)</text>
<rect x="688.3" y="750.3" width="33" height="23.5" fill="#fff"/>
<path d="M693.8 757.3h16.9" stroke="#000" stroke-width="2.2"/><path d="M713.7 757.3l-4.5 -2.6v5.2z" fill="#000"/>
<text x="691.3" y="770.3" font-family="Liberation Serif" font-weight="bold" font-size="11" fill="#111">4m/s</text>
<clipPath id="ki"><rect x="770.3" y="562.8" width="324.6" height="239.6"/></clipPath>
<g clip-path="url(#ki)">
<polyline points="825.2,562.8 836.2,570.9 842.5,562.8" fill="none" stroke="#f0f0f0" stroke-width="1.5" stroke-linejoin="round"/>
<polyline points="894.5,565.7 885.9,580.1 891.6,594.6 906.1,600.4 920.5,591.7 923.4,581.6 920.5,568.6 909.0,564.2 894.5,565.7" fill="none" stroke="#f0f0f0" stroke-width="1.5" stroke-linejoin="round"/>
<polyline points="770.3,617.7 793.4,609.0 809.3,603.2 822.3,588.8 839.6,587.4 857.0,594.6 880.1,606.1 897.4,620.6 903.2,635.0 891.6,655.2 888.7,672.6 906.1,678.4 926.3,675.5 943.6,663.9 946.5,643.7 958.1,629.2 978.3,620.6 998.5,623.5 1004.3,631.3 998.5,646.6 1001.4,663.9 1018.7,663.9 1030.3,646.6 1044.7,632.1 1065.0,627.8 1085.2,620.6 1095.3,614.8" fill="none" stroke="#f0f0f0" stroke-width="1.5" stroke-linejoin="round"/>
<polyline points="770.3,681.2 784.7,681.2 802.1,682.7 828.1,689.9 848.3,698.6 865.6,718.8 885.9,724.6 914.7,715.9 943.6,710.1 972.5,707.2 1001.4,698.6 1030.3,687.0 1053.4,695.7 1072.2,697.1 1095.3,691.4" fill="none" stroke="#f0f0f0" stroke-width="1.5" stroke-linejoin="round"/>
<polyline points="770.3,707.2 784.7,707.8 802.1,713.0 810.7,727.5 810.7,747.7 816.5,762.1 842.5,762.1 885.9,753.5 929.2,741.9 972.5,733.2 1015.9,724.6 1062.1,720.2 1095.3,715.9" fill="none" stroke="#f0f0f0" stroke-width="1.5" stroke-linejoin="round"/>
<polyline points="770.3,782.4 837.3,782.4 885.9,773.7 943.6,762.1 1001.4,750.6 1059.2,741.9 1095.3,737.6" fill="none" stroke="#f0f0f0" stroke-width="1.5" stroke-linejoin="round"/>
<polyline points="842.5,802.9 897.4,795.4 943.6,788.1 1001.4,779.5 1059.2,772.2 1095.3,769.4" fill="none" stroke="#f0f0f0" stroke-width="1.5" stroke-linejoin="round"/>
<use href="#geo" x="770.3" y="562.8"/>
<path d="M786.5 787.4L779.5 791.6M802.8 787.4L795.7 791.7M819.0 787.4L811.9 791.8M835.2 787.4L828.1 791.9M851.4 787.4L844.3 792.0M867.7 787.4L860.5 792.1M883.9 787.4L876.7 792.2M900.1 787.4L892.9 792.2M916.4 787.4L909.0 792.2M932.6 787.4L925.2 792.3M948.8 787.4L941.3 792.3M965.1 787.4L957.5 792.3M981.3 787.4L973.7 792.4M997.5 787.4L989.8 792.5M1013.8 787.4L1006.0 792.6M1030.0 787.4L1022.1 792.7M1046.2 787.4L1038.3 792.8M1062.4 787.4L1054.4 792.9M1078.7 787.4L1070.6 793.1M1094.9 787.4L1086.7 793.2M786.5 772.4L780.1 776.6M802.8 772.4L796.2 776.7M819.0 772.4L812.3 776.9M835.2 772.4L828.4 777.0M851.4 772.4L844.5 777.1M867.7 772.4L860.6 777.2M883.9 772.4L876.8 777.3M900.1 772.4L893.0 777.4M916.4 772.4L909.2 777.5M932.6 772.4L925.4 777.5M948.8 772.4L941.5 777.6M965.1 772.4L957.7 777.6M981.3 772.4L973.8 777.6M997.5 772.4L989.8 777.6M1013.8 772.4L1006.0 777.7M1030.0 772.4L1022.1 777.8M1046.2 772.4L1038.3 777.9M1062.4 772.4L1054.4 778.0M1078.7 772.4L1070.6 778.1M1094.9 772.4L1086.7 778.2M786.5 757.5L782.2 761.3M802.8 757.5L798.3 761.4M819.0 757.5L814.4 761.5M835.2 757.5L830.5 761.6M851.4 757.5L846.3 761.8M867.7 757.5L862.1 762.0M883.9 757.5L877.9 762.2M900.1 757.5L893.7 762.4M916.4 757.5L909.5 762.7M932.6 757.5L925.5 762.8M948.8 757.5L941.7 762.8M965.1 757.5L957.9 762.9M981.3 757.5L974.0 762.9M997.5 757.5L990.1 763.0M1013.8 757.5L1006.2 763.0M1030.0 757.5L1022.2 763.0M1046.2 757.5L1038.3 762.9M1062.4 757.5L1054.4 763.0M1078.7 757.5L1070.6 763.1M1094.9 757.5L1086.7 763.2M786.5 742.5L783.2 746.2M802.8 742.5L799.5 746.2M819.0 742.5L815.7 746.2M835.2 742.5L831.9 746.2M851.4 742.5L848.1 746.2M867.7 742.5L864.1 746.3M883.9 742.5L880.1 746.5M900.1 742.5L896.0 746.7M916.4 742.5L911.6 747.1M932.6 742.5L927.2 747.4M948.8 742.5L942.8 747.8M965.1 742.5L958.5 748.0M981.3 742.5L974.3 748.2M997.5 742.5L990.3 748.3M1013.8 742.5L1006.4 748.4M1030.0 742.5L1022.5 748.4M1046.2 742.5L1038.6 748.4M1062.4 742.5L1054.7 748.4M1078.7 742.5L1070.7 748.4M1094.9 742.5L1086.8 748.3M786.5 727.5L783.4 731.3M802.8 727.5L799.6 731.3M819.0 727.5L815.9 731.3M835.2 727.5L832.1 731.3M851.4 727.5L848.3 731.3M867.7 727.5L864.5 731.3M883.9 727.5L880.8 731.3M900.1 727.5L897.0 731.3M916.4 727.5L913.2 731.3M932.6 727.5L929.3 731.5M948.8 727.5L945.1 731.8M965.1 727.5L960.8 732.1M981.3 727.5L976.3 732.7M997.5 727.5L991.7 733.1M1013.8 727.5L1007.2 733.5M1030.0 727.5L1022.9 733.8M1046.2 727.5L1038.9 733.8M1062.4 727.5L1055.0 733.9M1078.7 727.5L1071.1 733.9M1094.9 727.5L1087.2 733.9M786.5 712.5L783.6 716.5M802.8 712.5L799.8 716.5M819.0 712.5L816.0 716.5M835.2 712.5L832.3 716.5M851.4 712.5L848.5 716.5M867.7 712.5L864.7 716.5M883.9 712.5L880.9 716.5M900.1 712.5L897.2 716.5M916.4 712.5L913.4 716.5M932.6 712.5L929.6 716.5M948.8 712.5L945.9 716.5M965.1 712.5L962.1 716.5M981.3 712.5L978.2 716.6M997.5 712.5L994.0 717.0M1013.8 712.5L1009.6 717.5M1030.0 712.5L1025.0 718.1M1046.2 712.5L1040.5 718.5M1062.4 712.5L1056.1 718.9M1078.7 712.5L1071.6 719.3M1094.9 712.5L1087.6 719.4M786.5 697.6L783.8 701.5M802.8 697.6L800.1 701.5M819.0 697.6L816.3 701.5M835.2 697.6L832.5 701.5M851.4 697.6L848.8 701.5M867.7 697.6L865.0 701.5M883.9 697.6L881.2 701.5M900.1 697.6L897.5 701.5M916.4 697.6L913.7 701.5M932.6 697.6L929.9 701.5M948.8 697.6L946.1 701.5M965.1 697.6L962.4 701.5M981.3 697.6L978.6 701.5M997.5 697.6L994.8 701.5M1013.8 697.6L1011.1 701.5M1030.0 697.6L1027.1 701.6M1046.2 697.6L1043.0 702.0M1062.4 697.6L1058.6 702.6M1078.7 697.6L1074.2 703.2M1094.9 697.6L1089.6 703.7M786.5 682.6L784.1 686.5M802.8 682.6L800.3 686.5M819.0 682.6L816.6 686.5M835.2 682.6L832.8 686.5M851.4 682.6L849.0 686.5M867.7 682.6L865.3 686.5M883.9 682.6L881.5 686.5M900.1 682.6L897.7 686.5M916.4 682.6L914.0 686.5M932.6 682.6L930.2 686.5M948.8 682.6L946.4 686.5M965.1 682.6L962.6 686.5M981.3 682.6L978.9 686.5M997.5 682.6L995.1 686.5M1013.8 682.6L1011.3 686.5M1030.0 682.6L1027.6 686.5M1046.2 682.6L1043.8 686.5M1062.4 682.6L1060.0 686.5M1078.7 682.6L1076.2 686.6M1094.9 682.6L1092.1 686.9M786.5 667.6L784.4 671.4M802.8 667.6L800.6 671.4M819.0 667.6L816.8 671.4M835.2 667.6L833.1 671.4M851.4 667.6L849.3 671.4M867.7 667.6L865.5 671.4M883.9 667.6L881.8 671.4M900.1 667.6L898.0 671.4M916.4 667.6L914.2 671.4M932.6 667.6L930.4 671.4M948.8 667.6L946.7 671.4M965.1 667.6L962.9 671.4M981.3 667.6L979.1 671.4M997.5 667.6L995.4 671.4M1013.8 667.6L1011.6 671.4M1030.0 667.6L1027.8 671.4M1046.2 667.6L1044.1 671.4M1062.4 667.6L1060.3 671.4M1078.7 667.6L1076.5 671.4M1094.9 667.6L1092.7 671.4M786.5 652.6L784.6 656.4M802.8 652.6L800.9 656.4M819.0 652.6L817.1 656.4M835.2 652.6L833.3 656.4M851.4 652.6L849.6 656.4M867.7 652.6L865.8 656.4M883.9 652.6L882.0 656.4M900.1 652.6L898.2 656.4M916.4 652.6L914.5 656.4M932.6 652.6L930.7 656.4M948.8 652.6L946.9 656.4M965.1 652.6L963.2 656.4M981.3 652.6L979.4 656.4M997.5 652.6L995.6 656.4M1013.8 652.6L1011.9 656.4M1030.0 652.6L1028.1 656.4M1046.2 652.6L1044.3 656.4M1062.4 652.6L1060.5 656.4M1078.7 652.6L1076.8 656.4M1094.9 652.6L1093.0 656.4M786.5 637.7L784.9 641.3M802.8 637.7L801.1 641.3M819.0 637.7L817.3 641.3M835.2 637.7L833.6 641.3M851.4 637.7L849.8 641.3M867.7 637.7L866.0 641.3M883.9 637.7L882.3 641.3M900.1 637.7L898.5 641.3M916.4 637.7L914.7 641.3M932.6 637.7L930.9 641.3M948.8 637.7L947.2 641.3M965.1 637.7L963.4 641.3M981.3 637.7L979.6 641.3M997.5 637.7L995.9 641.3M1013.8 637.7L1012.1 641.3M1030.0 637.7L1028.3 641.3M1046.2 637.7L1044.6 641.3M1062.4 637.7L1060.8 641.3M1078.7 637.7L1077.0 641.3M1094.9 637.7L1093.2 641.3M786.5 622.7L785.1 626.2M802.8 622.7L801.3 626.2M819.0 622.7L817.6 626.2M835.2 622.7L833.8 626.2M851.4 622.7L850.0 626.2M867.7 622.7L866.3 626.2M883.9 622.7L882.5 626.2M900.1 622.7L898.7 626.2M916.4 622.7L914.9 626.2M932.6 622.7L931.2 626.2M948.8 622.7L947.4 626.2M965.1 622.7L963.6 626.2M981.3 622.7L979.9 626.2M997.5 622.7L996.1 626.2M1013.8 622.7L1012.3 626.2M1030.0 622.7L1028.6 626.2M1046.2 622.7L1044.8 626.2M1062.4 622.7L1061.0 626.2M1078.7 622.7L1077.2 626.2M1094.9 622.7L1093.5 626.2M786.5 607.7L785.3 611.1M802.8 607.7L801.6 611.1M819.0 607.7L817.8 611.1M835.2 607.7L834.0 611.1M851.4 607.7L850.2 611.1M867.7 607.7L866.5 611.1M883.9 607.7L882.7 611.1M900.1 607.7L898.9 611.1M916.4 607.7L915.2 611.1M932.6 607.7L931.4 611.1M948.8 607.7L947.6 611.1M965.1 607.7L963.9 611.1M981.3 607.7L980.1 611.1M997.5 607.7L996.3 611.1M1013.8 607.7L1012.5 611.1M1030.0 607.7L1028.8 611.1M1046.2 607.7L1045.0 611.1M1062.4 607.7L1061.2 611.1M1078.7 607.7L1077.5 611.1M1094.9 607.7L1093.7 611.1M786.5 592.8L785.5 596.0M802.8 592.8L801.8 596.0M819.0 592.8L818.0 596.0M835.2 592.8L834.2 596.0M851.4 592.8L850.4 596.0M867.7 592.8L866.7 596.0M883.9 592.8L882.9 596.0M900.1 592.8L899.1 596.0M916.4 592.8L915.4 596.0M932.6 592.8L931.6 596.0M948.8 592.8L947.8 596.0M965.1 592.8L964.1 596.0M981.3 592.8L980.3 596.0M997.5 592.8L996.5 596.0M1013.8 592.8L1012.7 596.0M1030.0 592.8L1029.0 596.0M1046.2 592.8L1045.2 596.0M1062.4 592.8L1061.4 596.0M1078.7 592.8L1077.7 596.0M1094.9 592.8L1093.9 596.0M786.5 577.8L785.7 580.9M802.8 577.8L801.9 580.9M819.0 577.8L818.2 580.9M835.2 577.8L834.4 580.9M851.4 577.8L850.6 580.9M867.7 577.8L866.9 580.9M883.9 577.8L883.1 580.9M900.1 577.8L899.3 580.9M916.4 577.8L915.6 580.9M932.6 577.8L931.8 580.9M948.8 577.8L948.0 580.9M965.1 577.8L964.2 580.9M981.3 577.8L980.5 580.9M997.5 577.8L996.7 580.9M1013.8 577.8L1012.9 580.9M1030.0 577.8L1029.2 580.9M1046.2 577.8L1045.4 580.9M1062.4 577.8L1061.6 580.9M1078.7 577.8L1077.9 580.9M1094.9 577.8L1094.1 580.9" stroke="#140f0f" stroke-width="1.75" fill="none"/>
<path d="M774.4 794.6L778.2 789.4L780.8 793.7zM790.6 794.8L794.4 789.6L797.0 793.8zM806.8 795.0L810.6 789.7L813.2 793.9zM823.0 795.2L826.8 789.8L829.4 794.0zM839.1 795.3L843.0 789.9L845.7 794.1zM855.3 795.5L859.1 790.0L861.9 794.2zM871.5 795.6L875.3 790.1L878.1 794.2zM887.6 795.7L891.5 790.1L894.3 794.3zM903.7 795.7L907.7 790.2L910.4 794.3zM919.8 795.8L923.8 790.2L926.6 794.4zM935.9 795.8L940.0 790.2L942.7 794.4zM952.1 795.9L956.2 790.2L958.9 794.4zM968.2 796.0L972.3 790.3L975.0 794.5zM984.4 796.1L988.4 790.4L991.2 794.6zM1000.6 796.2L1004.6 790.6L1007.3 794.7zM1016.7 796.4L1020.7 790.7L1023.5 794.8zM1032.9 796.5L1036.8 790.8L1039.7 794.9zM1049.0 796.6L1053.0 790.9L1055.8 795.0zM1065.2 796.8L1069.1 791.0L1072.0 795.1zM1081.4 796.9L1085.3 791.1L1088.1 795.2zM775.4 779.6L778.7 774.5L781.4 778.7zM791.4 779.8L794.8 774.6L797.6 778.8zM807.5 780.0L810.9 774.8L813.7 778.9zM823.5 780.3L827.1 774.9L829.8 779.1zM839.4 780.5L843.1 775.1L845.8 779.2zM855.5 780.7L859.2 775.2L862.0 779.3zM871.7 780.9L875.4 775.3L878.2 779.4zM887.8 781.0L891.6 775.4L894.4 779.5zM904.0 781.1L907.8 775.4L910.6 779.5zM920.1 781.2L923.9 775.5L926.8 779.6zM936.2 781.3L940.1 775.5L943.0 779.6zM952.3 781.3L956.2 775.5L959.1 779.6zM968.4 781.3L972.3 775.5L975.2 779.7zM984.4 781.2L988.4 775.5L991.2 779.7zM1000.6 781.3L1004.6 775.6L1007.3 779.7zM1016.7 781.4L1020.7 775.7L1023.5 779.8zM1032.9 781.5L1036.8 775.8L1039.7 779.9zM1049.0 781.7L1053.0 775.9L1055.8 780.0zM1065.2 781.8L1069.1 776.0L1072.0 780.1zM1081.4 781.9L1085.3 776.1L1088.1 780.2zM779.1 764.1L780.8 759.8L783.6 762.9zM795.1 764.2L796.9 759.8L799.8 763.0zM811.1 764.4L813.0 759.8L815.9 763.1zM827.1 764.5L829.1 759.9L832.0 763.3zM842.6 764.9L844.8 760.0L847.8 763.6zM858.1 765.3L860.5 760.1L863.7 764.0zM873.5 765.7L876.3 760.3L879.4 764.2zM889.1 766.0L892.2 760.5L895.3 764.4zM904.6 766.4L908.0 760.7L911.0 764.7zM920.4 766.6L924.0 760.8L927.0 764.8zM936.6 766.7L940.2 760.9L943.2 764.8zM952.7 766.8L956.4 760.9L959.4 764.9zM968.8 766.8L972.5 760.9L975.5 764.9zM984.8 766.8L988.6 760.9L991.6 765.0zM1000.9 766.8L1004.7 760.9L1007.6 765.0zM1016.9 766.7L1020.8 760.9L1023.7 765.0zM1032.9 766.6L1036.9 760.9L1039.7 765.0zM1049.0 766.7L1053.0 760.9L1055.8 765.1zM1065.2 766.8L1069.1 761.0L1072.0 765.2zM1081.4 766.9L1085.3 761.2L1088.1 765.3zM780.8 748.8L781.9 744.9L784.6 747.4zM797.1 748.8L798.1 744.9L800.8 747.4zM813.3 748.8L814.3 744.9L817.1 747.4zM829.5 748.8L830.6 744.9L833.3 747.4zM845.7 748.9L846.7 744.9L849.5 747.5zM861.6 749.1L862.7 745.0L865.6 747.6zM877.3 749.4L878.6 745.1L881.6 747.9zM893.0 749.7L894.5 745.2L897.5 748.2zM908.2 750.3L910.0 745.4L913.3 748.7zM923.3 751.0L925.5 745.6L928.9 749.3zM938.5 751.6L941.2 745.9L944.5 749.6zM953.8 752.0L956.9 746.1L960.1 749.9zM969.2 752.4L972.7 746.3L975.9 750.2zM985.3 752.4L988.8 746.4L991.9 750.3zM1001.4 752.4L1004.9 746.4L1008.0 750.3zM1017.4 752.4L1021.0 746.4L1024.1 750.3zM1033.5 752.4L1037.1 746.4L1040.1 750.4zM1049.5 752.3L1053.2 746.4L1056.2 750.4zM1065.5 752.2L1069.2 746.4L1072.2 750.4zM1081.5 752.1L1085.3 746.3L1088.2 750.4zM781.1 734.1L782.0 730.2L784.8 732.5zM797.4 734.1L798.2 730.2L801.0 732.5zM813.6 734.1L814.4 730.2L817.3 732.5zM829.8 734.1L830.7 730.2L833.5 732.5zM846.0 734.1L846.9 730.2L849.7 732.5zM862.3 734.1L863.1 730.2L866.0 732.5zM878.5 734.1L879.4 730.2L882.2 732.5zM894.7 734.1L895.6 730.2L898.4 732.5zM910.9 734.1L911.8 730.2L914.6 732.5zM926.9 734.3L927.8 730.2L930.7 732.7zM942.4 734.8L943.6 730.4L946.7 733.1zM957.8 735.5L959.2 730.6L962.5 733.7zM972.6 736.4L974.5 730.9L978.1 734.4zM987.5 737.2L990.0 731.3L993.4 734.9zM1002.5 737.8L1005.5 731.6L1008.9 735.3zM1018.0 738.1L1021.2 731.9L1024.5 735.7zM1034.0 738.1L1037.3 731.9L1040.6 735.7zM1050.1 738.1L1053.4 732.0L1056.7 735.8zM1066.1 738.1L1069.5 732.0L1072.7 735.8zM1082.2 738.0L1085.6 732.0L1088.8 735.8zM781.4 719.3L782.1 715.4L785.0 717.6zM797.6 719.3L798.3 715.4L801.3 717.6zM813.9 719.3L814.5 715.4L817.5 717.6zM830.1 719.3L830.8 715.4L833.7 717.6zM846.3 719.3L847.0 715.4L850.0 717.6zM862.6 719.3L863.2 715.4L866.2 717.6zM878.8 719.3L879.5 715.4L882.4 717.6zM895.0 719.3L895.7 715.4L898.6 717.6zM911.3 719.3L911.9 715.4L914.9 717.6zM927.5 719.3L928.2 715.4L931.1 717.6zM943.7 719.3L944.4 715.4L947.3 717.6zM959.9 719.3L960.6 715.4L963.6 717.6zM976.0 719.5L976.7 715.4L979.7 717.7zM991.5 720.1L992.4 715.7L995.6 718.2zM1006.6 721.1L1007.8 716.0L1011.3 719.0zM1021.4 722.1L1023.1 716.4L1026.9 719.7zM1036.4 722.8L1038.7 716.8L1042.3 720.2zM1051.5 723.4L1054.3 717.1L1057.9 720.6zM1066.9 723.8L1069.9 717.5L1073.4 721.1zM1082.9 723.9L1085.9 717.6L1089.3 721.2zM781.9 704.3L782.4 700.5L785.3 702.5zM798.1 704.3L798.6 700.5L801.5 702.5zM814.4 704.3L814.8 700.5L817.8 702.5zM830.6 704.3L831.1 700.5L834.0 702.5zM846.8 704.3L847.3 700.5L850.2 702.5zM863.0 704.3L863.5 700.5L866.5 702.5zM879.3 704.3L879.7 700.5L882.7 702.5zM895.5 704.3L896.0 700.5L898.9 702.5zM911.7 704.3L912.2 700.5L915.2 702.5zM928.0 704.3L928.4 700.5L931.4 702.5zM944.2 704.3L944.7 700.5L947.6 702.5zM960.4 704.3L960.9 700.5L963.8 702.5zM976.7 704.3L977.1 700.5L980.1 702.5zM992.9 704.3L993.4 700.5L996.3 702.5zM1009.1 704.3L1009.6 700.5L1012.5 702.5zM1025.1 704.6L1025.6 700.6L1028.7 702.7zM1040.6 705.3L1041.3 700.9L1044.6 703.2zM1055.9 706.2L1056.9 701.2L1060.4 703.9zM1070.9 707.2L1072.2 701.6L1076.1 704.7zM1085.8 708.2L1087.7 702.1L1091.6 705.4zM782.4 689.3L782.6 685.5L785.6 687.4zM798.6 689.3L798.9 685.5L801.8 687.4zM814.8 689.3L815.1 685.5L818.0 687.4zM831.1 689.3L831.3 685.5L834.3 687.4zM847.3 689.3L847.6 685.5L850.5 687.4zM863.5 689.3L863.8 685.5L866.7 687.4zM879.7 689.3L880.0 685.5L883.0 687.4zM896.0 689.3L896.3 685.5L899.2 687.4zM912.2 689.3L912.5 685.5L915.4 687.4zM928.4 689.3L928.7 685.5L931.7 687.4zM944.7 689.3L944.9 685.5L947.9 687.4zM960.9 689.3L961.2 685.5L964.1 687.4zM977.1 689.3L977.4 685.5L980.3 687.4zM993.4 689.3L993.6 685.5L996.6 687.4zM1009.6 689.3L1009.9 685.5L1012.8 687.4zM1025.8 689.3L1026.1 685.5L1029.0 687.4zM1042.0 689.3L1042.3 685.5L1045.3 687.4zM1058.3 689.3L1058.6 685.5L1061.5 687.4zM1074.4 689.4L1074.7 685.6L1077.7 687.5zM1090.1 690.1L1090.5 685.9L1093.7 688.0zM782.8 674.2L782.9 670.6L785.8 672.3zM799.1 674.2L799.1 670.6L802.1 672.3zM815.3 674.2L815.4 670.6L818.3 672.3zM831.5 674.2L831.6 670.6L834.5 672.3zM847.7 674.2L847.8 670.6L850.8 672.3zM864.0 674.2L864.1 670.6L867.0 672.3zM880.2 674.2L880.3 670.6L883.2 672.3zM896.4 674.2L896.5 670.6L899.5 672.3zM912.7 674.2L912.8 670.6L915.7 672.3zM928.9 674.2L929.0 670.6L931.9 672.3zM945.1 674.2L945.2 670.6L948.1 672.3zM961.4 674.2L961.4 670.6L964.4 672.3zM977.6 674.2L977.7 670.6L980.6 672.3zM993.8 674.2L993.9 670.6L996.8 672.3zM1010.0 674.2L1010.1 670.6L1013.1 672.3zM1026.3 674.2L1026.4 670.6L1029.3 672.3zM1042.5 674.2L1042.6 670.6L1045.5 672.3zM1058.7 674.2L1058.8 670.6L1061.8 672.3zM1075.0 674.2L1075.1 670.6L1078.0 672.3zM1091.2 674.2L1091.3 670.6L1094.2 672.3zM783.3 659.1L783.2 655.6L786.1 657.1zM799.5 659.1L799.4 655.6L802.3 657.1zM815.7 659.1L815.6 655.6L818.5 657.1zM831.9 659.1L831.9 655.6L834.8 657.1zM848.2 659.1L848.1 655.6L851.0 657.1zM864.4 659.1L864.3 655.6L867.2 657.1zM880.6 659.1L880.6 655.6L883.5 657.1zM896.9 659.1L896.8 655.6L899.7 657.1zM913.1 659.1L913.0 655.6L915.9 657.1zM929.3 659.1L929.3 655.6L932.2 657.1zM945.6 659.1L945.5 655.6L948.4 657.1zM961.8 659.1L961.7 655.6L964.6 657.1zM978.0 659.1L977.9 655.6L980.8 657.1zM994.2 659.1L994.2 655.6L997.1 657.1zM1010.5 659.1L1010.4 655.6L1013.3 657.1zM1026.7 659.1L1026.6 655.6L1029.5 657.1zM1042.9 659.1L1042.9 655.6L1045.8 657.1zM1059.2 659.1L1059.1 655.6L1062.0 657.1zM1075.4 659.1L1075.3 655.6L1078.2 657.1zM1091.6 659.1L1091.6 655.6L1094.5 657.1zM783.7 643.9L783.4 640.7L786.3 642.0zM799.9 643.9L799.7 640.7L802.5 642.0zM816.1 643.9L815.9 640.7L818.8 642.0zM832.4 643.9L832.1 640.7L835.0 642.0zM848.6 643.9L848.4 640.7L851.2 642.0zM864.8 643.9L864.6 640.7L867.5 642.0zM881.1 643.9L880.8 640.7L883.7 642.0zM897.3 643.9L897.1 640.7L899.9 642.0zM913.5 643.9L913.3 640.7L916.1 642.0zM929.7 643.9L929.5 640.7L932.4 642.0zM946.0 643.9L945.7 640.7L948.6 642.0zM962.2 643.9L962.0 640.7L964.8 642.0zM978.4 643.9L978.2 640.7L981.1 642.0zM994.7 643.9L994.4 640.7L997.3 642.0zM1010.9 643.9L1010.7 640.7L1013.5 642.0zM1027.1 643.9L1026.9 640.7L1029.8 642.0zM1043.4 643.9L1043.1 640.7L1046.0 642.0zM1059.6 643.9L1059.4 640.7L1062.2 642.0zM1075.8 643.9L1075.6 640.7L1078.4 642.0zM1092.0 643.9L1091.8 640.7L1094.7 642.0zM784.1 628.8L783.7 625.7L786.5 626.8zM800.3 628.8L799.9 625.7L802.7 626.8zM816.5 628.8L816.2 625.7L819.0 626.8zM832.8 628.8L832.4 625.7L835.2 626.8zM849.0 628.8L848.6 625.7L851.4 626.8zM865.2 628.8L864.8 625.7L867.7 626.8zM881.5 628.8L881.1 625.7L883.9 626.8zM897.7 628.8L897.3 625.7L900.1 626.8zM913.9 628.8L913.5 625.7L916.3 626.8zM930.1 628.8L929.8 625.7L932.6 626.8zM946.4 628.8L946.0 625.7L948.8 626.8zM962.6 628.8L962.2 625.7L965.0 626.8zM978.8 628.8L978.5 625.7L981.3 626.8zM995.1 628.8L994.7 625.7L997.5 626.8zM1011.3 628.8L1010.9 625.7L1013.7 626.8zM1027.5 628.8L1027.1 625.7L1030.0 626.8zM1043.8 628.8L1043.4 625.7L1046.2 626.8zM1060.0 628.8L1059.6 625.7L1062.4 626.8zM1076.2 628.8L1075.8 625.7L1078.6 626.8zM1092.4 628.8L1092.1 625.7L1094.9 626.8zM784.4 613.6L783.9 610.6L786.7 611.6zM800.7 613.6L800.2 610.6L802.9 611.6zM816.9 613.6L816.4 610.6L819.2 611.6zM833.1 613.6L832.6 610.6L835.4 611.6zM849.4 613.6L848.9 610.6L851.6 611.6zM865.6 613.6L865.1 610.6L867.8 611.6zM881.8 613.6L881.3 610.6L884.1 611.6zM898.1 613.6L897.6 610.6L900.3 611.6zM914.3 613.6L913.8 610.6L916.5 611.6zM930.5 613.6L930.0 610.6L932.8 611.6zM946.7 613.6L946.2 610.6L949.0 611.6zM963.0 613.6L962.5 610.6L965.2 611.6zM979.2 613.6L978.7 610.6L981.5 611.6zM995.4 613.6L994.9 610.6L997.7 611.6zM1011.7 613.6L1011.2 610.6L1013.9 611.6zM1027.9 613.6L1027.4 610.6L1030.1 611.6zM1044.1 613.6L1043.6 610.6L1046.4 611.6zM1060.4 613.6L1059.9 610.6L1062.6 611.6zM1076.6 613.6L1076.1 610.6L1078.8 611.6zM1092.8 613.6L1092.3 610.6L1095.1 611.6zM784.8 598.4L784.2 595.6L786.9 596.4zM801.0 598.4L800.4 595.6L803.1 596.4zM817.3 598.4L816.6 595.6L819.3 596.4zM833.5 598.4L832.9 595.6L835.6 596.4zM849.7 598.4L849.1 595.6L851.8 596.4zM866.0 598.4L865.3 595.6L868.0 596.4zM882.2 598.4L881.6 595.6L884.3 596.4zM898.4 598.4L897.8 595.6L900.5 596.4zM914.6 598.4L914.0 595.6L916.7 596.4zM930.9 598.4L930.3 595.6L932.9 596.4zM947.1 598.4L946.5 595.6L949.2 596.4zM963.3 598.4L962.7 595.6L965.4 596.4zM979.6 598.4L978.9 595.6L981.6 596.4zM995.8 598.4L995.2 595.6L997.9 596.4zM1012.0 598.4L1011.4 595.6L1014.1 596.4zM1028.3 598.4L1027.6 595.6L1030.3 596.4zM1044.5 598.4L1043.9 595.6L1046.6 596.4zM1060.7 598.4L1060.1 595.6L1062.8 596.4zM1076.9 598.4L1076.3 595.6L1079.0 596.4zM1093.2 598.4L1092.6 595.6L1095.2 596.4zM785.1 583.2L784.4 580.6L787.0 581.3zM801.4 583.2L800.6 580.6L803.3 581.3zM817.6 583.2L816.9 580.6L819.5 581.3zM833.8 583.2L833.1 580.6L835.7 581.3zM850.0 583.2L849.3 580.6L851.9 581.3zM866.3 583.2L865.6 580.6L868.2 581.3zM882.5 583.2L881.8 580.6L884.4 581.3zM898.7 583.2L898.0 580.6L900.6 581.3zM915.0 583.2L914.2 580.6L916.9 581.3zM931.2 583.2L930.5 580.6L933.1 581.3zM947.4 583.2L946.7 580.6L949.3 581.3zM963.7 583.2L962.9 580.6L965.6 581.3zM979.9 583.2L979.2 580.6L981.8 581.3zM996.1 583.2L995.4 580.6L998.0 581.3zM1012.3 583.2L1011.6 580.6L1014.2 581.3zM1028.6 583.2L1027.9 580.6L1030.5 581.3zM1044.8 583.2L1044.1 580.6L1046.7 581.3zM1061.0 583.2L1060.3 580.6L1062.9 581.3zM1077.3 583.2L1076.5 580.6L1079.2 581.3zM1093.5 583.2L1092.8 580.6L1095.4 581.3z" fill="#111"/>
<rect x="832.4" y="564.9" width="7.5" height="12" fill="#fff"/><text x="836.2" y="574.5" text-anchor="middle" font-family="Liberation Sans" font-weight="bold" font-size="10" fill="#111">9</text>
<rect x="919.7" y="575.6" width="7.5" height="12" fill="#fff"/><text x="923.4" y="585.2" text-anchor="middle" font-family="Liberation Sans" font-weight="bold" font-size="10" fill="#111">9</text>
<rect x="805.6" y="597.2" width="7.5" height="12" fill="#fff"/><text x="809.3" y="606.8" text-anchor="middle" font-family="Liberation Sans" font-weight="bold" font-size="10" fill="#111">9</text>
<rect x="1000.6" y="625.3" width="7.5" height="12" fill="#fff"/><text x="1004.3" y="634.9" text-anchor="middle" font-family="Liberation Sans" font-weight="bold" font-size="10" fill="#111">9</text>
<rect x="778.2" y="675.2" width="13.0" height="12" fill="#fff"/><text x="784.7" y="684.8" text-anchor="middle" font-family="Liberation Sans" font-weight="bold" font-size="10" fill="#111">10</text>
<rect x="1065.7" y="691.1" width="13.0" height="12" fill="#fff"/><text x="1072.2" y="700.7" text-anchor="middle" font-family="Liberation Sans" font-weight="bold" font-size="10" fill="#111">10</text>
<rect x="778.2" y="701.8" width="13.0" height="12" fill="#fff"/><text x="784.7" y="711.4" text-anchor="middle" font-family="Liberation Sans" font-weight="bold" font-size="10" fill="#111">11</text>
<rect x="1055.6" y="714.2" width="13.0" height="12" fill="#fff"/><text x="1062.1" y="723.8" text-anchor="middle" font-family="Liberation Sans" font-weight="bold" font-size="10" fill="#111">11</text>
<rect x="830.8" y="776.4" width="13.0" height="12" fill="#fff"/><text x="837.3" y="786.0" text-anchor="middle" font-family="Liberation Sans" font-weight="bold" font-size="10" fill="#111">12</text>
<rect x="890.9" y="789.4" width="13.0" height="12" fill="#fff"/><text x="897.4" y="799.0" text-anchor="middle" font-family="Liberation Sans" font-weight="bold" font-size="10" fill="#111">13</text>
</g>
<rect x="770.3" y="562.8" width="324.6" height="239.6" fill="none" stroke="#3a3a3a" stroke-width="1"/>
<path d="M835.2 802.4v-4M835.2 562.8v4M900.1 802.4v-4M900.1 562.8v4M965.1 802.4v-4M965.1 562.8v4M1030.0 802.4v-4M1030.0 562.8v4M770.3 622.7h4M1094.9 622.7h-4M770.3 682.6h4M1094.9 682.6h-4M770.3 742.5h4M1094.9 742.5h-4" stroke="#3a3a3a" stroke-width="1"/>
<text x="1055.3" y="604.8" font-family="Liberation Serif" font-size="23" fill="#111">(i)</text>
<rect x="1054.3" y="750.3" width="33" height="23.5" fill="#fff"/>
<path d="M1066.2 757.3h4.2" stroke="#000" stroke-width="2.2"/><path d="M1073.4 757.3l-4.5 -2.6v5.2z" fill="#000"/>
<text x="1057.3" y="770.3" font-family="Liberation Serif" font-weight="bold" font-size="11" fill="#111">4m/s</text>
<defs><linearGradient id="cb" x1="0" y1="1" x2="0" y2="0">
<stop offset="0.0000" stop-color="#000080"/>
<stop offset="0.0156" stop-color="#00008f"/>
<stop offset="0.0312" stop-color="#00009f"/>
<stop offset="0.0469" stop-color="#0000af"/>
<stop offset="0.0625" stop-color="#0000bf"/>
<stop offset="0.0781" stop-color="#0000cf"/>
<stop offset="0.0938" stop-color="#0000df"/>
<stop offset="0.1094" stop-color="#0000ef"/>
<stop offset="0.1250" stop-color="#0000ff"/>
<stop offset="0.1406" stop-color="#0010ff"/>
<stop offset="0.1562" stop-color="#0020ff"/>
<stop offset="0.1719" stop-color="#0030ff"/>
<stop offset="0.1875" stop-color="#0040ff"/>
<stop offset="0.2031" stop-color="#0050ff"/>
<stop offset="0.2188" stop-color="#0060ff"/>
<stop offset="0.2344" stop-color="#0070ff"/>
<stop offset="0.2500" stop-color="#0080ff"/>
<stop offset="0.2656" stop-color="#008fff"/>
<stop offset="0.2812" stop-color="#009fff"/>
<stop offset="0.2969" stop-color="#00afff"/>
<stop offset="0.3125" stop-color="#00bfff"/>
<stop offset="0.3281" stop-color="#00cfff"/>
<stop offset="0.3438" stop-color="#00dfff"/>
<stop offset="0.3594" stop-color="#00efff"/>
<stop offset="0.3750" stop-color="#00ffff"/>
<stop offset="0.3906" stop-color="#10ffef"/>
<stop offset="0.4062" stop-color="#20ffdf"/>
<stop offset="0.4219" stop-color="#30ffcf"/>
<stop offset="0.4375" stop-color="#40ffbf"/>
<stop offset="0.4531" stop-color="#50ffaf"/>
<stop offset="0.4688" stop-color="#60ff9f"/>
<stop offset="0.4844" stop-color="#70ff8f"/>
<stop offset="0.5000" stop-color="#80ff80"/>
<stop offset="0.5156" stop-color="#8fff70"/>
<stop offset="0.5312" stop-color="#9fff60"/>
<stop offset="0.5469" stop-color="#afff50"/>
<stop offset="0.5625" stop-color="#bfff40"/>
<stop offset="0.5781" stop-color="#cfff30"/>
<stop offset="0.5938" stop-color="#dfff20"/>
<stop offset="0.6094" stop-color="#efff10"/>
<stop offset="0.6250" stop-color="#ffff00"/>
<stop offset="0.6406" stop-color="#ffef00"/>
<stop offset="0.6562" stop-color="#ffdf00"/>
<stop offset="0.6719" stop-color="#ffcf00"/>
<stop offset="0.6875" stop-color="#ffbf00"/>
<stop offset="0.7031" stop-color="#ffaf00"/>
<stop offset="0.7188" stop-color="#ff9f00"/>
<stop offset="0.7344" stop-color="#ff8f00"/>
<stop offset="0.7500" stop-color="#ff8000"/>
<stop offset="0.7656" stop-color="#ff7000"/>
<stop offset="0.7812" stop-color="#ff6000"/>
<stop offset="0.7969" stop-color="#ff5000"/>
<stop offset="0.8125" stop-color="#ff4000"/>
<stop offset="0.8281" stop-color="#ff3000"/>
<stop offset="0.8438" stop-color="#ff2000"/>
<stop offset="0.8594" stop-color="#ff1000"/>
<stop offset="0.8750" stop-color="#ff0000"/>
<stop offset="0.8906" stop-color="#ef0000"/>
<stop offset="0.9062" stop-color="#df0000"/>
<stop offset="0.9219" stop-color="#cf0000"/>
<stop offset="0.9375" stop-color="#bf0000"/>
<stop offset="0.9531" stop-color="#af0000"/>
<stop offset="0.9688" stop-color="#9f0000"/>
<stop offset="0.9844" stop-color="#8f0000"/>
<stop offset="1.0000" stop-color="#800000"/>
</linearGradient></defs>
<rect x="1117.0" y="36.0" width="29.6" height="757.0" fill="url(#cb)" stroke="#333" stroke-width="0.8"/>
<path d="M1146.6 177.9h-4M1146.6 319.9h-4M1146.6 461.8h-4M1146.6 603.8h-4M1146.6 745.7h-4" stroke="#333" stroke-width="1"/>
</svg>
<div class="t" style="right:1144.0px;top:6.7px">25°</div>
<div class="t" style="right:1144.0px;top:66.6px">24°</div>
<div class="t" style="right:1144.0px;top:126.5px">23°</div>
<div class="t" style="right:1144.0px;top:186.4px">22°</div>
<div class="t" style="right:1144.0px;top:246.3px">21°</div>
<div class="t" style="left:19.0px;top:259.5px;width:40px;text-align:center;font-size:17px">111°</div>
<div class="t" style="left:83.9px;top:259.5px;width:40px;text-align:center;font-size:17px">112°</div>
<div class="t" style="left:148.8px;top:259.5px;width:40px;text-align:center;font-size:17px">113°</div>
<div class="t" style="left:213.8px;top:259.5px;width:40px;text-align:center;font-size:17px">114°</div>
<div class="t" style="left:278.7px;top:259.5px;width:40px;text-align:center;font-size:17px">115°</div>
<div class="t" style="left:343.6px;top:259.5px;width:40px;text-align:center;font-size:17px">116°</div>
<div class="t" style="right:778.0px;top:6.7px">25°</div>
<div class="t" style="right:778.0px;top:66.6px">24°</div>
<div class="t" style="right:778.0px;top:126.5px">23°</div>
<div class="t" style="right:778.0px;top:186.4px">22°</div>
<div class="t" style="right:778.0px;top:246.3px">21°</div>
<div class="t" style="left:385.0px;top:259.5px;width:40px;text-align:center;font-size:17px">111°</div>
<div class="t" style="left:449.9px;top:259.5px;width:40px;text-align:center;font-size:17px">112°</div>
<div class="t" style="left:514.8px;top:259.5px;width:40px;text-align:center;font-size:17px">113°</div>
<div class="t" style="left:579.8px;top:259.5px;width:40px;text-align:center;font-size:17px">114°</div>
<div class="t" style="left:644.7px;top:259.5px;width:40px;text-align:center;font-size:17px">115°</div>
<div class="t" style="left:709.6px;top:259.5px;width:40px;text-align:center;font-size:17px">116°</div>
<div class="t" style="right:412.0px;top:6.7px">25°</div>
<div class="t" style="right:412.0px;top:66.6px">24°</div>
<div class="t" style="right:412.0px;top:126.5px">23°</div>
<div class="t" style="right:412.0px;top:186.4px">22°</div>
<div class="t" style="right:412.0px;top:246.3px">21°</div>
<div class="t" style="left:751.0px;top:259.5px;width:40px;text-align:center;font-size:17px">111°</div>
<div class="t" style="left:815.9px;top:259.5px;width:40px;text-align:center;font-size:17px">112°</div>
<div class="t" style="left:880.8px;top:259.5px;width:40px;text-align:center;font-size:17px">113°</div>
<div class="t" style="left:945.8px;top:259.5px;width:40px;text-align:center;font-size:17px">114°</div>
<div class="t" style="left:1010.7px;top:259.5px;width:40px;text-align:center;font-size:17px">115°</div>
<div class="t" style="left:1075.6px;top:259.5px;width:40px;text-align:center;font-size:17px">116°</div>
<div class="t" style="right:1144.0px;top:281.1px">25°</div>
<div class="t" style="right:1144.0px;top:341.0px">24°</div>
<div class="t" style="right:1144.0px;top:400.9px">23°</div>
<div class="t" style="right:1144.0px;top:460.8px">22°</div>
<div class="t" style="right:1144.0px;top:520.7px">21°</div>
<div class="t" style="left:19.0px;top:533.9px;width:40px;text-align:center;font-size:17px">111°</div>
<div class="t" style="left:83.9px;top:533.9px;width:40px;text-align:center;font-size:17px">112°</div>
<div class="t" style="left:148.8px;top:533.9px;width:40px;text-align:center;font-size:17px">113°</div>
<div class="t" style="left:213.8px;top:533.9px;width:40px;text-align:center;font-size:17px">114°</div>
<div class="t" style="left:278.7px;top:533.9px;width:40px;text-align:center;font-size:17px">115°</div>
<div class="t" style="left:343.6px;top:533.9px;width:40px;text-align:center;font-size:17px">116°</div>
<div class="t" style="right:778.0px;top:281.1px">25°</div>
<div class="t" style="right:778.0px;top:341.0px">24°</div>
<div class="t" style="right:778.0px;top:400.9px">23°</div>
<div class="t" style="right:778.0px;top:460.8px">22°</div>
<div class="t" style="right:778.0px;top:520.7px">21°</div>
<div class="t" style="left:385.0px;top:533.9px;width:40px;text-align:center;font-size:17px">111°</div>
<div class="t" style="left:449.9px;top:533.9px;width:40px;text-align:center;font-size:17px">112°</div>
<div class="t" style="left:514.8px;top:533.9px;width:40px;text-align:center;font-size:17px">113°</div>
<div class="t" style="left:579.8px;top:533.9px;width:40px;text-align:center;font-size:17px">114°</div>
<div class="t" style="left:644.7px;top:533.9px;width:40px;text-align:center;font-size:17px">115°</div>
<div class="t" style="left:709.6px;top:533.9px;width:40px;text-align:center;font-size:17px">116°</div>
<div class="t" style="right:412.0px;top:281.1px">25°</div>
<div class="t" style="right:412.0px;top:341.0px">24°</div>
<div class="t" style="right:412.0px;top:400.9px">23°</div>
<div class="t" style="right:412.0px;top:460.8px">22°</div>
<div class="t" style="right:412.0px;top:520.7px">21°</div>
<div class="t" style="left:751.0px;top:533.9px;width:40px;text-align:center;font-size:17px">111°</div>
<div class="t" style="left:815.9px;top:533.9px;width:40px;text-align:center;font-size:17px">112°</div>
<div class="t" style="left:880.8px;top:533.9px;width:40px;text-align:center;font-size:17px">113°</div>
<div class="t" style="left:945.8px;top:533.9px;width:40px;text-align:center;font-size:17px">114°</div>
<div class="t" style="left:1010.7px;top:533.9px;width:40px;text-align:center;font-size:17px">115°</div>
<div class="t" style="left:1075.6px;top:533.9px;width:40px;text-align:center;font-size:17px">116°</div>
<div class="t" style="right:1144.0px;top:555.5px">25°</div>
<div class="t" style="right:1144.0px;top:615.4px">24°</div>
<div class="t" style="right:1144.0px;top:675.3px">23°</div>
<div class="t" style="right:1144.0px;top:735.2px">22°</div>
<div class="t" style="right:1144.0px;top:795.1px">21°</div>
<div class="t" style="left:19.0px;top:808.3px;width:40px;text-align:center;font-size:17px">111°</div>
<div class="t" style="left:83.9px;top:808.3px;width:40px;text-align:center;font-size:17px">112°</div>
<div class="t" style="left:148.8px;top:808.3px;width:40px;text-align:center;font-size:17px">113°</div>
<div class="t" style="left:213.8px;top:808.3px;width:40px;text-align:center;font-size:17px">114°</div>
<div class="t" style="left:278.7px;top:808.3px;width:40px;text-align:center;font-size:17px">115°</div>
<div class="t" style="left:343.6px;top:808.3px;width:40px;text-align:center;font-size:17px">116°</div>
<div class="t" style="right:778.0px;top:555.5px">25°</div>
<div class="t" style="right:778.0px;top:615.4px">24°</div>
<div class="t" style="right:778.0px;top:675.3px">23°</div>
<div class="t" style="right:778.0px;top:735.2px">22°</div>
<div class="t" style="right:778.0px;top:795.1px">21°</div>
<div class="t" style="left:385.0px;top:808.3px;width:40px;text-align:center;font-size:17px">111°</div>
<div class="t" style="left:449.9px;top:808.3px;width:40px;text-align:center;font-size:17px">112°</div>
<div class="t" style="left:514.8px;top:808.3px;width:40px;text-align:center;font-size:17px">113°</div>
<div class="t" style="left:579.8px;top:808.3px;width:40px;text-align:center;font-size:17px">114°</div>
<div class="t" style="left:644.7px;top:808.3px;width:40px;text-align:center;font-size:17px">115°</div>
<div class="t" style="left:709.6px;top:808.3px;width:40px;text-align:center;font-size:17px">116°</div>
<div class="t" style="right:412.0px;top:555.5px">25°</div>
<div class="t" style="right:412.0px;top:615.4px">24°</div>
<div class="t" style="right:412.0px;top:675.3px">23°</div>
<div class="t" style="right:412.0px;top:735.2px">22°</div>
<div class="t" style="right:412.0px;top:795.1px">21°</div>
<div class="t" style="left:751.0px;top:808.3px;width:40px;text-align:center;font-size:17px">111°</div>
<div class="t" style="left:815.9px;top:808.3px;width:40px;text-align:center;font-size:17px">112°</div>
<div class="t" style="left:880.8px;top:808.3px;width:40px;text-align:center;font-size:17px">113°</div>
<div class="t" style="left:945.8px;top:808.3px;width:40px;text-align:center;font-size:17px">114°</div>
<div class="t" style="left:1010.7px;top:808.3px;width:40px;text-align:center;font-size:17px">115°</div>
<div class="t" style="left:1075.6px;top:808.3px;width:40px;text-align:center;font-size:17px">116°</div>
<div class="t" style="left:1111px;top:12.8px;font-size:17px">T(°C)</div>
<div class="t" style="left:1155px;top:29.0px">25</div>
<div class="t" style="left:1155px;top:170.9px">22</div>
<div class="t" style="left:1155px;top:312.9px">19</div>
<div class="t" style="left:1155px;top:454.8px">16</div>
<div class="t" style="left:1155px;top:596.8px">13</div>
<div class="t" style="left:1155px;top:738.7px">10</div>
</body></html>
